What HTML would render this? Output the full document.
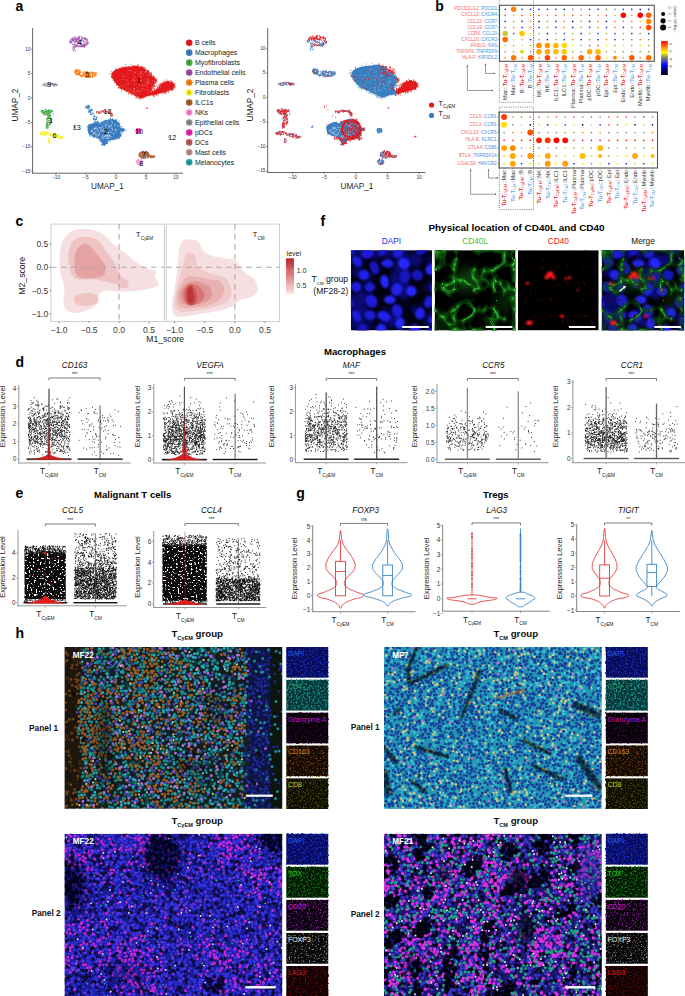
<!DOCTYPE html>
<html><head><meta charset="utf-8"><title>Figure</title>
<style>html,body{margin:0;padding:0;background:#fff;}svg{display:block;}</style></head>
<body><svg width="685" height="996" viewBox="0 0 685 996" font-family='"Liberation Sans", sans-serif'>
<defs><filter id="bl1" x="-50%" y="-50%" width="200%" height="200%"><feGaussianBlur stdDeviation="1.2"/></filter>
<filter id="sf1" x="0" y="0" width="1" height="1" color-interpolation-filters="sRGB"><feTurbulence type="fractalNoise" baseFrequency="0.05" numOctaves="2" seed="13"/><feColorMatrix type="matrix" values="0 0 0 0 0.04 0 0 0 0 0.04 0 0 0 0 0.44 5 0 0 0 -2.19"/></filter>
<filter id="sf2" x="0" y="0" width="1" height="1" color-interpolation-filters="sRGB"><feTurbulence type="turbulence" baseFrequency="0.05" numOctaves="2" seed="23"/><feColorMatrix type="matrix" values="0 0 0 0 0.04 0 0 0 0 0.26 0 0 0 0 0.04 -6 0 0 0 1.74"/></filter>
<filter id="sf3" x="0" y="0" width="1" height="1" color-interpolation-filters="sRGB"><feTurbulence type="turbulence" baseFrequency="0.05" numOctaves="2" seed="23"/><feColorMatrix type="matrix" values="0 0 0 0 0.12 0 0 0 0 0.58 0 0 0 0 0.12 -10 0 0 0 1.3"/></filter>
<filter id="sf4" x="0" y="0" width="1" height="1" color-interpolation-filters="sRGB"><feTurbulence type="turbulence" baseFrequency="0.05" numOctaves="2" seed="23"/><feColorMatrix type="matrix" values="0 0 0 0 0.23 0 0 0 0 0.82 0 0 0 0 0.23 -24 0 0 0 1.2"/></filter>
<filter id="sf5" x="0" y="0" width="1" height="1" color-interpolation-filters="sRGB"><feTurbulence type="turbulence" baseFrequency="0.06" numOctaves="2" seed="33"/><feColorMatrix type="matrix" values="0 0 0 0 0.23 0 0 0 0 0.02 0 0 0 0 0.02 -16 0 0 0 0.96"/></filter>
<filter id="sf6" x="0" y="0" width="1" height="1" color-interpolation-filters="sRGB"><feTurbulence type="fractalNoise" baseFrequency="0.05" numOctaves="2" seed="13"/><feColorMatrix type="matrix" values="0 0 0 0 0.04 0 0 0 0 0.04 0 0 0 0 0.44 5 0 0 0 -2.19"/></filter>
<filter id="sf7" x="0" y="0" width="1" height="1" color-interpolation-filters="sRGB"><feTurbulence type="turbulence" baseFrequency="0.05" numOctaves="2" seed="23"/><feColorMatrix type="matrix" values="0 0 0 0 0.04 0 0 0 0 0.26 0 0 0 0 0.04 -6 0 0 0 1.74"/></filter>
<filter id="sf8" x="0" y="0" width="1" height="1" color-interpolation-filters="sRGB"><feTurbulence type="turbulence" baseFrequency="0.05" numOctaves="2" seed="23"/><feColorMatrix type="matrix" values="0 0 0 0 0.12 0 0 0 0 0.58 0 0 0 0 0.12 -10 0 0 0 1.3"/></filter>
<filter id="sf9" x="0" y="0" width="1" height="1" color-interpolation-filters="sRGB"><feTurbulence type="turbulence" baseFrequency="0.05" numOctaves="2" seed="23"/><feColorMatrix type="matrix" values="0 0 0 0 0.23 0 0 0 0 0.82 0 0 0 0 0.23 -24 0 0 0 1.2"/></filter>
<filter id="sf10" x="0" y="0" width="1" height="1" color-interpolation-filters="sRGB"><feTurbulence type="turbulence" baseFrequency="0.06" numOctaves="2" seed="33"/><feColorMatrix type="matrix" values="0 0 0 0 0.23 0 0 0 0 0.02 0 0 0 0 0.02 -16 0 0 0 0.96"/></filter>
<filter id="sf11" x="0" y="0" width="1" height="1" color-interpolation-filters="sRGB"><feTurbulence type="fractalNoise" baseFrequency="0.55" numOctaves="1" seed="40"/><feColorMatrix type="matrix" values="0 0 0 0 1 0 0 0 0 1 0 0 0 0 1 14 0 0 0 -8.41"/></filter>
<filter id="sf12" x="0" y="0" width="1" height="1" color-interpolation-filters="sRGB"><feTurbulence type="fractalNoise" baseFrequency="0.6" numOctaves="1" seed="50"/><feColorMatrix type="matrix" values="0 0 0 0 0.88 0 0 0 0 0.06 0 0 0 0 0.06 14 0 0 0 -9.76"/></filter>
<filter id="sf13" x="0" y="0" width="1" height="1" color-interpolation-filters="sRGB"><feTurbulence type="fractalNoise" baseFrequency="0.55" numOctaves="1" seed="43"/><feColorMatrix type="matrix" values="0 0 0 0 1 0 0 0 0 1 0 0 0 0 1 14 0 0 0 -8.41"/></filter>
<filter id="sf14" x="0" y="0" width="1" height="1" color-interpolation-filters="sRGB"><feTurbulence type="fractalNoise" baseFrequency="0.6" numOctaves="1" seed="53"/><feColorMatrix type="matrix" values="0 0 0 0 0.88 0 0 0 0 0.06 0 0 0 0 0.06 14 0 0 0 -10.45"/></filter>
<filter id="soft" x="0" y="0" width="1" height="1"><feGaussianBlur stdDeviation="0.45"/></filter>
<filter id="bl3" x="-50%" y="-50%" width="200%" height="200%"><feGaussianBlur stdDeviation="3"/></filter>
<filter id="bl6" x="-50%" y="-50%" width="200%" height="200%"><feGaussianBlur stdDeviation="7"/></filter>
<filter id="bl1h" x="-50%" y="-50%" width="200%" height="200%"><feGaussianBlur stdDeviation="0.9"/></filter>
<filter id="sf15" x="0" y="0" width="1" height="1" color-interpolation-filters="sRGB"><feTurbulence type="fractalNoise" baseFrequency="0.15" numOctaves="2" seed="101"/><feColorMatrix type="matrix" values="0 0 0 0 0.06 0 0 0 0 0.31 0 0 0 0 0.33 6 0 0 0 -3.28"/></filter>
<filter id="sf16" x="0" y="0" width="1" height="1" color-interpolation-filters="sRGB"><feTurbulence type="turbulence" baseFrequency="0.07" numOctaves="3" seed="110"/><feColorMatrix type="matrix" values="0 0 0 0 0.04 0 0 0 0 0.04 0 0 0 0 0.02 10 0 0 0 -6.54"/></filter>
<filter id="sf17" x="0" y="0" width="1" height="1" color-interpolation-filters="sRGB"><feTurbulence type="fractalNoise" baseFrequency="0.3" numOctaves="2" seed="202"/><feColorMatrix type="matrix" values="0 0 0 0 0.2 0 0 0 0 0.71 0 0 0 0 0.78 7 0 0 0 -3.94"/></filter>
<filter id="sf18" x="0" y="0" width="1" height="1" color-interpolation-filters="sRGB"><feTurbulence type="fractalNoise" baseFrequency="0.2" numOctaves="2" seed="302"/><feColorMatrix type="matrix" values="0 0 0 0 0.04 0 0 0 0 0.03 0 0 0 0 0.19 7 0 0 0 -4.07"/></filter>
<filter id="sf19" x="0" y="0" width="1" height="1" color-interpolation-filters="sRGB"><feTurbulence type="fractalNoise" baseFrequency="0.18" numOctaves="2" seed="404"/><feColorMatrix type="matrix" values="0 0 0 0 0.02 0 0 0 0 0.02 0 0 0 0 0.05 8 0 0 0 -4.81"/></filter>
<filter id="sf20" x="0" y="0" width="1" height="1" color-interpolation-filters="sRGB"><feTurbulence type="fractalNoise" baseFrequency="0.55" numOctaves="2" seed="500"/><feColorMatrix type="matrix" values="0 0 0 0 0.09 0 0 0 0 0.16 0 0 0 0 0.69 6 0 0 0 -3.09"/></filter>
<filter id="sf21" x="0" y="0" width="1" height="1" color-interpolation-filters="sRGB"><feTurbulence type="fractalNoise" baseFrequency="0.55" numOctaves="2" seed="501"/><feColorMatrix type="matrix" values="0 0 0 0 0.08 0 0 0 0 0.56 0 0 0 0 0.56 6 0 0 0 -3"/></filter>
<filter id="sf22" x="0" y="0" width="1" height="1" color-interpolation-filters="sRGB"><feTurbulence type="fractalNoise" baseFrequency="0.6" numOctaves="2" seed="502"/><feColorMatrix type="matrix" values="0 0 0 0 0.23 0 0 0 0 0.04 0 0 0 0 0.27 6 0 0 0 -3.38"/></filter>
<filter id="sf23" x="0" y="0" width="1" height="1" color-interpolation-filters="sRGB"><feTurbulence type="fractalNoise" baseFrequency="0.6" numOctaves="2" seed="503"/><feColorMatrix type="matrix" values="0 0 0 0 0.42 0 0 0 0 0.23 0 0 0 0 0.05 6 0 0 0 -3.18"/></filter>
<filter id="sf24" x="0" y="0" width="1" height="1" color-interpolation-filters="sRGB"><feTurbulence type="fractalNoise" baseFrequency="0.6" numOctaves="2" seed="504"/><feColorMatrix type="matrix" values="0 0 0 0 0.29 0 0 0 0 0.29 0 0 0 0 0.05 6 0 0 0 -3.18"/></filter>
<filter id="sf25" x="0" y="0" width="1" height="1" color-interpolation-filters="sRGB"><feTurbulence type="fractalNoise" baseFrequency="0.55" numOctaves="2" seed="520"/><feColorMatrix type="matrix" values="0 0 0 0 0.09 0 0 0 0 0.16 0 0 0 0 0.69 6 0 0 0 -3.09"/></filter>
<filter id="sf26" x="0" y="0" width="1" height="1" color-interpolation-filters="sRGB"><feTurbulence type="fractalNoise" baseFrequency="0.55" numOctaves="2" seed="521"/><feColorMatrix type="matrix" values="0 0 0 0 0.08 0 0 0 0 0.56 0 0 0 0 0.56 6 0 0 0 -3"/></filter>
<filter id="sf27" x="0" y="0" width="1" height="1" color-interpolation-filters="sRGB"><feTurbulence type="fractalNoise" baseFrequency="0.6" numOctaves="2" seed="522"/><feColorMatrix type="matrix" values="0 0 0 0 0.23 0 0 0 0 0.04 0 0 0 0 0.27 6 0 0 0 -3.38"/></filter>
<filter id="sf28" x="0" y="0" width="1" height="1" color-interpolation-filters="sRGB"><feTurbulence type="fractalNoise" baseFrequency="0.6" numOctaves="2" seed="523"/><feColorMatrix type="matrix" values="0 0 0 0 0.42 0 0 0 0 0.23 0 0 0 0 0.05 6 0 0 0 -3.18"/></filter>
<filter id="sf29" x="0" y="0" width="1" height="1" color-interpolation-filters="sRGB"><feTurbulence type="fractalNoise" baseFrequency="0.6" numOctaves="2" seed="524"/><feColorMatrix type="matrix" values="0 0 0 0 0.29 0 0 0 0 0.29 0 0 0 0 0.05 6 0 0 0 -3.18"/></filter>
<filter id="sf30" x="0" y="0" width="1" height="1" color-interpolation-filters="sRGB"><feTurbulence type="fractalNoise" baseFrequency="0.55" numOctaves="2" seed="540"/><feColorMatrix type="matrix" values="0 0 0 0 0.1 0 0 0 0 0.16 0 0 0 0 0.75 6 0 0 0 -3.09"/></filter>
<filter id="sf31" x="0" y="0" width="1" height="1" color-interpolation-filters="sRGB"><feTurbulence type="fractalNoise" baseFrequency="0.55" numOctaves="2" seed="541"/><feColorMatrix type="matrix" values="0 0 0 0 0.07 0 0 0 0 0.44 0 0 0 0 0.07 6 0 0 0 -3.09"/></filter>
<filter id="sf32" x="0" y="0" width="1" height="1" color-interpolation-filters="sRGB"><feTurbulence type="fractalNoise" baseFrequency="0.55" numOctaves="2" seed="542"/><feColorMatrix type="matrix" values="0 0 0 0 0.48 0 0 0 0 0.09 0 0 0 0 0.55 6 0 0 0 -3.28"/></filter>
<filter id="sf33" x="0" y="0" width="1" height="1" color-interpolation-filters="sRGB"><feTurbulence type="fractalNoise" baseFrequency="0.65" numOctaves="2" seed="543"/><feColorMatrix type="matrix" values="0 0 0 0 0.48 0 0 0 0 0.48 0 0 0 0 0.48 6 0 0 0 -3.38"/></filter>
<filter id="sf34" x="0" y="0" width="1" height="1" color-interpolation-filters="sRGB"><feTurbulence type="fractalNoise" baseFrequency="0.6" numOctaves="2" seed="544"/><feColorMatrix type="matrix" values="0 0 0 0 0.35 0 0 0 0 0.04 0 0 0 0 0.04 6 0 0 0 -3.18"/></filter>
<filter id="sf35" x="0" y="0" width="1" height="1" color-interpolation-filters="sRGB"><feTurbulence type="fractalNoise" baseFrequency="0.55" numOctaves="2" seed="560"/><feColorMatrix type="matrix" values="0 0 0 0 0.1 0 0 0 0 0.16 0 0 0 0 0.75 6 0 0 0 -3.09"/></filter>
<filter id="sf36" x="0" y="0" width="1" height="1" color-interpolation-filters="sRGB"><feTurbulence type="fractalNoise" baseFrequency="0.55" numOctaves="2" seed="561"/><feColorMatrix type="matrix" values="0 0 0 0 0.07 0 0 0 0 0.44 0 0 0 0 0.07 6 0 0 0 -3.09"/></filter>
<filter id="sf37" x="0" y="0" width="1" height="1" color-interpolation-filters="sRGB"><feTurbulence type="fractalNoise" baseFrequency="0.55" numOctaves="2" seed="562"/><feColorMatrix type="matrix" values="0 0 0 0 0.48 0 0 0 0 0.09 0 0 0 0 0.55 6 0 0 0 -3.28"/></filter>
<filter id="sf38" x="0" y="0" width="1" height="1" color-interpolation-filters="sRGB"><feTurbulence type="fractalNoise" baseFrequency="0.65" numOctaves="2" seed="563"/><feColorMatrix type="matrix" values="0 0 0 0 0.48 0 0 0 0 0.48 0 0 0 0 0.48 6 0 0 0 -3.38"/></filter>
<filter id="sf39" x="0" y="0" width="1" height="1" color-interpolation-filters="sRGB"><feTurbulence type="fractalNoise" baseFrequency="0.6" numOctaves="2" seed="564"/><feColorMatrix type="matrix" values="0 0 0 0 0.35 0 0 0 0 0.04 0 0 0 0 0.04 6 0 0 0 -3.18"/></filter></defs>
<g id="panelA">
<text x="15.5" y="10.6" font-size="14" font-weight="bold">a</text>
<g stroke="#555" stroke-width="0.9">
<line x1="32.6" y1="28" x2="32.6" y2="173.65" stroke="#555" stroke-width="0.9" />
<line x1="32.15" y1="173.2" x2="182.8" y2="173.2" stroke="#555" stroke-width="0.9" />
<line x1="31" y1="49.3" x2="32.6" y2="49.3" stroke="#555" stroke-width="0.7" />
<line x1="31" y1="73.65" x2="32.6" y2="73.65" stroke="#555" stroke-width="0.7" />
<line x1="31" y1="98" x2="32.6" y2="98" stroke="#555" stroke-width="0.7" />
<line x1="31" y1="122.35" x2="32.6" y2="122.35" stroke="#555" stroke-width="0.7" />
<line x1="31" y1="146.7" x2="32.6" y2="146.7" stroke="#555" stroke-width="0.7" />
<line x1="31" y1="171.05" x2="32.6" y2="171.05" stroke="#555" stroke-width="0.7" />
<line x1="56" y1="173.2" x2="56" y2="174.8" stroke="#555" stroke-width="0.7" />
<line x1="86" y1="173.2" x2="86" y2="174.8" stroke="#555" stroke-width="0.7" />
<line x1="116" y1="173.2" x2="116" y2="174.8" stroke="#555" stroke-width="0.7" />
<line x1="146" y1="173.2" x2="146" y2="174.8" stroke="#555" stroke-width="0.7" />
<line x1="176" y1="173.2" x2="176" y2="174.8" stroke="#555" stroke-width="0.7" />
</g>
<text x="30.4" y="50.8" font-size="4.8" text-anchor="end" fill="#333">10</text>
<text x="30.4" y="75.15" font-size="4.8" text-anchor="end" fill="#333">5</text>
<text x="30.4" y="99.5" font-size="4.8" text-anchor="end" fill="#333">0</text>
<text x="30.4" y="123.85" font-size="4.8" text-anchor="end" fill="#333">−5</text>
<text x="30.4" y="148.2" font-size="4.8" text-anchor="end" fill="#333">−10</text>
<text x="30.4" y="172.55" font-size="4.8" text-anchor="end" fill="#333">−15</text>
<text x="56" y="179.4" font-size="4.8" text-anchor="middle" fill="#333">−10</text>
<text x="86" y="179.4" font-size="4.8" text-anchor="middle" fill="#333">−5</text>
<text x="116" y="179.4" font-size="4.8" text-anchor="middle" fill="#333">0</text>
<text x="146" y="179.4" font-size="4.8" text-anchor="middle" fill="#333">5</text>
<text x="176" y="179.4" font-size="4.8" text-anchor="middle" fill="#333">10</text>
<polygon fill="#e31a1c" points="111.8,73.6 116.1,69.3 124.8,66.8 137.2,65.9 143.4,67.4 149.6,72.4 154.6,78 156.5,81 153.3,84.8 150.9,88.5 149.5,91.5 153,92 158,88.5 160.5,85 163.3,82.9 167.6,81 172.6,82.9 174.4,85.8 172.6,89.1 167,91.6 159.6,93.5 154.6,94.7 147.1,95.9 141,98.4 136,95.9 128.5,92.2 119.9,87.9 114.9,82.3 112.4,77.3"/>
<path fill="none" stroke="#e31a1c" stroke-width="0.9" stroke-linecap="round" d="M113.1 73h0m-1.9-1.7h0m3.3-.2h0m-2 1.6h0m-1 .6h0m2.3-.6h0m.5-1.7h0m1.5-.6h0m-1.7 1.1h0m.4 1h0m-1-1h0m2 .1h0m0-2.4h0m.3-1h0m4.6 .2h0m1.1 1h0m3.9-4.5h0m-6.1 3.5h0m1.5 .4h0m1-2.1h0m-2.4 2.5h0m-.4 .6h0m1.1-1.6h0m2.3-.1h0m8.7-3.9h0m4.7 1.4h0m-2.1 .3h0m-4.8 .8h0m4.4-1h0m-3.5 1.7h0m7.2-1.3h0m-11.1 1.9h0m8.5-1.8h0m-7.5 1.6h0m5.5-1.5h0m.8 0h0m5.6 .4h0m1.7 .6h0m-2.1-2.1h0m5.5 2h0m-3.3 .8h0m1.9-.7h0m-4.6-1.5h0m0-1.1h0m3.8 2.3h0m-.6 0h0m.7-.8h0m-.5 1.2h0m7.4 4.8h0m-1.3-1.5h0m-2.1-1.6h0m2.2 1.9h0m1.2 .3h0m-3.4-3h0m-1.1-.7h0m3.2 3.5h0m.3-.5h0m1.9 2.5h0m-.8-2.8h0m-.5 .9h0m6.3 6.5h0m-4.6-3.2h0m-.2-2.5h0m3.5 3.7h0m-1.6-2.3h0m-.3-.6h0m-.7 .2h0m2.6 3.1h0m.8 1.3h0m-1.6-.7h0m-1.2-2.2h0m2.5 2.5h0m1.6 3.4h0m-.8-2.6h0m1.9 1.9h0m-2-1.8h0m2.6 2.8h0m-1.7-.8h0m1.5-1h0m-2.6-.1h0m2.4 2.4h0m-.2-.4h0m-.8-1.8h0m-.8 .7h0m-.6 2.1h0m-.9 1.3h0m.8 .3h0m1.5-3.7h0m-.2 2.6h0m-3.2 2.7h0m3.2-2.3h0m.7 0h0m-3.9 .5h0m3.1-1.5h0m-1.4 2.8h0m1.8-1.9h0m-4 5.1h0m-.1-1.7h0m-.7 1.7h0m-.1 1.2h0m-.5-3.2h0m1.4-.5h0m1 1.3h0m-2.5-.3h0m2.9-.4h0m-1.5 2.4h0m.4-.8h0m-.3-2.1h0m-1.9 4.8h0m1.8-.6h0m-1.2 1.7h0m-1.5-1.4h0m.8-.1h0m1.1-1h0m-.3 1.2h0m.8-.2h0m-.8-.9h0m-.1 .8h0m-1.8 1.4h0m2.7-2.5h0m2.5 3.7h0m-2.7-1.7h0m.6 1.4h0m-1.2-.6h0m.2-.1h0m-.4 .7h0m1.7 .9h0m-.6-.7h0m-1.7-.9h0m2.2 1.7h0m-1.9-1.9h0m.3 .6h0m4-1.1h0m.6-.4h0m-.9 2h0m.2-2.1h0m4.2-.7h0m-1.3 0h0m-1.3 1.8h0m1-1.4h0m-1.2 1.1h0m-.3-.1h0m-2.4 .4h0m3.3-.8h0m2.1-5h0m2.2-.5h0m-.8 .3h0m-1 2.4h0m-.8 2.5h0m1.1-3.4h0m-.2 .8h0m.5-.9h0m.6-1.4h0m-2.5 2.6h0m-.7 1h0m2.6-1.1h0m2.5-4.2h0m2.1-.5h0m-2.3 1.6h0m-.5 1.2h0m2.3-2.3h0m-3.3 1.7h0m.8-1.6h0m1.1 .2h0m-1 1.1h0m-1.2-.9h0m3.1 0h0m-1.6 .2h0m5.6-2.9h0m.1 .6h0m-2.4 .3h0m1 1.4h0m-2.9-1h0m1.3-.9h0m-.2 1.4h0m3.8-1.6h0m-3.6-.3h0m-.5 2.2h0m1.4-1.3h0m1.3-2.1h0m5.9 4.8h0m-.9-2.4h0m-2.5-1h0m1.8-.1h0m-2.4 .3h0m2.9 .2h0m-2.9 .7h0m2.9-1.9h0m1.4 2.6h0m-.9-.6h0m-.6 .4h0m-2.8-1.4h0m4.5 .5h0m.1 1h0m-1.4 .1h0m2.2 1.5h0m.9 .5h0m-.6-1.1h0m1.1-.3h0m-2.1-.9h0m.9 1.6h0m-.7-.2h0m.1-.6h0m1.1 1h0m-2.3 4h0m.7-.3h0m2-.8h0m-2 .3h0m.9-.5h0m-.9-1.4h0m1.4-.1h0m.3-.1h0m-.8 2.2h0m1.4-1.4h0m-1.9 2h0m1.9-1.6h0m-2.3 2.8h0m-3.9 1.2h0m5.1-2.4h0m-2.6 1.8h0m-1.3 .1h0m1.5-.5h0m1.1 .2h0m-4 2.2h0m-.6-.6h0m4.5-2.6h0m.5 1.1h0m-2.7-.7h0m-9.1 3.3h0m1.9 1.1h0m-1.9-1.3h0m4.6-1.7h0m.5 2h0m-.5-1.5h0m-1.6 1.1h0m-1.3 .7h0m2.2-.1h0m-4.5-1.3h0m4.4 1.3h0m.4-.5h0m-9.1 .7h0m-1.3 .7h0m3-.4h0m-1.2 .8h0m1.3 1.2h0m-3.4-.9h0m3.3-1.1h0m-.4-.6h0m-1.6 1.6h0m1.1-.6h0m-.7 1h0m.5-2.3h0m-6.8 3h0m-2.8-.1h0m3.5-.8h0m5.3-.3h0m-3.6 .6h0m1.1 .5h0m-5.1 .2h0m4.9 .5h0m.5-.2h0m-.1-1h0m-1.9-.5h0m2.1 1.5h0m-9.7 1.2h0m1.7-.9h0m-.6-1.5h0m-5.8 3.6h0m3.6-.2h0m-.5-1h0m3.6-1h0m-4.5 2.1h0m1.3-1.4h0m3.5-1.3h0m-.6-.1h0m-1.3 1.5h0m-8.1-.9h0m-.8-.8h0m-.3 2h0m1.3-.3h0m1.9 1h0m2 1.8h0m-2.9-3.8h0m-.5 2.2h0m1-2h0m-.8-.4h0m-.9 1.9h0m3 .1h0m-10.6-3.8h0m1-1.6h0m-1.1-1.3h0m3.8 2.8h0m-1.5 .1h0m-.7-2.7h0m3.6 4.2h0m1.1 .1h0m-5.1-2.4h0m5.4 1.8h0m-4.1-.1h0m-3-1.6h0m-9.3-4.7h0m2.5 1.9h0m2.8-.2h0m-3.9-1.9h0m5.3 1.1h0m.4 2.3h0m-6.1-4.2h0m1.6 .8h0m2.9 1h0m1.6 2.1h0m-4.8-2.3h0m.9-.8h0m-6-5.6h0m1.2 1.1h0m1.2 3.4h0m-2.1-2.7h0m.6 0h0m-1.1-2.2h0m.5 2.6h0m.6-1.9h0m1.4 2.4h0m-.5 2.1h0m-1.8-5.1h0m-1.5-.1h0m-1.2-4.1h0m-.2 1.5h0m-.4 .2h0m2.4 1.8h0m-2.3-3.8h0m.7 2.9h0m0-2h0m-.6-.9h0m-.2 0h0m0-.1h0m-.8-.3h0m2.9 3.1h0m-3.9-3.7h0m-.1-2.3h0m1.3 2h0m-.7-1.5h0m.7 1.7h0m-.5 .5h0m-.5-.8h0m-1.5-2.8h0m2.6 2.7h0m0 .4h0m.3-2.5h0m-1.3 1.8h0m44 10.2h0m-4.3 4.3h0m3.4-7.7h0m2.2 6.5h0m-4-.9h0m4.6-2.1h0m-3.9-.9h0m.9 3.3h0m1.5 2.5h0m-4.7-5.2h0m5.6 3.8h0m-2.1-1h0m-2 2.4h0m1.7-4.9h0m-2.9-2.6h0m5.7 6.2h0m-7-4.3h0m3.6 1.6h0m-.9 3.6h0m-.1-3.3h0m4.6 1h0m-3.6-2.8h0m-.7 2.5h0m3.2-3.2h0m-3.3 1.2h0m-.1 4.7h0m1.4-5.7h0m-1.6 4.9h0m-1.4-1.2h0m-1.1-4.5h0m.3 5.6h0m.7-5.2h0m-.7 .3h0m5.4 4.1h0m1.4 2h0m-2.9-.2h0m-3.7 0h0m2.8-6.6h0m2.5 6h0m-2.9-6.9h0m-6.3 24.1h0m.5 .4h0m-.8 .3h0" />
<polygon fill="#3b7cbf" points="87.6,128 89.3,125.1 94,122.8 97.5,122.2 99.9,123.9 103.4,121.6 106.9,119.9 112.1,119.3 116.2,120.4 119.1,123.4 120.3,128 123.8,128.6 124.4,130.4 120.3,132.1 120.9,136.2 117.4,138.5 112.7,139.7 108,140.3 106.3,144.4 102.8,145 101.6,141.5 97.5,137.4 92.8,136.2 88.8,133.9"/>
<path fill="none" stroke="#3b7cbf" stroke-width="1" stroke-linecap="round" d="M87.2 105.6h0m1.5-.3h0m-.5 1.2h0m-2.1 .5h0m-.1-.3h0m1.7 1.6h0m-1.4-2.4h0m2.3 2.9h0m-.3-2.2h0m1.3-.4h0m-2.4 2.1h0m-.6-1h0m2-.8h0m-.4-1.2h0m.6 1.4h0m-1.6 .6h0m.6-1.1h0m1.5 1.6h0m-2.4-.5h0m1.2 1.2h0m.9-2.3h0m-1.4 1.8h0m-1.1-1h0m-.5 .7h0m3.2-.4h0m.5-1h0m-.8 1.1h0m-.5-.6h0m-.5 .9h0m-1.8 .1h0m6.5 2.9h0m-2.2 2.3h0m-1.8-1.2h0m.5-1.3h0m1.4 3.7h0m-1.6-2.5h0m2.3 2.6h0m1.4-.1h0m-2.7-2.7h0m.4 2.8h0m-.9-3.9h0m.3 1.5h0m1.7-1.3h0m-1.1 1.8h0m3 .7h0m-2.2-.4h0m.8-3.4h0m1.1 4.4h0m-.1 .1h0m-2.4-2.4h0m-1.5 1.4h0m.5-2.8h0m.7-.7h0m-1.2 1.9h0m2.6-1.3h0m-1.8 1.2h0m.5-1.4h0m.5 2.2h0m-.6-1.3h0m2.4-.6h0m-1.5-.1h0m.1-.7h0m-.1 5.7h0m1.7-1.7h0m-3-2h0m3.9 8.2h0m1.4 0h0m-.8-2.8h0m2.1 2.9h0m-.1-.3h0m-2.4-1.1h0m.5-2.5h0m-.4 3.4h0m2.8-1.3h0m0-.4h0m-2.9-.7h0m-.1-.1h0m1.7 3.5h0m.9-2.1h0m-.8 1.6h0m-2.3-.7h0m3.3 .6h0m-.6-1.5h0m-2.3 1.5h0m.6 .1h0m2.6-2h0m-2.3 2.7h0m1.3-3.8h0m-2.3 3.2h0m.8-1.4h0m12.2 25.3h0m-2 .9h0m-.4-.2h0m1.7-2.1h0m-2.5 .2h0m0 1h0m0-.6h0m.5 .2h0m1 1.4h0m-.7 0h0m.3-1.2h0m.1-1.6h0m-.4 .5h0m-1.1 .9h0m2.4 .3h0m-1.8-.1h0m1 .8h0m-1.9-.7h0m.6-.9h0m2.3 .7h0m-16.6-18.5h0m.4 .7h0m-.6 2.6h0m.1-1.4h0m-1.9 .4h0m.9-.1h0m-.1 .4h0m2.3-.1h0m2.6-3.1h0m-3.5 1.8h0m-.8-.9h0m-.2 .7h0m2.3-1.3h0m1.2 .1h0m2.9-2.6h0m-2.5 2.4h0m3.1-1.6h0m1.7-1h0m-2.8 .6h0m1.1-.2h0m1.8 .2h0m-.3-.3h0m-1.7 2.3h0m2-3h0m2.5 2.2h0m-.4 1.1h0m-.8-2.6h0m0 .7h0m1.3 .9h0m-1.7-.6h0m-.6 1.1h0m.4-1.9h0m4.1 2.2h0m-.5-1.8h0m.9-.4h0m-.8 .3h0m.6 .8h0m3.3-2.2h0m-5.2 1.5h0m1 .1h0m4.4-1.8h0m-1.8 .3h0m3.9 .1h0m-2.4-.8h0m0 .6h0m1.7-.5h0m-2.4-.1h0m-1.8 1.4h0m7.8-2.9h0m1.3 .9h0m-.4 0h0m-2.2 .3h0m1.2-.5h0m-1.9 0h0m1.6-1.4h0m.1 .7h0m5 1.6h0m.9-1.1h0m-1 1.6h0m1.8-1.1h0m-4.6-1.1h0m1.5 1.4h0m-.4-.3h0m-1-.5h0m6.2 4.1h0m.5-2.4h0m-4.2-1.1h0m1.7 1.5h0m-.3-.6h0m0-.2h0m2.3 2h0m-.3 0h0m1.4 4.2h0m-.5 1.1h0m.3-3.4h0m-.9-1.2h0m2 3.3h0m-1.4-1.6h0m.5 2h0m0-3.4h0m3.5 5.8h0m-4.3-.6h0m3.4-.5h0m-.8 1h0m-.4-1.5h0m1.6 .7h0m0 .7h0m-1.3-2.9h0m2.4 1.9h0m-.7 1.4h0m3.4 .6h0m-2.7-.8h0m-.3 .3h0m.7 .9h0m.1-1h0m.3 1.1h0m-3.3 .4h0m1 .2h0m.4 1h0m.8-2h0m-.3 .4h0m-.2-.2h0m-1.1 .4h0m1.2-.1h0m-2.5 2.2h0m.7 1h0m-1.1 .6h0m.6 1.7h0m-1.1-1.6h0m.5 .5h0m1-2h0m-.1 2.4h0m-1.1 .7h0m.4-1h0m-.9 3h0m-.4-1.4h0m-1 1.4h0m1.4-.9h0m-.5 .4h0m.6-1.4h0m-4.5 1.9h0m2.3 .8h0m-4.5 .4h0m1.6-.4h0m-1.6 .2h0m4.2-1h0m-1.5 1.4h0m.7-2h0m-6.2 2.3h0m-.8-.2h0m2.7 .4h0m-3.4 .8h0m2.1-1.6h0m-2.8 .9h0m4.1-1.9h0m-1.6 2.9h0m-3.2 2.4h0m-.2-.6h0m2-3h0m-.6 .8h0m-3.5 2h0m2.8-.3h0m-.9-1.6h0m-.1 1.3h0m-2.5 3h0m-.5-.6h0m.5 .9h0m1.2-2.1h0m-2.5 1.3h0m-.6 .1h0m2 .3h0m-2.1-.2h0m-.4-.5h0m-.2 .3h0m.4-1.9h0m-.8-1.5h0m.5 .9h0m.8 2.6h0m-2-3.4h0m1.2-.4h0m-.6-.2h0m-3.3-2.4h0m1.5 2h0m-.7-3.8h0m.6 3.3h0m-1.5-2.1h0m3.9 1.8h0m-.6-.7h0m-5.2-1h0m.9 0h0m-2.1-.6h0m2.3-.2h0m-.6-.2h0m-3 .4h0m1.2-.6h0m-.7-.6h0m-1-1.7h0m-1.8 .7h0m1 .4h0m-2.5-1.4h0m2.9 2.3h0m-2.4-.1h0m2.8-.5h0m-3.5-.7h0m.2-3.2h0m-1.9-1.7h0m.8 .8h0m0 1.5h0m-.2-4h0m.1 2.7h0m.1 .3h0m-.2-3.1h0" />
<path fill="none" stroke="#d45a5a" stroke-width="1" stroke-linecap="round" d="M99.4 112.9h0m2.1-.7h0m-1.8 .1h0m-.6 .5h0m-.4-.4h0m.2 1h0m1.3-.2h0m-.8 .2h0m1.6-2h0m-4.3 .8h0m-.3-.5h0m0 1h0m4.3 .6h0m-3.8-.5h0m3.1-1.4h0m-1.6 .9h0m-1.4-.2h0m2.1-.2h0m-1.9 0h0m2.1 .3h0m.4 .1h0m-3.1-.6h0m1-.3h0m.9 1.9h0m2.4-1.6h0m3.5 .3h0m.7-.7h0m-.3 .9h0m-1.1-1.1h0m.6 1.4h0m-1.7-1.9h0m1.6 .3h0m-1.3 .1h0m2.7 0h0m-1.6-.3h0m1.4 .9h0m-3.3-.2h0m3.8-.1h0m-1.9 1h0m-.6-.8h0m-.3 .8h0m2.1-.5h0m-1.8-.7h0m-2 1h0m1.1-1.4h0m3.7 1.2h0m-3.5-1h0m.1 .5h0m-.9 0h0m4.9 .2h0m1.2 0h0m.9 .4h0m-1.4 0h0m-.6-.3h0m1.1-.5h0m1.4 .9h0m.9 .4h0m-.2 .6h0m-1.7-1.6h0m1.7 .9h0m.9 0h0m-.8 .5h0m-3-.8h0m1.8 .9h0m1.5 0h0m-1.1 .2h0m.5-.6h0m-2.7-1h0m2.1 .8h0m.3 .1h0m-.7-2h0m1.6 2.2h0m-1.5-.6h0m.8-1.4h0m.4 .6h0m.2 3h0m1.7-.3h0m-.6 .9h0m-.1 1.5h0m.8-.3h0m-.3-2.7h0m-1.3 .9h0m1.5 .2h0m-.4-1.4h0m-1.3 1.2h0m1.5 2.2h0m.1-2h0m-.5 .8h0m-.1-1.7h0m1.1 .4h0m-2.3 1.3h0m1.2-1h0m-.7 1.6h0m-.1-.3h0m1.7-.1h0" />
<path fill="none" stroke="#9b4fa8" stroke-width="1" stroke-linecap="round" d="M86.5 44h0m-12.5 2.2h0m4.8-9.6h0m-9.1 5.1h0m8.5-2.1h0m-5.9 .5h0m3.3 5.4h0m11.6-1.4h0m-.5-4.6h0m-10 1.1h0m-.2 .4h0m-1.5 5.6h0m-.7-7.4h0m5-.8h0m-2.6 8.4h0m9.7-1.6h0m-4.8 1.1h0m5.9-4h0m-4-1h0m.4 2.1h0m-8.9-6.6h0m3.6 3.3h0m-3.3 4.3h0m6.8-4.8h0m-1.9 1h0m-7.4-2.5h0m6.2 .6h0m-.9-.9h0m-2-.5h0m-2 1.8h0m6.3 7h0m3.4-5.3h0m-6.3 1.3h0m-.7-2.1h0m-6-.6h0m8.4 3.8h0m6.8-4.5h0m-11.3 .3h0m2.5 2.2h0m9.4 .3h0m-9.6 5h0m8.3-.8h0m-5.8-1.9h0m8 .4h0m-5.6 .5h0m-3.6-2.3h0m-4.3 4h0m7.9-6.8h0m-9.9-.5h0m9.7 4.9h0m-2.1-1.3h0m-2.6-3.9h0m4-2.4h0m-5.7 5h0m12.5 2h0m-1.4-1.9h0m-12.3-2.5h0m5 4.7h0m-1.5-4.6h0m4.7 7.4h0m-6.3-5.6h0m6.6-2.4h0m2.1 5.9h0m-5.5-5.8h0m6 .2h0m-11.4 5.9h0m1.4 2.1h0m3.8-8.4h0m-5.2 2.5h0m8.4 5.8h0m-9.8-6.1h0m-1.7 0h0m16.6-.7h0m-5.1 .6h0m-5.5-.6h0m-1.8 .3h0m1.5 5.1h0m8.8-4.2h0m-14.7 .4h0m6.2 4.9h0m-3.4-6.1h0m4.1 4.9h0m9.7-6.1h0m-3.3 7.1h0m-7.8-6.9h0m11.8 3.8h0m-13.2 1.1h0m1-4.9h0m11.4 4h0m-13-1.8h0m2.9-2.4h0m.9 2.6h0m7 2.7h0m.4 .4h0m-4.1-4.9h0m-5.4 .4h0m-2.4 4.3h0m-3.1-2.2h0m4.4-5.2h0m-3.2 4.6h0m11.7-.6h0m-9.1-.3h0m7.4 2.8h0m2.4 1.9h0m-1.6-8h0m3.4 1.9h0m-5.2 .9h0m3.2-1.9h0m-9.3 .5h0m6.3 .9h0m-1.4-1.1h0m5.8 4.7h0m-6.4 1.8h0m-6.7-6.9h0m16.2 4.3h0m-.8-2.3h0m-1.2 .8h0m-11.6 3.7h0m6.4-1.8h0m-7.2-2.7h0m-1.4-1.9h0m2.1 4.4h0m7.6-4.4h0m.5-.2h0m-7 .2h0m9.2 3.8h0m-7.6 .1h0m4.6-5.1h0m-9 6.6h0m4.7-4.5h0m-2 7.4h0m.1-4.3h0m.9-1.6h0m.1-2.4h0m6.9 0h0m-5.7 6.8h0m-.4 .7h0m1.1-7.9h0m-8.5 4.3h0m11.9 3.9h0m-10.5-3.2h0m5.3-1.3h0m-4.2-2.4h0m7.1 7.1h0m-7.8-4.8h0m1.6-4h0m5.5-.8h0m8.4 3.7h0m-.4 2.5h0m-1.5-5h0m-.8 .6h0m-7.2 6.9h0m8.1-7.3h0m-11.7 2.4h0m5.7-.2h0m-7.5-1.5h0m11.5 7.2h0m-13-3.7h0m10.6-.1h0m.5-2.7h0m-3.9 3h0m.1 .8h0m.4-2.4h0m-8.1 2h0m8.9-4.2h0m5.2 6h0m-5.8-6.6h0m.3-.8h0m-6.6 3.5h0m-.7 .2h0m8-4.5h0m2.4 .5h0m1.8 7.7h0m-4.2-8h0m-.1 3.6h0m4.3 4.8h0m-4.6 1.5h0m-8.1-6.6h0m13.2-2.2h0m2.6 1.3h0m-1.5-1.4h0m-6 8.5h0m-5.5-7.2h0m5.6 .6h0m3.3 6.3h0m-9.7-1.2h0m-1-2.8h0m9.9-1.8h0m4.5 2.1h0m-5.6 3.6h0m1-5.4h0m3.2-1.4h0m3.6 3.5h0m-12 2h0m1.6-6.5h0m7.2 .9h0m-4.5 4.5h0m.6-2.5h0m-2 5.1h0m-7.2-7.4h0m.7 9.3h0m.4 1.4h0m1.1-2.3h0m.1 1.6h0m-1.2-1.9h0m-.4 2.9h0m2.3 .9h0m-1.4-3.1h0m.5 .5h0m.2 .6h0m.9 1.7h0m-2.1 1h0m7.1-5.3h0m2.1-1.1h0m-2.3 1.2h0m1.1 .2h0m1.8 .2h0m1.9-1.9h0m-3 .5h0m2.8 1.7h0m-.2-1h0m0-.1h0m-3.1-1.4h0m.6 2.6h0m2.2 .4h0m.1-2.3h0m-1 .6h0m1.4 .4h0m-3.1 .5h0m0-1.7h0m2.9 .4h0m.8 0h0" />
<path fill="none" stroke="#ff7f0e" stroke-width="1" stroke-linecap="round" d="M76.1 74.7h0m2.4-1.4h0m-1 1h0m1.4 .1h0m-1.6-.9h0m.8-2.6h0m-2.1 2h0m.8-3.1h0m2.1 3.2h0m0 .6h0m-3.8-.9h0m1.8 1.4h0m-1.6-3.9h0m4.5 3.9h0m-1.3 .1h0m0-3.5h0m.7-.5h0m-2.6 1.4h0m-.2 1.9h0m.5-2.5h0m3.6 1.1h0m-.7 .8h0m-4.9-1.4h0m2.4 2.3h0m-.5-.4h0m1.1-3.1h0m1.7-.3h0m-4.9 2h0m2.9 2h0m-1.8-1.9h0m1 2.1h0m-.4-3.9h0m2.5 1.8h0m-3.5 .9h0m3.5 .9h0m-.4-2.7h0m-1.4 .2h0m-1.2-.8h0m4.2 1.5h0m-3.1 2.5h0m-.9-2.8h0m1.8 1.9h0m1.3-.7h0m-2.4-2h0m-1.2 3.3h0m3.1-.7h0m-3-1.9h0m3.6 .9h0m-3.8-.7h0m4.5-1.5h0m-4.2 .4h0m3.1 3.5h0m-3.3-4.4h0m.6 1.1h0m1.6-1.1h0m-1.1 .2h0m-1.4 1.3h0m3.8 .3h0m-3.2 1.3h0m-.6-2.8h0m1.7-1.1h0m.1 4.9h0m1.8-1.9h0m-.4-.2h0m-2.9 .9h0m1.5 .8h0m3-1.9h0m-2 2h0m-.9-3.3h0m1.8 4.1h0m.3-1.1h0m.5-.2h0m-1.3-1.4h0m-1.9 1.1h0m-1.3-1.3h0m4.1 1.9h0m-.9-3h0m-1.3 1.3h0m1.2-.3h0m.4 3.4h0m3 .6h0m10.1-1.7h0m-4.9 3.7h0m-7.7-2.7h0m2.1 1.5h0m13.3-1.7h0m-14.3 .4h0m7.5 .9h0m-.5-.5h0m5.4-.8h0m-7.1 2.8h0m-3.4-1.7h0m3.1 .5h0m-.7-4.5h0m-1.3 2.2h0m-4.5 .1h0m6.9 1.8h0m-1.1-2.8h0m-2.2 3h0m12.2-1.3h0m-12.3 1.7h0m3-3.7h0m-4.5 3.6h0m11.6-.9h0m-5.8-.5h0m-2 .5h0m7.9 1.1h0m-5.9-3.3h0m1.3-1.1h0m4.9 1.5h0m.3-.6h0m-8.1-.1h0m.8-.4h0m-2.4 .4h0m.3 1.5h0m2.2 1h0m3.9-1.8h0m4.2 2.7h0m-13 .3h0m8.8-3.7h0m-7.2 3.4h0m1.9-4h0m9.5 4.1h0m-5.1-.1h0m1.1 .7h0m2-.3h0m-10-1h0m5.6 .3h0m-1.5 .9h0m1.9-3.9h0m-5.4-.8h0m4.4-.5h0m-.5 .5h0m.5 2.3h0m.8 2.3h0m-1.2-1.9h0m3.3 1.8h0m-4.9-2.7h0m4.4 1.4h0m-10.3-.2h0m11.1 2.1h0m-2.9-2.9h0m3.5 .9h0m-6.4 1.5h0m.4-2.5h0m2.7 1.9h0m-5.3-2.1h0m3.6 .7h0m6.9-1.6h0m0 .7h0m-5.5-.9h0m0 4.5h0m2.5-1.1h0m-5.5-3.1h0m-.5 1.8h0m5.7 1.2h0m4.3-1.5h0m-14.3-1.6h0m14.9 2h0m-4.5 1.1h0m4.3-1.1h0m-5 .1h0m1.3-.2h0m-.2-2.4h0m-.3 1.5h0m1.7-2.3h0m.2 5.3h0m-2.1-3.5h0m2.9 2.6h0m-4.4-3.3h0m-4.5 1h0m.3 .1h0m5.5 3.2h0m-10-2.4h0m12.9 .1h0m1.8-.8h0m-15.4-.4h0m9.9 3.5h0m6.6-3h0m-9.7-2.3h0m4 .7h0m1.2 .2h0m.3-.4h0m-.4 4.3h0m.3-5h0m-1.7 4h0m-2.9 1.5h0m-2.5-1.3h0m-2.5 .8h0m5.5-5.1h0m-2.1 3.3h0m1.3 .6h0m-5 .8h0m3.7-1h0m4.5-1.4h0m-4.1 2.3h0m3-3.1h0m2.4 3.4h0m-6.4-1.4h0m4.6-1.9h0m-2.9 3.7h0m-.9-1.3h0m3.8 1.3h0m3.5-3.9h0m-6.5 2h0m6.7 1.9h0m-.1-.1h0m-4.1-3.8h0m4.8 3.4h0m-2.9 .6h0m-5.7-5.3h0m3.5 4.6h0m-6-.3h0m6.9-.5h0m-2.4-3h0m-3.6 3.5h0m9.2-1.9h0m-.4-1.4h0m-3.2 4.2h0m5.1-2.4h0m-6.9 .5h0m-4.9-2.6h0m-.1 3.3h0m3.1-.9h0m.6-.3h0m-5 .7h0m11.6-3h0m-3.2 1.2h0m-1.4-2.1h0m5.9 3h0m2-1.4h0m1.3 .7h0m-3.5-1h0m2.1 2.8h0m-.6 .3h0m.9-2.2h0m-2.1 .7h0m2.3 1.5h0m.2-2.2h0m-1.3-1h0m-1.2 .8h0m3.2 1.4h0m-.6-1.6h0m-.6 1.8h0m-2.9-1.7h0m.9-.8h0m1.4 .2h0m-1.5-.1h0m2.9 .2h0m-3.5 1h0" />
<path fill="none" stroke="#8f8f8f" stroke-width="1" stroke-linecap="round" d="M53.8 85.2h0m-5.5-1.1h0m5.2 .5h0m-2.7-1.2h0m1.2 1.5h0m-6.3-.5h0m-1.5-.5h0m9.6 .2h0m-9.5 .6h0m2.2 1.5h0m4.9-2.5h0m-2.7 .2h0m-3.1-.3h0m-2.2 .3h0m8.8 .1h0m1.1 .1h0m.4 .7h0m-9.1-.3h0m10.2-.8h0m-4.8-.3h0m-5.5 2.3h0m7.5-2.1h0m-1.5 1.1h0m-4.7-1.1h0m4.8 1.8h0m2.8-.4h0m-1.1-.6h0m-.2-1.3h0m1.2 1h0m.5 1.9h0m-4.9-3h0m5.8 1.6h0m-.5-.7h0m-9.6 2h0m2.5-2.4h0m.1 1.5h0m-5.1-.2h0m6.1 0h0m-4.5 .7h0m9.7 .5h0m-6.9-.5h0m.8 .1h0m8.1-.9h0m-6.2 .1h0m.3-1.8h0m-4 2.8h0m6.3-2.2h0m-9.6 1.5h0m7.9-.3h0m1.7-1.5h0m2.4 2.2h0m-5.3-.8h0m-3-1.4h0m1.8 .1h0m2.6 2.6h0m-6.2-1h0m8.4-1.5h0m-5.1 .9h0m6.4 .4h0m-6.3 1.5h0m8.9-2h0m-2.7 0h0m1 1.6h0m1.9-.4h0m-3.8-.8h0m.9-.2h0m2-.1h0m-.5-.7h0m-.5 1h0m2.5 .3h0m-.7 .6h0m-.8-1.5h0m.2 .1h0m-.7 1.5h0m.4-1.6h0m-.5 .4h0m2.2-.3h0m-3.3 .9h0m-.9-.2h0m4.2-.2h0" />
<path fill="none" stroke="#44a947" stroke-width="1" stroke-linecap="round" d="M42.9 111.8h0m2.4-1.9h0m-2.2 1.5h0m0-.9h0m-1.8 1.8h0m6.8 .4h0m-2.5 .2h0m-3.3 .4h0m2.3-1h0m1.4-.5h0m-2.7-1.3h0m-.8 1.6h0m1.4 .4h0m4.4-2.1h0m-2.8 1.5h0m-2.3 1.7h0m5.1-2h0m-7.2-.3h0m3.4 2.1h0m-3-3h0m.4 .6h0m1.8 2.1h0m2.3 1h0m1.9-2h0m-.8 1.4h0m.2-1.6h0m.3 1.4h0m-.2-.8h0m-2.4 2.3h0m.6-3.3h0m2 2.7h0m-1.6-2.9h0m-1.4 .4h0m2.4-.9h0m-3 1.5h0m0-1.4h0m3.6 3.2h0m-2.6-2.4h0m-2.8-.9h0m-.4 1.7h0m3.9-3h0m3.1 1.4h0m-.7 3.1h0m-3.8 .5h0m1.3-2.5h0m-.3 3h0m-.1-2.9h0m1.5-.8h0m-3 1.3h0m0 2.1h0m2.9-2.5h0m-5.2-1h0m2.7 1.2h0m1.6 1.9h0m3.5-2.4h0m-4.7 .8h0m.8 1.2h0m-3.3-3h0m3.1-1.2h0m3.5 3.4h0m-.1-1.6h0m-6.6-.8h0m3.2 1.3h0m-2.9-1.9h0m4 2.5h0m0-3.3h0m-2 4.4h0m-.9-.6h0m4.8-.6h0m-1.6-2.3h0m3.5 3.2h0m-1.9 .6h0m2.2 2.5h0m.3-4.1h0m1.5-2.2h0m-1.9 5.1h0m.7-.2h0m1.3-3.3h0m-.5 .2h0m-4.3-.6h0m3.3 .5h0m-1.1 .3h0m1.1 4h0m-1.2-2.4h0m-1 2h0m4-4.2h0m-1.7 4.6h0m-.8-.1h0m-2.1-3.9h0m3.8-1.2h0m-3.2 4.6h0m1.4-.6h0m-2-4.3h0m1 .1h0m1.6-.5h0m-.2 1.9h0m-1.1-2.2h0m-2.2 5.3h0m1.8-4.1h0m-1.3 .3h0m3.8 .4h0m-4.1 2.5h0m-.5-3h0m2.8 4h0m2.9-4.8h0m-3.6 4h0m.2 1.6h0m1-5.1h0m-.4-.7h0m2.1 .9h0m1.5 2.3h0m-4.3-2.4h0m2-.2h0m-.8 2.3h0m-1.9 1.6h0m.9-.8h0m1.4-2.4h0m-1.4-1.6h0m-1.7 5.4h0m1.2-1.4h0m-1.7-.7h0m2-.4h0m-.5-3h0m.1 1.1h0m-1.5 3.4h0m1.3-2.2h0m5 2.6h0m-6.2-3.5h0m4.2 .6h0m-2 2.1h0m.7 4.4h0m.7 1h0m-1.1-1.7h0m.6 5.3h0m-2.9-5.1h0m.7 1.8h0m-1.3-.7h0m3-1.3h0m1 3.9h0m-.6-3.2h0m-1.4 4.3h0m2 1h0m.1-1.7h0m-3.7 1.8h0m3.1-7h0m-.2 3h0m.2 4.4h0m-2.3-7.4h0m3.3 3.3h0m0 2.7h0m-1 1.4h0m-.6-3.8h0m-2.8 2.5h0m1.8-1.9h0m1.4 3h0m-2.2-2.6h0m3.5 .9h0m-2.1-3.9h0m-2.4 1.1h0m1.8-1.6h0m-.5-.6h0m1.9 5.3h0m-2.3-4.3h0m1.4 2.1h0m2.1-1h0m-3.2 5.3h0m-.8-3.2h0m1 2.6h0m1-.6h0m-1.9-.9h0m2.2-2.1h0m.8 3.7h0m-3.2-5.4h0m1.2-.8h0m-1.5 .7h0m.7 4.2h0m1.2-5.9h0m-.6 3.6h0m.2-3h0m-1.4 5.5h0m4.5-1.6h0m-4.4-.7h0m1.7-3h0m.5-1.8h0m1.9 6.3h0m-1.5 3h0m.2-6.9h0m-2.1-1.1h0m3 1.6h0m-3.3 3.4h0m-1.4 5.3h0m2-.2h0m-1.5-3.4h0m1.5 .8h0m-1.4 1.4h0m0 1.7h0m.6-1.2h0m.8 .4h0m-1-1.2h0m-1-1.2h0m1.2-1.3h0m.4 .5h0m-.8 4.8h0m0-4.7h0m1.2 4h0m-.1-2.5h0m-1.6 1.4h0m.7-1.5h0m-.5 .1h0m1 2.4h0m-1.1-2.3h0m.8-.6h0m-.7 .7h0m1.9 .9h0m-.9 0h0" />
<path fill="none" stroke="#f7f01c" stroke-width="1" stroke-linecap="round" d="M42.8 133.8h0m7.2-.4h0m-3.4-.7h0m-3.3 2.3h0m3.7-1.7h0m-6.6 .8h0m3.2-.3h0m.5-.2h0m1.6-.5h0m3.6 .6h0m-7-1.8h0m3 .6h0m-.4 1.2h0m-2.9 .1h0m-1.3-.2h0m5.3-1.8h0m-2 0h0m.3 3.2h0m1.3-.6h0m2.2-2.4h0m-4 .2h0m6.3 1.6h0m-2.1-1.8h0m-5.9 1h0m-2.4 .9h0m2.1-1.2h0m5.5 .5h0m2 .8h0m-.2-.2h0m-7.8 .7h0m2 .1h0m3.7 .2h0m-6.2-1.8h0m5.3-1.1h0m-.6 2.8h0m1.4-2.2h0m-5.3 .8h0m7.1 .5h0m-8 .9h0m.8-1h0m1.2 .5h0m1-2.1h0m5.4 1.6h0m-2 1h0m-3.8-2.6h0m1.7 2.9h0m-3.5-.2h0m5.5-1.7h0m-2.3-1h0m4.1 1h0m.3 .8h0m-8.8-1.1h0m1.6 2.3h0m4.1-3.4h0m-4.6 1.2h0m3.2 .9h0m-.8-.9h0m.8 2.5h0m2.3-2.8h0m-4.4 .9h0m10.1 2.2h0m2.7 1.4h0m.3-.6h0m3.1 0h0m-2.4-.5h0m-2.7-1.3h0m4.4 2.1h0m1.4-.6h0m-6.4 .2h0m4.4-.9h0m-1-.5h0m-.9 .2h0m-4.9-.3h0m4.2 .1h0m-2.4-.5h0m1.1-.3h0m1 1.1h0m1.2-.5h0m-2.7 0h0m4.3 .9h0m2.1-.8h0m-.2 .9h0m-3.4 1.5h0m-2.2-.8h0m.7 .3h0m-3.6-1.4h0m8.3-.7h0m-7.4 0h0m5.4-.2h0m-3-.1h0m2 2.4h0m.5-2.4h0m-.5-.4h0m2.1 2.9h0m-4.7-2.7h0m-1.5 1.4h0m6.9 .4h0m-5.5 .4h0m3.2-1.2h0m.3-.3h0m-6.2 .3h0m-.1 .8h0m2.8-.5h0m2.7-.9h0m-1.4-.9h0m4.7 2h0m-3.2 .6h0m-2.8-2.3h0m-1.7 .2h0m6.1-.2h0m4.8 3.3h0m-2.2 .4h0m.1 .2h0m.4-.8h0m1.1-.2h0m-.2 1.3h0m.5-1.2h0m-2.6-.1h0m.6 1.7h0m-.4-.7h0m2.4-.8h0m-.1-.7h0m-5.6 1.1h0m3.9-.8h0m3.1 .5h0m-6.3-.5h0m4.7 1.9h0m.3-1.8h0m1.7 .7h0m-2.8-.4h0m1.3 .3h0m-3.8 1.1h0m-1.7-.4h0m-.4-.2h0m2.7 .5h0m-11.1 2.5h0m.7 2.1h0m1.1-1.7h0m-1.5-2.3h0m.1 1.1h0m0-1.4h0m1 2.7h0m-1.1-.5h0m-.1 1.8h0m1.4-3.6h0m-.2 3.3h0m-.9-2.9h0m.4 3.3h0m-.7-1.2h0m.9-1.4h0" />
<path fill="none" stroke="#1aa3a3" stroke-width="1" stroke-linecap="round" d="M74.7 127.6h0m-.6 0h0m.3-.2h0m.8-.9h0m-1.2 .9h0m.9-1.1h0" />
<path fill="none" stroke="#ee1fae" stroke-width="1" stroke-linecap="round" d="M137.5 133.1h0m2.1-.2h0m-2.7-.4h0m2.6-3.8h0m-1.1 1h0m-.4-.7h0m-.6 3.9h0m-1.1-2h0m.1-.3h0m.2 1.3h0m-.2 .3h0m2-3.1h0m-.8 1.9h0m3.1-.8h0m-.2 2h0m-3.4-2.8h0m0-.6h0m-1.3 2.2h0m2.1 .3h0m1.6 .5h0m-.9-.6h0m1.9 .9h0m-2.7-2h0m.1 3.3h0m-.1-3h0m.1-1.2h0m1.1 3.9h0m-2-1.5h0m.7-1.9h0m-1-.6h0m3.6 3.3h0m-.8-2.3h0m-.3 1.1h0m1.2-.1h0m-3.5 .5h0m2.9-1.2h0m-.2 .1h0m-1.1 1.1h0m.9-1.5h0m-.3 1.1h0m-2.2 .4h0m.2 1.4h0m1.2-.9h0m.2-1.2h0m-1.7-1.7h0m4 1.9h0m-2.3 0h0m1.7-1.4h0m-3.6 2.9h0m1.6-.9h0m-.5 1h0m2.5-3.6h0m-3.7 .7h0m-.3 .5h0m3.9 .8h0m-2-2.2h0m1.4 1.8h0m-1.2 1.8h0m1.5-3.3h0m-.4 1.1h0" />
<path fill="none" stroke="#a5592a" stroke-width="1" stroke-linecap="round" d="M144.4 152.9h0m-1.6 .8h0m.1-2.5h0m-2 4.2h0m5.7-2.2h0m-4.3-.3h0m3.4 4.7h0m-4.8-3.3h0m6.5 1.5h0m-4.6-4.4h0m.8 2.5h0m2.9-.6h0m-3.3 2.7h0m4.4-2.2h0m-4.7 1.7h0m-.1 .7h0m-.5-4.6h0m4.7 2.4h0m-2.5 .9h0m4.1 2h0m-9.6-1.3h0m4.8-1h0m4.1-.3h0m-4 3.6h0m-.4-3.1h0m.8 2.6h0m1.8-.7h0m-3-5.3h0m3.1 3.9h0m1 1.7h0m-7.2-4.2h0m7 2.6h0m-7.7 .9h0m7.2-1.5h0m-7.2 1.6h0m4-.9h0m-.9-.5h0m-.7-1.9h0m.4-.1h0m6 2.3h0m-3.8-1h0m-5-.9h0m8.9 3.8h0m-.1-4.1h0m-3.5 .8h0m-.8 .9h0m1.3-.9h0m2.4-1.3h0m1.3 2.7h0m-9.5-1.8h0m5.3 .7h0m.3-.6h0m-3.2 3.6h0m.2-.7h0m5.6-.9h0m-3.8 2.6h0m-.1-.4h0m-4.3-3.4h0m6.4-2.9h0m-.4 1h0m3.5 2.9h0m-1.3-.5h0m-1.4 1.3h0m-4.2-3.5h0m6-.5h0m-4.6 3.9h0m-1.8 1.9h0m4.7-5.7h0m-6.9 4.1h0m2.6-3.5h0m3.2 .6h0m-.2-1.2h0m3.8 1.3h0m-.7-1.3h0m-5-.9h0m-.1 4.6h0m-1.7-.8h0m-1.5-.6h0m7-.2h0m-.5-2.4h0m2.8 3.1h0m-7.1-1.4h0m5.1 1.2h0m-3 2.8h0m1.3-2.5h0m-3.6 2.7h0m6.3-5.1h0m-2.7 5.7h0m-2.8-.2h0m3.4-6.8h0m-3.5 3h0m-1 2.2h0m-.7 .4h0m1.3-5.5h0m2.9 .2h0m-.1 5.3h0m.5-2.5h0m-6.2 .4h0m.7 1h0m.4-.5h0m2.4-1.6h0m3.4-1.6h0m-3.7 5.2h0m6-2.8h0m-4.1 .5h0m-4.2-.5h0m.5 .5h0m3.8-1.3h0m-3.4 .3h0m0-2.1h0m.4 5.6h0m2.9 .2h0m-.1-.8h0m.9-.8h0m-3.8 .5h0m-.8-3.7h0m-1.4 1h0m5.4-.8h0m.7-.4h0m.1 4.2h0m1.3-5.5h0m-5.1 4.1h0m4.1 .7h0m2.2-2.7h0m-.1 .9h0m1.4-.4h0m-5.8-2.4h0m-1.8 4.9h0m4.8-4.5h0m-3.7 0h0m-1.6 .6h0m3.1 2.1h0m3.3 3.1h0m-.3-2.1h0m-6.1 0h0m7.1 1.2h0m-8.3-.5h0m2.8-4.3h0m6.8 3.9h0m-2.4-4.1h0m1.8 4.7h0m-.8 .4h0m-2.7-2.8h0m2.6 2.7h0m.5-3.7h0m1 1.7h0m-7.8 2.4h0m-.2-4.9h0m2.4 .3h0m.4 5.1h0m9-.9h0m-1.7 .3h0m2.4-.4h0m-2.4-1.7h0m1.5 2.2h0m-1.9-.7h0m3 .6h0m-5-.9h0m4.9-.2h0m-1.3 .1h0m-1.6-.8h0m.1 1.9h0m1.6-1.6h0m-3.2-.1h0m3.7 .5h0m-.2 1.1h0m-3.3-.4h0m.4-1.2h0m4.6 .3h0m-4.4 1.6h0m2.4 0h0m-1.3-1.2h0m3.3 0h0m-.7-1h0m-2.3 1.9h0m-1.2-1.3h0m-.9 .6h0m4.6-.2h0m-2.9 1.3h0m3.1-.8h0" />
<path fill="none" stroke="#f58cc8" stroke-width="1" stroke-linecap="round" d="M136.8 162.6h0m2.6 2h0m-.6-1.7h0m1.9-1.7h0m-.7 1.8h0m2.7-1.1h0m-3.9 2.9h0m2.3-2.6h0m-1.7 1.2h0m3.1-.1h0m-3.9-3.6h0m-1.3 2.7h0m3-3.2h0m-1.3 4.2h0m1.8-2.8h0m.8 0h0m-1.5 .8h0m1.8 1.6h0m-2.9 1.7h0m2.3-1.7h0m-3.1-3.1h0m2.1 4h0m1.6-2.9h0m-4.6 1h0m4.2-2.1h0m-3-.7h0m-.1 2h0m-.8-.4h0m.9 .7h0m-1.4-1h0m2 .7h0m.4 2.7h0m1.3-.3h0m-2.3-3.8h0m3.1 1.9h0m-1.4 1.2h0m1.4-2.3h0m-2.8 3.8h0m1.2-3.8h0m.7-.1h0m1.4 1.8h0m-3.3 2.2h0m-.6-4.1h0m-1.4 1.8h0m4.8 .8h0m-2.4 .7h0m-2.1-3h0m3.7 4h0m-.1-1.6h0m1-1.8h0m-3 0h0m3.2-.3h0m-4.3 3.1h0m2.4-2.1h0m1 2.3h0m-3.8-3.4h0m-.4 .5h0m3 2.6h0m1.2-1.6h0m-1.9-.1h0m-.9 1.7h0m3.6-.1h0m-4.4-1h0m4.2-1h0m-.1 1.9h0m-.7 .4h0m-3.6-1.1h0m4-.5h0m-3-3.3h0m2.3 4.5h0" />
<path fill="none" stroke="#fff" stroke-width="0.7" stroke-linecap="round" d="M134.2 80.1h0m6.1-4h0m8.6 6.4h0m-8.4-.7h0m-6.1 10.3h0m-.7-14.7h0m11.4 6.4h0m-14.6-13.4h0m-7.5 16h0m18.4-9.2h0m-8.9 14.5h0m.4-12h0m2.8-7.2h0m11.4 14.1h0m-9.5-7.2h0m-9.4 10.7h0m9.9 1.2h0m-3.6-2.8h0m25.8-1.4h0m-12.6-5.2h0m-8.9-8.4h0m-13.2 12.6h0m22.9-10.9h0m-2.1-3.4h0m-1.4 1h0m-4.6 4h0m1.8-5h0m-2.9 13.5h0m-15.4-8.7h0m24 6.7h0m-2.8 6.5h0m-2-15.6h0m-5.6 17h0m5.4-2.1h0m-8.9-8.5h0m12.7-9.6h0m-1.8-2.1h0m5.1 6.6h0m4.4 7.1h0m-17 8.6h0m10.9-8.3h0m-2.8-11.5h0m-20.5 4.8h0m25.2-1.8h0m-7.9 10.7h0m6.5-4.1h0m3.8-.2h0m-22.2 8.1h0m18.2-9.8h0m-20.7-5h0m12.5 7.9h0m10.4 10.5h0m-17.1-18.6h0m-.4 14.6h0m13.7-9.1h0m-5.9-7.1h0m-.8 17.7h0m-13.6-1.8h0m6.8 2.5h0m-11.3-15h0m23.8 5.8h0m-11.4 2.7h0m-7-4h0m1.6 11.1h0m13.1-6.5h0m3.2-13.3h0m6.7 4.7h0m3.8 13.8h0m-8.2 .8h0m-10.6-3.9h0m-14.8-7.4h0m18-7.3h0m-5.3 0h0m-9 12h0m.3-2.9h0m15.3-1h0m-1.5 11.1h0m11.6-7.4h0m-10.1-9.9h0m10.7 2.5h0m-2.4-2.2h0m-6.8 11.8h0m-8.8-4.8h0m-13.5 4.6h0m27.5-13.7h0m-6.2 16.2h0m-13.3-18.1h0m.2 0h0m10.4 4.6h0m-8.3 5.9h0m3.1 9.2h0m-1.8-19.1h0m16.2 18.8h0m-12.6 4.3h0m-.8-17.4h0m5.2 3.6h0m-3.3 9.2h0m17.4-8.2h0m-28.8-1.9h0m21.3 4.3h0m-8.8 .4h0m-9.5-.5h0m5.4 9.1h0m11.4-7h0m9.5-4.5h0" opacity="0.55"/>
<path fill="none" stroke="#fff" stroke-width="0.9" stroke-linecap="round" d="M92.6 130h0m7 4.3h0m-6.1-.9h0m5.4 .2h0m-7.6-2.2h0m3.6 1.6h0m.1-4.7h0m4 1.6h0m1.5 .2h0m-2.9 5h0m-5.2-.8h0m3-5.5h0m.3 3.2h0m.3-3.8h0m1.3 1.8h0m5.3 .8h0m-6.4-1.5h0m2.6 6h0m-3.1-.7h0m-1.4-6.5h0m-2.8 3.4h0m10-2.5h0m-5.2 5.6h0m-2-6.1h0m2.9 2.8h0m-3.3 1.3h0m2.1-5.3h0m.3 8.9h0m-1.7-3.3h0m4.9-5.3h0m-4.9 6.6h0m-3.4-3.4h0m1.3 .9h0m4.7-3.3h0m3.7 2.8h0m-6.9-1.8h0m5.9-1.4h0m2.4 3.1h0m-4.1 4.5h0m1.1-2.7h0m8.9 2.8h0m-2.2-.6h0m-.6 .6h0m1.5 .1h0m-3.2 2.1h0m2.3-2.5h0m-3.9 1.7h0m3.9 1.2h0m-1.3-1.8h0m5.2-.9h0m-6.3 3.3h0m3.5-3.7h0m2 2.1h0m-6.3-1.7h0m4.4-.4h0m-1.6 3.1h0m-3.6-.3h0m0-1.1h0m5.5 1.2h0m3.1-1.8h0m-5.4-.1h0m2.8 2.2h0m-.5-2h0m-.8 .7h0m4.2-.3h0m-1.5-1.4h0m-1 2.9h0m1.4-2.7h0m-.9 1.3h0m-4.8-.7h0m11.3-3.4h0m.8-2.4h0m-12.1-7.2h0m7.1 .8h0m-4.1-1.6h0m-3.3 8.6h0m1.2 1.9h0m1.9 0h0m-.5-8.2h0m1.7-3.5h0m.7 5.1h0m-6 4.6h0m8.7-2.8h0m-6.1-3.1h0m13.1 1.2h0m-2.9 4.5h0m-4.7 1.7h0m-7.1-3.8h0m2-2h0m-1.4 4.3h0m6.9 1h0m1-2.5h0m-1.1-3.8h0m6.5 .6h0m-14.9-.5h0m10.9 8.3h0m-1.1-3.7h0m-3.6-2.8h0m5.7-2.1h0m-11.7 4.3h0m12.6-5.2h0m-2.3 9h0m-3.4-7.8h0m-.9 6.4h0m3.4-8.7h0m-10 3.9h0m-1.1 .4h0m7.1 6.7h0m0-1.5h0m6.6-3.7h0m-9.7-3.9h0m4.5 1.2h0m2.8 1.6h0m-5.8 1.4h0m1.8 3.2h0m7.5-3.5h0m-4.7-8h0m-3.5 3.5h0m4.3-2.8h0m-1.4 4.4h0" opacity="0.7"/>
<text x="138.7" y="83.1" font-size="7.2" text-anchor="middle">1</text>
<text x="105.7" y="134.1" font-size="7.2" text-anchor="middle">2</text>
<text x="107.4" y="114.4" font-size="7.2" text-anchor="middle">12</text>
<text x="79.6" y="44.6" font-size="7.2" text-anchor="middle">4</text>
<text x="87.5" y="77.3" font-size="7.2" text-anchor="middle">5</text>
<text x="49.2" y="87.4" font-size="7.2" text-anchor="middle">9</text>
<text x="50.4" y="122.9" font-size="7.2" text-anchor="middle">3</text>
<text x="54.5" y="138.4" font-size="7.2" text-anchor="middle">6</text>
<text x="76.7" y="129.6" font-size="7.2" text-anchor="middle">13</text>
<text x="139" y="134.1" font-size="7.2" text-anchor="middle">10</text>
<text x="172.3" y="139.7" font-size="7.2" text-anchor="middle">12</text>
<text x="144.2" y="157.1" font-size="7.2" text-anchor="middle">7</text>
<text x="141.3" y="166.3" font-size="7.2" text-anchor="middle">8</text>
<path fill="none" stroke="#c08888" stroke-width="1" stroke-linecap="round" d="M168.7 137h0m-.2-.2h0m.7 .6h0" />
<text x="17.7" y="105" font-size="8.2" text-anchor="middle" fill="#222" transform="rotate(-90 17.7 105)">UMAP_2</text>
<text x="107.5" y="189.4" font-size="8.2" text-anchor="middle" fill="#222">UMAP_1</text>
<circle cx="189.2" cy="42.7" r="3.3" fill="#e31a1c" />
<text x="189.2" y="43.9" font-size="3.2" text-anchor="middle" fill="#333">1</text>
<text x="194.9" y="45.2" font-size="7" fill="#222">B cells</text>
<circle cx="189.2" cy="52.67" r="3.3" fill="#3b7cbf" />
<text x="189.2" y="53.87" font-size="3.2" text-anchor="middle" fill="#333">2</text>
<text x="194.9" y="55.17" font-size="7" fill="#222">Macrophages</text>
<circle cx="189.2" cy="62.64" r="3.3" fill="#44a947" />
<text x="189.2" y="63.84" font-size="3.2" text-anchor="middle" fill="#333">3</text>
<text x="194.9" y="65.14" font-size="7" fill="#222">Myofibroblasts</text>
<circle cx="189.2" cy="72.61" r="3.3" fill="#9b4fa8" />
<text x="189.2" y="73.81" font-size="3.2" text-anchor="middle" fill="#333">4</text>
<text x="194.9" y="75.11" font-size="7" fill="#222">Endothelial cells</text>
<circle cx="189.2" cy="82.58" r="3.3" fill="#ff7f0e" />
<text x="189.2" y="83.78" font-size="3.2" text-anchor="middle" fill="#333">5</text>
<text x="194.9" y="85.08" font-size="7" fill="#222">Plasma cells</text>
<circle cx="189.2" cy="92.55" r="3.3" fill="#f7f01c" />
<text x="189.2" y="93.75" font-size="3.2" text-anchor="middle" fill="#333">6</text>
<text x="194.9" y="95.05" font-size="7" fill="#222">Fibroblasts</text>
<circle cx="189.2" cy="102.52" r="3.3" fill="#a5592a" />
<text x="189.2" y="103.72" font-size="3.2" text-anchor="middle" fill="#333">7</text>
<text x="194.9" y="105.02" font-size="7" fill="#222">ILC1s</text>
<circle cx="189.2" cy="112.49" r="3.3" fill="#f58cc8" />
<text x="189.2" y="113.69" font-size="3.2" text-anchor="middle" fill="#333">8</text>
<text x="194.9" y="114.99" font-size="7" fill="#222">NKs</text>
<circle cx="189.2" cy="122.46" r="3.3" fill="#8f8f8f" />
<text x="189.2" y="123.66" font-size="3.2" text-anchor="middle" fill="#333">9</text>
<text x="194.9" y="124.96" font-size="7" fill="#222">Epithelial cells</text>
<circle cx="189.2" cy="132.43" r="3.3" fill="#ee1fae" />
<text x="189.2" y="133.63" font-size="2.6" text-anchor="middle" fill="#333">10</text>
<text x="194.9" y="134.93" font-size="7" fill="#222">pDCs</text>
<circle cx="189.2" cy="142.4" r="3.3" fill="#c45a55" />
<text x="189.2" y="143.6" font-size="2.6" text-anchor="middle" fill="#333">11</text>
<text x="194.9" y="144.9" font-size="7" fill="#222">DCs</text>
<circle cx="189.2" cy="152.37" r="3.3" fill="#c39090" />
<text x="189.2" y="153.57" font-size="2.6" text-anchor="middle" fill="#333">12</text>
<text x="194.9" y="154.87" font-size="7" fill="#222">Mast cells</text>
<circle cx="189.2" cy="162.34" r="3.3" fill="#1aa3a3" />
<text x="189.2" y="163.54" font-size="2.6" text-anchor="middle" fill="#333">13</text>
<text x="194.9" y="164.84" font-size="7" fill="#222">Melanocytes</text>
<g stroke="#555" stroke-width="0.9">
<line x1="267.7" y1="28" x2="267.7" y2="172.95" stroke="#555" stroke-width="0.9" />
<line x1="267.25" y1="172.5" x2="425.5" y2="172.5" stroke="#555" stroke-width="0.9" />
<line x1="266.1" y1="48.4" x2="267.7" y2="48.4" stroke="#555" stroke-width="0.7" />
<line x1="266.1" y1="72.9" x2="267.7" y2="72.9" stroke="#555" stroke-width="0.7" />
<line x1="266.1" y1="97.4" x2="267.7" y2="97.4" stroke="#555" stroke-width="0.7" />
<line x1="266.1" y1="121.9" x2="267.7" y2="121.9" stroke="#555" stroke-width="0.7" />
<line x1="266.1" y1="146.4" x2="267.7" y2="146.4" stroke="#555" stroke-width="0.7" />
<line x1="266.1" y1="170.9" x2="267.7" y2="170.9" stroke="#555" stroke-width="0.7" />
<line x1="292.7" y1="172.5" x2="292.7" y2="174.1" stroke="#555" stroke-width="0.7" />
<line x1="324.3" y1="172.5" x2="324.3" y2="174.1" stroke="#555" stroke-width="0.7" />
<line x1="355.9" y1="172.5" x2="355.9" y2="174.1" stroke="#555" stroke-width="0.7" />
<line x1="387.5" y1="172.5" x2="387.5" y2="174.1" stroke="#555" stroke-width="0.7" />
<line x1="419.1" y1="172.5" x2="419.1" y2="174.1" stroke="#555" stroke-width="0.7" />
</g>
<text x="265.5" y="49.9" font-size="4.8" text-anchor="end" fill="#333">10</text>
<text x="265.5" y="74.4" font-size="4.8" text-anchor="end" fill="#333">5</text>
<text x="265.5" y="98.9" font-size="4.8" text-anchor="end" fill="#333">0</text>
<text x="265.5" y="123.4" font-size="4.8" text-anchor="end" fill="#333">−5</text>
<text x="265.5" y="147.9" font-size="4.8" text-anchor="end" fill="#333">−10</text>
<text x="265.5" y="172.4" font-size="4.8" text-anchor="end" fill="#333">−15</text>
<text x="292.7" y="178.7" font-size="4.8" text-anchor="middle" fill="#333">−10</text>
<text x="324.3" y="178.7" font-size="4.8" text-anchor="middle" fill="#333">−5</text>
<text x="355.9" y="178.7" font-size="4.8" text-anchor="middle" fill="#333">0</text>
<text x="387.5" y="178.7" font-size="4.8" text-anchor="middle" fill="#333">5</text>
<text x="419.1" y="178.7" font-size="4.8" text-anchor="middle" fill="#333">10</text>
<polygon fill="#3a7fc0" points="351.48,72.85 356.01,68.52 365.17,66.01 378.23,65.1 384.76,66.61 391.29,71.64 396.56,77.28 398.56,80.3 395.19,84.12 392.66,87.84 396.56,94.08 388.66,95.29 382.23,97.8 376.97,95.29 369.07,91.56 360.01,87.24 354.74,81.6 352.11,76.57"/>
<polygon fill="#e41a1c" points="392.66,87.84 391.19,90.86 394.87,91.36 400.14,87.84 402.77,84.32 405.72,82.21 410.25,80.3 415.52,82.21 417.41,85.12 415.52,88.45 409.62,90.96 401.83,92.87 396.56,94.08"/>
<defs><clipPath id="c2l"><rect x="317.98" y="100" width="22.12" height="60"/></clipPath></defs>
<polygon fill="#3a7fc0" points="325.99,127.58 327.78,124.67 332.73,122.35 336.41,121.75 338.94,123.46 342.63,121.15 346.31,119.43 351.79,118.83 356.11,119.94 359.17,122.96 360.43,127.58 364.12,128.19 364.75,130 360.43,131.71 361.06,135.84 357.37,138.15 352.42,139.36 347.47,139.96 345.68,144.09 342,144.69 340.73,141.17 336.41,137.04 331.46,135.84 327.25,133.52"/>
<path fill="none" stroke="#3a7fc0" stroke-width="0.9" stroke-linecap="round" d="M352.9 72.2h0m1.4-1.9h0m-2.1 1.6h0m-1 .6h0m2.4-.5h0m.5-1.8h0m1.6-.6h0m-1.8 1.1h0m.5 1.1h0m-1.2-1.1h0m2.1 .1h0m.1-2.4h0m5.1-.8h0m-1.2 .1h0m1.7 .3h0m1-2.1h0m-2.5 2.5h0m-.4 .6h0m1.1-1.6h0m2.5 0h0m9.1-4h0m4.9 1.4h0m-2.2 .3h0m-5 .9h0m4.6-1.1h0m-3.7 1.8h0m-4.1 .5h0m1.1-.1h0m5.8-1.6h0m.8 0h0m22.5 11.4h0m-1.3-1.5h0m.8 1.2h0m-1.7-.7h0m2.3 1.2h0m-.1 .1h0m-.2 .9h0m0 3h0m-1 1.3h0m.9 .3h0m-2 1.7h0m-.1-1.9h0m1.8 1.3h0m-2.3 3.3h0m-.1-1.8h0m-.7 1.7h0m-.2 1.2h0m-.5-3.2h0m1.5-.5h0m1 1.3h0m.5-.7h0m-1.6 2.4h0m.4-.7h0m-.3 2h0m-1.4 1.7h0m-1.5-1.4h0m.8-.1h0m1.7 .1h0m-.9-.9h0m-.1 .7h0m-1.8 1.5h0m5.4 1.2h0m-2.8-1.8h0m.6 1.5h0m-1.3-.6h0m.3-.1h0m-.5 .6h0m1.8 .9h0m-2.4-1.6h0m2.4 1.8h0m-2.1-2h0m.3 .7h0m4 .5h0m.1-2.1h0m-1.4 1.1h0m2.2 2.9h0m-5.2 1.7h0m-2.9-.2h0m3.6-.8h0m1.9 .4h0m1.1 .5h0m-5.4 .1h0m5.1 .6h0m.6-.2h0m-.1-1.1h0m-2-.4h0m2.2 1.5h0m-10.2 1.2h0m1.2-2.5h0m-6.1 3.7h0m3.8-.2h0m-.6-1h0m-.9 1.1h0m1.4-1.4h0m3.7-1.3h0m-.7-.1h0m-1.4 1.5h0m-8.5-.9h0m-.8-.8h0m-.3 2h0m1.3-.3h0m2 1h0m2.1 1.8h0m-3-3.8h0m-.6 2.2h0m1.1-2h0m-.9-.4h0m-.9 1.9h0m3.2 .1h0m-11.2-3.8h0m1-1.7h0m-1.1-1.2h0m3.9 2.7h0m-1.5 .1h0m-.8-2.6h0m3.8 4.2h0m1.2 .1h0m-5.4-2.5h0m5.7 1.9h0m-4.3-.1h0m-3.1-1.6h0m-9.8-4.8h0m2.6 1.9h0m3-.2h0m-4.2-1.8h0m6.1 3.3h0m-6.5-4.2h0m1.7 .8h0m3.1 1.1h0m1.7 2h0m-5.2-2.3h0m-5.2-6.4h0m2.4 4.6h0m-2.1-2.8h0m.5 0h0m-1-2.2h0m.5 2.6h0m.6-1.9h0m1.4 2.4h0m-.5 2.2h0m-1.9-5.2h0m-1.5-.1h0m-1.3-4.2h0m-.3 1.6h0m-.4 .2h0m2.6 1.8h0m-2.5-3.8h0m.7 2.9h0m.1-2h0m-.9-.9h0m.1-.1h0m-.9-.3h0m3 3.1h0m-4-3.8h0m-.2-2.3h0m1.4 2.1h0m-.8-1.5h0m.8 1.7h0m-.5 .4h0m.6-.9h0m0 .5h0m.3-2.5h0m-1.3 1.8h0m41.8 14.5h0m1.7-2.1h0m.7-3h0m1.3 3.4h0m-2.1 2.5h0m1.7-4.9h0m-3-2.6h0m-1.4 1.8h0m3.9 1.6h0m-1 3.6h0m-.1-3.3h0m1-1.8h0m-.7 2.5h0m-.2-2h0m0 4.8h0m1.5-5.8h0m-1.8 4.9h0m-2.6-5.6h0m.3 5.5h0m.8-5.2h0m-.8 .3h0m4.2 6h0m-3.9 0h0m2.9-6.6h0m-.4-.9h0m-6.1 24.6h0" />
<path fill="none" stroke="#fff" stroke-width="0.7" stroke-linecap="round" d="M375.1 79.4h0m6.4-4h0m9 6.4h0m-8.8-.7h0m-6.5 10.4h0m-.6-14.8h0m11.9 6.4h0m-15.3-13.5h0m-7.9 16.1h0m19.4-9.3h0m-9.5 14.6h0m.5-12h0m2.9-7.2h0m12.1 14.1h0m-10-7.2h0m-9.9 10.8h0m10.4 1.2h0m-3.8-2.8h0m27.1-1.5h0m-13.2-5.2h0m-9.4-8.4h0m-13.9 12.6h0m24.2-10.9h0m-2.3-3.4h0m-1.5 1h0m-4.8 4h0m1.9-5.1h0m-3.1 13.6h0m-16.1-8.7h0m25.2 6.7h0m-2.9 6.6h0m-2.1-15.7h0m-6 17.1h0m5.8-2.2h0m-9.4-8.6h0m13.4-9.6h0m-1.9-2h0m5.4 6.6h0m4.6 7.1h0m-18 8.7h0m11.5-8.4h0m-3-11.6h0m-21.5 4.9h0m26.5-1.9h0m-8.3 10.9h0m6.8-4.2h0m4-.2h0m-23.4 8.1h0m19.2-9.8h0m-21.8-5.1h0m13.2 8h0m10.9 10.6h0m-18-18.8h0m-.4 14.7h0m14.4-9.1h0m-6.2-7.1h0m-.8 17.8h0m-14.3-1.8h0m7.2 2.5h0m-12-15.1h0m25.1 5.8h0m-12 2.7h0m-7.4-4h0m1.7 11.1h0m13.8-6.4h0m3.4-13.5h0m7 4.7h0m4 14h0m-8.6 .8h0m-11.2-4h0m-15.5-7.4h0m18.9-7.4h0m-5.6 0h0m-9.5 12.1h0m.3-2.9h0m16.1-1h0m-1.5 11.2h0m12.2-7.5h0m-10.7-10h0m11.3 2.5h0m-2.5-2.2h0m-7.1 11.9h0m-9.4-4.8h0m-14.2 4.6h0m29-13.8h0m-6.5 16.4h0m-14-18.3h0m.2 0h0m11 4.7h0m-8.8 5.9h0m3.3 9.2h0m-1.9-19.1h0m17 18.9h0m-13.2 4.2h0m-.9-17.4h0m5.5 3.6h0m-3.4 9.3h0m18.2-8.3h0m-30.2-1.9h0m22.3 4.3h0m-9.2 .4h0m-10-.5h0m5.7 9.1h0m12-7h0m10-4.5h0" opacity="0.5"/>
<path fill="none" stroke="#fff" stroke-width="0.9" stroke-linecap="round" d="M331.2 129.6h0m7.4 4.3h0m-6.4-.9h0m5.7 .2h0m-8.1-2.2h0m3.9 1.6h0m.1-4.7h0m4.2 1.6h0m1.6 .2h0m-3.1 5h0m-5.5-.8h0m3.2-5.5h0m.4 3.2h0m.2-3.8h0m1.4 1.8h0m5.6 .8h0m-6.7-1.5h0m2.6 6.1h0m-3.2-.8h0m-1.4-6.5h0m-3 3.4h0m10.5-2.5h0m-5.5 5.7h0m-2-6.2h0m3 2.8h0m-3.5 1.3h0m2.2-5.3h0m.4 8.9h0m-1.8-3.3h0m5.1-5.3h0m-5.1 6.6h0m-3.6-3.4h0m1.4 .9h0m4.9-3.3h0m3.8 2.8h0m-7.1-1.8h0m6.1-1.4h0m2.6 3.1h0m-4.4 4.6h0m1.2-2.8h0m9.4 2.8h0m-2.4-.6h0m-.6 .6h0m1.6 .1h0m-3.3 2.1h0m2.3-2.5h0m-4 1.7h0m4.1 1.3h0m-1.4-1.9h0m5.5-.8h0m-6.7 3.2h0m3.7-3.6h0m2.1 2.1h0m-6.7-1.8h0m4.7-.4h0m-1.6 3.1h0m-3.9-.3h0m.1-1.1h0m5.7 1.3h0m3.3-1.8h0m-5.6-.1h0m2.8 2.2h0m-.5-2h0m-.8 .6h0m4.5-.3h0m-1.7-1.3h0m-1 2.8h0m1.5-2.7h0m-1 1.3h0m-5-.7h0m11.8-3.4h0m.9-2.4h0m-12.8-7.3h0m7.6 .8h0m-4.4-1.5h0m-3.5 8.6h0m1.3 1.9h0m2 0h0m-.5-8.2h0m1.8-3.6h0m.8 5.2h0m-6.4 4.6h0m9.1-2.9h0m-6.3-3h0m13.7 1.2h0m-3.1 4.5h0m-4.9 1.7h0m-7.5-3.9h0m2.1-1.9h0m-1.4 4.3h0m7.3 1h0m1-2.5h0m-1.2-3.9h0m6.9 .7h0m-15.7-.6h0m11.5 8.5h0m-1.2-3.8h0m-3.8-2.9h0m6-2h0m-12.3 4.3h0m13.2-5.3h0m-2.3 9.1h0m-3.7-7.8h0m-.9 6.4h0m3.6-8.7h0m-10.6 3.9h0m-1.1 .4h0m7.5 6.7h0m0-1.5h0m7-3.7h0m-10.3-4h0m4.8 1.3h0m2.9 1.6h0m-6.1 1.4h0m1.9 3.2h0m7.9-3.5h0m-4.9-8.1h0m-3.7 3.5h0m4.5-2.7h0m-1.5 4.3h0" opacity="0.7"/>
<path fill="none" stroke="#3a7fc0" stroke-width="1" stroke-linecap="round" d="M338.4 112.9h0m-3.1-.7h0m4.5 .5h0m-4-.4h0m3-.5h0m-2.3-.9h0m7.2 .6h0m-.1 .5h0m-1.8-1.9h0m-.5 .8h0m1.3 .1h0m-.3 .8h0m-.6-1.6h0m.2 .2h0m-.8 .5h0m6.4 .2h0m.9 .4h0m-1.4 0h0m-.6-.3h0m2.6 .4h0m.8 .4h0m-1.9-1h0m1.8 .9h0m-3.1-.3h0m3.5 .9h0m-.9-.5h0m.9 .2h0m-1.6-.6h0m2.6 2.8h0m0 1.5h0m.8-.3h0m-1.7-1.8h0m-.2 0h0m1.6 2.2h0m0-2h0m-26.8-70.9h0m-13.1 2.2h0m13.9-2.1h0m-11.4-3.1h0m.3 5.8h0m10.2-1.6h0m-5 1.1h0m2-5.1h0m.4 2.2h0m-9.1 1h0m5.2-3.8h0m.2 5.4h0m3.6-5.2h0m-6.7 1.2h0m1.8 1.2h0m-2.1-2h0m8.5 4.5h0m-6-1.9h0m8.4 .4h0m-5.9 .5h0m-8.3 1.7h0m8.1-2.4h0m-6.7-2.7h0m13.1 2.1h0m-1.5-1.9h0m-7.7 2.2h0m3.4 2.8h0m-6.6-5.6h0m9.2 3.5h0m-11.5 .2h0m1.4 2.2h0m-1.4-6h0m8.8 5.9h0m-10.3-6.1h0m-1.8 0h0m6 4.7h0m9.3-4.3h0m-15.5 .5h0m14 4.7h0m-9.7-2h0m13.1-1h0m-13.7-1.7h0m3.9 .2h0m7.5 2.7h0m.4 .4h0m-12.5-.2h0m-3.3-2.3h0m1.3-.6h0m12.2-.5h0m-9.5-.4h0m7.7 2.9h0m2.6 1.9h0m2.4-4.4h0m-5.4 1.9h0m-6.9-.2h0m2.8-.6h0m-4.6 1.6h0m2.9 2.9h0m.1-4.3h0m.9-1.7h0m1.3 4.5h0m-8.2-3h0m12.5 4h0m-11-3.2h0m5.6-1.3h0m11.2-1.3h0m-10.5 5.1h0m-3.7-5h0m10.1 5.6h0m-13.7-3.8h0m11.2-.1h0m-3.6 .4h0m.1 .8h0m.5-2.4h0m-7.1 0h0m12.8 3.7h0m0 .4h0m-4.6 1.2h0m3.5-.3h0m-10.2-1.2h0m-1.1-2.8h0m17.5 .5h0m-8 1h0m.6-2.6h0m-9 7.1h0m.4 1.4h0m1.1-2.3h0m.2 1.6h0m-1.3-1.9h0m-.4 2.9h0m2.4 .9h0m-1.4-3.1h0m.5 .5h0m.2 .6h0m.9 1.7h0m-2.1 1h0m7.4-5.3h0m2.2-1.2h0m-2.4 1.3h0m1.1 .2h0m2 .1h0m1.9-1.8h0m-3.2 .5h0m3 1.6h0m-.2-1h0m0 0h0m-3.3-1.4h0m.7 2.6h0m2.4-2h0m-1 .7h0m1.5 .4h0m-3.3 .5h0m-.1-1.7h0m3.1 .4h0m-8.8 29.6h0m2.5-1.4h0m-1 .9h0m1.4 .1h0m-.8-3.5h0m-2.3 2h0m.9-3.1h0m2.2 3.2h0m0 .7h0m-3.7-3.5h0m4.7 3.9h0m-1.4 .1h0m0-3.4h0m.8-.6h0m-2.8 1.4h0m-.2 1.9h0m.5-2.5h0m3.8 1.2h0m-5.9-.6h0m2.6 2.3h0m-.6-.4h0m1.2-3.2h0m1.8-.3h0m-5.2 2.1h0m1.2 0h0m1 2.2h0m-.4-4h0m-1.1 2.7h0m3.7 1h0m-.4-2.8h0m-2.7-.6h0m4.4 1.5h0m-3.3 2.5h0m1-.8h0m1.4-.7h0m-2.6-2.1h0m-1.2 3.3h0m3.2-.6h0m-3.1-2h0m-.3 .2h0m4.8-1.4h0m-4.4 .4h0m3.2 3.5h0m-2.8-3.4h0m1.7-1h0m-1.2 .1h0m-1.5 1.3h0m4 .3h0m-3.4 1.3h0m-.5-2.7h0m1.8-1.2h0m0 4.9h0m1.9-1.9h0m-.4-.2h0m-3.1 .9h0m1.7 .9h0m3.1-2h0m-2.1 2h0m-.9-3.3h0m1.9 4.2h0m.3-1.2h0m.5-.1h0m-1.3-1.5h0m-2.1 1.2h0m-1.4-1.4h0m4.3 1.9h0m-.9-3h0m-1.3 1.4h0m1.2-.3h0m.4 3.3h0m3.2 .7h0m10.6-1.8h0m-5.1 3.8h0m-8.1-2.8h0m2.2 1.6h0m14-1.7h0m-15.1 .3h0m7.9 1h0m-.5-.5h0m5.7-.8h0m-7.5 2.7h0m-3.6-1.7h0m3.2 .5h0m-.6-4.5h0m-1.5 2.2h0m-4.7 .1h0m7.3 1.8h0m-1.2-2.8h0m-2.3 3.1h0m12.8-1.4h0m-12.9 1.8h0m3.1-3.8h0m-4.7 3.6h0m12.2-.9h0m-6.1-.4h0m-2.1 .4h0m8.4 1.2h0m-6.3-3.4h0m1.4-1.1h0m5.1 1.5h0m.3-.5h0m-7.6-.6h0m-2.6 .4h0m.4 1.5h0m2.3 1h0m4.1-1.7h0m4.4 2.7h0m-13.7 .3h0m1.7-.4h0m2-4h0m10 4.1h0m-5.3 0h0m1.1 .7h0m2.1-.4h0m-10.6-.9h0m6 .3h0m.5-3.1h0m-5.8-.8h0m4.6-.5h0m-.4 .6h0m1.3 4.6h0m2.2-.2h0m-5.2-2.7h0m4.7 1.4h0m-10.9-.1h0m11.7 2h0m-3-2.8h0m3.7 .9h0m-6.8 1.5h0m.5-2.5h0m2.8 1.9h0m-5.6-2.2h0m3.8 .8h0m7.2-1.7h0m0 .7h0m-5.8-.8h0m.1 4.5h0m2.6-1.2h0m-5.8-3h0m-.5 1.7h0m6 1.3h0m4.5-1.6h0m-15-1.5h0m15.6 2h0m-4.7 1.1h0m4.5-1.1h0m-5.2 .1h0m1.4-.2h0m-.3-2.5h0m-.2 1.6h0m1.7-2.3h0m.2 5.2h0m-2.1-3.5h0m-1.7-.7h0m-4.7 1.1h0m.3 0h0m-4.7 .9h0m13.5 0h0m2-.8h0m-16.2-.4h0m10.3 3.6h0m7-3h0m-10.2-2.4h0m4.2 .7h0m1.3 .2h0m.2-.4h0m-.3 4.3h0m.3-4.9h0m-1.8 4h0m-3 1.4h0m-2.7-1.3h0m-2.6 .9h0m5.7-5.2h0m-2.1 3.3h0m1.3 .7h0m-5.3 .8h0m3.9-1h0m4.8-1.5h0m-4.4 2.4h0m3.3-3.2h0m2.4 3.5h0m-6.6-1.5h0m4.8-1.9h0m-3.1 3.8h0m-.9-1.4h0m4 1.4h0m3.7-3.9h0m-6.9 1.9h0m7 2h0m-.1-.2h0m-4.2-3.8h0m5 3.4h0m-3 .7h0m-6.1-5.3h0m3.7 4.6h0m-6.3-.3h0m7.3-.5h0m-2.6-3h0m-3.7 3.5h0m9.6-1.9h0m-.4-1.5h0m-3.4 4.3h0m5.5-2.4h0m-7.4 .4h0m-5.1-2.5h0m-.2 3.2h0m3.3-.8h0m.7-.3h0m-5.3 .7h0m12.2-3.1h0m-3.4 1.3h0m-1.4-2.1h0m8.3 1.6h0m1.3 .7h0m-3.6-1h0m2.2 2.7h0m-.6 .4h0m.9-2.3h0m-2.2 .7h0m2.5 1.6h0m.2-2.3h0m-1.4-.9h0m-1.3 .8h0m3.4 1.4h0m-.7-1.7h0m-.5 1.9h0m-3.1-1.8h0m.9-.8h0m1.5 .2h0m-1.6-.1h0m3.1 .2h0m-3.7 1h0m-41.1 11.5h0m-5.8-1.1h0m5.5 .5h0m-2.9-1.2h0m1.3 1.5h0m-6.6-.5h0m-1.5 .3h0m2.2 1.5h0m5.2-2.5h0m-2.8 .2h0m3.7 .1h0m1.2 .1h0m-9.2 .4h0m10.7-.8h0m-10.8 2h0m7.8-2.1h0m-1.5 1.1h0m-4.9-1h0m5 1.8h0m1.6-2.4h0m1.8 2.9h0m1-1.4h0m-8-1.1h0m0 1.6h0m-5.4-.3h0m6.5 0h0m-4.8 .7h0m3 0h0m.9 .1h0m8.4-.9h0m-5.5 .1h0m1.8-1.5h0m2.5 2.2h0m-5.6-.8h0m-3.1-1.4h0m4.6 2.7h0m-6.6-1h0m8.9-1.5h0m1.3 1.3h0m-6.5 1.5h0m6.5-2h0m1 1.6h0m2-.3h0m-4-.8h0m1-.3h0m2-.1h0m-.5-.7h0m2.1 1.3h0m-1.5-.8h0m-.5 1.5h0m.4-1.6h0m1.7 .1h0m-3.4 .9h0m-11.7 26.9h0m-1.7 .5h0m3.5 0h0m1.5-.5h0m-1.7 1.6h0m2.7-2.7h0m-1.3-1.2h0m3.2 1.4h0m-.7 3.1h0m-4.6-1.4h0m3-.5h0m2.7-.2h0m-.7-.4h0m-2.4-2.3h0m-3.1 3.9h0m7.7-.7h0m1.6-2.2h0m-2 5.1h0m-.6-3.1h0m1.2 4h0m-3-4h0m2 2.9h0m-3 .2h0m4.6-3.4h0m-4.3 2.5h0m5.4-3.8h0m-3.6 5.6h0m.7-5.8h0m3.7 3.2h0m-4.4-2.4h0m-.9 3.7h0m1-.8h0m.1-4h0m-.7 1h0m-1.6 3.4h0m4 5.1h0m-2.9 .2h0m-1.4-.7h0m.4 4.9h0m3.3-7.1h0m0 7.4h0m1-1.3h0m-1.6-2.4h0m-1.1 .6h0m-1.9-1.6h0m1.3-2.2h0m-.4 1h0m3.7 1.1h0m-4.2 2.2h0m.2 1h0m-.3-3.8h0m1.8-1.8h0m-1.8 3.8h0m1.7-3h0m.6-1.8h0m-1.6 1.3h0m-1.2 10.7h0m.5-2.5h0m-4 9.6h0m.3-1.3h0m-1.3-1.9h0m-.4 1.9h0m6.2-1.8h0m-6 1h0m5.4 .2h0m1.9 .6h0m-8.1 .7h0m2 .1h0m3.9 .2h0m-1.5-.1h0m-4.1-1.4h0m7.4 .5h0m.1-.7h0m.3 .9h0m-9.2-1.2h0m1.1 .2h0m3.4 .8h0m-2.2-.3h0m10.6 2.3h0m3.9 .2h0m-2.8-1.3h0m4 .9h0m-2-.4h0m-1 .1h0m1.3 2h0m-2.4-.8h0m-3-1h0m8.8-.8h0m-7.8 0h0m5.7-.2h0m-.6-.1h0m1.7 2.5h0m-6.5-1.2h0m7.2 .3h0m-2.4-.8h0m-3.3 .3h0m1.4-1.7h0m1.5 2.5h0m1.7-2.3h0m5.1 3.3h0m-2.2 .7h0m-.9-1h0m.6 1.7h0m-3.9-1.2h0m7.4-.3h0m-1.3-.3h0m-3.9 1.7h0m-11 2.3h0m.4-.7h0m1.1 1.2h0m-1.2-.4h0m1.4-1.8h0m-.8 3.7h0m27.1-15.3h0m-.6 0h0m.3-.2h0m.8-.9h0m-1.2 .9h0m.9-1.1h0m65.9 6.8h0m2.3-.2h0m-2.9-.4h0m2.7-3.8h0m-1.1 1h0m-.4-.7h0m-.7 3.9h0m-1.1-2h0m0-.3h0m.3 1.3h0m-.2 .3h0m2.1-3.1h0m-.9 1.9h0m3.4-.8h0m-.2 2h0m-3.6-2.8h0m-.1-.6h0m-1.3 2.2h0m2.2 .3h0m1.6 .5h0m-.8-.6h0m1.9 .9h0m-2.8-2h0m.1 3.3h0m-.2-3h0m.2-1.2h0m1.1 3.9h0m-2.1-1.5h0m.8-1.9h0m-1.1-.6h0m3.8 3.3h0m-.9-2.3h0m-.2 1.1h0m1.2-.1h0m-3.7 .6h0m3-1.3h0m-.2 .1h0m-1.1 1.1h0m.9-1.5h0m-.2 1.1h0m-2.4 .4h0m.2 1.5h0m1.2-1h0m.3-1.2h0m-1.7-1.7h0m4.1 1.9h0m-2.4 0h0m1.7-1.4h0m-3.7 2.9h0m1.7-.9h0m-.5 1h0m2.6-3.6h0m-3.9 .7h0m-.3 .5h0m4.1 .8h0m-2.1-2.2h0m1.4 1.8h0m-1.2 1.8h0m1.6-3.3h0m-.4 1.1h0m3.5 23.5h0m.1-2.4h0m-2.1 4.2h0m1.5-2.5h0m3.6 4.7h0m-5.1-3.3h0m6.9 1.5h0m-4.9-4.4h0m.8 2.4h0m3.2-.5h0m-3.6 2.7h0m4.7-2.3h0m-4.9 1.8h0m-.2 .6h0m-.5-4.5h0m1.3 3.2h0m.8 2.5h0m2-2h0m1 1.6h0m-7.5-4.2h0m-.8 3.5h0m0 .1h0m2.6-3.3h0m.4 0h0m2.3 1.2h0m-5.3-.8h0m6.2 .4h0m3.9 1.5h0m-10.1-1.9h0m2.6 3.7h0m.2-.6h0m5.9-.9h0m-4.1 2.1h0m-4.5-3.4h0m6.7-2.9h0m1.9 3.4h0m-1.5 1.4h0m-4.4-3.6h0m-.4 5.4h0m5-5.8h0m-7.3 4.1h0m9.1-4.1h0m-5.4 3.7h0m-1.8-.7h0m-1.5-.6h0m7.3-.3h0m2.5 .8h0m-7.5-1.4h0m3.5 1.5h0m-3.7 2.7h0m6.6-5.1h0m-2.9 5.6h0m-2.9-.2h0m3.6-6.8h0m-3.7 3.1h0m-1 2.2h0m-.8 .4h0m1.4-5.5h0m-3.1 3.4h0m.7 1h0m3-2.1h0m-.2 3.6h0m-2.5-2.9h0m.5 .5h0m.4-1h0m.1-2.1h0m3.3 5.1h0m-3-.3h0m-.9-3.8h0m-1.4 1h0m7.8-2.5h0m-5.4 5.1h0m1.2-4.5h0m5 5.9h0m-6.7-2.2h0m7.5 1.2h0m-8.7-.5h0m9.4 .2h0m-.8 .5h0m.4-3.9h0m-7.2 4.1h0m-.2-4.9h0m12.5 4.6h0m.7-.1h0m.2 .3h0m-1.4-1h0m-1.7-.7h0m.1 1.9h0m2.2-1.2h0m-.6 1.3h0m2.2-1.1h0m-4.5-.5h0m-.9 .6h0m4.8-.1h0m-3.1 1.3h0m-15.2 4.8h0m2.8 2.1h0m-.6-1.8h0m1.9-1.8h0m-.8 1.9h0m2.9-1.1h0m-1.7 .3h0m-1.7 1.2h0m3.3-.1h0m-4.2-3.6h0m-1.4 2.7h0m3.2-3.2h0m-1.3 4.2h0m1.8-2.8h0m.9 0h0m-1.6 .8h0m-1.2 3.3h0m2.4-1.7h0m-1 .9h0m1.6-2.9h0m-4.8 1h0m4.4-2.1h0m-3.1-.7h0m-.1 2h0m-.8-.5h0m.9 .8h0m-1.5-1.1h0m2.1 .8h0m.4 2.7h0m1.4-.3h0m-2.4-3.8h0m3.3 1.9h0m-1.5 1.2h0m1.4-2.4h0m-2.8 3.9h0m1.2-3.8h0m.7-.2h0m1.5 1.9h0m-3.5 2.2h0m-.7-4.2h0m3.6 2.7h0m-2.5 .8h0m-2.2-3.1h0m4.9 .6h0m-3.2-.1h0m3.4-.2h0m-4.5 3.1h0m2.5-2.1h0m1 2.3h0m-3.9-3.4h0m3.9 1.5h0m-1.9-.1h0m-1 1.7h0m3.8-.1h0m-4.7-1h0m4.4-1h0m0 1.9h0m-.7 .4h0m.4-1.6h0m-3.2-3.3h0" />
<path fill="none" stroke="#e41a1c" stroke-width="1" stroke-linecap="round" d="M359.9 128.3h0m-3.8-9.5h0m31.7-23.1h0m-33.3 36.2h0m-11.7-3.6h0m24.6-43.7h0m-18.9 51.5h0m-59.6-1.9h0m23.1-95.9h0m34.9 92.9h0m-34.5-93.1h0m33.3 83.6h0m-3.4 8.5h0m14.4-7.9h0m-19.9 15.8h0m14.3-62.1h0m-2.9 56.9h0m40.8-62.5h0m-35 59.3h0m62-40.1h0m-126.2 46.4h0m30.1-97.3h0m39.2 88.9h0m57.7-43.9h0m-68 37.4h0m2 11.1h0m-7 8h0m-59.4-28.2h0m59.8 10.4h0m14.5 4.2h0m-13.9 16.3h0m-33.1-104.8h0m39.8 82.9h0m-1.5-7.2h0m-6.7 13.1h0m16 1.3h0m-71.8-6.2h0m9.9 14.3h0m91.8 17.1h0m-10.9 9.5h0m-36.3-52h0m4.6 28.4h0m6.2-1.3h0m-6.7-8.4h0m-61.9-5.1h0m59.1 14h0m-64.2-28.6h0m70.3 11.7h0m9.9 11.3h0m-1.2 4.2h0m30.5-61.7h0m-46.6 67.5h0m15.5-11.9h0m25.4-57.3h0m-42.3 55.8h0m50.6-58.4h0m-39.3 57.9h0m3.6 7.2h0m.6-14.4h0m-73.5 3.4h0m56.4-14.3h0m18.3 23.7h0m-72.8-10.9h0m81.2-44.5h0m-20.5 56.5h0m6.2-7.1h0m60.1-38.4h0m-97.3-46.4h0m76.5 112.4h0m-39.9-15.3h0m-66.5-13.9h0m107.8-41.4h0m-45.8 55.1h0m55.8-57.5h0m-47.7 45.9h0m2.7 8.1h0m45.8-53.1h0m-124.2 49.8h0m71.1-19.1h0m-32-42.7h0m42.3 56.1h0m32.6-40.1h0m-49.4 36.2h0m-65.1-14.7h0m71.3 2.5h0m19.1-33.5h0m16.7 79h0m-35.7-31h0m-2.8-5.9h0m57.7-37.7h0m-119 1.1h0m0 55.8h0m129.9-57.5h0m-47-3.1h0m-55.6-43.4h0m-26.2 86.8h0m73.5 9.9h0m21.9 31.9h0m-104.6-30.1h0m72 2.7h0m-65.3-16.1h0m104.5 32.7h0m-14.4-75.9h0m-89.7 32.1h0m64.6 11h0m36.3 36.5h0m21.8-76h0m-121.3 .9h0m.5 30.6h0m74.1 13.3h0m-8.2 10.5h0m-9.7 3.7h0m45.4 14.1h0m-38.3-13.7h0m64.4-51.1h0m-87.9-47.6h0m36.8 86.7h0m-38.5-87.3h0m25.8 90.4h0m5.2-9.1h0m-69.9-4.8h0m107.9 39.2h0m-49.6-27.6h0m4.5-7.8h0m44.7-49.8h0m-39.8 65.6h0m-4.1-16.5h0m-14.1 17.4h0m6.1-8h0m18.9-4h0m-.1 4.5h0m32.2-60h0m4.5 23.1h0m-56.4 46.5h0m-56.6-25.6h0m33.6-77.6h0m-33.9 75.6h0m103.3 41.4h0m-41.4-19.6h0m7.4 4.2h0m13-57.6h0m-17.4 56.4h0m-65.1-5.1h0m80.6-61.4h0m27.5 1.1h0m-36.2 63.8h0m56.4-55.6h0m-128.3 45h0m110.3-52.9h0m-33.9 67.2h0m32.3-68.4h0m-78-.4h0m82.5 17.2h0m-112.3 36.8h0m56.2-3h0m20.8 9h0m-22.6 7h0m60.5-59.9h0m-.6 14.5h0m-7.9 62.4h0m3.2-85.2h0m-40.9 58.2h0m10.7 1.1h0m53.6-44.1h0m-67.4 51.6h0m34.8-63.5h0m-93.6 63.3h0m124.2-52.5h0m-73.4 47.7h0m41 23.7h0m9.1 .2h0m-.3-84.4h0m-107.9 39.6h0m124.6-28h0m-67.6 46.3h0m9-4.8h0m43.5-50.6h0m-41.3 47.4h0m-9.9 18.1h0m6.8-9.1h0m69.4-44.2h0m-71.7 34.7h0m7.7 11.1h0m3.4-48.4h0m2.1 42.9h0m-14.6 3.9h0m-62.3-6.4h0m123.9-43.3h0m-54.7 42.4h0m-6.2 16.6h0m10.9-4.5h0m-1-12.8h0m-8.2-.8h0m-1.2-10.2h0m-33.6-71.9h0m40.1 95.9h0m32.5-64h0m-30.8 67.7h0m-26.5-4h0m59.6-39h0m9.9-14.8h0m-53.9 44.2h0m6.3-14.5h0m-39.9-72.2h0m43.5 98.6h0m-36.6-65.8h0m23.7 50.6h0m16.1 6.7h0m-14.4 15.9h0m-63-31.4h0m6.8 11.8h0m-3.3-15.2h0m58.3 27.7h0m2-6.3h0m-57-13.8h0m76.5-29.5h0m53.7-4.9h0m-54.6 47.8h0m2-57.2h0m-9.4 59.1h0m-.6-11.2h0m-70-9.4h0m66.8 26.6h0m55.5-55.9h0m-52 54.8h0m62-55.4h0m-29.9 71.6h0m-71.1-83h0m-30.6 53.7h0m75.2 3.2h0m-70.5-16.5h0m-8.3-25.9h0m102.1-16.2h0m-31.9 1.5h0m-64 39.3h0m66.7 25.9h0m-.2-6.1h0m4.7-6.8h0m27.1 31.6h0m-71.8-116h0m42.9 93.2h0m-31.3-93.2h0m28.6 84.7h0m-76.6-12.3h0m141-24.6h0m-60.1 51.9h0m-4-13h0m-71.8 6.3h0m98 24h0m9.1-1h0m-102.8-32.1h0m93.4-49.6h0m-96.1 49.2h0m60.6 20.7h0m-59.2 .1h0m-1.3-30h0m-2.6-1.2h0m72.6 8.3h0m38.9-51h0m-51.3 57.8h0m-56.5-14h0m102-42.7h0m-41.8 64h0m-34.2-94.5h0m-21.1 94.3h0m-7.7-2.4h0m73.9-10.1h0m-8.4 5.9h0m40.8 24.8h0m-109.1-42h0m64 .3h0m54.1-30.5h0m-41.4 43.6h0m-68.7-12.8h0m69.6 26.7h0m-3-5.1h0m7.7-.9h0m1.4-3.1h0m-1.7-.7h0m-77-15.2h0m56.7 29.7h0m34.6-59.8h0m-39.5 29.2h0m11.7 9.1h0m12.3 13.7h0m-4.2 1.4h0m-3.2-13.2h0m-37.2-49h0m-30.3 39.2h0m112.2-33.3h0m-55.5 54.3h0m-42.7 3.3h0m-6.5-.4h0m106.6-47.8h0m-53.9 47.5h0m11.8-.2h0m2.8-11.1h0m-77-6.5h0m117.3-23.3h0m-112.5 16.4h0m49.9 27.8h0m40.1 22h0m-52.4-87.5h0m-43.5 59h0m72.2-6.6h0m-39.2-80.5h0m5.4-6.1h0m-33.9 84.1h0m60.8 12.2h0m-49.1 .9h0m105.6-53.3h0m-44 49.2h0m-14.3-10.4h0m1.5 13.5h0m-20.2-10.6h0m22-3.8h0m7.8 14.1h0m-73.4-12.7h0m108.3 34.1h0m-35.7-30.6h0m-73.5 1.1h0m114.6-48.3h0m-46.3 50.7h0m-51.6 6.8h0m43.8-8.9h0m65.7-36.9h0m-62.3 30.8h0m8 1.5h0m-67.8-7.3h0m68.7 20.1h0m25.2-66h0m-91.4 13.9h0m69.7 38.7h0m-62.2 13.4h0m-16.2-24h0m4.6 26.9h0m73.8-3.5h0m-2.7-13.6h0m47.6-37.5h0m-60.2 50.8h0m55.6-41.2h0m-111.7 29.6h0m57.1 .6h0m-60.6-12.6h0m3.4 23.2h0m109.4-44.6h0m-83.6-18h0m75.2 36.2h0m-71-70.3h0m33.5 102h0m54.8-47.2h0m-88.8-48.2h0m26.2 89.5h0m10.6 3.3h0m48.3-51.4h0m-48.5 35.5h0m-66-.1h0m62.7-3.5h0m56.9-25.8h0m-116.9 22.5h0m67.2 8.6h0m33.4-53.4h0m-32.2 60.3h0m-14.9-6.2h0m14.9-.1h0m-8.7 15.4h0m-32.2-67.1h0m-34.2 41h0m62.1 26h0m10.5-10h0m-14.9 10.5h0m13.6-17.7h0m-66.4 12.1h0m71.2-8.8h0m27.6-57.5h0m16.7 24.6h0m-125.7 18.4h0m77.6 15.2h0m-5.7 11.5h0m66.8-53.3h0m-76.4 54.7h0m3.1-12.6h0m13.9-3.1h0m-13.9 9.3h0m-26.4-94.3h0m25.4 93.4h0m17.7 3h0m-17.8-23.8h0m10.1 3h0m-9.2 29.2h0m55.3-53h0m-8.9 67.1h0m-27.6-19.1h0m-1.5-10.8h0m-7.7 2.4h0m-64.5-18.5h0m62.4 28.2h0m17.1-50.7h0m-15.8 25.2h0m41-42.9h0m-49.8 40h0m-17.6-72.4h0m34.6 87.2h0m56.6-38.2h0m-56.7 38.6h0m-4.5-4.1h0m4.6 5.8h0m31 28.5h0m-45.6-23h0m-46 4h0m80.5-71h0m-45.2 73.2h0m-14.9-99.9h0m37 83.2h0m-5.9 13.7h0m-10.1 8.3h0m9.3-3.6h0m-2.9-3.1h0m-.3-16.4h0m-1.1 14.6h0m-67.5-23.2h0m70.5 14.9h0m-5.1 1.6h0m8.9 7.3h0m-38.1-96.9h0m29.2 84.1h0m71.7-35.3h0m-16.6-.5h0m-50.9 50.2h0m40.3-69.3h0m-104.8 57.4h0m64.4 10.1h0m66.1-54.2h0m-14.8 11.2h0m-76.7-46.9h0m38.6 84.1h0m-11.7 .9h0m41.6 23.4h0m-1.1 .2h0m-38.3-30.1h0m11.6-40.8h0m-10.7 51.6h0m34.3 16.4h0m-1.3 2.4h0m-28.2-22.1h0m-74.9-1h0m34.2-95h0m71.2 115.5h0m2.3-82.7h0m-35.7 70.1h0m-38.1-102.1h0m-30.8 82.7h0m105-48.6h0m-32.5 62.4h0m-12.6-5.9h0m13.2 4.7h0m55.4-52.8h0m-53.3 47.5h0m23.1 27.5h0m-27.6-34.1h0m36.3-31.5h0m-111.3 25.1h0m72.9 24.5h0m42.5-56.4h0m-97.8 55.4h0m76.6-72.4h0m-88.3 69.4h0m107-65.4h0m-36.3 54.5h0m-46.3-84.5h0m48.3 98.5h0m-4.6-17.5h0m37.8-34.8h0m-106.5 32.4h0m-5.8 17.1h0m74.3-15.6h0m-11.9 6.2h0m63.4-43.3h0m-55.4 31.4h0m.2 1h0m59.7-33.1h0m-60.6 39.1h0m61-29.2h0m5.6-3.7h0m-17.6 1.7h0m-86.6-43.9h0m32.9 87.4h0m-65.6-1.7h0m64.6 4.9h0m-54.3-52.9h0m68.4 38.8h0m39-32h0m-31.5-1.3h0m-88.3 21.3h0m76.8 15.9h0m-.1-3.2h0m-10.4 21.1h0m-45.1-7.9h0m25.3-28.8h0m70.4 49.9h0m-43-19.2h0m-8.2 7.3h0m26.1-72.3h0m-15.2 47.8h0m-34.9-81.1h0m42.7 90.8h0m24.2 22.1h0m10.4-63.1h0m-49.6 39.5h0m-8.6-17.2h0m14.3 9.7h0m-7.4-10.1h0m40.8 41.9h0m-28.3-19.2h0m-11 4.8h0m52.4-50.8h0m-51 24.4h0m48.9-22.5h0m-55.4 42.3h0m-64.7-21.6h0m108.5 41.9h0m-42.3-8.7h0m1.7-7.3h0m48.4-52h0m-49.2 51.2h0m-62.1-23.7h0m-5.7 21.1h0m69.5 4h0m47-64.5h0m-70.1-34.4h0m22.3 103.4h0m-65.6-29.2h0m72.3 25.6h0m-.9-25h0m-35.2-75.8h0m41.7 84.8h0m36.9-52.2h0m-35.8 53.1h0m39.2-34.2h0m-113.7 22.8h0m67.8 3.5h0m-36.6-76.9h0m69.7 114.4h0m-104.8-39.4h0m44.7-72.6h0m84.7 40.5h0m-28.4 74.1h0m-38.6-44.6h0m-54.5-.1h0m-1.6 13.4h0m22.6-83.2h0m33 89.7h0m2.2 5h0m-60-21.9h0m54.6 23.9h0m-29.4-97.3h0m31.5 104h0m-53.2-22.9h0m96.2-53.1h0m-36.1 55h0m-67.6-9.1h0m120.7-27.3h0m-65.4 51.5h0m-50.1-28.8h0m73.6 24.4h0m-76.7-7.3h0m10.8 11h0m79.8-63.8h0m13.6 80.5h0m-2.9-87.7h0m-34.4 68.8h0m-56.7-1h0m-6.9-14.1h0m70.2 1.8h0m25.5-42h0m-34.9 41.2h0m2.2 .4h0m48.9-43.3h0m-114.6 53.8h0m32.1-93.6h0m79.4 117.1h0m-46.3-34.8h0m4 12.6h0m4.8 0h0m22.4-69h0m-94.9 76.9h0m31.4-102.6h0m.2 2.7h0m31.1 91.2h0m5-13h0m-8.2 5.5h0m15.4 5.2h0m-3.1 2.5h0m-5.4-3.9h0m38.2-59h0m-105.4 43.8h0m77.7 19.1h0m16-60.2h0m-92.7 65.8h0m72.6-17h0m33.7-46h0m-36.3 62.7h0m49.3-54.3h0m13.3 1.2h0m-29.3 67.9h0m-93.3-16.4h0m110.7-43.2h0m-15.1-22.7h0m-48.5 50.7h0m1.9 21.5h0m60.5-60.1h0m-4.2 10.3h0m-82.7-53.4h0m40.9 99.7h0m40.6-49.8h0m-9.4-21.9h0m-42.3 53.6h0m10.3 14.5h0m-5.2 1.4h0m47.3-50.1h0m-43.2 34.6h0m51.2-29.1h0m-91.6-55.6h0m42.2 42.5h0m28.2 76.7h0m-39.9-13.4h0m1.3-4.3h0m38 14.7h0m-102.6-20.2h0m68.2 .9h0m-2-23.6h0m-6.3 23h0m5.5-8h0m-68.8 7.3h0m115-59.3h0m-72.5-29.2h0m-43 87.7h0m3.7-8h0m69.5 12.5h0m46.7-56.2h0m-54.6 44h0m-37.1-81.8h0m35.2 88.1h0m11.8-53h0m27.3 3.9h0m20.2 3.2h0m-51.8 30.7h0m41.9 42.3h0m-109.2-46.5h0m6.7 23.5h0m33.9-97.3h0m23.1 91.3h0m-31.8-90.3h0m27 92.4h0m-56.2-16.9h0m127.8-33.1h0m-64 39.7h0m43.8-32.4h0m-50.7 44.8h0m4.8-4h0m-61.2-10.6h0m74.2 11.1h0m-6.2 7.5h0m-6.9-14.3h0m-19.1-45.8h0m57.4 81.3h0m-42.9-14.8h0m.2-16.4h0m6.2 10h0m34.6-66.5h0m-66.4-34.3h0m69.7 33.3h0m-2.2 86.2h0m-105-23.6h0m131.2-50.9h0m-66.1 39.7h0m-63.6-11.4h0m10.6-25.2h0m.1 52.9h0m30.3-99.7h0m-40.5 74.4h0m80 26.2h0m-65.6-2.3h0m-2.8-50.5h0m119.8 3.9h0m-135.1 21.6h0m31.8-71.3h0m53.8 91.2h0m-84.8 3.1h0m61.2-22.2h0m-24.8-38.4h0m63-1.3h0m-38.6 68.6h0m-57.5-29.3h0m73.7 28.2h0m-7-27.1h0m66.8-24.7h0m-56.2 47.2h0m-12.5-1h0m-20.4-91.6h0m33.8 89.9h0m56.6-48.4h0m-135.4 48.8h0m56.2-20.2h0m22.3 14.2h0m-1.3 12.4h0m.8-11.9h0m-11.4-2.2h0m41.6 28.4h0m-105.9-26.6h0m73.1 2.3h0m.7 6.9h0m-77.2-.8h0m63.4-10.5h0m-7.6 13.6h0m14.6-10.9h0m-7.2 5.8h0m10.9-7h0m-68.1-6.1h0m-.3-2.2h0m-8.3 15h0m106.8-59.1h0m-25.5 50.7h0m34.2-32.5h0m-13.3 73.2h0m4.3-81.9h0m-22.8 44.8h0m-2 1h0m-77.7-17.5h0m17.1 27.2h0m84.5-68.4h0m-38.7 41.3h0m-21.9-73.3h0m35 90.4h0m-2.4 8h0m-75.2-24.3h0m4.7 5.6h0m-7.1 17.2h0m6.4-7.9h0m26.8-90.1h0m75.6 38.4h0m-40 36h0m8.3 9.8h0m4.4 6.6h0m-16.8 11.9h0m-25.7-103.8h0m-.1 .3h0m38.3 100.5h0m30.1 21.6h0m12.8-67.6h0m-117.2 20.8h0m75 24.6h0m-.1 1h0m-32.3-64.6h0m37.7 63.8h0m-79.3-24.6h0m35.8-69.6h0m68.6 33h0m-49.6 63.2h0m74.4-57.2h0m-66.2 54.7h0m-60-26.1h0m72.1 25.7h0m-3.7-8.5h0m10.2 3.5h0m-5.3 4.4h0m-7.1-4.5h0m42.2-41.4h0m-33 39.3h0m-35-85.7h0m34.3 98h0m-7.3-22h0m63.9-30.4h0m-59.1 45.6h0m-8.3 3.3h0m67-55.4h0m-73.8 63.3h0m37.1-79.6h0m19 25.9h0m-107.7-6.8h0m54.6 59.1h0m-60.2-26h0m58.1 15h0m8.5-12h0m8.9 8.5h0m48.2-38.4h0m-9.3 1.8h0m-39.5 34.9h0m-5.8 5.4h0m-41.5-88.5h0m47 88.7h0m-41.9-87.4h0m-40.7 89.1h0m78.7-1.9h0m52.6-40.5h0m-43.3-13.1h0m-15.6 49.3h0m49.4-33.7h0m-52.3 27.4h0m31.9-56.5h0m24.2 19.1h0m-81.6-47h0m41.6 44.1h0m36.8 7.6h0m-43.9 46.7h0m-4.7-10.8h0m2.8 12.8h0m-70.4-11.9h0m78.4 13.1h0m-14.4-17.7h0m-35.6-83.1h0m47.2 83.9h0m-20 16.1h0m11.6-14.2h0m31 39.8h0m18.5-77.9h0m-51.6 51.2h0m40.9-64.6h0m-52.9 39.1h0m23.2 27h0m-76.1-16.1h0m-6.3 10.1h0m37.9-93.5h0m-29.1 94.2h0m-5.3-50.1h0m103.4-9.7h0m-95.3 9.4h0m22.1-45.8h0m-24.5 105h0m4.1-8.3h0m65.8-8.5h0m-80.3 8.2h0m65.6-4.3h0m18.3-.5h0m39.2-49.7h0m-54.7 46.9h0m37-53.3h0m-31.4 64.5h0m4.9-6.3h0m-68.5-17.5h0m78.4 15.7h0m30.4-55.8h0m-9.5 81.4h0m-33.9-32.3h0m9 7h0m-18.8 15.4h0m47.6 7.7h0m-35.1-29h0m5 1.3h0m-13.7 7.4h0m11.1 4.3h0m35.7-63.4h0m-47.5 47.4h0m2.2 1h0m-60.3-8.6h0m-1.7 2.3h0m32.7-69.5h0m69.4 28.5h0m-33.5 64.4h0m59.4-48.8h0m-59.7 38h0m-66.7 5.3h0m52-20.6h0m6.1 10.6h0m7.3 8.1h0m-9.7-1.6h0m14 3.2h0m49.3-49.5h0m-12.9-11h0m-33.4 61.7h0m.2 5.4h0m-4-17.7h0m53.6-29.4h0m-66.3 36.4h0m18.2 10.7h0m.9-70.7h0m25 88.2h0m-33.2-35.8h0m42.3 35h0m-26.3-70.6h0m-88.5 47.9h0m107.5 21.8h0m-47.5-16.4h0m76.3-54.8h0m-133.5 29.7h0m66-1.2h0m-7.3 12h0m2.4-.6h0m44.2-53.5h0m25.2 12.1h0m-55.1 55h0m-39-98.8h0m36.1 98.7h0m26.3-70.7h0m-98.9 56h0m-2.3-9.2h0m2.4 10.1h0m109.2-51.6h0m22.7 10.4h0m-131.8 .4h0m41.7-43.3h0m14.6 99.2h0m-52-27.1h0m55.3 21.9h0m12.3-3.6h0m-2.4-10h0m1.4 12h0m-71.5 2.6h0m67.3-1.2h0m-35.4-88.9h0m37.5 94.5h0m7.7-4.6h0m-1.2-8.5h0m-15.9 5.5h0m46.6 23.3h0m-34.8-31.7h0m-6.3-3.3h0m29 42.5h0m-32.4-39.3h0m5.9 16.1h0m-71.9-55.5h0m80.7 50h0m.2-2.8h0m-78.5-16.7h0m113.3-41.9h0m-81.7-2.8h0m-21.1 67h0m33.6-94.7h0m33.2 90.8h0m-5.9-12.8h0m43.5 36.4h0m-112.1-13.4h0m113.2-63.4h0m-55.1 46h0m-55.6-9.3h0m105.6-44.1h0m7.5 21.4h0m-120.2 19h0m109-42h0m-104.7 57.7h0m35.5-91.4h0m24.5 97.1h0m6.2-11.2h0m-64.1-39.5h0m71.3 52.2h0m-33.2-58.7h0m27.5 45.3h0m-64.8 .1h0m.5-1.8h0m71.3 5.2h0m-62.9 13.1h0m88.7-66.3h0m31.3 11.7h0m-102.2-47.2h0m45.3 102h0m-7.7-8h0m0 8.6h0m-4.4-16.5h0m-69.6 10.9h0m31.9-95.9h0m76.9 114.2h0m9.6 3.6h0m-53.1-29h0m75.3-43.2h0m-126.8 1h0m57.7 28.7h0m9.3 11.1h0m27.5-52.2h0m-26.1 54.6h0m50-45.7h0m-13.9-4.2h0m-115.8 34.1h0m102.4-44.2h0m-22.1 65.9h0m-46.9-92.8h0m45.7 100.3h0m-11.4-3.4h0m-3.6-3.7h0m-61-.3h0m106.8 24.8h0m-72.8-117.5h0m-30.4 72.2h0m60.5 19.3h0m38.8-64.1h0m-39.3 72.9h0m4.2-.9h0m46.6-56.9h0m-47.9 55.1h0m41.6 18.5h0m-94.9-21h0m18.2-89.1h0m78.7 27.7h0m-109.8 51.5h0m24.9-86.3h0m-12.2 97h0m-18.7-25.6h0m112.2-42.8h0m-46.2 58.3h0m13.9-3.6h0m28.4-52h0m-39.6 68.7h0m-52.6-3.9h0m-8.6-20.9h0m53.2-2.2h0m47.6 42.2h0m1.8-1.5h0m-109.4-41.8h0m68.6 33.1h0m-26.4-106.7h0m-27.6 96.9h0m90.3-67.3h0m18.7 20.6h0m-49.9 39.1h0m2.8-45h0m-45.1-42.9h0m89.9 52.8h0m-17.8-18.9h0m34 15.7h0m-122.5-4.1h0m124.7 3.3h0m-3.6-5.3h0m-29.6 74.3h0m-23.8-23.3h0m-17.6 2.1h0m-62.7-22.5h0m62.5 14.2h0m63.4-44.2h0m-127.2 28.7h0m68.3 26.4h0m1.8-3.4h0m4.4-14.3h0m-11.4 23h0m5.2-31.9h0m2.7 26.4h0m43 17.9h0m-.4 1.5h0m-7.2-89.7h0m-27.7 71.7h0m-4.5-17.1h0m27.8-36.1h0m-23.5 36.9h0m-74.2 .8h0m100.4 29.1h0m-52.6-76.5h0m-38.9 58.8h0m54 .7h0m57.1-50.1h0m-53 52.6h0m-60.6-54.2h0m.7 50.6h0m66.2-8.4h0m-11.2 9.5h0m8.5-4.2h0m-64 2.9h0m60.2-13.6h0m4.8 .3h0m-11.7 2.2h0m22.4-58.6h0m-18.8 75.8h0m5.7-2.7h0m-20.6-63.5h0m-22.2-36.1h0m-30 94.2h0m102-64.6h0m-62.7-28.3h0m4.4-1.6h0m28 101.6h0m-64.7-3.3h0m36.3-93h0m21.3 95.2h0m45 16.2h0m-29.3-22.8h0m-12.7 1h0m-48.3 4.4h0m55.5-10h0m5.6 3.4h0m-43.4-92.6h0m73.6 30.6h0m-8.5 4.9h0m0 5.8h0m1.5-7.2h0m8.3-1.4h0m-47.6 56h0m-16.3-16.2h0m25 12.1h0m-2.2 17.5h0m-9.7 1.3h0m-53.9-29.4h0m60 17.2h0m-63.3-17.6h0m98.2 51.9h0m11.9-90.7h0m-38 63.2h0m-73.7-21.8h0m53.3-2.4h0m19.6 27.2h0m35.2 18.2h0m7.5-74.7h0m-7.8-11.5h0m-32 64.5h0m-80.3-23h0m64.7 13.4h0m2.6-3h0m41.6-55.8h0m-47.3 46.2h0m13 14.6h0m7.6-4.1h0m-76.4-5.7h0m60 5.8h0m14.5 8.1h0m-1.7-10.4h0m41.7-30.9h0m-47.8 47.4h0m-5.5-1.8h0m13.2-7.2h0m27.7 29.1h0m-98.3-42.9h0m72.4 9.3h0m9-54.2h0m-9.9 64.1h0m56.8-44.4h0m-131.4 26.9h0m-6-32h0m103.5-17.9h0m-38.9 65.8h0m11.4 4h0m-12.9-8.2h0m8.7 .4h0m9.9-2h0m-2.4-3h0m-73.3-13.3h0m58.5 32.2h0m6-17.7h0m37.3 29.3h0m-21.2-24.8h0m-17.3 1.6h0m-4.4 13.6h0m17.6-6.2h0m54.9-49.1h0m-57.9 34.8h0m-22-6.6h0m71.9-24.8h0m-67.5 18.4h0m19.2 25.7h0m-21-25h0m-45.7-28.1h0m114.9-2.2h0m-50.9 42.4h0m-10.9-1.5h0m-3.5 4.8h0m55.8-33h0m-53.1 16.5h0m71.7-23.8h0m-63.3 34.2h0m4.9 1.9h0m-30.1 8.8h0m59.6 20.1h0m.6-44.3h0m-40.2 30.6h0m52.5-49.3h0m-12.1 67h0m-39-82.6h0m55.7 8.7h0m-76.8-9.7h0m-43.3 38.6h0m69.3 25.7h0m-72.3-12h0m72.4 12.8h0m31.1 17.7h0m-59.9-115.9h0m-40.5 71.3h0m74.5 22.5h0m55.2-44.9h0m-133.1 24.5h0m104.9-44.1h0m-29.5 62.2h0m58.4-45.3h0m-80 26.4h0m-50.6 10.8h0m103.4-50.7h0m-35.2 65.1h0m-10.9-7.2h0m55.2-48h0m-106.7 1.6h0m55.3 38.5h0m2.4-11.7h0m-63.4 4.1h0m71.9 21.5h0m-14.3-9h0m-2.2-15h0m50.1-44.3h0m-76.1-28.3h0m7.3-1.5h0m39.7 96.1h0m-6.2-7.4h0m-1.6 3.7h0m-19.5 9.2h0m-53.4-7.4h0m98.5 28h0m-89.7-23.6h0m35.4-61.9h0m-1.6-36.1h0m-37.1 102.8h0m62.3-1.2h0m49.6-57.7h0m-49.3 55.3h0m-6-5.1h0m7.5-16.8h0m-65.2-33.1h0m28.1-44.7h0m28.8 90.8h0m-57.3-13.1h0m97-45.6h0m-98.1 14h0m59.5 40.8h0m-58.5 1.8h0m33.9-81.2h0m29.5 94.3h0m1.2-1.8h0m-3.1-1h0m55.1-50.7h0m-51 50.9h0m27.1-53.5h0m-94.7 41.9h0m41.7-18.7h0m31.2 22.5h0m-6.1 8.1h0m5.2-4.4h0m-9.4-8.5h0m46.4-50.4h0m-50.1 70.8h0m-15-38.7h0m59.4-33.4h0m-96.1 11.8h0m24.4-46.8h0m26.8 86.3h0m.3 4.4h0m43.1 23.3h0m-1.5-86.1h0m-73.3-27.6h0m-19.7 47.5h0m26.5-46.2h0m35.9 99h0m4.3-9h0m-61.1 7h0m-19.3-2.3h0m82.4-.2h0m-77.3-24.2h0m74.8 27.3h0m-38.9-100.8h0m68.9 121h0m1.4-.4h0m23.1-65.4h0m-119.2 43.6h0m50.7-7.3h0m3.8-5.4h0m56.9-30.9h0m-51.6 21.5h0m-14.9 26.6h0m-14.8-101.6h0m39.4 91.4h0m13.1-49.2h0m12.7-4.7h0m-70.6-38h0m62.8 26.8h0m-25.7 75.1h0m-36.1-100.1h0m26.2 71.5h0m4.2 27.9h0m-63.9-10.8h0m112.6 29.3h0m-112-25.1h0m39.1-93.8h0m29.3 98.1h0m-8.3-13.5h0m-25.8-83.6h0m-35.9 86.4h0m72.6 11.3h0m-6.1-14.1h0m2.2 6.8h0m31.8 23.3h0m-28.5-13.8h0m-74.6-5.6h0m108.4 21.4h0m-98.9-70.4h0m-6.6 44.2h0m4.8-6.5h0m60.4-.9h0m-6.2 12.9h0m9.6-21h0m-6.5 8.7h0m-7-9.3h0m55 44.8h0m-32.9-25.9h0m1.2 4h0m-17.1-10.6h0m2.8 6.8h0m-35.3-93.2h0m-27.2 79.4h0m74 20.5h0m-2.4-.9h0m-8.2 3.4h0m38.6 12.7h0m-32-17.1h0m-68.1-18.1h0m27.3-79.8h0m43.7 85.4h0m-14.9 6.9h0m15.7 7.3h0m-35-101h0m-29.3 98.4h0m57.9-13.5h0m24.6-35.8h0m-32.2 49.3h0m7.5-15.4h0m-9 13.9h0m2.5-23h0m53.2-30.7h0m-116.8 53.9h0m124.8-53.1h0m-99.4-40.1h0m16.4 3.6h0m-29.9 93.4h0m59.3-60.5h0m-68 61.8h0m58.1-4.8h0m50.2 22h0m-38.4-35.2h0m45.7-36.5h0m-90.9-46.5h0m55.1 92.1h0m-39.6-91.7h0m35.5 96.5h0m.6-5.4h0m25.1 22.4h0m16.1-67.6h0m-78.1-46.7h0m57.4 126h0m-69.7-125.7h0m30.4 90.2h0m10.4 11h0m-17.5-28h0m64.4-18.9h0m-84.5-47.2h0m-33.4 37.8h0m5.3 35.6h0m-.4 5.4h0m70.3-4.5h0m46.3-36.5h0m-83.5-46.7h0m22.4 94.6h0m17.7-.3h0m22.7 27h0m-74.3-118.3h0m45.6 82h0m-4.3 17.1h0m8.2-15.7h0m-12.3 12.2h0m53.4-45.9h0m-38.7 40.8h0m.6-3.5h0m-19 0h0m48.9-50.9h0m-105.1 58.3h0m1-17.6h0m65.4 23h0m-8.8-27.2h0m13.5 18h0m21.4-53h0m-20.9 61.2h0m-14.1-17.5h0m-58.6-8.7h0m61.5 26.8h0m9.2-11.3h0m-73.9-15.7h0m65.5 23.8h0m39.1 19.2h0m-28.6-32.8h0m-64.2 12.8h0m-14.6-23h0m65.2 21.4h0m-6.3-21.2h0m-3 25.4h0m-49.8-26.1h0m125.7-30.4h0m-87.4-39.3h0m20 86.4h0m7.7-15.9h0m34.7-45.5h0m-39.7 60.4h0m51.9-40.9h0m-117.8 28.3h0m58.6 23.4h0m-55-26.7h0m80.9 16.9h0m-12.4-13.8h0m-50.8 23.1h0m83.5 14h0m-64.9-112.4h0m37.2 95.6h0m-39.7-96.7h0m24.3 83.9h0m18.5 10.4h0m-14.3 8.4h0m-30.8-102.5h0m85.4 51.6h0m-47.5 49.8h0m-39.3-94.6h0m7.3-7.1h0m24.1 85h0m8-1.9h0m6.1 17h0m-10-12.9h0m-29.8-89.3h0m25.3 75.4h0m-2.4 19.1h0m1.9 4.8h0m4.3 6h0m-3.6-29.4h0m5.1 1.3h0m6 9.5h0m-31.8-83.5h0m-11.6-2.3h0m-26.7 86.9h0m71.2-.7h0m-75.7 12.1h0m75.2-14.5h0m-12.2-8.4h0m-62.5-26.5h0m60.7 43.9h0m8.6-6.2h0m-18.3-6.8h0m53.1-43.5h0m20.3 10h0m-119.6 50.8h0m60.9-11.5h0m-5.4 10.1h0m-56-17.1h0m105.7-25.4h0m-35.5 43.4h0m-2.8 5.8h0m-71.8-24.2h0m65.7 7.4h0m35.3-39.9h0m-26.8-14.6h0m31.3 88.7h0m11.3-71.4h0m-115.5 47.6h0m72.9-8.4h0m53.2-44.7h0m-53.2 49.3h0m39.5-53.6h0m-18.4 5.1h0m-30.8 63.2h0m52.1-49.3h0m-38.2 36.5h0m54.4-41.2h0m-32.2 63.3h0m8.3 .8h0m-73.5-107.4h0m-29.9 65.3h0m9.7 26.3h0m-13.8-26.7h0m76.5 13.3h0m44.1-32.2h0m-46.9 35.4h0m57.9-45.5h0m-79.9 56.3h0m9.3-11.4h0m12.1-4.3h0m.3-2h0m-2.8 1h0m-10.8 10.9h0m42.9-56.5h0m-2.4 87h0m-66-124.9h0m28.6 94.8h0m-1.3-9.7h0m46.2 31h0m-6.7-76.5h0m-69.3-4.1h0m-26 37.8h0m-4.3 9h0m61.4 2.2h0m2.1-1.8h0m69.6-36.2h0m-18.7-3.9h0m-49.2 56.8h0m-2.2-14h0m5.2 1.5h0m-9.9 5.5h0m46.8 21.6h0m-45.7-18h0m-.9-7.7h0m41.4 24.9h0m29.6-70.1h0m-29-9.2h0m-24.9 60.1h0m-78.9-20.8h0m5.3-.5h0m114.6-23.8h0m-6.2 70.5h0m-109.2-24h0m67.9 2.7h0m-59.5 .3h0m3.2 1.1h0m-3.2-53.3h0m26.1-46.5h0m43.8 92.3h0m-45.5-90.5h0m40.9 85.2h0m23.9-51.7h0m-45.7 39.9h0m-39.7 23.9h0" />
<path fill="none" stroke="#e41a1c" stroke-width="1.2" stroke-linecap="round" d="M415.2 136.5h0m.7-.3h0m-1.4 .7h0" />
<text x="253.2" y="105" font-size="8.2" text-anchor="middle" fill="#222" transform="rotate(-90 253.2 105)">UMAP_2</text>
<text x="357" y="189" font-size="8.2" text-anchor="middle" fill="#222">UMAP_1</text>
<circle cx="431.5" cy="105" r="2.6" fill="#e41a1c" />
<circle cx="431.5" cy="115.4" r="2.6" fill="#3a7fc0" />
<text x="438.2" y="106" font-size="7.8" fill="#222">T<tspan font-size="4.5" dy="2.1">CyEM</tspan></text>
<text x="438.2" y="116.4" font-size="7.8" fill="#222">T<tspan font-size="4.5" dy="2.1">CM</tspan></text>
</g>
<g id="panelB">
<text x="435.3" y="10.6" font-size="14" font-weight="bold">b</text>
<rect x="499.5" y="5.3" width="154.8" height="56" fill="#fff" stroke="#555" stroke-width="1.1" />
<circle cx="505.2" cy="9.3" r="0.85" fill="#3030e0" />
<circle cx="513.64" cy="9.3" r="2.75" fill="#ff7f0e" />
<circle cx="522.08" cy="9.3" r="0.85" fill="#3030e0" />
<circle cx="530.52" cy="9.3" r="0.85" fill="#3030e0" />
<circle cx="538.96" cy="9.3" r="0.85" fill="#3030e0" />
<circle cx="547.4" cy="9.3" r="0.85" fill="#3030e0" />
<circle cx="555.84" cy="9.3" r="0.85" fill="#3030e0" />
<circle cx="564.28" cy="9.3" r="0.85" fill="#1c1c7a" />
<circle cx="572.72" cy="9.3" r="0.85" fill="#8a8a98" />
<circle cx="581.16" cy="9.3" r="0.85" fill="#8a8a98" />
<circle cx="589.6" cy="9.3" r="0.85" fill="#3030e0" />
<circle cx="598.04" cy="9.3" r="0.85" fill="#3030e0" />
<circle cx="606.48" cy="9.3" r="0.85" fill="#8a8a98" />
<circle cx="614.92" cy="9.3" r="0.85" fill="#8a8a98" />
<circle cx="623.36" cy="9.3" r="0.85" fill="#3030e0" />
<circle cx="631.8" cy="9.3" r="0.85" fill="#3030e0" />
<circle cx="640.24" cy="9.3" r="0.85" fill="#1c1c7a" />
<circle cx="648.68" cy="9.3" r="0.85" fill="#1c1c7a" />
<circle cx="505.2" cy="15.35" r="0.85" fill="#ff4a22" />
<circle cx="513.64" cy="15.35" r="0.85" fill="#ffb414" />
<circle cx="522.08" cy="15.35" r="0.85" fill="#ff4a22" />
<circle cx="530.52" cy="15.35" r="0.85" fill="#ffb414" />
<circle cx="538.96" cy="15.35" r="0.85" fill="#ff4a22" />
<circle cx="547.4" cy="15.35" r="0.85" fill="#ff8c1a" />
<circle cx="555.84" cy="15.35" r="0.85" fill="#ff4a22" />
<circle cx="564.28" cy="15.35" r="0.85" fill="#ff8c1a" />
<circle cx="572.72" cy="15.35" r="0.85" fill="#ff4a22" />
<circle cx="581.16" cy="15.35" r="0.85" fill="#ff8c1a" />
<circle cx="589.6" cy="15.35" r="0.85" fill="#ff4a22" />
<circle cx="598.04" cy="15.35" r="0.85" fill="#ff8c1a" />
<circle cx="606.48" cy="15.35" r="0.85" fill="#ff4a22" />
<circle cx="614.92" cy="15.35" r="0.85" fill="#ffb414" />
<circle cx="623.36" cy="15.35" r="2.75" fill="#ff0a00" />
<circle cx="631.8" cy="15.35" r="0.85" fill="#ff8c1a" />
<circle cx="640.24" cy="15.35" r="2.75" fill="#ff0000" />
<circle cx="648.68" cy="15.35" r="2.75" fill="#ff5a10" />
<circle cx="505.2" cy="21.4" r="0.85" fill="#3030e0" />
<circle cx="513.64" cy="21.4" r="0.85" fill="#ff8c1a" />
<circle cx="522.08" cy="21.4" r="0.85" fill="#3030e0" />
<circle cx="530.52" cy="21.4" r="0.85" fill="#ff8c1a" />
<circle cx="538.96" cy="21.4" r="0.85" fill="#1c1c7a" />
<circle cx="547.4" cy="21.4" r="0.85" fill="#ff8c1a" />
<circle cx="555.84" cy="21.4" r="0.85" fill="#3030e0" />
<circle cx="564.28" cy="21.4" r="0.85" fill="#ff8c1a" />
<circle cx="572.72" cy="21.4" r="0.85" fill="#1c1c7a" />
<circle cx="581.16" cy="21.4" r="0.85" fill="#ff8c1a" />
<circle cx="589.6" cy="21.4" r="0.85" fill="#1c1c7a" />
<circle cx="598.04" cy="21.4" r="0.85" fill="#ff8c1a" />
<circle cx="606.48" cy="21.4" r="0.85" fill="#1c1c7a" />
<circle cx="614.92" cy="21.4" r="0.85" fill="#ff8c1a" />
<circle cx="623.36" cy="21.4" r="0.85" fill="#a8a848" />
<circle cx="631.8" cy="21.4" r="0.85" fill="#ff8c1a" />
<circle cx="640.24" cy="21.4" r="0.85" fill="#e8e010" />
<circle cx="648.68" cy="21.4" r="2.75" fill="#ff8c00" />
<circle cx="505.2" cy="27.45" r="0.85" fill="#8a8a98" />
<circle cx="513.64" cy="27.45" r="0.85" fill="#ff8c1a" />
<circle cx="522.08" cy="27.45" r="0.85" fill="#3030e0" />
<circle cx="530.52" cy="27.45" r="0.85" fill="#ff8c1a" />
<circle cx="538.96" cy="27.45" r="0.85" fill="#3030e0" />
<circle cx="547.4" cy="27.45" r="0.85" fill="#ff8c1a" />
<circle cx="555.84" cy="27.45" r="0.85" fill="#3030e0" />
<circle cx="564.28" cy="27.45" r="0.85" fill="#ff8c1a" />
<circle cx="572.72" cy="27.45" r="0.85" fill="#3030e0" />
<circle cx="581.16" cy="27.45" r="0.85" fill="#ff8c1a" />
<circle cx="589.6" cy="27.45" r="0.85" fill="#3030e0" />
<circle cx="598.04" cy="27.45" r="0.85" fill="#ff8c1a" />
<circle cx="606.48" cy="27.45" r="0.85" fill="#3030e0" />
<circle cx="614.92" cy="27.45" r="0.85" fill="#ff8c1a" />
<circle cx="623.36" cy="27.45" r="0.85" fill="#3030e0" />
<circle cx="631.8" cy="27.45" r="0.85" fill="#ff8c1a" />
<circle cx="640.24" cy="27.45" r="0.85" fill="#ff4a22" />
<circle cx="648.68" cy="27.45" r="2.75" fill="#ff4a00" />
<circle cx="505.2" cy="33.5" r="2.75" fill="#cccc30" />
<circle cx="513.64" cy="33.5" r="0.85" fill="#3030e0" />
<circle cx="522.08" cy="33.5" r="2.75" fill="#ffc800" />
<circle cx="530.52" cy="33.5" r="0.85" fill="#e8e010" />
<circle cx="538.96" cy="33.5" r="0.85" fill="#a8a848" />
<circle cx="547.4" cy="33.5" r="0.85" fill="#151515" />
<circle cx="555.84" cy="33.5" r="0.85" fill="#a8a848" />
<circle cx="564.28" cy="33.5" r="0.85" fill="#3030e0" />
<circle cx="572.72" cy="33.5" r="0.85" fill="#a8a848" />
<circle cx="581.16" cy="33.5" r="0.85" fill="#1c1c7a" />
<circle cx="589.6" cy="33.5" r="0.85" fill="#a8a848" />
<circle cx="598.04" cy="33.5" r="0.85" fill="#3030e0" />
<circle cx="606.48" cy="33.5" r="0.85" fill="#a8a848" />
<circle cx="614.92" cy="33.5" r="0.85" fill="#3030e0" />
<circle cx="623.36" cy="33.5" r="0.85" fill="#a8a848" />
<circle cx="631.8" cy="33.5" r="0.85" fill="#1c1c7a" />
<circle cx="640.24" cy="33.5" r="0.85" fill="#a8a848" />
<circle cx="648.68" cy="33.5" r="0.85" fill="#1c1c7a" />
<circle cx="505.2" cy="39.55" r="2.75" fill="#ff6a00" />
<circle cx="513.64" cy="39.55" r="0.85" fill="#e8e010" />
<circle cx="522.08" cy="39.55" r="0.85" fill="#ff8c1a" />
<circle cx="530.52" cy="39.55" r="0.85" fill="#3030e0" />
<circle cx="538.96" cy="39.55" r="0.85" fill="#ff8c1a" />
<circle cx="547.4" cy="39.55" r="0.85" fill="#3030e0" />
<circle cx="555.84" cy="39.55" r="0.85" fill="#ff8c1a" />
<circle cx="564.28" cy="39.55" r="0.85" fill="#3030e0" />
<circle cx="572.72" cy="39.55" r="0.85" fill="#ff8c1a" />
<circle cx="581.16" cy="39.55" r="0.85" fill="#3030e0" />
<circle cx="589.6" cy="39.55" r="0.85" fill="#ff8c1a" />
<circle cx="598.04" cy="39.55" r="0.85" fill="#3030e0" />
<circle cx="606.48" cy="39.55" r="0.85" fill="#ff8c1a" />
<circle cx="614.92" cy="39.55" r="0.85" fill="#3030e0" />
<circle cx="623.36" cy="39.55" r="0.85" fill="#ff8c1a" />
<circle cx="631.8" cy="39.55" r="0.85" fill="#8a8a98" />
<circle cx="640.24" cy="39.55" r="0.85" fill="#ff8c1a" />
<circle cx="648.68" cy="39.55" r="0.85" fill="#8a8a98" />
<circle cx="505.2" cy="45.6" r="0.85" fill="#e8e010" />
<circle cx="513.64" cy="45.6" r="0.85" fill="#a8a848" />
<circle cx="522.08" cy="45.6" r="0.85" fill="#e8e010" />
<circle cx="530.52" cy="45.6" r="0.85" fill="#a8a848" />
<circle cx="538.96" cy="45.6" r="2.75" fill="#ff8c00" />
<circle cx="547.4" cy="45.6" r="2.75" fill="#ff9a00" />
<circle cx="555.84" cy="45.6" r="2.75" fill="#ffbb00" />
<circle cx="564.28" cy="45.6" r="2.75" fill="#ffdc00" />
<circle cx="572.72" cy="45.6" r="0.85" fill="#e8e010" />
<circle cx="581.16" cy="45.6" r="0.85" fill="#a8a848" />
<circle cx="589.6" cy="45.6" r="0.85" fill="#ff4a22" />
<circle cx="598.04" cy="45.6" r="0.85" fill="#ff4a22" />
<circle cx="606.48" cy="45.6" r="0.85" fill="#e8e010" />
<circle cx="614.92" cy="45.6" r="0.85" fill="#a8a848" />
<circle cx="623.36" cy="45.6" r="0.85" fill="#e8e010" />
<circle cx="631.8" cy="45.6" r="0.85" fill="#a8a848" />
<circle cx="640.24" cy="45.6" r="0.85" fill="#e8e010" />
<circle cx="648.68" cy="45.6" r="0.85" fill="#a8a848" />
<circle cx="505.2" cy="51.65" r="0.85" fill="#a8a848" />
<circle cx="513.64" cy="51.65" r="0.85" fill="#a8a848" />
<circle cx="522.08" cy="51.65" r="2" fill="#dede20" />
<circle cx="530.52" cy="51.65" r="0.85" fill="#a8a848" />
<circle cx="538.96" cy="51.65" r="2.75" fill="#ffa800" />
<circle cx="547.4" cy="51.65" r="2.75" fill="#ffa800" />
<circle cx="555.84" cy="51.65" r="2.75" fill="#ffbb00" />
<circle cx="564.28" cy="51.65" r="2.75" fill="#ffc800" />
<circle cx="572.72" cy="51.65" r="0.85" fill="#a8a848" />
<circle cx="581.16" cy="51.65" r="0.85" fill="#a8a848" />
<circle cx="589.6" cy="51.65" r="2.75" fill="#ffaa00" />
<circle cx="598.04" cy="51.65" r="2.75" fill="#ffbb00" />
<circle cx="606.48" cy="51.65" r="0.85" fill="#a8a848" />
<circle cx="614.92" cy="51.65" r="0.85" fill="#a8a848" />
<circle cx="623.36" cy="51.65" r="0.85" fill="#a8a848" />
<circle cx="631.8" cy="51.65" r="0.85" fill="#a8a848" />
<circle cx="640.24" cy="51.65" r="0.85" fill="#a8a848" />
<circle cx="648.68" cy="51.65" r="0.85" fill="#a8a848" />
<circle cx="505.2" cy="57.7" r="0.85" fill="#ff8c1a" />
<circle cx="513.64" cy="57.7" r="2.75" fill="#ff7700" />
<circle cx="522.08" cy="57.7" r="0.85" fill="#ff8c1a" />
<circle cx="530.52" cy="57.7" r="2.75" fill="#ff5500" />
<circle cx="538.96" cy="57.7" r="0.85" fill="#ff8c1a" />
<circle cx="547.4" cy="57.7" r="2.75" fill="#ff4400" />
<circle cx="555.84" cy="57.7" r="0.85" fill="#ff8c1a" />
<circle cx="564.28" cy="57.7" r="2.75" fill="#ff6600" />
<circle cx="572.72" cy="57.7" r="0.85" fill="#ff8c1a" />
<circle cx="581.16" cy="57.7" r="2.75" fill="#ff6600" />
<circle cx="589.6" cy="57.7" r="0.85" fill="#ff8c1a" />
<circle cx="598.04" cy="57.7" r="2.75" fill="#ff6600" />
<circle cx="606.48" cy="57.7" r="0.85" fill="#e8e010" />
<circle cx="614.92" cy="57.7" r="2" fill="#ff8c00" />
<circle cx="623.36" cy="57.7" r="0.85" fill="#ff8c1a" />
<circle cx="631.8" cy="57.7" r="2.75" fill="#ff5a00" />
<circle cx="640.24" cy="57.7" r="0.85" fill="#ff8c1a" />
<circle cx="648.68" cy="57.7" r="2.75" fill="#ff6a00" />
<text x="454.2" y="10.4" font-size="5" fill="#f26b6b" textLength="27.13" lengthAdjust="spacingAndGlyphs">PDCD1LG2::</text>
<text x="481.34" y="10.4" font-size="5" fill="#3f8fe6" textLength="15.76" lengthAdjust="spacingAndGlyphs">PDCD1</text>
<line x1="498.1" y1="9.3" x2="499.5" y2="9.3" stroke="#555" stroke-width="0.5" />
<text x="461.18" y="16.45" font-size="5" fill="#f26b6b" textLength="20.16" lengthAdjust="spacingAndGlyphs">CXCL12::</text>
<text x="481.34" y="16.45" font-size="5" fill="#3f8fe6" textLength="15.76" lengthAdjust="spacingAndGlyphs">CXCR4</text>
<line x1="498.1" y1="15.35" x2="499.5" y2="15.35" stroke="#555" stroke-width="0.5" />
<text x="467.38" y="22.5" font-size="5" fill="#f26b6b" textLength="17.06" lengthAdjust="spacingAndGlyphs">CCL21::</text>
<text x="484.44" y="22.5" font-size="5" fill="#3f8fe6" textLength="12.66" lengthAdjust="spacingAndGlyphs">CCR7</text>
<line x1="498.1" y1="21.4" x2="499.5" y2="21.4" stroke="#555" stroke-width="0.5" />
<text x="467.38" y="28.55" font-size="5" fill="#f26b6b" textLength="17.06" lengthAdjust="spacingAndGlyphs">CCL19::</text>
<text x="484.44" y="28.55" font-size="5" fill="#3f8fe6" textLength="12.66" lengthAdjust="spacingAndGlyphs">CCR7</text>
<line x1="498.1" y1="27.45" x2="499.5" y2="27.45" stroke="#555" stroke-width="0.5" />
<text x="467.38" y="34.6" font-size="5" fill="#f26b6b" textLength="15.24" lengthAdjust="spacingAndGlyphs">CCR6::</text>
<text x="482.63" y="34.6" font-size="5" fill="#3f8fe6" textLength="14.47" lengthAdjust="spacingAndGlyphs">CCL20</text>
<line x1="498.1" y1="33.5" x2="499.5" y2="33.5" stroke="#555" stroke-width="0.5" />
<text x="461.18" y="40.65" font-size="5" fill="#f26b6b" textLength="20.16" lengthAdjust="spacingAndGlyphs">CXCL10::</text>
<text x="481.34" y="40.65" font-size="5" fill="#3f8fe6" textLength="15.76" lengthAdjust="spacingAndGlyphs">CXCR3</text>
<line x1="498.1" y1="39.55" x2="499.5" y2="39.55" stroke="#555" stroke-width="0.5" />
<text x="470.74" y="46.7" font-size="5" fill="#f26b6b" textLength="17.57" lengthAdjust="spacingAndGlyphs">FASLG::</text>
<text x="488.31" y="46.7" font-size="5" fill="#3f8fe6" textLength="8.79" lengthAdjust="spacingAndGlyphs">FAS</text>
<line x1="498.1" y1="45.6" x2="499.5" y2="45.6" stroke="#555" stroke-width="0.5" />
<text x="456.03" y="52.75" font-size="5" fill="#f26b6b" textLength="20.15" lengthAdjust="spacingAndGlyphs">TNFSF9::</text>
<text x="476.18" y="52.75" font-size="5" fill="#3f8fe6" textLength="20.92" lengthAdjust="spacingAndGlyphs">TNFRSF9</text>
<line x1="498.1" y1="51.65" x2="499.5" y2="51.65" stroke="#555" stroke-width="0.5" />
<text x="462.21" y="58.8" font-size="5" fill="#f26b6b" textLength="16.02" lengthAdjust="spacingAndGlyphs">HLA-F::</text>
<text x="478.23" y="58.8" font-size="5" fill="#3f8fe6" textLength="18.87" lengthAdjust="spacingAndGlyphs">KIR3DL2</text>
<line x1="498.1" y1="57.7" x2="499.5" y2="57.7" stroke="#555" stroke-width="0.5" />
<line x1="505.2" y1="61.3" x2="505.2" y2="62.5" stroke="#555" stroke-width="0.5" />
<line x1="513.64" y1="61.3" x2="513.64" y2="62.5" stroke="#555" stroke-width="0.5" />
<line x1="522.08" y1="61.3" x2="522.08" y2="62.5" stroke="#555" stroke-width="0.5" />
<line x1="530.52" y1="61.3" x2="530.52" y2="62.5" stroke="#555" stroke-width="0.5" />
<line x1="538.96" y1="61.3" x2="538.96" y2="62.5" stroke="#555" stroke-width="0.5" />
<line x1="547.4" y1="61.3" x2="547.4" y2="62.5" stroke="#555" stroke-width="0.5" />
<line x1="555.84" y1="61.3" x2="555.84" y2="62.5" stroke="#555" stroke-width="0.5" />
<line x1="564.28" y1="61.3" x2="564.28" y2="62.5" stroke="#555" stroke-width="0.5" />
<line x1="572.72" y1="61.3" x2="572.72" y2="62.5" stroke="#555" stroke-width="0.5" />
<line x1="581.16" y1="61.3" x2="581.16" y2="62.5" stroke="#555" stroke-width="0.5" />
<line x1="589.6" y1="61.3" x2="589.6" y2="62.5" stroke="#555" stroke-width="0.5" />
<line x1="598.04" y1="61.3" x2="598.04" y2="62.5" stroke="#555" stroke-width="0.5" />
<line x1="606.48" y1="61.3" x2="606.48" y2="62.5" stroke="#555" stroke-width="0.5" />
<line x1="614.92" y1="61.3" x2="614.92" y2="62.5" stroke="#555" stroke-width="0.5" />
<line x1="623.36" y1="61.3" x2="623.36" y2="62.5" stroke="#555" stroke-width="0.5" />
<line x1="631.8" y1="61.3" x2="631.8" y2="62.5" stroke="#555" stroke-width="0.5" />
<line x1="640.24" y1="61.3" x2="640.24" y2="62.5" stroke="#555" stroke-width="0.5" />
<line x1="648.68" y1="61.3" x2="648.68" y2="62.5" stroke="#555" stroke-width="0.5" />
<rect x="499.1" y="112.1" width="158.4" height="55.9" fill="#fff" stroke="#555" stroke-width="1.1" />
<circle cx="504.1" cy="117" r="2.95" fill="#ff3a00" />
<circle cx="512.83" cy="117" r="0.85" fill="#a8a848" />
<circle cx="521.56" cy="117" r="0.85" fill="#ff4a22" />
<circle cx="530.29" cy="117" r="0.85" fill="#8a8a98" />
<circle cx="539.02" cy="117" r="0.85" fill="#ff4a22" />
<circle cx="547.75" cy="117" r="0.85" fill="#a8a848" />
<circle cx="556.48" cy="117" r="0.85" fill="#ff4a22" />
<circle cx="565.21" cy="117" r="0.85" fill="#a8a848" />
<circle cx="573.94" cy="117" r="0.85" fill="#ff4a22" />
<circle cx="582.67" cy="117" r="0.85" fill="#8a8a98" />
<circle cx="591.4" cy="117" r="0.85" fill="#ff4a22" />
<circle cx="600.13" cy="117" r="0.85" fill="#a8a848" />
<circle cx="608.86" cy="117" r="0.85" fill="#ff4a22" />
<circle cx="617.59" cy="117" r="0.85" fill="#ff4a22" />
<circle cx="626.32" cy="117" r="0.85" fill="#ff4a22" />
<circle cx="635.05" cy="117" r="0.85" fill="#8a8a98" />
<circle cx="643.78" cy="117" r="0.85" fill="#ff1010" />
<circle cx="652.51" cy="117" r="0.85" fill="#8a8a98" />
<circle cx="504.1" cy="124.78" r="2.95" fill="#ffdc00" />
<circle cx="512.83" cy="124.78" r="0.85" fill="#8a8a98" />
<circle cx="521.56" cy="124.78" r="0.85" fill="#e8e010" />
<circle cx="530.29" cy="124.78" r="0.85" fill="#151515" />
<circle cx="539.02" cy="124.78" r="0.85" fill="#e8e010" />
<circle cx="547.75" cy="124.78" r="0.85" fill="#1c1c7a" />
<circle cx="556.48" cy="124.78" r="0.85" fill="#e8e010" />
<circle cx="565.21" cy="124.78" r="0.85" fill="#3030e0" />
<circle cx="573.94" cy="124.78" r="0.85" fill="#e8e010" />
<circle cx="582.67" cy="124.78" r="0.85" fill="#151515" />
<circle cx="591.4" cy="124.78" r="0.85" fill="#e8e010" />
<circle cx="600.13" cy="124.78" r="0.85" fill="#3030e0" />
<circle cx="608.86" cy="124.78" r="0.85" fill="#ff4a22" />
<circle cx="617.59" cy="124.78" r="0.85" fill="#ff4a22" />
<circle cx="626.32" cy="124.78" r="0.85" fill="#e8e010" />
<circle cx="635.05" cy="124.78" r="0.85" fill="#151515" />
<circle cx="643.78" cy="124.78" r="0.85" fill="#e8e010" />
<circle cx="652.51" cy="124.78" r="0.85" fill="#1c1c7a" />
<circle cx="504.1" cy="132.56" r="0.85" fill="#8a8a98" />
<circle cx="512.83" cy="132.56" r="0.85" fill="#ff8c1a" />
<circle cx="521.56" cy="132.56" r="0.85" fill="#ffb414" />
<circle cx="530.29" cy="132.56" r="2.95" fill="#ff5500" />
<circle cx="539.02" cy="132.56" r="0.85" fill="#8a8a98" />
<circle cx="547.75" cy="132.56" r="0.85" fill="#ff8c1a" />
<circle cx="556.48" cy="132.56" r="0.85" fill="#8a8a98" />
<circle cx="565.21" cy="132.56" r="0.85" fill="#ff8c1a" />
<circle cx="573.94" cy="132.56" r="0.85" fill="#a8a848" />
<circle cx="582.67" cy="132.56" r="0.85" fill="#ff8c1a" />
<circle cx="591.4" cy="132.56" r="0.85" fill="#8a8a98" />
<circle cx="600.13" cy="132.56" r="0.85" fill="#ff8c1a" />
<circle cx="608.86" cy="132.56" r="0.85" fill="#8a8a98" />
<circle cx="617.59" cy="132.56" r="0.85" fill="#ff8c1a" />
<circle cx="626.32" cy="132.56" r="0.85" fill="#8a8a98" />
<circle cx="635.05" cy="132.56" r="0.85" fill="#ff8c1a" />
<circle cx="643.78" cy="132.56" r="0.85" fill="#8a8a98" />
<circle cx="652.51" cy="132.56" r="0.85" fill="#ff8c1a" />
<circle cx="504.1" cy="140.34" r="0.85" fill="#ff1010" />
<circle cx="512.83" cy="140.34" r="0.85" fill="#ff4a22" />
<circle cx="521.56" cy="140.34" r="0.85" fill="#ff1010" />
<circle cx="530.29" cy="140.34" r="0.85" fill="#ff1010" />
<circle cx="539.02" cy="140.34" r="2.95" fill="#ff2200" />
<circle cx="547.75" cy="140.34" r="2.95" fill="#ff3300" />
<circle cx="556.48" cy="140.34" r="2.95" fill="#ff0000" />
<circle cx="565.21" cy="140.34" r="2.95" fill="#ff0a00" />
<circle cx="573.94" cy="140.34" r="0.85" fill="#ff4a22" />
<circle cx="582.67" cy="140.34" r="0.85" fill="#ff1010" />
<circle cx="591.4" cy="140.34" r="0.85" fill="#ff1010" />
<circle cx="600.13" cy="140.34" r="0.85" fill="#ff1010" />
<circle cx="608.86" cy="140.34" r="0.85" fill="#ff4a22" />
<circle cx="617.59" cy="140.34" r="0.85" fill="#ff1010" />
<circle cx="626.32" cy="140.34" r="0.85" fill="#ff1010" />
<circle cx="635.05" cy="140.34" r="0.85" fill="#ff1010" />
<circle cx="643.78" cy="140.34" r="0.85" fill="#ff1010" />
<circle cx="652.51" cy="140.34" r="0.85" fill="#ff1010" />
<circle cx="504.1" cy="148.12" r="2.95" fill="#ffaa00" />
<circle cx="512.83" cy="148.12" r="2.95" fill="#ff8800" />
<circle cx="521.56" cy="148.12" r="0.85" fill="#a8a848" />
<circle cx="530.29" cy="148.12" r="0.85" fill="#ffb414" />
<circle cx="539.02" cy="148.12" r="0.85" fill="#8a8a98" />
<circle cx="547.75" cy="148.12" r="0.85" fill="#ffb414" />
<circle cx="556.48" cy="148.12" r="0.85" fill="#8a8a98" />
<circle cx="565.21" cy="148.12" r="0.85" fill="#ffb414" />
<circle cx="573.94" cy="148.12" r="0.85" fill="#a8a848" />
<circle cx="582.67" cy="148.12" r="0.85" fill="#ffb414" />
<circle cx="591.4" cy="148.12" r="0.85" fill="#a8a848" />
<circle cx="600.13" cy="148.12" r="2.95" fill="#ffbb00" />
<circle cx="608.86" cy="148.12" r="0.85" fill="#8a8a98" />
<circle cx="617.59" cy="148.12" r="0.85" fill="#ffb414" />
<circle cx="626.32" cy="148.12" r="0.85" fill="#8a8a98" />
<circle cx="635.05" cy="148.12" r="0.85" fill="#ffb414" />
<circle cx="643.78" cy="148.12" r="0.85" fill="#8a8a98" />
<circle cx="652.51" cy="148.12" r="0.85" fill="#ffb414" />
<circle cx="504.1" cy="155.9" r="0.85" fill="#ffb414" />
<circle cx="512.83" cy="155.9" r="2.95" fill="#ffaa00" />
<circle cx="521.56" cy="155.9" r="0.85" fill="#ff8c1a" />
<circle cx="530.29" cy="155.9" r="2.95" fill="#ff9900" />
<circle cx="539.02" cy="155.9" r="0.85" fill="#e8e010" />
<circle cx="547.75" cy="155.9" r="2.95" fill="#ffaa00" />
<circle cx="556.48" cy="155.9" r="0.85" fill="#a8a848" />
<circle cx="565.21" cy="155.9" r="0.85" fill="#e8e010" />
<circle cx="573.94" cy="155.9" r="0.85" fill="#e8e010" />
<circle cx="582.67" cy="155.9" r="2.95" fill="#ffbb00" />
<circle cx="591.4" cy="155.9" r="0.85" fill="#e8e010" />
<circle cx="600.13" cy="155.9" r="2" fill="#ffbb00" />
<circle cx="608.86" cy="155.9" r="0.85" fill="#a8a848" />
<circle cx="617.59" cy="155.9" r="0.85" fill="#e8e010" />
<circle cx="626.32" cy="155.9" r="0.85" fill="#e8e010" />
<circle cx="635.05" cy="155.9" r="2.95" fill="#ffaa00" />
<circle cx="643.78" cy="155.9" r="0.85" fill="#e8e010" />
<circle cx="652.51" cy="155.9" r="2" fill="#ffbb00" />
<circle cx="504.1" cy="163.68" r="0.85" fill="#e8e010" />
<circle cx="512.83" cy="163.68" r="2.95" fill="#ffaa00" />
<circle cx="521.56" cy="163.68" r="0.85" fill="#3030e0" />
<circle cx="530.29" cy="163.68" r="0.85" fill="#e8e010" />
<circle cx="539.02" cy="163.68" r="0.85" fill="#e8e010" />
<circle cx="547.75" cy="163.68" r="2.95" fill="#ff9900" />
<circle cx="556.48" cy="163.68" r="0.85" fill="#e8e010" />
<circle cx="565.21" cy="163.68" r="2.95" fill="#ffa000" />
<circle cx="573.94" cy="163.68" r="0.85" fill="#3030e0" />
<circle cx="582.67" cy="163.68" r="0.85" fill="#e8e010" />
<circle cx="591.4" cy="163.68" r="0.85" fill="#8a8a98" />
<circle cx="600.13" cy="163.68" r="0.85" fill="#e8e010" />
<circle cx="608.86" cy="163.68" r="0.85" fill="#3030e0" />
<circle cx="617.59" cy="163.68" r="0.85" fill="#e8e010" />
<circle cx="626.32" cy="163.68" r="0.85" fill="#3030e0" />
<circle cx="635.05" cy="163.68" r="0.85" fill="#e8e010" />
<circle cx="643.78" cy="163.68" r="0.85" fill="#3030e0" />
<circle cx="652.51" cy="163.68" r="0.85" fill="#e8e010" />
<text x="469.57" y="118.1" font-size="5" fill="#f26b6b" textLength="14.47" lengthAdjust="spacingAndGlyphs">CCL5::</text>
<text x="484.04" y="118.1" font-size="5" fill="#3f8fe6" textLength="12.66" lengthAdjust="spacingAndGlyphs">CCR1</text>
<line x1="497.7" y1="117" x2="499.1" y2="117" stroke="#555" stroke-width="0.5" />
<text x="469.57" y="125.88" font-size="5" fill="#f26b6b" textLength="14.47" lengthAdjust="spacingAndGlyphs">CCL3::</text>
<text x="484.04" y="125.88" font-size="5" fill="#3f8fe6" textLength="12.66" lengthAdjust="spacingAndGlyphs">CCR1</text>
<line x1="497.7" y1="124.78" x2="499.1" y2="124.78" stroke="#555" stroke-width="0.5" />
<text x="460.78" y="133.66" font-size="5" fill="#f26b6b" textLength="20.16" lengthAdjust="spacingAndGlyphs">CXCL13::</text>
<text x="480.94" y="133.66" font-size="5" fill="#3f8fe6" textLength="15.76" lengthAdjust="spacingAndGlyphs">CXCR5</text>
<line x1="497.7" y1="132.56" x2="499.1" y2="132.56" stroke="#555" stroke-width="0.5" />
<text x="465.43" y="141.44" font-size="5" fill="#f26b6b" textLength="16.28" lengthAdjust="spacingAndGlyphs">HLA-E::</text>
<text x="481.71" y="141.44" font-size="5" fill="#3f8fe6" textLength="14.99" lengthAdjust="spacingAndGlyphs">KLRC1</text>
<line x1="497.7" y1="140.34" x2="499.1" y2="140.34" stroke="#555" stroke-width="0.5" />
<text x="467.76" y="149.22" font-size="5" fill="#f26b6b" textLength="17.06" lengthAdjust="spacingAndGlyphs">CTLA4::</text>
<text x="484.81" y="149.22" font-size="5" fill="#3f8fe6" textLength="11.89" lengthAdjust="spacingAndGlyphs">CD86</text>
<line x1="497.7" y1="148.12" x2="499.1" y2="148.12" stroke="#555" stroke-width="0.5" />
<text x="458.98" y="157" font-size="5" fill="#f26b6b" textLength="14.21" lengthAdjust="spacingAndGlyphs">BTLA::</text>
<text x="473.19" y="157" font-size="5" fill="#3f8fe6" textLength="23.51" lengthAdjust="spacingAndGlyphs">TNFRSF14</text>
<line x1="497.7" y1="155.9" x2="499.1" y2="155.9" stroke="#555" stroke-width="0.5" />
<text x="458.02" y="164.78" font-size="5" fill="#f26b6b" textLength="20.16" lengthAdjust="spacingAndGlyphs">LGALS9::</text>
<text x="478.18" y="164.78" font-size="5" fill="#3f8fe6" textLength="18.52" lengthAdjust="spacingAndGlyphs">HAVCR2</text>
<line x1="497.7" y1="163.68" x2="499.1" y2="163.68" stroke="#555" stroke-width="0.5" />
<line x1="504.1" y1="168" x2="504.1" y2="169.2" stroke="#555" stroke-width="0.5" />
<line x1="512.83" y1="168" x2="512.83" y2="169.2" stroke="#555" stroke-width="0.5" />
<line x1="521.56" y1="168" x2="521.56" y2="169.2" stroke="#555" stroke-width="0.5" />
<line x1="530.29" y1="168" x2="530.29" y2="169.2" stroke="#555" stroke-width="0.5" />
<line x1="539.02" y1="168" x2="539.02" y2="169.2" stroke="#555" stroke-width="0.5" />
<line x1="547.75" y1="168" x2="547.75" y2="169.2" stroke="#555" stroke-width="0.5" />
<line x1="556.48" y1="168" x2="556.48" y2="169.2" stroke="#555" stroke-width="0.5" />
<line x1="565.21" y1="168" x2="565.21" y2="169.2" stroke="#555" stroke-width="0.5" />
<line x1="573.94" y1="168" x2="573.94" y2="169.2" stroke="#555" stroke-width="0.5" />
<line x1="582.67" y1="168" x2="582.67" y2="169.2" stroke="#555" stroke-width="0.5" />
<line x1="591.4" y1="168" x2="591.4" y2="169.2" stroke="#555" stroke-width="0.5" />
<line x1="600.13" y1="168" x2="600.13" y2="169.2" stroke="#555" stroke-width="0.5" />
<line x1="608.86" y1="168" x2="608.86" y2="169.2" stroke="#555" stroke-width="0.5" />
<line x1="617.59" y1="168" x2="617.59" y2="169.2" stroke="#555" stroke-width="0.5" />
<line x1="626.32" y1="168" x2="626.32" y2="169.2" stroke="#555" stroke-width="0.5" />
<line x1="635.05" y1="168" x2="635.05" y2="169.2" stroke="#555" stroke-width="0.5" />
<line x1="643.78" y1="168" x2="643.78" y2="169.2" stroke="#555" stroke-width="0.5" />
<line x1="652.51" y1="168" x2="652.51" y2="169.2" stroke="#555" stroke-width="0.5" />
<g fill="none" stroke="#444" stroke-width="0.7" stroke-dasharray="1 1.3">
<path d="M499.3 -2 V102.3 H533.5 V-2"/>
<path d="M533.5 5.3 V61.3"/>
<path d="M499.3 107.1 H533.5 V209.6 H499.3 Z"/>
<path d="M533.5 112.1 V168"/>
</g>
<text x="507" y="63.7" font-size="5.6" text-anchor="end" transform="rotate(-90 507 63.7)"><tspan fill="#333">Mac::</tspan><tspan fill="#f0262a" font-weight="bold">Tu-T</tspan><tspan fill="#f0262a" font-size="4" dy="1.1">CyEM</tspan></text>
<text x="505.9" y="170" font-size="5.6" text-anchor="end" transform="rotate(-90 505.9 170)"><tspan fill="#f0262a" font-weight="bold">Tu-T</tspan><tspan fill="#f0262a" font-size="4" dy="1.1">CyEM</tspan><tspan fill="#333" dy="-1.1">::Mac</tspan></text>
<text x="515.44" y="63.7" font-size="5.6" text-anchor="end" transform="rotate(-90 515.44 63.7)"><tspan fill="#333">Mac::</tspan><tspan fill="#62a4e6" font-weight="bold">Tu-T</tspan><tspan fill="#62a4e6" font-size="4" dy="1.1">CM</tspan></text>
<text x="514.63" y="170" font-size="5.6" text-anchor="end" transform="rotate(-90 514.63 170)"><tspan fill="#62a4e6" font-weight="bold">Tu-T</tspan><tspan fill="#62a4e6" font-size="4" dy="1.1">CM</tspan><tspan fill="#333" dy="-1.1">::Mac</tspan></text>
<text x="523.88" y="63.7" font-size="5.6" text-anchor="end" transform="rotate(-90 523.88 63.7)"><tspan fill="#333">B::</tspan><tspan fill="#f0262a" font-weight="bold">Tu-T</tspan><tspan fill="#f0262a" font-size="4" dy="1.1">CyEM</tspan></text>
<text x="523.36" y="170" font-size="5.6" text-anchor="end" transform="rotate(-90 523.36 170)"><tspan fill="#f0262a" font-weight="bold">Tu-T</tspan><tspan fill="#f0262a" font-size="4" dy="1.1">CyEM</tspan><tspan fill="#333" dy="-1.1">::B</tspan></text>
<text x="532.32" y="63.7" font-size="5.6" text-anchor="end" transform="rotate(-90 532.32 63.7)"><tspan fill="#333">B::</tspan><tspan fill="#62a4e6" font-weight="bold">Tu-T</tspan><tspan fill="#62a4e6" font-size="4" dy="1.1">CM</tspan></text>
<text x="532.09" y="170" font-size="5.6" text-anchor="end" transform="rotate(-90 532.09 170)"><tspan fill="#62a4e6" font-weight="bold">Tu-T</tspan><tspan fill="#62a4e6" font-size="4" dy="1.1">CM</tspan><tspan fill="#333" dy="-1.1">::B</tspan></text>
<text x="540.76" y="63.7" font-size="5.6" text-anchor="end" transform="rotate(-90 540.76 63.7)"><tspan fill="#333">NK::</tspan><tspan fill="#f0262a" font-weight="bold">Tu-T</tspan><tspan fill="#f0262a" font-size="4" dy="1.1">CyEM</tspan></text>
<text x="540.82" y="170" font-size="5.6" text-anchor="end" transform="rotate(-90 540.82 170)"><tspan fill="#f0262a" font-weight="bold">Tu-T</tspan><tspan fill="#f0262a" font-size="4" dy="1.1">CyEM</tspan><tspan fill="#333" dy="-1.1">::NK</tspan></text>
<text x="549.2" y="63.7" font-size="5.6" text-anchor="end" transform="rotate(-90 549.2 63.7)"><tspan fill="#333">NK::</tspan><tspan fill="#62a4e6" font-weight="bold">Tu-T</tspan><tspan fill="#62a4e6" font-size="4" dy="1.1">CM</tspan></text>
<text x="549.55" y="170" font-size="5.6" text-anchor="end" transform="rotate(-90 549.55 170)"><tspan fill="#62a4e6" font-weight="bold">Tu-T</tspan><tspan fill="#62a4e6" font-size="4" dy="1.1">CM</tspan><tspan fill="#333" dy="-1.1">::NK</tspan></text>
<text x="557.64" y="63.7" font-size="5.6" text-anchor="end" transform="rotate(-90 557.64 63.7)"><tspan fill="#333">ILC1::</tspan><tspan fill="#f0262a" font-weight="bold">Tu-T</tspan><tspan fill="#f0262a" font-size="4" dy="1.1">CyEM</tspan></text>
<text x="558.28" y="170" font-size="5.6" text-anchor="end" transform="rotate(-90 558.28 170)"><tspan fill="#f0262a" font-weight="bold">Tu-T</tspan><tspan fill="#f0262a" font-size="4" dy="1.1">CyEM</tspan><tspan fill="#333" dy="-1.1">::ILC1</tspan></text>
<text x="566.08" y="63.7" font-size="5.6" text-anchor="end" transform="rotate(-90 566.08 63.7)"><tspan fill="#333">ILC1::</tspan><tspan fill="#62a4e6" font-weight="bold">Tu-T</tspan><tspan fill="#62a4e6" font-size="4" dy="1.1">CM</tspan></text>
<text x="567.01" y="170" font-size="5.6" text-anchor="end" transform="rotate(-90 567.01 170)"><tspan fill="#62a4e6" font-weight="bold">Tu-T</tspan><tspan fill="#62a4e6" font-size="4" dy="1.1">CM</tspan><tspan fill="#333" dy="-1.1">::ILC1</tspan></text>
<text x="574.52" y="63.7" font-size="5.6" text-anchor="end" transform="rotate(-90 574.52 63.7)"><tspan fill="#333">Plasma::</tspan><tspan fill="#f0262a" font-weight="bold">Tu-T</tspan><tspan fill="#f0262a" font-size="4" dy="1.1">CyEM</tspan></text>
<text x="575.74" y="170" font-size="5.6" text-anchor="end" transform="rotate(-90 575.74 170)"><tspan fill="#f0262a" font-weight="bold">Tu-T</tspan><tspan fill="#f0262a" font-size="4" dy="1.1">CyEM</tspan><tspan fill="#333" dy="-1.1">::Plasma</tspan></text>
<text x="582.96" y="63.7" font-size="5.6" text-anchor="end" transform="rotate(-90 582.96 63.7)"><tspan fill="#333">Plasma::</tspan><tspan fill="#62a4e6" font-weight="bold">Tu-T</tspan><tspan fill="#62a4e6" font-size="4" dy="1.1">CM</tspan></text>
<text x="584.47" y="170" font-size="5.6" text-anchor="end" transform="rotate(-90 584.47 170)"><tspan fill="#62a4e6" font-weight="bold">Tu-T</tspan><tspan fill="#62a4e6" font-size="4" dy="1.1">CM</tspan><tspan fill="#333" dy="-1.1">::Plasma</tspan></text>
<text x="591.4" y="63.7" font-size="5.6" text-anchor="end" transform="rotate(-90 591.4 63.7)"><tspan fill="#333">pDC::</tspan><tspan fill="#f0262a" font-weight="bold">Tu-T</tspan><tspan fill="#f0262a" font-size="4" dy="1.1">CyEM</tspan></text>
<text x="593.2" y="170" font-size="5.6" text-anchor="end" transform="rotate(-90 593.2 170)"><tspan fill="#f0262a" font-weight="bold">Tu-T</tspan><tspan fill="#f0262a" font-size="4" dy="1.1">CyEM</tspan><tspan fill="#333" dy="-1.1">::pDC</tspan></text>
<text x="599.84" y="63.7" font-size="5.6" text-anchor="end" transform="rotate(-90 599.84 63.7)"><tspan fill="#333">pDC::</tspan><tspan fill="#62a4e6" font-weight="bold">Tu-T</tspan><tspan fill="#62a4e6" font-size="4" dy="1.1">CM</tspan></text>
<text x="601.93" y="170" font-size="5.6" text-anchor="end" transform="rotate(-90 601.93 170)"><tspan fill="#62a4e6" font-weight="bold">Tu-T</tspan><tspan fill="#62a4e6" font-size="4" dy="1.1">CM</tspan><tspan fill="#333" dy="-1.1">::pDC</tspan></text>
<text x="608.28" y="63.7" font-size="5.6" text-anchor="end" transform="rotate(-90 608.28 63.7)"><tspan fill="#333">Epi::</tspan><tspan fill="#f0262a" font-weight="bold">Tu-T</tspan><tspan fill="#f0262a" font-size="4" dy="1.1">CyEM</tspan></text>
<text x="610.66" y="170" font-size="5.6" text-anchor="end" transform="rotate(-90 610.66 170)"><tspan fill="#f0262a" font-weight="bold">Tu-T</tspan><tspan fill="#f0262a" font-size="4" dy="1.1">CyEM</tspan><tspan fill="#333" dy="-1.1">::Epi</tspan></text>
<text x="616.72" y="63.7" font-size="5.6" text-anchor="end" transform="rotate(-90 616.72 63.7)"><tspan fill="#333">Epi::</tspan><tspan fill="#62a4e6" font-weight="bold">Tu-T</tspan><tspan fill="#62a4e6" font-size="4" dy="1.1">CM</tspan></text>
<text x="619.39" y="170" font-size="5.6" text-anchor="end" transform="rotate(-90 619.39 170)"><tspan fill="#62a4e6" font-weight="bold">Tu-T</tspan><tspan fill="#62a4e6" font-size="4" dy="1.1">CM</tspan><tspan fill="#333" dy="-1.1">::Epi</tspan></text>
<text x="625.16" y="63.7" font-size="5.6" text-anchor="end" transform="rotate(-90 625.16 63.7)"><tspan fill="#333">Endo::</tspan><tspan fill="#f0262a" font-weight="bold">Tu-T</tspan><tspan fill="#f0262a" font-size="4" dy="1.1">CyEM</tspan></text>
<text x="628.12" y="170" font-size="5.6" text-anchor="end" transform="rotate(-90 628.12 170)"><tspan fill="#f0262a" font-weight="bold">Tu-T</tspan><tspan fill="#f0262a" font-size="4" dy="1.1">CyEM</tspan><tspan fill="#333" dy="-1.1">::Endo</tspan></text>
<text x="633.6" y="63.7" font-size="5.6" text-anchor="end" transform="rotate(-90 633.6 63.7)"><tspan fill="#333">Endo::</tspan><tspan fill="#62a4e6" font-weight="bold">Tu-T</tspan><tspan fill="#62a4e6" font-size="4" dy="1.1">CM</tspan></text>
<text x="636.85" y="170" font-size="5.6" text-anchor="end" transform="rotate(-90 636.85 170)"><tspan fill="#62a4e6" font-weight="bold">Tu-T</tspan><tspan fill="#62a4e6" font-size="4" dy="1.1">CM</tspan><tspan fill="#333" dy="-1.1">::Endo</tspan></text>
<text x="642.04" y="63.7" font-size="5.6" text-anchor="end" transform="rotate(-90 642.04 63.7)"><tspan fill="#333">Myofib::</tspan><tspan fill="#f0262a" font-weight="bold">Tu-T</tspan><tspan fill="#f0262a" font-size="4" dy="1.1">CyEM</tspan></text>
<text x="645.58" y="170" font-size="5.6" text-anchor="end" transform="rotate(-90 645.58 170)"><tspan fill="#f0262a" font-weight="bold">Tu-T</tspan><tspan fill="#f0262a" font-size="4" dy="1.1">CyEM</tspan><tspan fill="#333" dy="-1.1">::Myofib</tspan></text>
<text x="650.48" y="63.7" font-size="5.6" text-anchor="end" transform="rotate(-90 650.48 63.7)"><tspan fill="#333">Myofib::</tspan><tspan fill="#62a4e6" font-weight="bold">Tu-T</tspan><tspan fill="#62a4e6" font-size="4" dy="1.1">CM</tspan></text>
<text x="654.31" y="170" font-size="5.6" text-anchor="end" transform="rotate(-90 654.31 170)"><tspan fill="#62a4e6" font-weight="bold">Tu-T</tspan><tspan fill="#62a4e6" font-size="4" dy="1.1">CM</tspan><tspan fill="#333" dy="-1.1">::Myofib</tspan></text>
<g fill="none" stroke="#555" stroke-width="0.6">
<path d="M467.4 65.7 V90.5 H492.6"/><path d="M485.5 64.2 V73.4 H494.6"/>
<path d="M470.6 169.6 V194.2 H496"/><path d="M488.5 169.6 V178 H497.8"/>
</g>
<g fill="#555">
<path d="M467.4 65.1l-0.9 1.6h1.8z"/>
<path d="M493.2 90.5l-1.6 -0.9v1.8z"/>
<path d="M485.5 63.6l-0.9 1.6h1.8z"/>
<path d="M495.2 73.4l-1.6 -0.9v1.8z"/>
<path d="M470.6 169l-0.9 1.6h1.8z"/>
<path d="M496.6 194.2l-1.6 -0.9v1.8z"/>
<path d="M488.5 169l-0.9 1.6h1.8z"/>
<path d="M498.4 178l-1.6 -0.9v1.8z"/>
</g>
<text x="670.8" y="7.6" font-size="3.6" text-anchor="middle" fill="#333" transform="rotate(-90 670.8 7.6)">0</text>
<circle cx="663.1" cy="14" r="2" fill="#000" />
<text x="670.8" y="14" font-size="3.6" text-anchor="middle" fill="#333" transform="rotate(-90 670.8 14)">1</text>
<circle cx="663.1" cy="20.8" r="2.6" fill="#000" />
<text x="670.8" y="20.8" font-size="3.6" text-anchor="middle" fill="#333" transform="rotate(-90 670.8 20.8)">2</text>
<circle cx="663.1" cy="27.6" r="3" fill="#000" />
<text x="670.8" y="27.6" font-size="3.6" text-anchor="middle" fill="#333" transform="rotate(-90 670.8 27.6)">3</text>
<text x="676.4" y="19.5" font-size="4" text-anchor="middle" fill="#333" transform="rotate(-90 676.4 19.5)">−log<tspan font-size="2.6" dy="0.8">10</tspan><tspan dy="-0.8">(</tspan><tspan font-style="italic">p</tspan> value)</text>
<defs><linearGradient id="cb" x1="0" y1="0" x2="0" y2="1"><stop offset="0" stop-color="#ff0000"/><stop offset="0.17" stop-color="#ff7a00"/><stop offset="0.34" stop-color="#ffff00"/><stop offset="0.47" stop-color="#8f8f52"/><stop offset="0.6" stop-color="#3f3fd8"/><stop offset="0.72" stop-color="#0000ff"/><stop offset="0.82" stop-color="#00007a"/><stop offset="1" stop-color="#000020"/></linearGradient></defs>
<rect x="661.1" y="41.1" width="6.7" height="33.9" fill="url(#cb)" />
<text x="672.4" y="44.3" font-size="3.6" text-anchor="middle" fill="#333" transform="rotate(-90 672.4 44.3)">0</text>
<text x="672.4" y="52" font-size="3.6" text-anchor="middle" fill="#333" transform="rotate(-90 672.4 52)">−2</text>
<text x="672.4" y="60" font-size="3.6" text-anchor="middle" fill="#333" transform="rotate(-90 672.4 60)">−4</text>
<text x="672.4" y="67.3" font-size="3.6" text-anchor="middle" fill="#333" transform="rotate(-90 672.4 67.3)">−6</text>
</g>
<g id="panelC">
<text x="15.6" y="226.2" font-size="14" font-weight="bold">c</text>
<rect x="50.9" y="224.1" width="113.4" height="97.5" fill="#fff" stroke="#c8c8c8" stroke-width="0.9" />
<rect x="166.1" y="224.1" width="113.4" height="97.5" fill="#fff" stroke="#c8c8c8" stroke-width="0.9" />
<g clip-path="url(#clipc1)">
<defs><clipPath id="clipc1"><rect x="51" y="224.5" width="113" height="97"/></clipPath><clipPath id="clipc2"><rect x="166.5" y="224.5" width="113" height="97"/></clipPath></defs>
<path fill="#f6dfe1" d="M63.3 239.7C65.17 237 68.08 232.77 72 231C75.92 229.23 81.85 228.68 86.8 229.1C91.75 229.52 97.15 230.9 101.7 233.5C106.25 236.1 109.95 241.18 114.1 244.7C118.25 248.22 122.67 251.5 126.6 254.6C130.53 257.7 133.98 260.9 137.7 263.3C141.42 265.7 145.8 267.63 148.9 269C152 270.37 155.27 270.17 156.3 271.5C157.33 272.83 154.68 274.85 155.1 277C155.52 279.15 159.42 282.55 158.8 284.4C158.18 286.25 154.7 287.07 151.4 288.1C148.1 289.13 143.97 289.98 139 290.6C134.03 291.22 126.98 291.8 121.6 291.8C116.22 291.8 110.42 290.18 106.7 290.6C102.98 291.02 100.95 292.02 99.3 294.3C97.65 296.58 98.88 301.6 96.8 304.3C94.72 307 90.53 309.07 86.8 310.5C83.07 311.93 77.9 313.12 74.4 312.9C70.9 312.68 67.65 311.47 65.8 309.2C63.95 306.93 63.52 303.02 63.3 299.3C63.08 295.58 64.92 291.03 64.5 286.9C64.08 282.77 61.62 279.05 60.8 274.5C59.98 269.95 59.6 264.15 59.6 259.6C59.6 255.05 60.18 250.52 60.8 247.2C61.42 243.88 61.43 242.4 63.3 239.7Z"/>
<path fill="#efc3c4" d="M69.5 248.4C70.53 245.5 71.72 241.63 74.4 239.7C77.08 237.77 81.87 236.8 85.6 236.8C89.33 236.8 93.7 237.77 96.8 239.7C99.9 241.63 101.72 245.3 104.2 248.4C106.68 251.5 109.63 255.2 111.7 258.3C113.77 261.4 114.95 263.88 116.6 267C118.25 270.12 119.73 274.72 121.6 277C123.47 279.28 126.77 279.05 127.8 280.7C128.83 282.35 128.83 285.67 127.8 286.9C126.77 288.13 123.47 288.52 121.6 288.1C119.73 287.68 119.08 285.43 116.6 284.4C114.12 283.37 110.42 282.73 106.7 281.9C102.98 281.07 98.43 279.82 94.3 279.4C90.17 278.98 85.42 279.8 81.9 279.4C78.38 279 75.27 279.07 73.2 277C71.13 274.93 70.33 270.32 69.5 267C68.67 263.68 68.2 260.2 68.2 257.1C68.2 254 68.47 251.3 69.5 248.4Z"/>
<path fill="#efc3c4" d="M74.4 296.8C76.05 294.93 83.07 293.3 86.8 293.1C90.53 292.9 94.93 294.15 96.8 295.6C98.67 297.05 99.25 300.15 98 301.8C96.75 303.45 92.82 305.08 89.3 305.5C85.78 305.92 79.38 305.75 76.9 304.3C74.42 302.85 72.75 298.67 74.4 296.8Z"/>
<path fill="#e4a3a2" d="M75.7 252.1C76.95 249 79.63 245.73 81.9 244.7C84.17 243.67 86.4 243.83 89.3 245.9C92.2 247.97 96.6 253.58 99.3 257.1C102 260.62 104.88 263.9 105.5 267C106.12 270.1 105.28 273.83 103 275.7C100.72 277.57 95.32 277.78 91.8 278.2C88.28 278.62 84.58 279.03 81.9 278.2C79.22 277.37 76.95 275.68 75.7 273.2C74.45 270.72 74.4 266.82 74.4 263.3C74.4 259.78 74.45 255.2 75.7 252.1Z"/>
</g><g clip-path="url(#clipc2)">
<path fill="#f6dfe1" d="M179.8 246C180.83 243.52 181.82 240.53 184.7 239.7C187.58 238.87 194 239.13 197.1 241C200.2 242.87 200.82 248.42 203.3 250.9C205.78 253.38 208.48 254.67 212 255.9C215.52 257.13 220.47 257.48 224.4 258.3C228.33 259.12 232.28 258.52 235.6 260.8C238.92 263.08 241.2 268.9 244.3 272C247.4 275.1 251.93 276.5 254.2 279.4C256.47 282.3 258.32 286.5 257.9 289.4C257.48 292.3 254.8 294.95 251.7 296.8C248.6 298.65 242.6 298.85 239.3 300.5C236 302.15 235.2 305.03 231.9 306.7C228.6 308.37 224.88 309.25 219.5 310.5C214.12 311.75 205.8 313.17 199.6 314.2C193.4 315.23 186.63 316.7 182.3 316.7C177.97 316.7 175.27 316.68 173.6 314.2C171.93 311.72 172.1 306.35 172.3 301.8C172.5 297.25 173.97 292.28 174.8 286.9C175.63 281.52 176.68 274.88 177.3 269.5C177.92 264.12 178.08 258.52 178.5 254.6C178.92 250.68 178.77 248.48 179.8 246Z"/>
<path fill="#f0cacb" d="M183.5 262.1C184.73 258.17 185.33 254.65 187.2 253.4C189.07 252.15 192.83 252.33 194.7 254.6C196.57 256.87 195.92 263.9 198.4 267C200.88 270.1 206.08 271.75 209.6 273.2C213.12 274.65 216.62 274.67 219.5 275.7C222.38 276.73 224.83 276.72 226.9 279.4C228.97 282.08 231.9 288.07 231.9 291.8C231.9 295.53 229.8 299.32 226.9 301.8C224 304.28 219.47 305.25 214.5 306.7C209.53 308.15 202.47 309.67 197.1 310.5C191.73 311.33 186.02 312.33 182.3 311.7C178.58 311.07 175.85 310.02 174.8 306.7C173.75 303.38 175.17 296.75 176 291.8C176.83 286.85 178.55 281.95 179.8 277C181.05 272.05 182.27 266.03 183.5 262.1Z"/>
<path fill="#e9b2b2" d="M181 284.4C182.65 281.52 184.52 278.23 187.2 277C189.88 275.77 193.37 276.6 197.1 277C200.83 277.4 205.87 278.78 209.6 279.4C213.33 280.02 217.03 279.03 219.5 280.7C221.97 282.37 224.4 286.3 224.4 289.4C224.4 292.5 222.38 296.62 219.5 299.3C216.62 301.98 212.07 304.05 207.1 305.5C202.13 306.95 194.47 308 189.7 308C184.93 308 180.57 307.78 178.5 305.5C176.43 303.22 176.88 297.82 177.3 294.3C177.72 290.78 179.35 287.28 181 284.4Z"/>
<path fill="#e19696" d="M182.3 288.1C183.95 285.82 186.82 282.93 189.7 281.9C192.58 280.87 196.28 281.07 199.6 281.9C202.92 282.73 207.53 284.62 209.6 286.9C211.67 289.18 212.63 293.12 212 295.6C211.37 298.08 209.1 300.15 205.8 301.8C202.5 303.45 196.12 305.3 192.2 305.5C188.28 305.7 184.37 304.65 182.3 303C180.23 301.35 179.8 298.08 179.8 295.6C179.8 293.12 180.65 290.38 182.3 288.1Z"/>
<path fill="#d77474" d="M184 289.5C184.98 286.92 187.2 284.3 189.7 283.8C192.2 283.3 196.53 284.63 199 286.5C201.47 288.37 204.42 292.33 204.5 295C204.58 297.67 201.97 300.87 199.5 302.5C197.03 304.13 192.32 305.33 189.7 304.8C187.08 304.27 184.75 301.85 183.8 299.3C182.85 296.75 183.02 292.08 184 289.5Z"/>
<path fill="#cb5252" d="M186 290C186.92 287.67 189.5 285 191 285C192.5 285 194 288 195 290C196 292 197.08 294.67 197 297C196.92 299.33 195.83 302.67 194.5 304C193.17 305.33 190.5 305.83 189 305C187.5 304.17 186 301.5 185.5 299C185 296.5 185.08 292.33 186 290Z"/>
<path fill="#bf3434" d="M188.5 287.5C189.17 286.25 190.75 285.75 191.5 286.5C192.25 287.25 192.58 289.75 193 292C193.42 294.25 194.33 298.08 194 300C193.67 301.92 192 303.33 191 303.5C190 303.67 188.58 302.58 188 301C187.42 299.42 187.42 296.25 187.5 294C187.58 291.75 187.83 288.75 188.5 287.5Z"/>
</g>
<g stroke="#a9a9a9" stroke-width="1.1" stroke-dasharray="5.5 4.5" fill="none">
<path d="M51 267.3 H164.3"/><path d="M166.1 267.3 H279.5"/>
<path d="M119.1 224.1 V321.6"/><path d="M234.9 224.1 V321.6"/>
</g>
<line x1="49.3" y1="244" x2="50.9" y2="244" stroke="#444" stroke-width="0.6" />
<text x="48.4" y="247" font-size="8.6" text-anchor="end" fill="#3a3a3a">0.5</text>
<line x1="49.3" y1="267.3" x2="50.9" y2="267.3" stroke="#444" stroke-width="0.6" />
<text x="48.4" y="270.3" font-size="8.6" text-anchor="end" fill="#3a3a3a">0.0</text>
<line x1="49.3" y1="290.6" x2="50.9" y2="290.6" stroke="#444" stroke-width="0.6" />
<text x="48.4" y="293.6" font-size="8.6" text-anchor="end" fill="#3a3a3a">−0.5</text>
<line x1="49.3" y1="313.9" x2="50.9" y2="313.9" stroke="#444" stroke-width="0.6" />
<text x="48.4" y="316.9" font-size="8.6" text-anchor="end" fill="#3a3a3a">−1.0</text>
<line x1="59.1" y1="321.6" x2="59.1" y2="323.2" stroke="#444" stroke-width="0.6" />
<text x="59.1" y="333.3" font-size="8.6" text-anchor="middle" fill="#3a3a3a">−1.0</text>
<line x1="89.1" y1="321.6" x2="89.1" y2="323.2" stroke="#444" stroke-width="0.6" />
<text x="89.1" y="333.3" font-size="8.6" text-anchor="middle" fill="#3a3a3a">−0.5</text>
<line x1="119.1" y1="321.6" x2="119.1" y2="323.2" stroke="#444" stroke-width="0.6" />
<text x="119.1" y="333.3" font-size="8.6" text-anchor="middle" fill="#3a3a3a">0.0</text>
<line x1="149.1" y1="321.6" x2="149.1" y2="323.2" stroke="#444" stroke-width="0.6" />
<text x="149.1" y="333.3" font-size="8.6" text-anchor="middle" fill="#3a3a3a">0.5</text>
<line x1="174.5" y1="321.6" x2="174.5" y2="323.2" stroke="#444" stroke-width="0.6" />
<text x="174.5" y="333.3" font-size="8.6" text-anchor="middle" fill="#3a3a3a">−1.0</text>
<line x1="204.7" y1="321.6" x2="204.7" y2="323.2" stroke="#444" stroke-width="0.6" />
<text x="204.7" y="333.3" font-size="8.6" text-anchor="middle" fill="#3a3a3a">−0.5</text>
<line x1="234.9" y1="321.6" x2="234.9" y2="323.2" stroke="#444" stroke-width="0.6" />
<text x="234.9" y="333.3" font-size="8.6" text-anchor="middle" fill="#3a3a3a">0.0</text>
<line x1="265.1" y1="321.6" x2="265.1" y2="323.2" stroke="#444" stroke-width="0.6" />
<text x="265.1" y="333.3" font-size="8.6" text-anchor="middle" fill="#3a3a3a">0.5</text>
<text x="24.6" y="275.7" font-size="8.6" text-anchor="middle" fill="#222" transform="rotate(-90 24.6 275.7)">M2_score</text>
<text x="165.2" y="342.2" font-size="8.6" text-anchor="middle" fill="#222">M1_score</text>
<text x="135.8" y="237.3" font-size="8" fill="#222">T<tspan font-size="4.6" dy="2.3">CyEM</tspan></text>
<text x="252.5" y="237.3" font-size="8" fill="#222">T<tspan font-size="4.6" dy="2.3">CM</tspan></text>
<text x="286.6" y="256.2" font-size="7" fill="#222">level</text>
<defs><linearGradient id="lvg" x1="0" y1="0" x2="0" y2="1"><stop offset="0" stop-color="#bd2327"/><stop offset="0.5" stop-color="#e28384"/><stop offset="1" stop-color="#fbe4e6"/></linearGradient></defs>
<rect x="286" y="258.3" width="8" height="35.5" fill="url(#lvg)" />
<line x1="286" y1="270" x2="287.4" y2="270" stroke="#fff" stroke-width="0.5" />
<line x1="292.6" y1="270" x2="294" y2="270" stroke="#fff" stroke-width="0.5" />
<text x="296.6" y="272.6" font-size="7.2" fill="#333">1.0</text>
<line x1="286" y1="284.9" x2="287.4" y2="284.9" stroke="#fff" stroke-width="0.5" />
<line x1="292.6" y1="284.9" x2="294" y2="284.9" stroke="#fff" stroke-width="0.5" />
<text x="296.6" y="287.5" font-size="7.2" fill="#333">0.5</text>
<text x="311.6" y="282.3" font-size="8.6" fill="#111">T<tspan font-size="4.4" dy="2.3">CM</tspan><tspan dy="-2.3"> group</tspan></text>
<text x="313.3" y="293.6" font-size="8.5" fill="#111">(MF28-2)</text>
</g>
<g id="panelF">
<text x="320.6" y="226.4" font-size="14" font-weight="bold">f</text>
<text x="516.5" y="230.7" font-size="8.6" text-anchor="middle" font-weight="bold" textLength="176.2" lengthAdjust="spacingAndGlyphs">Physical location of CD40L and CD40</text>
<text x="391.45" y="244.2" font-size="8.3" text-anchor="middle" fill="#2a2af0">DAPI</text>
<text x="475.1" y="244.2" font-size="8.3" text-anchor="middle" fill="#3cc23c">CD40L</text>
<text x="558.3" y="244.2" font-size="8.3" text-anchor="middle" fill="#f01818">CD40</text>
<text x="643" y="244.2" font-size="8.3" text-anchor="middle" fill="#111">Merge</text>
<g transform="translate(350.9 250.2)">
<svg width="81.1" height="80.2" overflow="hidden">
<rect x="0" y="0" width="81.1" height="80.2" fill="#010112" />
<rect x="0" y="0" width="81.1" height="80.2" filter="url(#sf1)"/>
<g filter="url(#bl1)"><ellipse cx="66.52" cy="25.03" rx="5.48" ry="5.32" fill="#1616c0" transform="rotate(20.71 66.52 25.03)"/><ellipse cx="79.91" cy="82.97" rx="5.48" ry="4.89" fill="#1a1ad8" transform="rotate(119 79.91 82.97)"/><ellipse cx="71.05" cy="-0.56" rx="6.91" ry="4.28" fill="#1616c0" transform="rotate(146.4 71.05 -0.56)"/><ellipse cx="12.91" cy="24.65" rx="5.17" ry="5.25" fill="#2020ee" transform="rotate(96.11 12.91 24.65)"/><ellipse cx="16.63" cy="3.18" rx="6.69" ry="5.12" fill="#1a1ad8" transform="rotate(162.21 16.63 3.18)"/><ellipse cx="5.69" cy="65.92" rx="6.41" ry="4.34" fill="#1a1ad8" transform="rotate(59.2 5.69 65.92)"/><ellipse cx="5.26" cy="36.67" rx="5.16" ry="5.25" fill="#1a1ad8" transform="rotate(96.84 5.26 36.67)"/><ellipse cx="20.66" cy="50.93" rx="6.84" ry="5.56" fill="#1a1ad8" transform="rotate(63.25 20.66 50.93)"/><ellipse cx="69.05" cy="63.37" rx="5.81" ry="4.93" fill="#2020ee" transform="rotate(109.01 69.05 63.37)"/><ellipse cx="30.44" cy="78.46" rx="5.07" ry="4.79" fill="#2626ff" transform="rotate(7.1 30.44 78.46)"/><ellipse cx="45.97" cy="39.04" rx="6.3" ry="5.32" fill="#2020ee" transform="rotate(117.81 45.97 39.04)"/><ellipse cx="47.08" cy="2.35" rx="5.96" ry="5.22" fill="#1a1ad8" transform="rotate(136.08 47.08 2.35)"/><ellipse cx="63.96" cy="80.16" rx="6.15" ry="5.17" fill="#2626ff" transform="rotate(75.12 63.96 80.16)"/><ellipse cx="49.05" cy="73.14" rx="5.94" ry="4.66" fill="#2626ff" transform="rotate(97.37 49.05 73.14)"/><ellipse cx="36.48" cy="13.26" rx="6.18" ry="4.11" fill="#2020ee" transform="rotate(3.39 36.48 13.26)"/><ellipse cx="-2.23" cy="53.64" rx="5.22" ry="4.33" fill="#1616c0" transform="rotate(14.96 -2.23 53.64)"/><ellipse cx="11.39" cy="78.82" rx="5.77" ry="4.74" fill="#1616c0" transform="rotate(87.9 11.39 78.82)"/><ellipse cx="83.98" cy="38.11" rx="6.5" ry="5.25" fill="#1616c0" transform="rotate(94.4 83.98 38.11)"/><ellipse cx="81.32" cy="18.92" rx="6.94" ry="5.4" fill="#2626ff" transform="rotate(151.82 81.32 18.92)"/><ellipse cx="53.78" cy="26.5" rx="6.36" ry="5.17" fill="#1616c0" transform="rotate(104.92 53.78 26.5)"/><ellipse cx="82.37" cy="70.14" rx="5.15" ry="4.01" fill="#2020ee" transform="rotate(5.66 82.37 70.14)"/><ellipse cx="78.49" cy="51.45" rx="6.65" ry="4.87" fill="#1a1ad8" transform="rotate(120.32 78.49 51.45)"/><ellipse cx="60.48" cy="41" rx="5.14" ry="5.18" fill="#2626ff" transform="rotate(36.72 60.48 41)"/><ellipse cx="46.21" cy="60.43" rx="6.74" ry="5.25" fill="#1a1ad8" transform="rotate(72.34 46.21 60.43)"/><ellipse cx="53.05" cy="13.45" rx="6" ry="5.26" fill="#2626ff" transform="rotate(38.37 53.05 13.45)"/><ellipse cx="33.75" cy="31.41" rx="6.64" ry="4.16" fill="#2626ff" transform="rotate(79.26 33.75 31.41)"/><ellipse cx="19.27" cy="64.86" rx="5.35" ry="4.68" fill="#1a1ad8" transform="rotate(4.39 19.27 64.86)"/><ellipse cx="39.01" cy="49.54" rx="5.85" ry="4.03" fill="#2626ff" transform="rotate(5.4 39.01 49.54)"/><ellipse cx="23.52" cy="17.26" rx="6.53" ry="4.19" fill="#1616c0" transform="rotate(60.03 23.52 17.26)"/><ellipse cx="-0.4" cy="0.08" rx="5.34" ry="5.56" fill="#1616c0" transform="rotate(173.28 -0.4 0.08)"/><ellipse cx="19.16" cy="37.25" rx="5.18" ry="4.45" fill="#1a1ad8" transform="rotate(169.12 19.16 37.25)"/><ellipse cx="6.13" cy="11.02" rx="6.12" ry="4.43" fill="#1a1ad8" transform="rotate(53.36 6.13 11.02)"/><ellipse cx="33.15" cy="66.01" rx="6.84" ry="4.63" fill="#2020ee" transform="rotate(26.23 33.15 66.01)"/><ellipse cx="32.07" cy="0.47" rx="6.17" ry="4.16" fill="#1616c0" transform="rotate(137.58 32.07 0.47)"/></g>
</svg>
<rect x="51.3" y="75.8" width="26.6" height="2" fill="#fff" />
</g>
<g transform="translate(434.7 250.2)">
<svg width="80.8" height="80.2" overflow="hidden">
<rect x="0" y="0" width="80.8" height="80.2" fill="#000" />
<g filter="url(#bl6)" opacity="0.6"><ellipse cx="32" cy="30" rx="14" ry="10" fill="#1a7a1a"/><ellipse cx="70" cy="52" rx="8" ry="8" fill="#156a15"/><ellipse cx="8" cy="74" rx="9" ry="7" fill="#156a15"/></g>
<rect x="0" y="0" width="80.8" height="80.2" filter="url(#sf2)"/>
<rect x="0" y="0" width="80.8" height="80.2" filter="url(#sf3)"/>
<rect x="0" y="0" width="80.8" height="80.2" filter="url(#sf4)"/>
</svg>
<rect x="51" y="75.8" width="26.6" height="2" fill="#fff" />
</g>
<g transform="translate(517.9 250.2)">
<svg width="80.8" height="80.2" overflow="hidden">
<rect x="0" y="0" width="80.8" height="80.2" fill="#000" />
<rect x="0" y="0" width="80.8" height="80.2" filter="url(#sf5)"/>
<g filter="url(#bl1)" fill="#ff1a1a" opacity="1"><ellipse cx="32.3" cy="24.4" rx="3.6" ry="3"/><ellipse cx="29" cy="27" rx="2.5" ry="2"/><ellipse cx="36" cy="27.5" rx="2" ry="1.6"/><ellipse cx="51.5" cy="27.6" rx="1.8" ry="1.5"/><ellipse cx="47.5" cy="28.5" rx="1.3" ry="1.2"/><ellipse cx="9.5" cy="33" rx="2" ry="1.2"/><ellipse cx="11.5" cy="72.5" rx="3.4" ry="2.3"/><ellipse cx="44" cy="66" rx="2.2" ry="1.4"/><ellipse cx="60" cy="40" rx="1.2" ry="1"/></g>
</svg>
<rect x="51" y="75.8" width="26.6" height="2" fill="#fff" />
</g>
<g transform="translate(601.8 250.2)">
<svg width="82.4" height="80.2" overflow="hidden">
<rect x="0" y="0" width="82.4" height="80.2" fill="#000" />
<rect x="0" y="0" width="82.4" height="80.2" filter="url(#sf6)"/>
<g filter="url(#bl1)"><ellipse cx="66.52" cy="25.03" rx="5.48" ry="5.32" fill="#1616c0" transform="rotate(20.71 66.52 25.03)"/><ellipse cx="79.91" cy="82.97" rx="5.48" ry="4.89" fill="#1a1ad8" transform="rotate(119 79.91 82.97)"/><ellipse cx="71.05" cy="-0.56" rx="6.91" ry="4.28" fill="#1616c0" transform="rotate(146.4 71.05 -0.56)"/><ellipse cx="12.91" cy="24.65" rx="5.17" ry="5.25" fill="#2020ee" transform="rotate(96.11 12.91 24.65)"/><ellipse cx="16.63" cy="3.18" rx="6.69" ry="5.12" fill="#1a1ad8" transform="rotate(162.21 16.63 3.18)"/><ellipse cx="5.69" cy="65.92" rx="6.41" ry="4.34" fill="#1a1ad8" transform="rotate(59.2 5.69 65.92)"/><ellipse cx="5.26" cy="36.67" rx="5.16" ry="5.25" fill="#1a1ad8" transform="rotate(96.84 5.26 36.67)"/><ellipse cx="20.66" cy="50.93" rx="6.84" ry="5.56" fill="#1a1ad8" transform="rotate(63.25 20.66 50.93)"/><ellipse cx="69.05" cy="63.37" rx="5.81" ry="4.93" fill="#2020ee" transform="rotate(109.01 69.05 63.37)"/><ellipse cx="30.44" cy="78.46" rx="5.07" ry="4.79" fill="#2626ff" transform="rotate(7.1 30.44 78.46)"/><ellipse cx="45.97" cy="39.04" rx="6.3" ry="5.32" fill="#2020ee" transform="rotate(117.81 45.97 39.04)"/><ellipse cx="47.08" cy="2.35" rx="5.96" ry="5.22" fill="#1a1ad8" transform="rotate(136.08 47.08 2.35)"/><ellipse cx="63.96" cy="80.16" rx="6.15" ry="5.17" fill="#2626ff" transform="rotate(75.12 63.96 80.16)"/><ellipse cx="49.05" cy="73.14" rx="5.94" ry="4.66" fill="#2626ff" transform="rotate(97.37 49.05 73.14)"/><ellipse cx="36.48" cy="13.26" rx="6.18" ry="4.11" fill="#2020ee" transform="rotate(3.39 36.48 13.26)"/><ellipse cx="-2.23" cy="53.64" rx="5.22" ry="4.33" fill="#1616c0" transform="rotate(14.96 -2.23 53.64)"/><ellipse cx="11.39" cy="78.82" rx="5.77" ry="4.74" fill="#1616c0" transform="rotate(87.9 11.39 78.82)"/><ellipse cx="83.98" cy="38.11" rx="6.5" ry="5.25" fill="#1616c0" transform="rotate(94.4 83.98 38.11)"/><ellipse cx="81.32" cy="18.92" rx="6.94" ry="5.4" fill="#2626ff" transform="rotate(151.82 81.32 18.92)"/><ellipse cx="53.78" cy="26.5" rx="6.36" ry="5.17" fill="#1616c0" transform="rotate(104.92 53.78 26.5)"/><ellipse cx="82.37" cy="70.14" rx="5.15" ry="4.01" fill="#2020ee" transform="rotate(5.66 82.37 70.14)"/><ellipse cx="78.49" cy="51.45" rx="6.65" ry="4.87" fill="#1a1ad8" transform="rotate(120.32 78.49 51.45)"/><ellipse cx="60.48" cy="41" rx="5.14" ry="5.18" fill="#2626ff" transform="rotate(36.72 60.48 41)"/><ellipse cx="46.21" cy="60.43" rx="6.74" ry="5.25" fill="#1a1ad8" transform="rotate(72.34 46.21 60.43)"/><ellipse cx="53.05" cy="13.45" rx="6" ry="5.26" fill="#2626ff" transform="rotate(38.37 53.05 13.45)"/><ellipse cx="33.75" cy="31.41" rx="6.64" ry="4.16" fill="#2626ff" transform="rotate(79.26 33.75 31.41)"/><ellipse cx="19.27" cy="64.86" rx="5.35" ry="4.68" fill="#1a1ad8" transform="rotate(4.39 19.27 64.86)"/><ellipse cx="39.01" cy="49.54" rx="5.85" ry="4.03" fill="#2626ff" transform="rotate(5.4 39.01 49.54)"/><ellipse cx="23.52" cy="17.26" rx="6.53" ry="4.19" fill="#1616c0" transform="rotate(60.03 23.52 17.26)"/><ellipse cx="-0.4" cy="0.08" rx="5.34" ry="5.56" fill="#1616c0" transform="rotate(173.28 -0.4 0.08)"/><ellipse cx="19.16" cy="37.25" rx="5.18" ry="4.45" fill="#1a1ad8" transform="rotate(169.12 19.16 37.25)"/><ellipse cx="6.13" cy="11.02" rx="6.12" ry="4.43" fill="#1a1ad8" transform="rotate(53.36 6.13 11.02)"/><ellipse cx="33.15" cy="66.01" rx="6.84" ry="4.63" fill="#2020ee" transform="rotate(26.23 33.15 66.01)"/><ellipse cx="32.07" cy="0.47" rx="6.17" ry="4.16" fill="#1616c0" transform="rotate(137.58 32.07 0.47)"/></g>
<g filter="url(#bl6)" opacity="0.42"><ellipse cx="32" cy="30" rx="14" ry="10" fill="#1a7a1a"/><ellipse cx="70" cy="52" rx="8" ry="8" fill="#156a15"/><ellipse cx="8" cy="74" rx="9" ry="7" fill="#156a15"/></g>
<rect x="0" y="0" width="82.4" height="80.2" filter="url(#sf7)" opacity="0.7"/>
<rect x="0" y="0" width="82.4" height="80.2" filter="url(#sf8)" opacity="0.7"/>
<rect x="0" y="0" width="82.4" height="80.2" filter="url(#sf9)" opacity="0.7"/>
<rect x="0" y="0" width="82.4" height="80.2" filter="url(#sf10)" opacity="0.95"/>
<g filter="url(#bl1)" fill="#ff1a1a" opacity="0.95"><ellipse cx="32.3" cy="24.4" rx="3.6" ry="3"/><ellipse cx="29" cy="27" rx="2.5" ry="2"/><ellipse cx="36" cy="27.5" rx="2" ry="1.6"/><ellipse cx="51.5" cy="27.6" rx="1.8" ry="1.5"/><ellipse cx="47.5" cy="28.5" rx="1.3" ry="1.2"/><ellipse cx="9.5" cy="33" rx="2" ry="1.2"/><ellipse cx="11.5" cy="72.5" rx="3.4" ry="2.3"/><ellipse cx="44" cy="66" rx="2.2" ry="1.4"/><ellipse cx="60" cy="40" rx="1.2" ry="1"/></g>
</svg>
<rect x="52.6" y="75.8" width="26.6" height="2" fill="#fff" />
</g>
<path d="M619.5 291.5 L624.6 287.2" stroke="#fff" stroke-width="1.1"/><path d="M626.2 285.8 l-3.6 0.6 l2.1 2.4z" fill="#fff"/>
</g>
<g id="panelD">
<text x="15.6" y="367" font-size="14" font-weight="bold">d</text>
<text x="355" y="355.2" font-size="9.65" text-anchor="middle" font-weight="bold">Macrophages</text>
<line x1="18.8" y1="385" x2="18.8" y2="463.4" stroke="#8a8a8a" stroke-width="0.9" />
<line x1="18.4" y1="463" x2="130.8" y2="463" stroke="#8a8a8a" stroke-width="0.9" />
<line x1="17" y1="459.1" x2="18.8" y2="459.1" stroke="#8a8a8a" stroke-width="0.7" />
<text x="16.4" y="461.4" font-size="6.4" text-anchor="end" fill="#333">0</text>
<line x1="17" y1="441.5" x2="18.8" y2="441.5" stroke="#8a8a8a" stroke-width="0.7" />
<text x="16.4" y="443.8" font-size="6.4" text-anchor="end" fill="#333">1</text>
<line x1="17" y1="423.9" x2="18.8" y2="423.9" stroke="#8a8a8a" stroke-width="0.7" />
<text x="16.4" y="426.2" font-size="6.4" text-anchor="end" fill="#333">2</text>
<line x1="17" y1="406.3" x2="18.8" y2="406.3" stroke="#8a8a8a" stroke-width="0.7" />
<text x="16.4" y="408.6" font-size="6.4" text-anchor="end" fill="#333">3</text>
<line x1="17" y1="388.7" x2="18.8" y2="388.7" stroke="#8a8a8a" stroke-width="0.7" />
<text x="16.4" y="391" font-size="6.4" text-anchor="end" fill="#333">4</text>
<line x1="49" y1="463" x2="49" y2="464.8" stroke="#8a8a8a" stroke-width="0.7" />
<line x1="100.1" y1="463" x2="100.1" y2="464.8" stroke="#8a8a8a" stroke-width="0.7" />
<text x="49" y="474.3" font-size="8.2" text-anchor="middle" fill="#222">T<tspan font-size="4.8" dy="2.9">CyEM</tspan></text>
<text x="100.1" y="474.3" font-size="8.2" text-anchor="middle" fill="#222">T<tspan font-size="4.8" dy="2.9">CM</tspan></text>
<text x="74.6" y="368" font-size="8.2" text-anchor="middle" font-style="italic" fill="#111">CD163</text>
<text x="74.55" y="375.8" font-size="5" text-anchor="middle" fill="#222">***</text>
<path d="M49 380.4 V378 H100.1 V380.4" fill="none" stroke="#444" stroke-width="0.7"/>
<text x="4.6" y="416.5" font-size="7.6" text-anchor="middle" fill="#222" transform="rotate(-90 4.6 416.5)">Expresssion Level</text>
<path fill="none" stroke="#111" stroke-width="1" stroke-linecap="round" d="M68.6 438.3h0m-18 1.3h0m-4.8-12.4h0m8.2-7.8h0m-20.6-3.6h0m17.1 6.6h0m-2.9-.3h0m-13 28h0m13.9-45.1h0m-18.3 37.9h0m14.5-5.6h0m-.8 6.4h0m11.4-11.5h0m-5.5-8.9h0m-.7 28.9h0m-14.3-31.1h0m21.2 11.9h0m-1.4-20h0m5.6 18.3h0m-7.7 12.9h0m1.8-13.1h0m9.3-7.4h0m-1-17.5h0m-9.8 32.6h0m11.4-8.2h0m-24.7-11.5h0m-10.8 29.5h0m4-19.4h0m28.3-6h0m-29.3-16.1h0m3.3 2.2h0m29.6 15.9h0m-5.7 23.5h0m-.9-37.5h0m-28.2 5.9h0m17.7 2.9h0m2.5 15.1h0m-19.2 13h0m33-10.9h0m-14.7 .1h0m-13.1-5.4h0m23.7 19.4h0m-24.9-29.7h0m19.6 18h0m-16-16.3h0m-7.3-10.1h0m2.8 21.5h0m22.6 2h0m3-11h0m-25.5 6.3h0m-5.2-3.5h0m29.9 1.5h0m-24.4-1h0m-4.3 3.2h0m6.1 9.1h0m26.1-17.2h0m-28.2-8.9h0m21.5 3.6h0m14 5.7h0m-30.3-.3h0m30.8 26.5h0m-18.9-26h0m5.6-9.3h0m-4.2 1.6h0m-21.8 33.5h0m20.2-36.8h0m9.8 25.8h0m-7.7-9.5h0m-9-12.9h0m3.1-3.1h0m-18.5 11.8h0m37.7-1.1h0m1.4-5.3h0m-7.4-2.4h0m-4 23.6h0m5.6-3.4h0m-16.6-9h0m7.8-7h0m-13.9-4.7h0m19.3 26.5h0m-30.1-16h0m23.8-1.5h0m-.9 19.3h0m-15.4-6.4h0m9-12.1h0m4.1-13.5h0m10.2 4.6h0m-28.7 21.6h0m5.8-3.4h0m-.4-4.9h0m31.3 6.4h0m-26.6-11.7h0m2.9 7.3h0m17.4-6.9h0m-7 13.7h0m9.2 .6h0m-16.2 2.5h0m14.6-18.1h0m-31.1-1.3h0m26.3-.6h0m-9.1-9.6h0m5.2 26.4h0m-23.2 3.6h0m22.6-32h0m16.8 30.6h0m-21.4-27.2h0m16.1 39.1h0m-26.2-35.7h0m5.3 19h0m18.9 4.5h0m-13.3 9.9h0m16-44h0m-35 13.9h0m34.6-.6h0m-16.5-2.1h0m21.3 22.9h0m-35-1.3h0m32.8-16.9h0m-8 2.3h0m4.5 21.8h0m-7.9-13h0m9.4 2.6h0m-9.5 8.8h0m-19.1-16.9h0m33.7-1.1h0m-36.9-17.7h0m-3.2 29.5h0m5.2 5.9h0m-1.2-7h0m10.1-27.7h0m26.1 37.5h0m-6.6-1h0m-9.7-22.7h0m-2.3-10.3h0m-13.2 28.2h0m18-3.4h0m-.4-22.9h0m12.6 30.2h0m-5.5-14.8h0m-7.3-18.9h0m6.9 1.6h0m-25.8 16.7h0m10.6-24.6h0m16.6 43h0m-16.6-13.1h0m-2.2-22.8h0m8.9 30.7h0m-5.4-11.6h0m-18.5-5.8h0m38.9 12.6h0m-32.5-34.1h0m10.6 19.2h0m-12.9-4.7h0m16.7 8.5h0m-11.3 10.6h0m9.3-3.5h0m14.9 1.3h0m-32.6-14.7h0m32.1 8.2h0m2.7 6h0m-30.5 4.2h0m17.9 13.5h0m-22.4-24.4h0m36.9-7h0m-1.9 6h0m-11.1 4h0m-18.4-5.6h0m24.5-20.3h0m-.2 44.3h0m-16.7-24.5h0m13.3 5.1h0m-10.5 1.9h0m.3-26.8h0m10.7 27h0m-29.4 14.3h0m9.1-6.8h0m29.1-8.9h0m-12.1-23h0m-20.3 20.9h0m4.6 21h0m6.9 .6h0m11.6-9h0m-22.1-5.4h0m10.3-16.7h0m21.7 16.5h0m-38.7-2.7h0m39-1.7h0m-27.4 11.3h0m3.9-34.1h0m18.5 17.8h0m-6.6 11h0m.8 5.6h0m-1.2-8.8h0m-3.5-12.5h0m-5.8 .1h0m-14.3 5.6h0m8.6 16.4h0m19.1-11.8h0m-6.4-1.8h0m16.6 4.9h0m-28-6.3h0m-3.9-8.8h0m11.2 4h0m13.1-3.3h0m-1.9 8.6h0m-5.4 4.5h0m9.3-3.8h0m-30.4-1.8h0m27.8 1.9h0m6.2-12.2h0m-4.2-11.7h0m-15.7 37.5h0m-13.9-23.5h0m-1 6.1h0m-2.8-4.6h0m10.3-1.1h0m9 2.8h0m14.3 14.7h0m-12.9-30.8h0m-21.5 20.3h0m3-17.1h0m36.1 35.2h0m-31.5 1.8h0m-7.6-8.4h0m6.3-3.1h0m-6.2 15.2h0m13.1-10.6h0m22-5.3h0m-7.1 1h0m.9-3.6h0m-10.3 11.6h0m-7.4-11.7h0m0 1.1h0m-7.8 11.4h0m24.2-22.5h0m-4.4-2.9h0m-23.6 6.5h0m29.7 15.8h0m-14.9-34.7h0m20.7 10.9h0m-33.1-8.7h0m25.7 35.8h0m-20.6-24.2h0m25 .3h0m6.3 25.8h0m-27.3-8.8h0m-1 10.6h0m13.5-1.1h0m-13.3-36.4h0m29.4 4.4h0m-13.7 23.7h0m14.3-8.5h0m-21.6 11.6h0m1.9-6.3h0m-14.6 6.1h0m23.8-2.8h0m-24.5-20.6h0m13.2 4.2h0m17.1-12.6h0m-2.1 4h0m-3.2 13.3h0m-15 12.1h0m-16.5-23.8h0m36.4 4.7h0m-28.5 3.9h0m21.2 8.9h0m-2.1-21.5h0m-26.7 22.2h0m32.9-16.6h0m-24.7 20.3h0m12-16.5h0m-16.3 .8h0m3.6-2.8h0m-3.5 22.5h0m32.1-10.2h0m-24.3-15.7h0m-9.9 8.2h0m26.5 9.7h0m-18-18.9h0m15.8 36.5h0m-8-42.8h0m20.4 15h0m-29-18.2h0m10 16h0m-19 19h0m7.4-11.4h0m26.2-10h0m-1-1.3h0m-21 15.5h0m25.5 4.3h0m-16.6-3.5h0m.4 16.5h0m-1.4-7.6h0m3.6-9.7h0m-11.6 11.7h0m28.2-21.2h0m-16-2.5h0m-.3-.8h0m-3 8h0m-18.5-29.3h0m30.9 32.4h0m6.1-25.2h0m-24 25.6h0m17.5 12.3h0m-3.4 .8h0m3.3-21h0m-8.3 17h0m.9-23.7h0m10.2 15.1h0m-30.1-4.3h0m.4 23.1h0m-5.1-13.3h0m26.3-27.1h0m-16 11.9h0m11.3 .4h0m-13.4 13.1h0m15.2-30.6h0m13.8 9.6h0m-23.4 15.8h0m-6 5.7h0m27 3.7h0m1.4-14.5h0m2.8-18h0m-.7 43.1h0m-8.8-40.5h0m1.3 31.9h0m-17.9-28h0m-7.7 21h0m26.8-6.9h0m-15.4 8.8h0m11.9-28.3h0m-1.9 21.8h0m-17.2-7.2h0m10 1.4h0m16.6-10.6h0m-18.9 20h0m6.7 9.3h0m.2-22.4h0m14.1-.5h0m1.1 16.4h0m-7.2-2h0m-32-8.1h0m30.6-11h0m-1.9 8.1h0m2.5-20.6h0m-31.1 35.5h0m23.5-5.5h0m7.5-21.1h0m-26.6 15.5h0m.4 17.6h0m2.2-22.9h0m-2.1 13.4h0m2.9-1.1h0m-4.6-33.3h0m19.4 39.3h0m-13.5-8.6h0m16.7-4.8h0m-15.3-2.5h0m-6.1 24.1h0m-.4-47.8h0m7.9 40.1h0m11.1-14.2h0m-22.7-11.7h0m13.9 18.3h0m-13.1-13.5h0m7.9 21h0m2.9-13.9h0m14.8-11h0m-22.1 13.8h0m28.4 3.3h0m-27.1-21.8h0m21.7 35.1h0m-19.8-36.3h0m26 9.2h0m-4.8 .9h0m9.2 21.9h0m-13.8-29.1h0m-10.9 28.6h0m4.2-9.5h0m-15.6 3.9h0m14.3-24.6h0m-9.2 6.1h0m14 .4h0m-2.1 14.7h0m11.3-21.5h0m6.4 8.6h0m-.1 16.7h0m-31.7-15.7h0m-3 11.4h0m-1.4-21.6h0m17.4 6.7h0m-17.5 25.7h0m28.3-31.9h0m-13.4 6.5h0m14.2 14.5h0m10.7 6.2h0m-32.5-34.9h0m14.1 33.4h0m-6.9-9.2h0m25.2-20.9h0m-7.7 26.3h0m-6.1-10.2h0m-23.1 18.6h0m36.4 6h0m-33.9-44.3h0m18.7 40.3h0m-1.1-14.8h0m-6 2.4h0m13.7-30.9h0m-11 35.8h0m-12 13.7h0m-7.7-7.7h0m29.6-21.2h0m2.1 28.3h0m-6.7-28.8h0m12.8-18.7h0m-37.3 37.3h0m25.6-18.8h0m-11.8-6.4h0m-13.2-10.9h0m34.3 13.5h0m-12.4 10.5h0m-15-19.6h0m12.5 26.9h0m-10.7-14.2h0m-6.6 20.3h0m24.2-7.9h0m-12.3-.7h0m20.9-.7h0m-22.3-24.1h0m26.2 23.7h0m-29.2 11.2h0m10.2-13.8h0m3.4 1h0m-9 3.5h0m-1.9-17.4h0m12.7 7.6h0m-26.9-9.9h0m18.9 8.4h0m-10.9 15.5h0m15.3-.8h0m-7.3 6.1h0m24.1-6.8h0m-23.3-5.7h0m-5.5 13h0m20.8-37.1h0m-9.1 30.1h0m-12.3-9.5h0m27.6-9.6h0m-11.3 8.3h0m-3.7 7h0m-16.4-9.5h0m1.2 6.5h0m23.4 19.5h0m8.1-34.7h0m-21.8 19h0m-4.1-18.8h0m23.7 13.8h0m-31.7 6.8h0m-4.6-3.3h0m27.7-3.4h0m-11.7-8.1h0m20.5 7.7h0m-9.2 1.9h0m-.2-1.2h0m7-19.5h0m3-3.9h0m-9.8 16.8h0m-24.3 23.8h0m8.9-7.7h0m-1 2.2h0m19-32.8h0m-31.7 9.9h0m22.5 15.6h0m-15.9-2.8h0m15-12.2h0m-11 14.9h0m1.7-4.5h0m-3.2 2.6h0m26.7-.7h0m-22.4 13.2h0m-10.2-24.5h0m2.8-.1h0m2.6 29.3h0m-1.5-15.6h0m12.7 12.5h0m8-13.1h0m-25.5-3.4h0m30.7-.3h0m-19.5 4h0m-1 5.4h0m17.1-20.6h0m-26.4 19.6h0m23.3-16.5h0m-8.1 7.2h0m9.1-15.6h0m14 37h0m-38.1-47.1h0m13 35.5h0m4.4-19.1h0m-17.3-3.5h0m22.3 1.5h0m-9.1 6.3h0m12.2 27.2h0m.4-23.2h0m6.8 11h0m-34.8-11.9h0m23.3 1.9h0m1.1-6.3h0m-2-4.9h0m4.7 3.8h0m-17.5-10.3h0m4.9 10.1h0m9.8-9.1h0m8.1 .2h0m-17.2 25.8h0m-13.6-6.1h0m-3.3-21.4h0m16.3 5.9h0m25.3-8.3h0m-40.2 16.9h0m9.1-22.8h0m28.2 44.4h0m-5.3 .5h0m-18.5-29.6h0m14.2 .1h0m11.4 13.4h0m-24.5 13.8h0m9.5-18.8h0m14.6-25.6h0m-38.8 26.5h0m4.8-7.9h0m26.2 11.8h0m7.3-11.7h0m-30 25h0m9.4-17.5h0m-10.7-8.4h0m3.8-7.6h0m-2.6 31.8h0m18-8.2h0m5.1-16.8h0m-24.4 8.3h0m7.8 7.3h0m14.2-16.6h0m4.6 19.5h0m-2.2 8.6h0m-5.7-16.6h0m13.1-7.8h0m-19.6 11.6h0m3.3-14.2h0m12.2 28.5h0m-15.4-24.8h0m13.9 4.5h0m-30.7-4h0m11-13h0m7.3 44.3h0m13.7-26.8h0m-13.8 9.9h0m-5.6 8.1h0m-8.7-21.3h0m2.7 16.9h0m18.5-8.5h0m-18.5-25.7h0m30.1 11.2h0m-38 8.7h0m39.5-27.6h0m-40.6 48.4h0m27.6-46.6h0m-4.9 8.3h0m-17.5 35.2h0m29.9-14.7h0m-10.6 .4h0m-13.1-10.4h0m-8 6.3h0m21.9-21.2h0m10 40.8h0m-5.3-22h0m2.7 8.4h0m-.7 3h0m-2.6-12.6h0m5.8 10h0m-32.8 7.2h0m29.6-5.5h0m-23.9-27.7h0m21.6 39.8h0m-14.3-7.4h0m12.5 3.7h0m-14-31.7h0m5.8 24.1h0m-13.1 8.2h0m-4.2-2.5h0m9.4-20.3h0m8.2 19.6h0m16.5-17.5h0m-32.1 3.1h0m-2 16.5h0m27.3-27.4h0m7.1 33.5h0m-34.3-8.6h0m13-12.1h0m1.6 4.4h0m-15 6.5h0m23.9-9.8h0m12.3-13.5h0m-37 21.8h0m5.3-13.6h0m-3.1 8.5h0m17.7 .6h0m-2.1-8.1h0m9 1.5h0m11.8 2.6h0m-26.7 4.2h0m3.9 10.2h0m-11.9 .2h0m-5.4-15.1h0m40-23.3h0m-32.4 43.6h0m-4-30.4h0m28.8 2.1h0m-11.3 12.4h0m.5-1.4h0m-14.5-14.4h0m10.6 5.6h0m-13.4-12.1h0m33.2 23.9h0m-30.7 4h0m19.8 8.9h0m-21.3-20h0m11-8.8h0m4.1-4.1h0m4.5 22.5h0m-14 6.9h0m-3.1 5h0m27.7 4.3h0m-11.9-8.3h0m-22.7-12.6h0m38.6 25.5h0m-36.8-25.2h0m21.8-4.4h0m14.9-10.4h0m-20.1 9.6h0m12.9 1.1h0m-3.4-8.9h0m-12.2 11.1h0m14.3 .1h0m-10.6-2.5h0m10.6 25.6h0m-15.1-15.7h0m-13.7 15.9h0m29.4-44.6h0m-22.1 40.5h0m29.1-21.1h0m-37.1 8.4h0m34.9-15.8h0m-31.2 9.5h0m5.9 6.1h0m23.5-20.2h0m-5.4 13.3h0m-17.4 3.7h0m12.5 3.8h0m-5.7-14.6h0m21-1.6h0m-3.8 .1h0m-16.4 31.5h0m.5-.3h0m4-16.5h0m-3.8 5.8h0m-13.6-4.1h0m19.5-20.6h0m-24.7 4.2h0m20.4 1.4h0m-21.9-11.4h0m33.1 6.5h0m-20.1 25.6h0m-7.7-43.9h0m28 38.4h0m-14 4.1h0m-10.7-7.1h0m1.7-20.8h0m-1.9 9.7h0m-2.5 3.9h0m18.3 18.4h0m-1.9-21h0m-3.3 15.8h0m16.1 9.6h0m-35.4-24.8h0m37.7-1.6h0m-2.8-1.8h0m-11.8 20.4h0m-9.7-37.4h0m-2.2 40.3h0m8-30.5h0m-3.5 19.7h0m22.7-4.3h0m-1.2 24.2h0m1.7-34.1h0m-26.8 14h0m26.9 14.6h0m-37.2-24.2h0m24.9 29.7h0m-13.5-19.1h0m5.4 4.3h0m-12.7-6.9h0m12.8-6.9h0m-1.7-18.2h0m-5.8 22.9h0m13.4 2.1h0m4.9-12.3h0m-5.9 32.4h0m10-29.6h0m-33.1 12.6h0m13.8 20.6h0m-7.9-43.6h0m31.9 2.2h0m-9.5 22.1h0m-21.5-11.2h0m18.8 16.6h0m-4.9-21.3h0m18.9 24.3h0m-14.5 8.5h0m-11.5-6.6h0m20.4-22.1h0m-.6 28.2h0m-5.2-14.6h0m.1-18h0m7.9 21.8h0m-25.5-12.1h0m11.5-12.8h0m17.2-8.3h0m-35.3 32h0m32.6-2.6h0m-15.5-6.1h0m7.9-8.6h0m2.7 12.4h0m-4.4-2h0m-7.6 12.5h0m11.4-42.8h0m-.4 18.2h0m-3.1 3.6h0m-27.5 13h0m34.7 14.2h0m-23.2-30.8h0m8.3 7.4h0m-15.1-9.5h0m8.2 3.8h0m19.6 12.3h0m-32.4-9.6h0m15.7-3.3h0m22.7-19.3h0m-17.6 34.4h0m-5.1-22h0m16.5 1.7h0m-12.2 15.2h0m17.5 14.9h0m-38.2-38h0m20.7 41.3h0m-4.3-5.4h0m2.9-12.2h0m-11.5 6.5h0m8.3-24.3h0m16.3 34.8h0m-23 1.2h0m22.4-14.3h0m.3-4.4h0m-21.8-15.3h0m-3.9 11.6h0m4.5 4.2h0m3.3 10h0m1.3-15.2h0m12.6 23.4h0m7.6-23.3h0m-14.4 12.2h0m-12.9 9.7h0m10.7 2.7h0m-3.3-20.4h0m6.4 1.8h0m12.4 13.4h0m-30.4-21.1h0m-1.3 7.4h0m15.9 9.1h0m-12.3-22h0m11.6-.6h0m-9.9-19.3h0m19.5 48.6h0m-22.9-24.6h0m-1.9-1.2h0m14.6 18.9h0m12.5-1.5h0m-17.5-.3h0m21.2-22.4h0m-11.9-.4h0m-6.3 7.9h0m-11.1-1.7h0m2-9.9h0m9.1-6.3h0m11.1 3h0m11.2 25h0m-18.6 15.6h0m13.6-8.6h0m5.8-11.9h0m-37.8 .9h0m30.4 3h0m-13.6 .8h0m-7.8-22h0m27.4-2.8h0m-19.1 34h0m13.3-25.5h0m-22.3 22.4h0m4.5-23.7h0m-2.5 4.9h0m17.3 1.4h0m11.9 2.1h0m-13.9-1.5h0m4.9-17.7h0m-6.3 9.7h0m-19.8-2.5h0m-5.3 21.1h0m22.7-17.4h0m11.8 4.8h0m-31 3.6h0m11.3 2.5h0m-13.5-20.2h0m23 32.1h0m-11.3-13.8h0m-3.1-4.9h0m4 12h0m10.4-12.5h0m-13.1 30.7h0m-10.6-12.4h0m7.7 2.3h0m8.4-5.6h0m12.9-23.3h0m-28.3 24.2h0m34.5 14.8h0m-4.4-15.1h0m-31.2-19h0m38.3 11h0m.8 17.8h0m-12.6-15.7h0m-22.2 5.8h0m7.7 .7h0m-10.5-9.9h0m8 9.3h0m22.5-4.4h0m3.6 3.4h0m-9.6-22.8h0m-16.4 4.1h0m28.2-3.9h0m-34.9 31.7h0m5.9-43h0m26.7 24.6h0m-26.8 9.3h0m11.6-5.9h0m3.1 8.2h0m-22.6 2.8h0m20.4-3h0m-3.8-9.3h0m-7.1-22.8h0m23.6 21.6h0m-13.9 27.1h0m2.5-26.7h0m-21.7 2.7h0m31.1 5.8h0m-31.8-.3h0m41.2-1.5h0m-22.1 5.6h0m-8-6.4h0m-10.3-14.4h0m10.1 13.6h0m-8.9 10.7h0m35.2-26.8h0m3.5 10h0m-39.3 27h0m5.3-12.2h0m31.4-2.8h0m-19.1-12.9h0m5.5-.2h0m6 14.5h0m-27.7-3.3h0m22.8-15.4h0m-12.9 17.3h0m-.1-13h0m-6.9-8.3h0m2.6 0h0m20.7-18.9h0m9.6 25.9h0m-25.5-20.1h0m9.4 20.6h0m14.7 24.8h0m1.4-9.2h0m-20.3 8.1h0m11.3-19.2h0m-10.7 .3h0m-9-25.8h0m-9.8 21.1h0m3.3-11.7h0m14.3 6.9h0m-10.3 5.2h0m26.8 14.4h0m-12.1 12.9h0m7.7-22.6h0m4 8.2h0m-24.2-24.4h0m14.9 18.2h0m-20.5-3h0m.1 10.2h0m32.4-11.6h0m-6.3 20h0m-6.3-48.1h0m9.4 51.4h0m-26.1-22.3h0m-.1 12.8h0m1.3-7.9h0m9-10.7h0m-5.3 3.8h0m2.7-3.8h0m5-5h0m5.7 24.3h0m-7.8-17.5h0m-15.8-6.1h0m22.6 18.5h0m-14.1-23.6h0m-4.7 .8h0m-6.3 8.4h0m39.1-14.2h0m-25.9 27.4h0m13-8.7h0m-10.7-7.5h0m2.7 8.7h0m-9.1 10.4h0m-8.4-4.1h0m8.9 1.8h0m-9-9.8h0m20.5-1.5h0m3 14h0m9.4-25.6h0m-23.7 12.6h0m13.5 19.9h0m-8.5 1.2h0m3.4 4.3h0m12.5-19.3h0m-12.7-1.5h0m-12.1 23.4h0m17.5-28.9h0m-21.1-5h0m20 13.4h0m-14.1-10.3h0m6.6 5.1h0m16.4 6.8h0m8.2-11.6h0m-2.7 19.2h0m-28.8-.5h0m20.8-6.8h0m-19.3-23.8h0m-1.7 11.4h0m-5.5 18h0m3.8-1.1h0m26.5-12.8h0m-6.7 17h0m-.8-26.4h0m-14.9 12.6h0m8.2 9.5h0m23-27.7h0m-14.2 17.9h0m1.8-3h0m-21.7 .1h0m12.5 9.3h0m-14-4.5h0m-4.1-8.7h0m-.6 14.1h0m2.8-10.1h0m10.5 9.2h0m19.3 13.6h0m5.4-33.5h0m-37 10h0m12.5-5.5h0m-11.8-3.4h0m21.7-.3h0m-7.1 34.3h0m6.4-5.5h0m-10.4-9.8h0m-3.6-12.5h0m14.7 22.4h0m-11-18.5h0m9.2 19.1h0m14.4-13h0m-20 5.1h0m14.7 6.5h0m-24.7-23.2h0m-6.5 1.7h0m17.6-8.3h0m-3 8.4h0m22.3-.2h0m-10.8 15.5h0m-5.4-1.4h0m8.1-22.5h0m4.4 15h0m-12.3-2.4h0m-5.6 3.1h0m2.4 24h0m55.5-31.6h0m1.7 7.2h0m-8.7 8h0m-7.8-5.3h0m-2.3-4.1h0m18.6 23.8h0m-8.5-40h0m-.4 38.6h0m25.5-5h0m-5.1-11.6h0m-20.6-23.8h0m1.5 22.4h0m-7.9-20.4h0m-5.3 10.2h0m13 10.2h0m2.6-12.9h0m-2.1 34.2h0m14.8-38.8h0m-22.7-3.2h0m6 33.8h0m11.1-17.2h0m-9.6-20.4h0m13 10.7h0m-21.7 12.1h0m6.7-2.5h0m14.2-12.1h0m-3.2-.1h0m-4.2 3.7h0m-2.4 18.8h0m-8.9-15.3h0m5.4 17.7h0m-7.6-20.3h0m26.4 31.1h0m-1.1-33.4h0m-4.1 13.7h0m-29.1 6.6h0m36.5-.8h0m-.6 6.1h0m.1-35.7h0m-1.6 25.2h0m5.2 20.1h0m-26.1-47.9h0m25.2 39.4h0m-2.3-21.5h0m-13.4 2.6h0m-20.2-7.2h0m3.5 15.7h0m11.7-22.6h0m9.5 36.1h0m-15.6-24.6h0m8.2 2.4h0m.4-10.3h0m12.9 17.2h0m-19.7 7h0m17.3-26.6h0m-13.2 21.2h0m17.8 6.4h0m-28.3-23.9h0m32.4 18.9h0m-9.9 10.4h0m-10.4-28h0m-8.9 19.6h0m-1.5-10h0m17.3-8.6h0m5.2 32.7h0m9.2-11.3h0m-18.5 9.6h0m-2.1-15.8h0m-6.1 3.1h0m7.4-16.7h0m6.7 26.9h0m13.4-22.8h0m-28.2 27.7h0m5.6-7.2h0m.4-2.7h0m-16.2-15.1h0m11.4-2.2h0m-1.6 20.7h0m11.4-27.1h0m-6.8 16.2h0m4.8 5.3h0m-17.9 5.8h0m-4.3-35.4h0m21.7 16.7h0m-8.2 7.6h0m-11.6-27h0m25.1 16h0m2.5-3.8h0m-6.2-6.7h0m-8.5-2.7h0m10.6 14h0m-15.3-.4h0m18.3-6.2h0m-7.3-.1h0m5.5 17.1h0m-15.4-5.6h0m16.2 14.4h0m-1.1-7.1h0m-3.1-21.4h0m-14.3 2.4h0m8.1 15.1h0m-14.6-24.4h0m4.8 38.8h0m21.8-18.8h0m-22.1-22.2h0m27.2 17.4h0m-23.3 22.1h0m28.2-36.3h0m-26.3 12.3h0m21.7-2h0" />
<rect x="26.5" y="458.4" width="45" height="1.4" fill="#151515" />
<rect x="77.6" y="458.4" width="45" height="1.4" fill="#151515" />
<line x1="49" y1="459.1" x2="49" y2="388.7" stroke="#333" stroke-width="0.8" />
<line x1="100.1" y1="459.1" x2="100.1" y2="405.42" stroke="#333" stroke-width="0.8" />
<path d="M27 459.8 Q44 458.5 49 453.82 Q54 458.5 71 459.8 Z" fill="#e11d1d" stroke="#333" stroke-width="0.3"/>
<path d="M47.4 454.32 Q48.7 447.82 49 413.34 Q49.3 447.82 50.6 454.32 Z" fill="#e11d1d"/>
<line x1="49" y1="459.1" x2="49" y2="388.7" stroke="#333" stroke-width="0.5" />
<line x1="153.8" y1="384" x2="153.8" y2="463.4" stroke="#8a8a8a" stroke-width="0.9" />
<line x1="153.4" y1="463" x2="266" y2="463" stroke="#8a8a8a" stroke-width="0.9" />
<line x1="152" y1="459.5" x2="153.8" y2="459.5" stroke="#8a8a8a" stroke-width="0.7" />
<text x="151.4" y="461.8" font-size="6.4" text-anchor="end" fill="#333">0</text>
<line x1="152" y1="435.6" x2="153.8" y2="435.6" stroke="#8a8a8a" stroke-width="0.7" />
<text x="151.4" y="437.9" font-size="6.4" text-anchor="end" fill="#333">1</text>
<line x1="152" y1="411.7" x2="153.8" y2="411.7" stroke="#8a8a8a" stroke-width="0.7" />
<text x="151.4" y="414" font-size="6.4" text-anchor="end" fill="#333">2</text>
<line x1="152" y1="387.8" x2="153.8" y2="387.8" stroke="#8a8a8a" stroke-width="0.7" />
<text x="151.4" y="390.1" font-size="6.4" text-anchor="end" fill="#333">3</text>
<line x1="184.4" y1="463" x2="184.4" y2="464.8" stroke="#8a8a8a" stroke-width="0.7" />
<line x1="235.1" y1="463" x2="235.1" y2="464.8" stroke="#8a8a8a" stroke-width="0.7" />
<text x="184.4" y="474.3" font-size="8.2" text-anchor="middle" fill="#222">T<tspan font-size="4.8" dy="2.9">CyEM</tspan></text>
<text x="235.1" y="474.3" font-size="8.2" text-anchor="middle" fill="#222">T<tspan font-size="4.8" dy="2.9">CM</tspan></text>
<text x="210.1" y="368" font-size="8.2" text-anchor="middle" font-style="italic" fill="#111">VEGFA</text>
<text x="209.75" y="376.2" font-size="5" text-anchor="middle" fill="#222">***</text>
<path d="M184.4 380.8 V378.4 H235.1 V380.8" fill="none" stroke="#444" stroke-width="0.7"/>
<text x="139.6" y="416.5" font-size="7.6" text-anchor="middle" fill="#222" transform="rotate(-90 139.6 416.5)">Expresssion Level</text>
<path fill="none" stroke="#111" stroke-width="1" stroke-linecap="round" d="M186 434.2h0m-10.3 17.5h0m18-12.6h0m9.8-1.4h0m-15.5 12h0m-8.7-18h0m4.6-4.3h0m8.5 12.2h0m-23.9-3.7h0m23.9 11h0m-28.2-28.6h0m36.2-.1h0m.4 11.2h0m-4.7 20.5h0m-28.9-9.5h0m1.1 4.2h0m24.6-25.2h0m10.2 5h0m-3.5 20.5h0m-3-17.7h0m6.9 6.6h0m-22.7 2h0m5.3-2.9h0m8.9 11.3h0m-27.9-4.8h0m30.7-7.6h0m-10.7 6h0m9.4 4.5h0m-1.2-.2h0m-14.4-6.7h0m18.6-30.1h0m-27.2 28.9h0m-7.5-11.2h0m20.3 7.9h0m-1.4-1.2h0m6.4-17.2h0m-4.9 5h0m16.4 20.1h0m-20.4-15.5h0m-1 14h0m13-3.5h0m-24.7 6.9h0m31.9-3.1h0m.5-6.3h0m-32.8 1.3h0m17.1 19.1h0m-21.7-31.8h0m41.4 29.4h0m-40.6-29.1h0m29.1 22.2h0m-11.4-4.8h0m-17.9 0h0m31.4-19.1h0m-18.4 10.8h0m-4.1 1.7h0m13.8-3h0m-22.7 13h0m9-32.9h0m-6.2 38.9h0m12.8-.1h0m-6.2-5.6h0m16.8-27.6h0m-25 29.3h0m20.6 6h0m16.3-19.8h0m-31.4 1.5h0m-6.1-1.4h0m0 9.5h0m10.1-16.9h0m15.2 21.7h0m-13.8-16.7h0m-1.2 28.6h0m-6-22.5h0m-5.4 14.7h0m18 4.8h0m10.2-25.7h0m12.6 24.5h0m-34.8-18.3h0m31.5-8.8h0m-10.1 26.4h0m-16.2-2.7h0m9.8-28.6h0m-10.9 33.4h0m21.4 .4h0m-27.7 1.5h0m18.1-12.8h0m11.2-20.5h0m-17.2 5.3h0m7.4 27h0m17.6-24.3h0m-26.4-3.5h0m-12.4 27.7h0m27.3-12.6h0m-2.2 4.3h0m-7.2-11.3h0m-5.9 6.4h0m20.7 2h0m-15.9-14h0m4.3 14.8h0m3.2-4.3h0m-15.4-10.5h0m12 .1h0m-6.9-24.5h0m22.6 14.9h0m-1.1-3.4h0m-19.3 16.7h0m-5.7 17.6h0m-2.5-25.9h0m10.6-3.2h0m-1.6 25.9h0m-7.5-15.8h0m-9.5 11.3h0m15.3-17.7h0m-3.6-2.1h0m-.3 1.7h0m-4.1 10.9h0m27.6-7.8h0m-23.8 25.7h0m26.6-20.5h0m-11.4 11.1h0m-28.6-1.8h0m9-26.3h0m9 22.3h0m15-19.8h0m-8.6 31.3h0m-.1-18.4h0m-18-11.8h0m32.2 3h0m-24.7 9.4h0m23.1 9.6h0m.4 .7h0m-6.2 1.9h0m-13-26.5h0m-6 16.9h0m-7.2 5.8h0m4.7-12.8h0m18.1 29.1h0m-10.2-2.1h0m6.3-15.8h0m-8.4 9.5h0m-8.5-6.5h0m2.7 12.4h0m15.1 1.3h0m-22.1-11.5h0m-1-11.7h0m10.2 5.6h0m9.6 6.7h0m-1.5-12.6h0m-10.5-10.8h0m30.5 24.6h0m-25.8 8.7h0m9.9-19.9h0m-22.5 21.1h0m.4-13.2h0m2.3-17.9h0m19.3 10.1h0m-13.5 8.6h0m1.2 7.2h0m8-10.7h0m.1 3.3h0m-14-36.6h0m26 31.5h0m1.3 7.5h0m-1.2-22h0m1.8 21.5h0m4.4-14.5h0m-6.3 23.6h0m4-7.2h0m3.6-17.8h0m-5.6-12.2h0m-21.7 24.7h0m.6 7.3h0m-2.8-5.6h0m-3.3 7.8h0m1.1-16.6h0m15.1 11.1h0m-13.8-20.6h0m27.6 8.1h0m-16.4 19h0m-18.9-9.4h0m-.5-22.7h0m35.3 26.8h0m1.6-36.7h0m-31 35h0m20.9-45.5h0m9.8 39.3h0m-32.3-.3h0m15.2-15h0m-.5-6.5h0m-6.1 21.7h0m-1.1-4.5h0m8.4-10.2h0m4.4 25.6h0m-7.5-6.3h0m18 9.4h0m2.2-15.4h0m-24.9 19.3h0m-5.9-7.8h0m25.4-8.5h0m6.3-9.4h0m-33 12.4h0m26.9 1.4h0m9.3-.6h0m-10.1-3.3h0m1.3-39.9h0m6.1 45.3h0m-24.4-16h0m8 10h0m-11.2 2.2h0m21 .8h0m6.8-20.3h0m-2.4 17.7h0m-20.7-10h0m11.8 11.9h0m-22.9-14.5h0m8.1 10.8h0m-10.9 1.4h0m25.5 4.1h0m-10.6-6.3h0m24.5-4.8h0m-36.6 15.1h0m16.1-24.3h0m14.4 5.9h0m-25.2-.6h0m7.9 6.8h0m-8.2-7h0m6.3 25.9h0m-11.8-19.3h0m10.6 18.5h0m-5.4-31h0m3 12.1h0m-9.2 16.2h0m.3-36.3h0m14.5 12.9h0m20.8-.8h0m-33.6 11.7h0m17.5 8.8h0m9.1-14.9h0m-16.8 12.7h0m-8-39.7h0m26.5 40.3h0m-12 2.3h0m16.2-4h0m-17.2 9.8h0m-19.8-18.8h0m36.8 1.7h0m-37.5 6.5h0m28.5 3h0m-2.5-5h0m15.2-3.7h0m-21.1-7.6h0m18.6 .8h0m-17 13.4h0m-8.7-12.5h0m5.8-15.6h0m16.3 9.7h0m-30.5 1.8h0m30.6 2.2h0m-33.4 24.2h0m16.4-22.8h0m-8.6 21.6h0m31.4-29h0m-21.5 20.8h0m-5.4-21.4h0m24 10.4h0m2.7 2.2h0m-33 6.6h0m5.3-.7h0m-1.5-16.4h0m1.8 9.2h0m28.3-6.2h0m-29.1 23.1h0m17.7-34.5h0m3.7 10.7h0m-30.1 26.2h0m26.1-34.1h0m-4.5 23.4h0m-6.3 9.9h0m6-2.4h0m10.1-19.9h0m-19.2 15h0m-9.2-23h0m29.7 14.8h0m-34.8 1h0m16.1-12h0m-5.6-8.4h0m14.5 16.8h0m-16.8-22.3h0m23.4 6.8h0m-.3 5.7h0m-24.6 27.9h0m2.4-27.9h0m28.5-12h0m-16.5 33.1h0m-6.5-6h0m22.2 9h0m-32.5-11.2h0m32.5-16.2h0m-27.8 3.8h0m8.1 12.9h0m-18.7 4.6h0m16.7 1.9h0m11-11.4h0m11 15.7h0m-21.6-8.1h0m-6.9-15.2h0m17.2-1.8h0m-16.2 19.4h0m20.2 2.3h0m-25.8-42.8h0m2.6 11.7h0m-2.1 20.4h0m-1.4-12.7h0m17.7 20.4h0m3.5-8h0m8.7-16.7h0m-6.8-4.1h0m2.3 35.6h0m-9.8-29.6h0m18.7 35.4h0m-30.6-26.9h0m16.9 10.6h0m-4.9 11.1h0m-12.2-9.3h0m22.9 11.4h0m-1.9-24h0m-9.4 1.5h0m12.1 1.8h0m-22.8 8.9h0m3.1-24.7h0m22.6 16.1h0m-12.2 12.1h0m-.4-21.6h0m-17.5 12.2h0m14.7 13h0m18.8-21.5h0m-26.4-7.4h0m12.2 18.5h0m6.9 7.4h0m-.1-9.6h0m-24.8 5.8h0m29.4-14.8h0m-29 13.4h0m2.4-18.7h0m29.1 17.7h0m-20.4-6.7h0m17.6 3.1h0m-4.6-16.4h0m-11.6 19.7h0m-7.2 3.5h0m13 14.5h0m-25.1-15h0m17.6-.3h0m-5.7-13.9h0m8.6 6.8h0m16.5-5.4h0m-9.2 1.7h0m9.7-25.8h0m.8 16.3h0m-30.3 31h0m-1.1-6.1h0m4.5 .7h0m-7.1-4.8h0m31.1 1.3h0m-27.1-6.9h0m-8.3 4.3h0m6.3 4.7h0m24.2 4.8h0m-5.8-5.9h0m16.3-5.9h0m-8.1 5.5h0m1.1-7.7h0m-1.5 .3h0m-6-19.4h0m-6.2 24.4h0m-4.5-3.5h0m19.8 10.8h0m-20.2-15.8h0m19.6-3.5h0m-13.4 2.5h0m19.6 21.6h0m-23.8-37.6h0m-12.8 14.3h0m32-1.5h0m-9.4 11.7h0m8.3 8.4h0m-16.3-19.3h0m7.9 8.4h0m-8 14.8h0m-2-20.8h0m-4.8 17.5h0m5.1-5.9h0m2.4-7.4h0m-10.1 9h0m4.8-9h0m25.9 2.2h0m-9.6 1.6h0m-9.8 7.1h0m-19.2-14.5h0m10.1 1.7h0m25.4-15.4h0m-11.3 37.3h0m8-12.4h0m-25 7h0m.4-26.9h0m3 15.2h0m12.6-14.7h0m.3 2.2h0m8 8.2h0m-7.2-.4h0m-25.1 16.9h0m32.2-30.9h0m-28.8 26.2h0m30.9 .6h0m-3.5-15.2h0m-23.3-13.2h0m-3-10.2h0m34.5 42.2h0m-38.2-7.8h0m11.4-22.7h0m-6.9 28.8h0m5.9-10.5h0m-8.8 2.3h0m32-37h0m-9 51.8h0m6.5-12.1h0m6.7-22.3h0m-29.2 34.1h0m-5.7-44.5h0m32 29.2h0m4.3 .9h0m-18.9-6.6h0m-19.9 12.9h0m5.9-17.7h0m6.6 1.4h0m-.8-3.6h0m13 12.6h0m-6.4-6.8h0m17.3 13.4h0m-5.4-1.4h0m3.3 4.7h0m-17.5-7.8h0m-15.9 10.4h0m18.4-23.3h0m12.4-17h0m-28.1 10.8h0m17.7 10h0m-5.8-14.2h0m.2 26.8h0m-15.1-13.1h0m-1-3.6h0m8.9 4.9h0m14.9 0h0m16.7-7.8h0m-18.1 18.6h0m-23.1-8.2h0m15 19.8h0m-.1-32.1h0m2.9-1h0m-6.5-4.9h0m-5.8-9.2h0m2 36.7h0m21.3-16.3h0m10.6 10.1h0m-34.7-2.6h0m17.9-25.3h0m-14.6 26h0m24.9 1.5h0m-22.1 .9h0m-8 3.9h0m11.5-11.1h0m9.1 23.1h0m-1.3-8h0m-22.2-10.2h0m6.6 6.5h0m21.8 9.7h0m3.8-23.1h0m-17.4 17.4h0m17.6-29.8h0m4.8 36.4h0m-30.1-16.3h0m-4.8 11.3h0m30.1-12.2h0m-27-2.5h0m27-4.9h0m-12.2 10.8h0m-5.5 8h0m-2.9-7.6h0m28.1-3.9h0m-14.2 8.9h0m-6.5-27.2h0m4.7 33.2h0m8.8-.7h0m-13.7-11h0m13.8-12h0m-13.6 10.4h0m18.1-1.4h0m-25.6-8.5h0m10.8-6.4h0m-15.6 13.9h0m11.6 12.7h0m-6-14.7h0m-3.6 3.3h0m14.4-4.2h0m-1.2 11.9h0m9.1-3.1h0m9.2-3.6h0m-19.5-3.6h0m-6.9-15.3h0m-6.8 21.5h0m16.7-24.3h0m-23.4 29.5h0m3.1-4.7h0m15.9-17.5h0m2.3 21.8h0m17.9-10.4h0m-27.2-15.4h0m-3 34.5h0m-.9-21.6h0m-8.4-18.7h0m21 11.3h0m-21.1-5.5h0m12.3 18.9h0m-9.1-1.8h0m3.3 14.6h0m-1.4-18.2h0m34.5 8.6h0m-26.3-17.3h0m5.9 10.2h0m-13.3 3.8h0m22.9-11.8h0m-3.7 6.1h0m4.1 9h0m6.7-25.6h0m-3.4 22.7h0m7.2 3.2h0m-34.8-19.1h0m31.1 27.2h0m2.5-14.3h0m.4 .2h0m-1.9-2.1h0m-1.4-9.7h0m-10.2 5h0m-24.6 13.6h0m39.2-.8h0m-15.9-10.8h0m13.9 7.5h0m-18.2-28.4h0m8.8 17.7h0m12.7 11.5h0m-6.9-5.3h0m1.5-17.8h0m-31.5 21.7h0m16.5-14.3h0m15.7 5.8h0m-25.9 15.5h0m23 10.6h0m5.5-22.7h0m-7.7 11.8h0m1.5-18.4h0m2.9 7.7h0m-4.2 12.7h0m-1.7-.2h0m-27.5-3.4h0m29.1-5.6h0m-7.3 12.8h0m-3.6-6.5h0m-15.4-16.1h0m2.5 10h0m30.4-19.8h0m-31.2 30.1h0m4.2-9.4h0m1.4 3.7h0m27.5-10h0m-.7-22.5h0m-10.3 38h0m-12.3-29.6h0m-10.1 22.4h0m11.5-36.8h0m10.1 46.2h0m7.2-34.4h0m.6 21h0m-21.7 9.2h0m-5.8-15.6h0m25.7 18.9h0m-14.9-17.5h0m-8.8 23h0m17.1-28.7h0m6.4 27h0m1.4-39.4h0m-30 19.2h0m5.1-21.3h0m11.4 17.5h0m-1.6-.1h0m-18.3 11.5h0m15.8-21.9h0m15 36.9h0m.7-32.6h0m-3.4-5.5h0m-2.8 8.6h0m7.2 8.5h0m-15.9 1.3h0m-10.7 10.3h0m28.2-4h0m-24.2 5.6h0m1.8-7.1h0m4.7 3.8h0m-4.2-6.7h0m-12.8 8.6h0m35.3-17.7h0m2.5 15.3h0m-23.7-27.7h0m23.6 32.1h0m-17.2-27.6h0m-9.3 19.9h0m6 1.2h0m11.9 2.4h0m4.2 3.2h0m-31-10.8h0m9.3-15.9h0m-5.4 27.7h0m26.5-17.6h0m-31.8 24.4h0m29.7-11.1h0m-4-6.5h0m9.1-5.7h0m-21.2-34.6h0m-2.2 34.8h0m22-17.5h0m-21.4 26.7h0m9.9-29.9h0m-22.2 32.7h0m12.7-24.1h0m18.5 27.4h0m-13-24.6h0m10.1 6.7h0m-14.1 9.6h0m-1-5.1h0m4.8-8.7h0m12.8 10h0m-8.2 19.7h0m-23.7-31.4h0m25.5 .4h0m14.3 14h0m-19.5 2.6h0m-13.2-1.6h0m.8 15.3h0m-6.6-21.2h0m19.3 3h0m18.9-18.3h0m-16.6 26.4h0m-15.1-19.7h0m31.3-8.6h0m-24.3 29.2h0m-11.9 7.6h0m6.5-15.7h0m-8.2 16.4h0m14.6-8.6h0m-6.1-21.5h0m-8.7 8.1h0m9.4-4.6h0m15.3-14.9h0m-6.3 14.4h0m-6.4 19.2h0m20.8-26.5h0m-13.5 12.4h0m-6.4 13.3h0m-13.7-17.5h0m7.8 10.6h0m21.4-18.1h0m-10.2 23.6h0m1.5-2.6h0m5.2 9.5h0m-.5-22h0m-18.2 5h0m29.7 10.5h0m-28.1-20.3h0m12.7 7.6h0m-18.6 15.1h0m30.4-36.3h0m-.9 14.1h0m-7.9 16.6h0m-20.6-6.1h0m7.7-13.3h0m24.2 8.3h0m-15.8 3.7h0m-8.5-6h0m7.6 20.6h0m-19-38.2h0m19.8 24.3h0m-5-5.8h0m20.8-4.3h0m-14.2 .7h0m-12.6 20.5h0m-8.5-21.2h0m30.8 17.4h0m-15.4-16.5h0m-4 7.6h0m-5.8 9.3h0m16.2-6.6h0m-2.4 9.6h0m-9.1-6.1h0m27.7 14.4h0m-16.9-8.2h0m-1.3-8.6h0m-.7-2.3h0m9.2 1h0m-19.2 14.1h0m19.6-26.5h0m8.1 10h0m-21.4 20.1h0m-1.4-14.3h0m16.3-2.6h0m-13.4-.6h0m6.8 15.7h0m10.1-28.8h0m-30.3 9.6h0m20.3-8.2h0m-9.7 6.4h0m25.8-8.2h0m-28.3 7.4h0m-2.3 9h0m12.3-16.2h0m-19.7 25.2h0m5.9-20.2h0m25.8 10.7h0m-25.5-2.4h0m18.4-11h0m-9.7-10.4h0m-4.2 21.7h0m16.6-31.2h0m9.9 41.1h0m-23.4 1.7h0m-16-9.5h0m17.4-9.9h0m-4.3-9.9h0m-1.9 28.3h0m.4-17.1h0m21 8.1h0m-14-10.3h0m13.5 19.3h0m-10.9 8.6h0m-12.6-36.7h0m25.8 16.1h0m-7.1 20.3h0m7-7.2h0m-1.1-22.1h0m-19.9 12.5h0m16.8-22.2h0m-27.7 37.8h0m3.8-10.1h0m28.7-10.1h0m1.8-.2h0m-14.1 12.8h0m5.1-20.2h0m-27.9-18.6h0m3.5 12.3h0m22 20h0m-3.3 9.6h0m10.7 4.2h0m-17.2-17.7h0m20.2 .2h0m-32.8 19.1h0m-3.2-16.6h0m21.6-3.6h0m-16.3 10.8h0m1.9-10.3h0m9.1-10.8h0m6.4 23.8h0m-20.8 3.3h0m38.2-20.2h0m-3.5 24.4h0m-33.6-7.5h0m3-19.4h0m1 5.2h0m16.7-11.9h0m14 18.2h0m-2 12.4h0m3.1-28.7h0m-5.6-.8h0m-30.6 26.8h0m7.6-8.3h0m21.3-8.4h0m-11.5 1.5h0m-7.8 16.6h0m25-29.3h0m-29.1 14.4h0m30.8-7.7h0m-1.1 2.1h0m-37.6 12.5h0m8.1-1.2h0m15.5 9.1h0m6.3-16.4h0m-13.6-13.3h0m-10-6.8h0m1.1 38.8h0m-5.7-28.3h0m9.6 11.4h0m-1.9-10.1h0m28.1 .5h0m-16.4 6.8h0m-18.9 15.4h0m.1-34.3h0m11.8 13.4h0m-6.4 8.4h0m.2-8.3h0m18 .1h0m-17.2 12.9h0m11.3-29.3h0m18.3 37h0m-17.7-7.4h0m13.3-8.9h0m5 2.1h0m-2.2-11h0m-5.4 22.3h0m-4.6-29.2h0m-14.1 19.9h0m-2.7-3.8h0m5.5 16.5h0m-3.6-10.5h0m14.8-8.6h0m-16.2-1.2h0m7.5-12.8h0m-6.9 37.4h0m21.9-.8h0m-32.3-17.9h0m37.6-6.6h0m-7.4 11.2h0m-20-15.3h0m4.9 13.3h0m-16 2h0m33.1-7h0m-2.5 14.4h0m1.6-18.3h0m-4.6 1.4h0m-21.6 13.2h0m7.5-9.5h0m21.9 22.5h0m-7.5-20.1h0m-3.3 16.1h0m-23.5-9.6h0m15.9-21.4h0m18.3 11.4h0m-25.8 3.2h0m16.9-10.8h0m-11.3 10.1h0m12.4 7.7h0m-21.7-4.1h0m30.3 1h0m-29 11.5h0m17.3-29.6h0m-10 9.6h0m21.5-4.7h0m-21.5 4.2h0m6.8-5.6h0m-12.5 12.4h0m-6.4 2.8h0m29.6 15.8h0m-2.5-19.9h0m-29.8-20.6h0m7.5-13.5h0m8.2 47.9h0m12.2 .9h0m-15.4-2.9h0m4.8-14.3h0m-10.9-12.8h0m17.2 3.1h0m10-8.5h0m-26.5 32.2h0m1.7-11.3h0m2.1 2.7h0m-2.7 14.3h0m21.5-5.5h0m-30-10.9h0m7.1-9.1h0m27.2 15.4h0m2.2-3.1h0m-3.6 10.3h0m-12.5-17.4h0m-2.4 3.3h0m13.6-17.4h0m-29.1 2h0m20.3 32.9h0m-11.1-13h0m-11.8-5.1h0m7.2 3.8h0m28.9 6.3h0m-8.5-6.5h0m-1.3-22.2h0m8 11.8h0m-18.2 3.8h0m-14.9 9.2h0m28.4-19.5h0m-16.6 9.7h0m22.8 16.3h0m-13.3-19.2h0m-15 23.6h0m8.6-9h0m7.2-6.3h0m-20.3-29.3h0m37.8 23.4h0m-21.5-5.5h0m-9.9-3.4h0m15.2 12.7h0m14.6 6.6h0m-30.6 2.8h0m24.9-1.8h0m-15.8-3h0m-13.8-33.2h0m24 33h0m-7.6-15.4h0m17.8 11.8h0m-23.7-10.8h0m11.6 3.8h0m-6 18.8h0m2.5-14.4h0m-12.2-7.8h0m1 8.3h0m3.8 9.5h0m13.3-14.9h0m-25.4 5h0m9.1-29h0m.4 35.2h0m-.9 16h0m21.9-16.1h0m4.3 9.7h0m-28.3-23.9h0m14-4.6h0m13 1.2h0m-22.5 26.2h0m.8-7.9h0m6.9-19.5h0m3.6 16.2h0m-20.9-9.2h0m24.3 8.3h0m-22.4-5h0m15.3 9.6h0m-2.3-29.5h0m13 33.1h0m-17.5-21.5h0m14.3 8.6h0m-9.3-1h0m9.9-2h0m-13.6 12.3h0m-3 .3h0m-4.1-24.7h0m-5.8 33.6h0m37.9-17.5h0m-36.1 14.4h0m.9-17.4h0m16.8 5.4h0m4.1-2.6h0m6.7-1.4h0m-2.4 14.3h0m-22.9-16.4h0m28.1 5h0m-26.4 3.2h0m-3.4 4.6h0m32.8 5h0m-4.4 .3h0m-14.1-7.7h0m-4.1-12.5h0m19.4 7.8h0m-11.7 10.7h0m-10.1-29.6h0m22.9 16.8h0m-5-9.6h0m2.5 15.6h0m3.7 2.8h0m-5.9-18.1h0m-27.9 21.5h0m11.6-29h0m-16.1 31.4h0m23.7-5.1h0m-17.1 9.6h0m-4-1.9h0m-1.4-28.5h0m7 11.2h0m20.2 17.4h0m-23.2-12.9h0m2.6 13.8h0m30-12.3h0m-27.7-32.3h0m-9.5 44.9h0m13.6-4.8h0m8.6-2.3h0m1.7-29.7h0m9.5 26.7h0m-11 11.6h0m-3.2-15.4h0m17.8 1.8h0m-15.7-3.5h0m-10.4-3.2h0m-4.9 7h0m1-26.7h0m17.4 26.7h0m4.4-11.8h0m-10.8 10.5h0m1.9-25.5h0m-19.5 34.2h0m.3-20.5h0m13 .3h0m26.4 12.8h0m-4.6-.1h0m-19.7-7.5h0m-11.5 12h0m3.9 2.3h0m18.7-10.6h0m2.8 18h0m-22.6 1.5h0m-.4-9.1h0m1.7-18.4h0m21.5 5.3h0m3.1-1h0m-24.8 1.1h0m20.1-12.9h0m5.3 14.7h0m-19.5 6.4h0m23.8 13.4h0m-34.2-15.7h0m19.5-15.9h0m-8.5 20.4h0m-13.8 8.5h0m30-12h0m-6 .3h0m6.1-15.4h0m-20.2 27.2h0m11.2-31h0m-6.9 22.7h0m7.2-16.7h0m2.4 25.8h0m-17.4-24.3h0m10-1.6h0m12.5 13h0m-17.9-7.2h0m9.4 15.7h0m-9.7 2.1h0m-12.1-14.9h0m37.9-9.4h0m-12.1 16.1h0m-10.6-11.4h0m-7.4 1.2h0m12.4-12.5h0m-14.3 4h0m28.7 15.7h0m-33.5 6.3h0m23.2-11.9h0m-14.4 10.9h0m18.8-22.5h0m-19.3 9.9h0m25.6 6.7h0m-11.4-9.8h0m-13.4 10.3h0m-9.7-14.2h0m12.2 1.3h0m-2.1 27.9h0m18.4-42.1h0m3.4 15.5h0m-19.6 15.3h0m-6-12.9h0m21.9 8.3h0m6.8 7.2h0m-29.3-20.2h0m3.2 9.2h0m9.1-15.2h0m8.5 14.3h0m-25.5-14.6h0m10.6 11h0m25.2 4.7h0m2.3 13.6h0m-25.6-7.3h0m-6.7 9.3h0m21.9-35.5h0m-26.2 12.2h0m16.6 16.2h0m15.1-23.6h0m-7.9 17.8h0m-17.2 12.8h0m6.3-20.9h0m9.3-20.7h0m4 36.1h0m8.2 1.1h0m-34.7-25.4h0m-1.3 8.9h0m-.9 9.2h0m9.1 16.6h0m29.5-29.9h0m-6.8 11.4h0m-23.9 7.9h0m24.7-6.2h0m-18.9 3.1h0m6.3-2.2h0m-4.8 2.7h0m24.6-13h0m-39.3-2.6h0m32.3-.7h0m.4 14.6h0m6.5 12.9h0m-22-6.8h0m-5.1-14.4h0m28.2 19.5h0m-10.6-34.7h0m-23.8-4.4h0m22.8 22.1h0m10.2 5.3h0m-11.1-4.8h0m9.7 6.1h0m-23.1 1.8h0m-11.5-11.5h0m36.6-5.5h0m-36.4 19.4h0m10.9 9.3h0m14.3-22h0m7.5 5.1h0m-14.7-3.5h0m-18.3 13.8h0m8.4-31.1h0m11.9 19.4h0m14.5 19h0m-23.4-22.4h0m-10-1.8h0m4.6-8.8h0m-2.8 22.9h0m-7.4 4.3h0m26.6-37h0m-3.2 29.3h0m18.1-9.1h0m-14-13.3h0m11.3 24.2h0m-15-8h0m-10.3-13.4h0m25.2 29.9h0m-19.4-5.4h0m-19.3 4.6h0m1.1-23h0m35.2-17.5h0m-4.6 21.8h0m-25.5 5.9h0m16.3-19.2h0m-17.5 21.3h0m36.8-18.9h0m-38 23.5h0m37.8-4.2h0m-4.2-4.6h0m-8.1-10.6h0m-16.9-2.1h0m21.1 2.1h0m-16.8-5h0m-10.1 3.7h0m33.1 13.4h0m.8-24.1h0m-14.3-2.8h0m-9.9 19.7h0m6.1-13.6h0m-13.4 15.3h0m30.5 10.2h0m-4-4h0m-28.1 3.1h0m30.4-7.5h0m-17.1 7.2h0m2.4 .9h0m-13.9 5.6h0m3.4-8h0m-5.6-3.2h0m1.6-33h0m-7.3 26.8h0m15.1 7.7h0m20 17.2h0m2-11.3h0m-29.3-30.2h0m16.4 21.4h0m-2.8-.9h0m16.3 9h0m-6.9 9.8h0m-16.9-26h0m-14.4-5.5h0m38.1 3h0m-33 29.3h0m16.5-18.5h0m-18.6 19.7h0m8.2-24.8h0m15.7 12.8h0m-11.2-36.6h0m10.1 25.6h0m-11.6-19.7h0m-4.4 27.3h0m-5.1 13.1h0m20-14.7h0m.3-5.3h0m-3.3 11.4h0m-16.8-13h0m27-19.1h0m-21.4 .5h0m17.9 12.4h0m3.1 22.4h0m-21 6.8h0m18.5-.5h0m-12.7-22.8h0m-13.3 17.6h0m18.8-25.8h0m-8.9 30.8h0m-11.4-27.9h0m.6 15.5h0m-1.2 7.1h0m4.1-25.7h0m-3.2 19.6h0m-.8 8.3h0m20.9-8.1h0m-18.2 12.3h0m-4.3-16.4h0m21.1-.3h0m-5 0h0m-10.2-11.3h0m-.1 22.7h0m18.9-16.1h0m-10.3 12.7h0m11.3-4.3h0m-10.9-16.1h0m20.6 18.1h0m5.3-17h0m-25 9.1h0m25.5 4.2h0m-20-2.6h0m8.2-.8h0m-21.4 15.3h0m18.7-46.6h0m-10.8 9.3h0m4.8 23.7h0m-15.3 6.3h0m-3.3-9.9h0m38.5 18.7h0m-2.4-17.1h0m-10 13.1h0m-7.6-4.6h0m11.2-7.7h0m6.4-.3h0m-3.3 4.2h0m-21.3 12.2h0m23.2-11.4h0m-13.6-27h0m-7.2 40.5h0m1.6-14.7h0m15.9-19.1h0m-19 8.5h0m14.1 13.7h0m-3.6-12.9h0m11.8-6.1h0m-29 6.6h0m25.2 5.3h0m-20.6-8.2h0m16.4-4.6h0m-6.8 23h0m15.2-14.1h0m-7.4-5.9h0m8.7 22.9h0m-6.5-7.7h0m-27.5 13h0m16.2-8.4h0m-17.4-4.8h0m30.6-.8h0m6.9-19.1h0m-7.1-2.6h0m-17.6 21h0m12-11.1h0m-4.8 .4h0m5.2 .8h0m10.7 1h0m-1.9 20.9h0m-6.5-20.3h0m3.2 13h0m-20.6 7h0m14.8-37.2h0m-24.3 14.7h0m15-5.7h0m-15.9 19h0m26.4-19.6h0m-5.8-4.9h0m9.2 31.2h0m8-9.8h0m-8.7-11.1h0m-3.4 3.4h0m-11.8 4h0m2.6 8.4h0m-12.9-23.8h0m14.1 14.4h0m18.4 1.8h0m-8 6.3h0m-2.5-1.9h0m-10.8-8.2h0m7.7-10.4h0m-11.6 15.2h0m-5-8.5h0m12-2.7h0m14.8 10.7h0m-7.5-21h0m3 22h0m-14.7-5.2h0m9-2.3h0m10.2 7.6h0m-25.1 3.8h0m40.5-18.1h0m34-.8h0m-34.5 17.5h0m34.7-16.9h0m-22.1 23.2h0m4.5-11.4h0m-3.4-14.2h0m-13.1 14.4h0m5.3-1.6h0m21.8-4.5h0m-4.3-18.5h0m16.3 14.9h0m-2.3 5.7h0m-10.3-5.4h0m-16.8 19h0m14.2 3h0m-22.5 2.7h0m19.6-15.1h0m-8.7-10.3h0m10.6 23.5h0m-8.7-23.8h0m11.3 22.5h0m4.8-26h0m-16.2 20.4h0m11.9 .3h0m3.9 2h0m-19.4 8.7h0m12.8-4.6h0m-14.8-2.8h0m30.9-18.3h0m-18.6-2.3h0m-18.7 14.5h0m32.9-7.9h0m-26 15.4h0m15.2-8.2h0m-4.9-21.2h0m-3.7 32.3h0m18.3-.3h0m-33.5-22.2h0m3.4 17h0m29-28.4h0m-23.6 38.9h0m22.4-41.7h0m-8.7 15.8h0m8.9 17.9h0m4.9-27.4h0m-.1 24.1h0m-18.2-16.2h0m6.6 11.4h0m-1.7 3.3h0m14.5-.8h0m-25.7 4.5h0m25.3-6.5h0m-26.2 2.9h0m12-8.1h0m-3.7-5.6h0m7.6-5.8h0m-8.4 15.9h0m-11.9-10.7h0m28.1 22.4h0m-27.9-8h0m-2 6.1h0m-.1-9.3h0m20.3 14.1h0m2.6-9.9h0m10.8-40.1h0m-28.5 16.4h0m-7.4 5h0m23.4-9.9h0m-21.3 35.8h0m15-48.1h0m9.5 29.3h0m3-.1h0m-26.8-20h0m6.1-12.1h0m12.7 37.4h0m-24.6-10.9h0m39.7 1.9h0m-28.1 13.7h0m-6.6 1.5h0m24.5-23.9h0m2.2 25.8h0m-24.5-8.1h0m18 10.9h0m-4.7-22.9h0m7.3 12.1h0m-25.1-12.5h0m14.6 9.6h0m18.9 8.3h0m-27.9-12.3h0m-4.1-9h0m8.9-1.1h0m-6.1 29.5h0m9.1-11.1h0m-10.6 10.2h0m10.8-21.1h0m18.7 16.6h0m-10.8 8.6h0m8.4-26h0m-23.5 .9h0m24.6 7.2h0m-12.4 2.3h0m-18-6.1h0m28.6 11.9h0m3.1 4h0m-10.3-15.9h0m0 1.2h0m-23.2-13.4h0m5.9 21h0m15.6-13.9h0m-10.2 19.4h0m2.7-24.8h0m1.1 27.3h0m-5.1-13.1h0m-5.9-30.3h0m26.3 40.7h0m7.1-24.9h0m-28.1 30h0m17.2-34.6h0m-9.2 34.3h0m-11.9-7.3h0m-4.8-25.7h0m35 16.6h0m-32.1-25.3h0m23.9 33.5h0m-24.7-6.9h0m2-5.3h0m29.8 1.3h0m-7.2-13.3h0m-11.2 30.2h0" />
<rect x="161.9" y="458.8" width="45" height="1.4" fill="#151515" />
<rect x="212.6" y="458.8" width="45" height="1.4" fill="#151515" />
<line x1="184.4" y1="459.5" x2="184.4" y2="386.61" stroke="#333" stroke-width="0.8" />
<line x1="235.1" y1="459.5" x2="235.1" y2="393.77" stroke="#333" stroke-width="0.8" />
<path d="M162.4 460.2 Q179.4 458.9 184.4 452.33 Q189.4 458.9 206.4 460.2 Z" fill="#e11d1d" stroke="#333" stroke-width="0.3"/>
<path d="M181.4 452.83 Q184.1 446.33 184.4 404.53 Q184.7 446.33 187.4 452.83 Z" fill="#e11d1d"/>
<line x1="184.4" y1="459.5" x2="184.4" y2="386.61" stroke="#333" stroke-width="0.5" />
<line x1="295.4" y1="384" x2="295.4" y2="463.1" stroke="#8a8a8a" stroke-width="0.9" />
<line x1="295" y1="462.7" x2="407.5" y2="462.7" stroke="#8a8a8a" stroke-width="0.9" />
<line x1="293.6" y1="459.2" x2="295.4" y2="459.2" stroke="#8a8a8a" stroke-width="0.7" />
<text x="293" y="461.5" font-size="6.4" text-anchor="end" fill="#333">0</text>
<line x1="293.6" y1="435.4" x2="295.4" y2="435.4" stroke="#8a8a8a" stroke-width="0.7" />
<text x="293" y="437.7" font-size="6.4" text-anchor="end" fill="#333">1</text>
<line x1="293.6" y1="411.6" x2="295.4" y2="411.6" stroke="#8a8a8a" stroke-width="0.7" />
<text x="293" y="413.9" font-size="6.4" text-anchor="end" fill="#333">2</text>
<line x1="293.6" y1="387.8" x2="295.4" y2="387.8" stroke="#8a8a8a" stroke-width="0.7" />
<text x="293" y="390.1" font-size="6.4" text-anchor="end" fill="#333">3</text>
<line x1="326.2" y1="462.7" x2="326.2" y2="464.5" stroke="#8a8a8a" stroke-width="0.7" />
<line x1="376.7" y1="462.7" x2="376.7" y2="464.5" stroke="#8a8a8a" stroke-width="0.7" />
<text x="326.2" y="474" font-size="8.2" text-anchor="middle" fill="#222">T<tspan font-size="4.8" dy="2.9">CyEM</tspan></text>
<text x="376.7" y="474" font-size="8.2" text-anchor="middle" fill="#222">T<tspan font-size="4.8" dy="2.9">CM</tspan></text>
<text x="351.4" y="368" font-size="8.2" text-anchor="middle" font-style="italic" fill="#111">MAF</text>
<text x="351.45" y="376.3" font-size="5" text-anchor="middle" fill="#222">***</text>
<path d="M326.2 380.9 V378.5 H376.7 V380.9" fill="none" stroke="#444" stroke-width="0.7"/>
<text x="274.2" y="416.5" font-size="7.6" text-anchor="middle" fill="#222" transform="rotate(-90 274.2 416.5)">Expresssion Level</text>
<path fill="none" stroke="#111" stroke-width="1" stroke-linecap="round" d="M308.6 430.5h0m.4-5.7h0m-.8 11.6h0m20.6-19.6h0m-20.3 27.4h0m13.6-11.3h0m12.9-12.6h0m-17.1 30h0m-9.1-28h0m15.8-9h0m-17.3 25.1h0m10.6-12h0m21.5 20.5h0m-7.4-7.1h0m-14-15.9h0m2 11.3h0m6.2-8.8h0m-4.7-1.7h0m14.3 14.2h0m8.1-27.8h0m-13.6 38.6h0m13.7-12h0m-17.5 7.5h0m11-34.7h0m-7.4 20.2h0m-5.9 12.9h0m21.1-17.2h0m-25.9-4.4h0m5.7-2.6h0m5.7-1h0m-6.8 3.5h0m5.2-.3h0m17.5 27.8h0m-36.7-19h0m.2-8.9h0m-3.6 7.5h0m-1.2 4.2h0m15.8-3.7h0m25.6-4.8h0m-19.4-3.1h0m-13.7 5.3h0m20.1 16.8h0m4.8-28.1h0m-27.7 21.2h0m-5 7.4h0m28.8 .6h0m-27.5-1.1h0m16.8-2.6h0m13.3-16.4h0m-7.5 1.3h0m5.7-13.3h0m9 36.5h0m-12.7-28.5h0m-3.5-5.3h0m14.9 6.5h0m-8 .5h0m-27.2-10h0m14 30.3h0m3.8-21.5h0m-1.5 29.1h0m-4.2-7.5h0m4.9-17.6h0m-12.7 14.2h0m19.4-2.3h0m-4.6 9.5h0m-7-6.8h0m7.4-17.8h0m-9.7 11.2h0m5.2 8.8h0m-15.8-2.3h0m23.9 1h0m6.5-19.8h0m-22.2 1.2h0m9.2 7.3h0m11-21.6h0m8.9 41.9h0m-33.6 1.5h0m24.7-18.1h0m-20.7 1.5h0m11.8-18.1h0m.5 .1h0m-.8 15.4h0m1 11.1h0m-21.3-5h0m5.4-17.6h0m18.1 22.2h0m5.5-26.9h0m9.1 9.5h0m-33.3 2.8h0m13.7-2.8h0m17.3-7.1h0m-17.8 4.1h0m-.3 24.3h0m1.7-19.9h0m11.8 6.8h0m2 2.3h0m4.9 2.4h0m-1.3-5h0m-31.7 7.9h0m23-28.3h0m3.8 18.2h0m-31.2 6.9h0m25.5-4h0m5-1.7h0m-16.2 12.9h0m13-17.4h0m.1 9.6h0m3.8 1.4h0m-7.9-5.9h0m-14.7 18.7h0m.7-53.5h0m16.7 36h0m-15.4-1.2h0m2.6 15h0m7-27.9h0m20.2-6.5h0m-14.7 11h0m-4.2-27.5h0m-2.2 32.3h0m-15.8 .8h0m33.6 9.4h0m-11.5 .7h0m1.4-31.8h0m-19.5 16.8h0m28.4 21.7h0m-20.7-27.7h0m23.2 2.7h0m-36.9 29h0m26.8-1.3h0m5.8-23.7h0m-21 16.9h0m8.6-15.6h0m2.8 16h0m-11.4-14.1h0m3.4 .3h0m11.7-2.6h0m-24.9 8.8h0m32.7-8h0m-7.8 3.1h0m-3.5 19.5h0m-21.9-15h0m-3-6.3h0m21 5.5h0m-15 3.7h0m10.5-9.2h0m23 2.1h0m-28-6.5h0m2.4-2.6h0m25.9 8.7h0m-35.3-10.4h0m13.4 1.6h0m22.3 17.3h0m-39.4 9.5h0m25.3-16.7h0m-1.8-3.1h0m5.6 5.1h0m3-15.3h0m-6.1 7.4h0m10.2 24.8h0m-28.8-34.1h0m22.1 16.4h0m-13.7-24.3h0m7-11.5h0m-9 37.8h0m.5-3.8h0m1.7 .7h0m18.1-6.9h0m-5 3.3h0m7.8 8.6h0m-1.1-8.7h0m-9.3 3.1h0m-28.6 3.9h0m13.4-18.8h0m16.9 14.1h0m-11.8-3.3h0m8.3 15.2h0m1.4-30.2h0m-9.4 13.9h0m-15.9 11.7h0m-1.7-2.7h0m33 .7h0m-8.9-7h0m13.8 3.8h0m-2.4-19.9h0m-21.3 22.5h0m-4.4-4h0m24.5 5h0m-23.9 8.1h0m11.1-34.9h0m-21.3 42.3h0m4.1-24.9h0m7.8 7h0m-1.3 4.9h0m29.3-16.1h0m-20.3-5.2h0m-15.7 6h0m6.4 13.2h0m2.8-8.4h0m22 15.4h0m0-.4h0m-30.6-1.9h0m14.7-13.8h0m8-11.8h0m-21.3 9.6h0m23 26h0m-17.9-18.8h0m3.6-5.3h0m10.5 12.4h0m-10.6-6.4h0m18.9-15.1h0m-1 15.9h0m-30.3 14.3h0m34.6-3.4h0m-34.8-40.7h0m5.6 34.8h0m1.7-2.7h0m-6.6-10.7h0m10 21.1h0m10-27.1h0m1.6 6.9h0m1.4 14.1h0m-16.2-46.1h0m10.8 37.6h0m-16.4-2.8h0m36.3 18.2h0m-28-24.9h0m-13.4 21.6h0m31.6 2.9h0m-25.6-47.8h0m14.5 37h0m19.3 1.2h0m.6-19.7h0m-36.5 12.6h0m31.3-4.7h0m-12.7 24.1h0m5.6-13h0m-18.9-22.8h0m.4 21.6h0m23.6-3.7h0m-29.6 2.3h0m28.1-9.6h0m-13.4 6.5h0m15.4 1.6h0m-19.2-9.9h0m-10.1 11.4h0m28.7-7h0m-3.5-.6h0m-21.3 13.5h0m2.6-22.9h0m22.7 19h0m-1.9-3.2h0m-26.5-2.4h0m8.7-22.6h0m26.5 26.4h0m-28.7 12.4h0m25.9-4.9h0m-24.7-.7h0m-.5-1.1h0m11.7 7.5h0m2-41.7h0m-.9 27.3h0m7.5 4.5h0m-12.3-31.1h0m-19.9 11.6h0m34 1.6h0m6.4 15.4h0m-20.5-12.4h0m-8.1 8h0m7.6 5.2h0m-2.8 9.1h0m-1.1-14.9h0m20.4 18.9h0m-31.1-31.2h0m31.8-1.7h0m-35.2 5.6h0m28.2 22.8h0m-7-29.3h0m1 28h0m-10.3-3.8h0m20.3-12.6h0m-24.4-1.7h0m31.2 17.5h0m-24-21.9h0m12.2 7.9h0m-27.7-14.8h0m7.1 14.2h0m-.6-3h0m-1.5 9.6h0m6.3 .7h0m11.3-23.4h0m10.6 10h0m-33.6 27.4h0m38-19.8h0m-3.5 10.8h0m-18.6-24.6h0m16.7 29.7h0m4.4-30.9h0m-17 28.2h0m3.8-16.5h0m1.4 18.2h0m6.2-11.2h0m2.5-22.9h0m.7 11.9h0m-19.4 3h0m13.2 5.8h0m-28.3-1.1h0m5.8 11.2h0m12.1-20.2h0m-5.6 12.5h0m14.4 4.6h0m-16.1 7.2h0m3-.8h0m-2.8-25.2h0m7.7 19.8h0m19.7-18.8h0m-12.2 1.4h0m-19-13.9h0m-6.8 24.6h0m-1.4 3.5h0m41.5-18.8h0m-12.9 17.4h0m12.4-2.5h0m-36.2-6.6h0m10.4 6.5h0m25.1 3.5h0m-8.2-4.6h0m-12.1 6.1h0m13.5-21.9h0m-2.9 16h0m-4.4-30.6h0m-25.3 50h0m36.4-9.7h0m-22.3 1h0m15.2-9.4h0m-14.1-1.3h0m25.3 10.9h0m-1.4-20.9h0m-9.8 6.9h0m-27.4 19.3h0m28.7-12.4h0m9.1 1h0m-37-7.1h0m19.1 .4h0m-12.5 20.8h0m19.2-30.1h0m6.3-3.2h0m-17.1 11.7h0m-4.4-22.5h0m-12.8 22.4h0m7.8-1.7h0m28.7 21.6h0m-9-28h0m7.5-17.8h0m-24.4 38h0m3.3-24.1h0m25.8 12.1h0m-29.3-26.5h0m16.6 26.3h0m4 7h0m2.8 12.7h0m6.1-32h0m-6.8 .3h0m-30.5 31.7h0m19.4-5.1h0m15.6-6.9h0m-28.3-11.9h0m11.7 .8h0m14.3-16.2h0m-19.2 11.5h0m19.6-12h0m-22.3 34.2h0m-10.3-1.5h0m33.4-2.9h0m-27.2-3.1h0m9.3 3.8h0m18.8-17.2h0m-16.2 .9h0m-1 5.1h0m6.3-5.8h0m.1 23.1h0m-19.3-1.7h0m-4-20h0m.1-8.9h0m30.5 23.9h0m-2.2 6.5h0m-20.7-18.6h0m15.6 16.6h0m3.5-12.7h0m-6-2.4h0m-2.4-17.6h0m11.6 15h0m6.5 8.9h0m-21.4-4.8h0m-6.5-3.5h0m-11.9 13h0m2.5-2h0m29.1-12.5h0m-8.6 1.6h0m16.8-1.5h0m-.9-6h0m-36.8 1.9h0m32.7-2.1h0m2.1 23.7h0m-19.5-24.9h0m9.2 18.4h0m.1-5.9h0m-14 6.3h0m-2.7 2.7h0m-1.9-8.5h0m26.5-1.8h0m-22.6-6.7h0m.3 25.3h0m-9-19.1h0m34.9 9.9h0m-27.3 .6h0m-8.2-36.9h0m31.8 43.4h0m-10.4-34.6h0m-11.1 37.3h0m24.9-11.3h0m-14.8 2.3h0m-8.8-8.8h0m12.2 16.7h0m-8.5-41.6h0m-12 21.4h0m33.4 11.3h0m-28.9-20.3h0m-7.6 2.5h0m9.1-5.8h0m-4.7 26.6h0m3.6-2.3h0m10.5-16.4h0m-10.1 8.9h0m-3.7 1.2h0m13.7 16.4h0m18.2-28h0m-31.3-2.3h0m.5 7.9h0m-5.5-7.7h0m23.9 23.8h0m-7.4-8.2h0m1.7-5.1h0m10.3-23.2h0m-23.9 25.8h0m2.9 12.1h0m-7.1-8.2h0m28.5-1.4h0m5.4-2.5h0m-20.9 16.9h0m-4.4-5.1h0m-3.9-9.1h0m10.3-.7h0m-13.7 9.9h0m9.8-25h0m25.3 7.1h0m-41.4 12.3h0m38.3-37.9h0m3.4 40.6h0m-7.6-22h0m-26.6 17.6h0m28.5-5.6h0m-3.8 10.6h0m-18.6 1.8h0m13.1-19.8h0m-9.9 14.6h0m13 4.9h0m-24.2 5.3h0m-5.1-5.4h0m41.1-11.6h0m-29.9-20.1h0m29.2-5.4h0m-17 16.4h0m-18.4 15h0m32.4 .8h0m1.9-20.7h0m-13.1 10.6h0m6.3 24.6h0m-20.9-8.9h0m14.2-17.8h0m-17.3 1h0m5.3 16.2h0m12.8-20.5h0m6.4-3.3h0m-23.8 21.1h0m-5.1-26.3h0m-4 36.4h0m-.4-7.6h0m6.6-13.4h0m19.9-1.8h0m-5.9 20.3h0m18.5-43.1h0m-20.6 5.9h0m-1.2 4.4h0m-12.7 23.3h0m12.7-7.8h0m-4 3.9h0m-11.3 1.3h0m14.1 11.2h0m22.8-29.9h0m-11.3 14.1h0m-4.6-13.3h0m.7 20.6h0m-4.4-15.5h0m3.1 9.6h0m-8.5-15h0m27.2 28.7h0m-19.5-8.1h0m-9.5-.8h0m22.9 11.4h0m-4.9-25.2h0m-25.7-5.5h0m19.9 21.6h0m16.3-13.8h0m-37.9 16.6h0m21.7-1.1h0m-14.7-1.1h0m28.8 2.2h0m-.1-6.7h0m-15.6 6.4h0m-14.6-7.3h0m-3.4-23.1h0m1 33.9h0m-1-5.1h0m2.2 1.4h0m-1.5-33.2h0m-2.8 19.1h0m29.9 6.9h0m-.8-3.6h0m6.7 10.8h0m-7.3-1.1h0m-31.2-3h0m28-25.8h0m-23.1 28.5h0m34.4-14.3h0m-2.8 19.4h0m-19-16.8h0m-9.1 15.6h0m32.5-.8h0m-21.9-9.5h0m-12.3-11.9h0m24.1-7.3h0m-13.6 19h0m-12.4-8.5h0m21.1-1.4h0m-23.9 .5h0m18.8 5.4h0m-16-13.1h0m.7 26.9h0m19.1-6.8h0m-23.3 2.1h0m15.2-26.8h0m-3.3 5.9h0m9.8-4.1h0m6.7 13.5h0m-16.6-3.9h0m-13 3.2h0m20.6 22h0m9.3-21.2h0m-22.8 20.6h0m9.5-18.7h0m10.5 3h0m-7.3-12.2h0m-14.5 10.7h0m29.3-18.5h0m-27.5 15.1h0m16 12.4h0m-2.9-21.1h0m12.5 11.6h0m-29.8-4.6h0m18.5-12h0m-1.5 31.3h0m-6.2-17.1h0m-14 11.4h0m17.7 13.3h0m17.1-12.8h0m-2.1-24.1h0m-9.8-5.9h0m-22.2 41.6h0m37.5-10.7h0m-17.5-.7h0m-14.3-8.9h0m28.9 5.2h0m5.2-10.3h0m-3.6-.1h0m1.4 23.5h0m-25.9-4.2h0m-4.4-17.2h0m9 1.3h0m19 15.2h0m-10.1-7.5h0m-21.9-1h0m28.6 7.7h0m-8.9-9.8h0m14.2-6.5h0m-31.6 24.1h0m33.5-27.7h0m-23.6-6.6h0m-12.1 7.7h0m2.1-.1h0m15.7-.4h0m14.9-12.6h0m-17.8 23h0m4.7-2.4h0m-6.6-1.9h0m-5.3 8.3h0m14.8 5.3h0m5.6-22.2h0m-31.2 19.8h0m0-6.2h0m2.5-3.9h0m23.2 16.1h0m-21.3-26.3h0m16.7 14.3h0m4.3-34.8h0m-6.5 19.9h0m-20 1.8h0m5.7 5.6h0m14.3 16.7h0m8.6-12.1h0m-2.3-28.8h0m-3.2 21.3h0m-7.2-23.1h0m-5.7 24.1h0m-1.6 12.2h0m-4.3 9.7h0m36.4-31.3h0m-12.1 33.8h0m-25.6-28.8h0m19.6 4.6h0m-10.3 .8h0m19.8 3.4h0m-31.6 4.1h0m7.4-3.6h0m15.7 .3h0m14.3 17.1h0m-23.9-23.2h0m27.2-17.3h0m-.6 14.6h0m-36.3-2.5h0m34.6 22.7h0m-31.4-20.8h0m-5.3 15.3h0m12.3 4.3h0m0-13.2h0m-7.5 1.2h0m18 17h0m-5.3-7.6h0m-7.4-5.7h0m29.7 1.4h0m-21.4-28.8h0m15.7 17.2h0m-14.9 19.3h0m16.4-4.7h0m-1.4-14.6h0m-26.1-16.2h0m-9.1 39.6h0m12.9-5.7h0m-3.8 9h0m-4.1-12.8h0m5.6 2.2h0m20.2-15.6h0m1.3-1.5h0m-30.4 10.4h0m38.1-13.2h0m-14.9 21.1h0m-5.7-3.8h0m-20.2-4.5h0m37.5-11.5h0m-21 4.7h0m9.1 15.4h0m12.4-6.4h0m-28.2-4.8h0m9.6 4.8h0m10.7-5.1h0m-2 11.4h0m-7.3-2.3h0m-4.9-4.4h0m-2.4 .2h0m19.4 12.7h0m-11-21.6h0m1.9 4.5h0m-22-10.4h0m25 29.1h0m1.3-6.2h0m-15-8.7h0m-1.9 5.9h0m3.9 12.9h0m-4.7-19h0m12.1 2.8h0m14.8-19.2h0m3 29.8h0m-33.8-9.3h0m17.5-34.2h0m-10.7 28.8h0m16-4.2h0m-14.8 8.8h0m25.9 4.4h0m1.4 6.3h0m-7.4-16.6h0m-.4 .3h0m-5.1 12.2h0m-15-31.3h0m7.3 30.4h0m-18.3 0h0m-.4-6.4h0m31.3-13h0m-29.5 1.2h0m33.9 20.7h0m-8.1 5.8h0m-20.6-12.2h0m15.9-20h0m-11.1 22.1h0m-7.4 7h0m22.7-17.8h0m-9.1-15.8h0m-12.1 19.5h0m4.3 16.5h0m-6.5-11.2h0m31.6-16.4h0m-33 16.2h0m15-11.9h0m-14.1-5.6h0m14.1 6.8h0m20.2-.6h0m-38.2-.6h0m30 8.4h0m-8.3-8.2h0m7-1.7h0m-24.9-5.5h0m-4.3 22.2h0m9.2 3.6h0m-10.6-4.1h0m9.4-12.8h0m-5.1-8.9h0m21.5 18.5h0m15.9 1.8h0m-37.6-15.7h0m15.8 7.6h0m-6.8-2.5h0m9.5 11.9h0m-19.5-22h0m27.8-5.4h0m-27.4 32.5h0m35.4-5.7h0m-31.4-4.4h0m13.1-15.1h0m-2.1 3.4h0m-.9 11.6h0m19.1 14.3h0m-33.9-20.6h0m30.3-11.4h0m-3.7 10.4h0m-26.1-11.1h0m22.1 3h0m-17.3 5h0m19 24.8h0m-19.9-43.2h0m-5.9 34.3h0m-1-1h0m9.5-17.4h0m-3.2 13.2h0m-4.7-29.2h0m8.1 33.3h0m-4.6-4.9h0m-4.2 11.1h0m17.5-37.1h0m22.9 25.3h0m-16.2 3.2h0m13.9-18.6h0m-17.1-5.5h0m-8.1 31.2h0m26.3-32.7h0m-28.6 24h0m5.8 11.4h0m19.4-17.2h0m-15.7 1.6h0m-8.7-18.9h0m29.2 34.3h0m-13.2-28.4h0m-10.3 32.8h0m-3.4-22.1h0m11.4-.8h0m3.1-4.3h0m-4.5 18h0m-24.6-32.9h0m30.6 40.9h0m-28.2-9.3h0m12.9-38h0m-13.7 12.6h0m1.5 13.5h0m-3.1 10.7h0m36.5-2.9h0m-1.2-11.7h0m-11 21.1h0m-23.1-17.4h0m27 8.7h0m2.6 .7h0m-9.7-21.4h0m-5.4 25.2h0m2.7-39.5h0m54.5 35.1h0m3-4h0m-6.9-13.1h0m20.8-10h0m-1 27.7h0m-26.9-9.9h0m2.8-18.9h0m6.5 30.1h0m-15.4-16.9h0m15.9 12.5h0m-10-9.1h0m29.2 11.7h0m-32.2-28.5h0m15.3 41.3h0m-10.1-14.6h0m24.7-8.5h0m-17.7-6.9h0m-12.8 9.6h0m30.7 4h0m-31.3-17.9h0m-1.8 2.8h0m18 9.1h0m18.1-6.5h0m-8.7 10.5h0m-19.7 15.6h0m-11.8-12.6h0m13.8-6h0m20.5-28h0m-23.6 7.8h0m6.2 30.9h0m-3.7-15.5h0m-13.1 .5h0m13.3-3.6h0m11.4 27.5h0m-10.2-1.6h0m2.5-18.2h0m1 9.7h0m16.5-20.5h0m-16.4 3.3h0m15.8 6.2h0m-7.3 7.2h0m-14.4-33.4h0m11.7 26.4h0m2.2-17.3h0m-12.9 14.4h0m23.6 23.1h0m-38.3-40.5h0m13.2 31.7h0m.5-25.5h0m20 32.2h0m7.3-34.8h0m-.2 15.6h0m-36.8-2h0m30.2 10.2h0m7.5-7.2h0m-31.2-10.7h0m7.2 14.1h0m21.6 14.6h0m1-3.1h0m-2.7 5.3h0m-32.5-34h0m8.1 26.1h0m-6.9-12.6h0m21.8-6.6h0m6 11.7h0m-.4 4h0m-29.6-1.1h0m1.9-10.4h0m26.1 6.2h0m2.5 7.8h0m-4.7 .3h0m-13.8 5.6h0m24.9-5.8h0m-22.9-1.5h0m5.5-1h0m-14.7 4.1h0m19.5 11.6h0m12.9-18.6h0m-9.4-12.8h0m-23.2 20.3h0m24.3-4.8h0m-23.8-8h0m25.2-6.2h0m-5.4 30.7h0m5-31h0m-15.8-13.5h0m-14.3 21.5h0m17.3 17.5h0m17.6-28.6h0m-2.9 7.4h0m-29.8 7h0m15.6 16.7h0m11.9-41.2h0m-30 9.7h0m12.5 23.2h0m13-27.1h0m-1.3-8.6h0m-18.4 20.8h0m-3-1.4h0m13 3.6h0m-3.8 2.8h0m-13.9-.7h0m23.3-28.1h0m-14.1 25.3h0m6.8 8.9h0m8.1-20.7h0m.8 6h0m9.4-9.3h0m-11.5 9h0m2.7-22.6h0m-2 22.3h0m-20.6 15.9h0m33.4-10h0m-.4 21.7h0m-17.3-20.1h0m.4 11.7h0m5-22.8h0m5.8 16.1h0m-1.7 3.5h0m-24.7-18.4h0m35.8 21.1h0m-2.4 .3h0m-8-38.9h0m-6.7 35.5h0m-12.4-23.7h0m7.3 38.9h0m-8.1-8h0m9.2-15.7h0m6 10.2h0m14-16.2h0" />
<rect x="303.7" y="458.5" width="45" height="1.4" fill="#151515" />
<rect x="354.2" y="458.5" width="45" height="1.4" fill="#151515" />
<line x1="326.2" y1="459.2" x2="326.2" y2="392.56" stroke="#555" stroke-width="1.3" />
<line x1="376.7" y1="459.2" x2="376.7" y2="386.61" stroke="#555" stroke-width="1.3" />
<line x1="437" y1="384" x2="437" y2="463.1" stroke="#8a8a8a" stroke-width="0.9" />
<line x1="436.6" y1="462.7" x2="548.7" y2="462.7" stroke="#8a8a8a" stroke-width="0.9" />
<line x1="435.2" y1="459.2" x2="437" y2="459.2" stroke="#8a8a8a" stroke-width="0.7" />
<text x="434.6" y="461.5" font-size="6.4" text-anchor="end" fill="#333">0.0</text>
<line x1="435.2" y1="442.2" x2="437" y2="442.2" stroke="#8a8a8a" stroke-width="0.7" />
<text x="434.6" y="444.5" font-size="6.4" text-anchor="end" fill="#333">0.5</text>
<line x1="435.2" y1="425.2" x2="437" y2="425.2" stroke="#8a8a8a" stroke-width="0.7" />
<text x="434.6" y="427.5" font-size="6.4" text-anchor="end" fill="#333">1.0</text>
<line x1="435.2" y1="408.2" x2="437" y2="408.2" stroke="#8a8a8a" stroke-width="0.7" />
<text x="434.6" y="410.5" font-size="6.4" text-anchor="end" fill="#333">1.5</text>
<line x1="435.2" y1="391.2" x2="437" y2="391.2" stroke="#8a8a8a" stroke-width="0.7" />
<text x="434.6" y="393.5" font-size="6.4" text-anchor="end" fill="#333">2.0</text>
<line x1="467.4" y1="462.7" x2="467.4" y2="464.5" stroke="#8a8a8a" stroke-width="0.7" />
<line x1="518.3" y1="462.7" x2="518.3" y2="464.5" stroke="#8a8a8a" stroke-width="0.7" />
<text x="467.4" y="474" font-size="8.2" text-anchor="middle" fill="#222">T<tspan font-size="4.8" dy="2.9">CyEM</tspan></text>
<text x="518.3" y="474" font-size="8.2" text-anchor="middle" fill="#222">T<tspan font-size="4.8" dy="2.9">CM</tspan></text>
<text x="493.3" y="368" font-size="8.2" text-anchor="middle" font-style="italic" fill="#111">CCR5</text>
<text x="492.85" y="376.3" font-size="5" text-anchor="middle" fill="#222">***</text>
<path d="M467.4 380.9 V378.5 H518.3 V380.9" fill="none" stroke="#444" stroke-width="0.7"/>
<text x="416.5" y="416.5" font-size="7.6" text-anchor="middle" fill="#222" transform="rotate(-90 416.5 416.5)">Expresssion Level</text>
<path fill="none" stroke="#111" stroke-width="1" stroke-linecap="round" d="M473.5 437.6h0m-21.3-9.1h0m31.1 5.9h0m-35 14.5h0m4-19.5h0m30.5 15.3h0m-27.2-19.5h0m14.7 11.4h0m3.2-2.4h0m-7.6-2.3h0m6.9 3.8h0m-3.2-18.8h0m2.8 14.1h0m-1 12.4h0m-8.6 1.4h0m-14.2-6.8h0m13.6 11.3h0m-12.6-32h0m15.4 11.5h0m-17.6 9.4h0m7.5 9.4h0m26.3-3.9h0m-25.7-10.7h0m.6-10.6h0m8 19.4h0m20.3 .6h0m-32.1-2.3h0m29.4 2.1h0m-31.6 5.9h0m7-19.4h0m-.3-1.7h0m12 17.2h0m-16.3-23h0m-6 19.6h0m11.2 1.1h0m-1.3 4.2h0m-3.7-16.7h0m15.7 5.5h0m11.9 6.6h0m-22.4 4.6h0m15.8-21h0m12.3-11.3h0m.7 11.7h0m-14.3 16.6h0m7.8 5.1h0m-19.8-19.2h0m-5.9 16.8h0m-4.5-3.6h0m22.2-19.5h0m-16.5-1.5h0m9.5 11.5h0m-13.9-5.2h0m23.2 23.7h0m-18.4-33.3h0m11.4 28.8h0m5.6-.9h0m-.5-16.4h0m1.1 8.9h0m-4.2-7.2h0m15.6 1.3h0m-21.2-3.5h0m-15.1 13.2h0m12.5-17.6h0m-9.2 11.2h0m9 3.8h0m6.8-1.9h0m4.1-2.4h0m-2.6-13.2h0m3.5 13.7h0m15.5 1.4h0m-4.4-13.4h0m-22.4 15.9h0m16.7-3h0m-3.3 13.5h0m-10.4-19.4h0m1.5 4h0m2.2-13.2h0m3.7 23.5h0m9.2-17.7h0m.8 14.6h0m-3.4 8.6h0m6.8-13.1h0m-20.1 5.3h0m-11.6-2.7h0m18.7-18.7h0m6.8 2.4h0m-2.3 9.2h0m-21.7 8.9h0m2.9 9.2h0m27.2-15h0m-38.1-9.8h0m12.6 17.4h0m16.8-3.9h0m-6.7 10.7h0m16.4-17.8h0m-5.1 5.1h0m-30.5 .8h0m14.7-24.9h0m12.1 5.8h0m-28.9 8.9h0m7 17.9h0m-1.4-21.8h0m13.3 17.6h0m-10.9-13.3h0m-8.2 15h0m6.4-27.5h0m18.6 18.8h0m-6.6-8.4h0m-15.9 .5h0m.5 15h0m27-.3h0m-2.3-1.1h0m11-2.1h0m-25.7-26.6h0m-2.8 19.1h0m22-2h0m-17.1 .9h0m17.3-.5h0m-33.7 12.8h0m17.3-7.2h0m12.7 10.5h0m-16.1-14.7h0m-14.2 12h0m17.1-3.9h0m22.2 2.6h0m-36.6 4.8h0m5.7-14.1h0m-3.9 .9h0m8.5-8.5h0m23.7-11.5h0m-4.5 16h0m-1.2 15.4h0m-6 2.3h0m-22.2 1.4h0m33.9-.9h0m-4.8 1h0m-20.6-11h0m13.3 .2h0m-12.5-5.5h0m25.1 3.2h0m-32.3-13.4h0m12.7 6.7h0m10.5 10.5h0m6.9-17.6h0m-9.7 27.3h0m-3.2-9.9h0m-20 .1h0m24.4-7.8h0m-24.4 11.6h0m.1-7.5h0m10 8.9h0m-.4-.1h0m5.2 6.3h0m-13.1-18.8h0m35.9 6.1h0m-13.1-4.9h0m-23.8-8.6h0m28.7 11.6h0m-4.5-.7h0m12.8 .8h0m-12.3 2.5h0m-23.6 1.6h0m24.8-5h0m-14.7-6.8h0m0 11h0m1.2-17.9h0m16 9.8h0m-31.1 2.7h0m26.8 12.7h0m-17.2-7.3h0m29-3h0m-13.3-5.9h0m-25-1.4h0m16.4 4.5h0m-17.2-.7h0m33.3 2.9h0m7.1-8.3h0m-36.6 7.1h0m19.9 6.5h0m-2.5 2.4h0m17.8-4.6h0m-25.1 10.4h0m12.2-12.4h0m-11.7-11.8h0m14.6 16.5h0m-12.2 10.3h0m-12.9-10.4h0m-1.2-3.8h0m12.6 9.4h0m-14.5-12.2h0m34.1-12.3h0m-4.2 19.7h0m-13.8-1.5h0m-10.7 4.5h0m7.7-2.2h0m17.4 1.4h0m.3 4.2h0m5-8.1h0m-30.6-4.4h0m23.2-2.2h0m-11.5-3.3h0m14.9 12.7h0m-1.7-8.2h0m1.6-15.2h0m-12.6 14h0m13.2-15.8h0m-2 17.4h0m-19.7 3.6h0m25.9-19.3h0m-4.4 14.3h0m-29.1 16.9h0m24-9.3h0m-24.5 .5h0m4.8-22.5h0m4.9 19.7h0m2.8-13.7h0m6.6 18.3h0m-21.7-6.1h0m21.2 12.9h0m-21.2-18.2h0m14.9 8.7h0m19.6-.8h0m-1.6-21.3h0m-28.8 26h0m21.6-8.5h0m-20.7-7.2h0m12.9-3.5h0m-5.6 21h0m11.6 3h0m-5.8-25.6h0m-17.2 24.3h0m-.5-16.4h0m27.2 2.5h0m12.2 5.5h0m-21.3 .2h0m8.8-7.7h0m11.3 9.3h0m-.1-1h0m-25.8 4.8h0m-1.6 1.7h0m25.1-16.7h0m-23.3 11.8h0m17.9-5.4h0m-.4-2.1h0m5 5.1h0m1.8-14.9h0m-11.7 12.6h0m-15.9-14.5h0m25.4 21h0m-19.3-1.3h0m-15.7-5.3h0m36.2-1.3h0m-30.1 3h0m16.9-14.9h0m-1.5 6.7h0m-4.7 10h0m20.7-12.7h0m-14.9 15.5h0m-1.9-3.1h0m6.6-7.6h0m.1-4.9h0m-16.5 8.2h0m20-11.5h0m-23.7 15.3h0m-2.4-7.2h0m13.1 12.9h0m19.5-12.2h0m-21.7-6.3h0m-1.8 5.8h0m10-11.2h0m-15.3 13.2h0m-4.7 10.1h0m34.1-5.3h0m-36.1 1h0m29-13.7h0m-2.2 .7h0m-5 11h0m3.5-14h0m-15.1 12.8h0m-11.6 .9h0m5.9-5.4h0m5.7 2.3h0m8.5 1.4h0m17.4 2.2h0m-3.3 4.1h0m-11.9-.9h0m-22.9-5.9h0m14-8.5h0m23.9-.2h0m-3 21.9h0m-14.7-1.9h0m-16.6 2.2h0m3.3-20.5h0m18.5-6h0m-18.4 4h0m.8 6.1h0m5.4 8.2h0m27.9-6.7h0m-11.5 4h0m9.9-.9h0m-9.2 12.1h0m-10.5-11.4h0m14.4 7.5h0m-7.4-21h0m-10 2.9h0m23.9 6.1h0m-38.6 5.9h0m-1.5-10.5h0m22.1 14.4h0m-21.7-14.9h0m5.6-10h0m11.6 24.6h0m-9.2-5.3h0m0 3.9h0m23.9-.2h0m-29.4-3.1h0m11.1-3.2h0m18-5.3h0m-13.1 2.5h0m15.1 7.8h0m57.2-20h0m-7.2 17.3h0m2.5 4h0m-8.4 2.4h0m5.7-11.5h0m-24.4-25.4h0m-2.8 31.8h0m21.5-32.4h0m-26 39.1h0m37.8-24.6h0m-9.5 .5h0m-11 23h0m17.5-18.7h0m-18.8 23.9h0m9.3-22.4h0m-10.1 10.2h0m-8.2-2.8h0m7.7 4.6h0m-1.5-6.4h0m15.4-2.5h0m-6.4 17.5h0m12.3 3.7h0m-35.4-24.4h0m22.9-1.2h0m13.5-2.6h0m-21.2 7.8h0m16.3 14.2h0m-11.6-17h0m-14.7 4h0m26.3-29.3h0m-2 28.3h0m-27.2-2.2h0m1.9-2.2h0m19.4-14.2h0m7 2.9h0m-9.3 24.5h0m3.8-11h0m-20.6-10.9h0m7.5 13.3h0m-9.3 4.5h0m35.2 9.9h0m-2-25.6h0m-5.8 12.5h0m-3.3 11.1h0m-7-23.9h0" />
<rect x="444.9" y="458.5" width="45" height="1.4" fill="#555" />
<rect x="495.8" y="458.5" width="45" height="1.4" fill="#555" />
<line x1="467.4" y1="459.2" x2="467.4" y2="387.8" stroke="#8a8a8a" stroke-width="1.3" />
<line x1="518.3" y1="459.2" x2="518.3" y2="391.2" stroke="#8a8a8a" stroke-width="1.3" />
<line x1="572.9" y1="380" x2="572.9" y2="463.1" stroke="#8a8a8a" stroke-width="0.9" />
<line x1="572.5" y1="462.7" x2="690" y2="462.7" stroke="#8a8a8a" stroke-width="0.9" />
<line x1="571.1" y1="458.5" x2="572.9" y2="458.5" stroke="#8a8a8a" stroke-width="0.7" />
<text x="570.5" y="460.8" font-size="6.4" text-anchor="end" fill="#333">0</text>
<line x1="571.1" y1="433" x2="572.9" y2="433" stroke="#8a8a8a" stroke-width="0.7" />
<text x="570.5" y="435.3" font-size="6.4" text-anchor="end" fill="#333">1</text>
<line x1="571.1" y1="407.5" x2="572.9" y2="407.5" stroke="#8a8a8a" stroke-width="0.7" />
<text x="570.5" y="409.8" font-size="6.4" text-anchor="end" fill="#333">2</text>
<line x1="571.1" y1="382" x2="572.9" y2="382" stroke="#8a8a8a" stroke-width="0.7" />
<text x="570.5" y="384.3" font-size="6.4" text-anchor="end" fill="#333">3</text>
<line x1="606.1" y1="462.7" x2="606.1" y2="464.5" stroke="#8a8a8a" stroke-width="0.7" />
<line x1="656.5" y1="462.7" x2="656.5" y2="464.5" stroke="#8a8a8a" stroke-width="0.7" />
<text x="606.1" y="474" font-size="8.2" text-anchor="middle" fill="#222">T<tspan font-size="4.8" dy="2.9">CyEM</tspan></text>
<text x="656.5" y="474" font-size="8.2" text-anchor="middle" fill="#222">T<tspan font-size="4.8" dy="2.9">CM</tspan></text>
<text x="632" y="368" font-size="8.2" text-anchor="middle" font-style="italic" fill="#111">CCR1</text>
<text x="631.3" y="376.3" font-size="5" text-anchor="middle" fill="#222">***</text>
<path d="M606.1 380.9 V378.5 H656.5 V380.9" fill="none" stroke="#444" stroke-width="0.7"/>
<text x="558" y="416.5" font-size="7.6" text-anchor="middle" fill="#222" transform="rotate(-90 558 416.5)">Expresssion Level</text>
<path fill="none" stroke="#111" stroke-width="1" stroke-linecap="round" d="M593 433.9h0m-7.7-3.5h0m13.9-3.4h0m7.8 18.9h0m15.6-8.2h0m-8.9 10.2h0m8.6-13.4h0m.9-13.3h0m.3 .8h0m-24.4 5.7h0m.7-13.5h0m11.9 27.2h0m-20.4-24.3h0m28.7 24.7h0m-9.3-19.3h0m10.2 19.3h0m-9.9 3.5h0m-1.9-1h0m-10.6-1.9h0m5.2-21.9h0m-9 12h0m20.2-6.7h0m-10.3 6.8h0m-2.1-13.3h0m-3.9 24.1h0m-7.5-2.2h0m-1.2-12.8h0m17.4 5h0m12.6 0h0m-18 9.1h0m22.6 9.5h0m.1-11.6h0m.7-18.6h0m-7.2 16.9h0m-20 11.8h0m-6.4-6.6h0m-6.5 1.4h0m39.1-10.8h0m-18.1-5h0m-10.2-21.6h0m12.3 33h0m-10.1-7.1h0m4.5-5.1h0m20.9 8h0m-20.1-3.9h0m-3.8-17.1h0m-1.1 31.8h0m12.1-19.4h0m-8 7.8h0m4.2 6.6h0m15.2-2.5h0m-36.7-4.9h0m10.3-2.5h0m5.8 14.5h0m25-20.4h0m-31.6 19.5h0m-9.6-9.7h0m29.5-14h0m-8.1 21.9h0m13.7-24.1h0m5.9 8.6h0m-24-18.1h0m6.3 27.1h0m-5.8-.5h0m11.9-3.9h0m-15.3 1h0m11.4 2.5h0m7-8.7h0m1.5 13.9h0m-2.8-6.6h0m-29 12.5h0m22.4-13.1h0m-9.7 5.1h0m-3.1 .3h0m10.5-3.2h0m18.5 14.4h0m-37.6-9.3h0m-1.8-14.1h0m5.9 6.8h0m24.5 12.4h0m-.6-3.3h0m4.3-6.9h0m-8.5-4.8h0m-13.2 2.5h0m-3.8 14.6h0m7.2-34.6h0m7.8 5.1h0m-16.8 20.1h0m31.8-7.2h0m-24.7 15h0m22.8-1.9h0m-7.1-16.9h0m-24.6 10.2h0m7.4-.5h0m.8-.2h0m3 8.6h0m-5-31.3h0m27.7 19h0m-15.5-11h0m5 21.2h0m-4.7-42.1h0m-1.8 20h0m11.2 18.5h0m-12.9 9.8h0m-9.4-11.4h0m3.7-9.4h0m9.6 12.7h0m-11.4-19.3h0m27.7 9.4h0m-12.9 2.1h0m3.7-2.5h0m-29.7 4.3h0m12.2 10.1h0m12.6-14.2h0m-13.2 10.8h0m10.6-8.7h0m-13.2 2.7h0m5.5 1h0m23.8 12h0m-14.7-18.4h0m13 10.4h0m1.7-20.1h0m-12.9 28.5h0m-24-21.3h0m32.2 8.9h0m-18.6-16.9h0m16.8 9.3h0m4 19.4h0m-37-8.5h0m31.3-15.4h0m-29.2 12.4h0m4.5-8.9h0m24.2 12.1h0m-17-8.9h0m2.6-8.6h0m5-10.1h0m13 10.4h0m-21.3 13.7h0m-8.5 1.6h0m26.1 2.2h0m-31.8-24.6h0m-.1 18.6h0m37.4 3.1h0m-4.1-16.2h0m-31.9 4.6h0m33.3 3.9h0m-2.4 14.2h0m-15.2-11.8h0m8-10.6h0m-22.9 4.6h0m13.6 16.9h0m9.2-9.7h0m-24.5 2.6h0m28.9-12h0m-10.7 .6h0m6.6 18.4h0m-1.7-15.3h0m14.5-4.2h0m-25.6 5h0m.8-14.8h0m7.5 2h0m-2.7 22.2h0m8.7-12.2h0m2.9 13.4h0m-11.2-2.5h0m20-11.8h0m-9.4 4.3h0m-24.7-2.9h0m-2.8 13.2h0m-.6-11.3h0m27.1-16.9h0m11.4 22.4h0m-8.3 .7h0m-26.1-6.3h0m28.5 12.8h0m-4.8-7h0m-3.4 9.6h0m-19.3-38.4h0m19.9 21.1h0m6.7 13.2h0m-28-17.1h0m8.2 14.4h0m14-14h0m-1-.9h0m-14.6 16.6h0m27-1.7h0m-6.8 4.8h0m-7.1-6.1h0m-6 12.1h0m2.2-10.4h0m-4.1 1.5h0m19.1-7.5h0m3.5 6.8h0m-27.2-12.2h0m-6.1 11.4h0m3-7.4h0m23.4 7.5h0m-30.3 5.7h0m34.7-17.1h0m-15.6 16.9h0m8.5-22.2h0m-29.1 .4h0m16 9.9h0m6-1.1h0m-3.1 18.4h0m20.2-8.9h0m-24.1-17h0m-11.6 19.2h0m15-10.7h0m5.8-2.6h0m11.5-4.6h0m.3 2.7h0m-17.2-5.5h0m20.8 18.4h0m-22.9-4.5h0m13.4-22.9h0m-3.4 20.9h0m-3.3 1.2h0m-15.7-3.4h0m6.6 8.6h0m25.9-14.9h0m-10-2.3h0m-16.9 9.9h0m6.5 3.7h0m21 5.4h0m-18.7-2.6h0m-16-6.6h0m33.4 5.1h0m-22.9 3.4h0m-.7 2.9h0m-2.9 3.1h0m16.8-9.8h0m-5.3-2h0m5.4 10.3h0m-11-25.6h0m-18.2 20.6h0m32.6-3.5h0m-17.5 2.1h0m15.4-21.8h0m-26 15.3h0m12.5 6h0m-1.4-4.3h0m-13.7 .4h0m-2.6-18.5h0m24.8 29h0m-24.8-8.9h0m8 4h0m-2.8-5.2h0m23.8 6.2h0m-25.6 8h0m.6-17.1h0m12.3 13.8h0m17.4-19.5h0m-7.1 11.6h0m-18.3 5.4h0m28.7-21.1h0m-7.3 25h0m-.5-22.2h0m-18.3 8h0m10.2-.2h0m9.3 6.1h0m-26-11.9h0m-.9 3.8h0m30.1-7.5h0m-22.7 27.2h0m23.2-2h0m-18.1-11.8h0m12.5 3h0m-18.4-6h0m-7.6-3.6h0m35.4 8.9h0m-17.4 1.7h0m-10.5-12.9h0m21.5 14.6h0m5.1-2.9h0m-27.4-17.8h0m-7.3 20.4h0m18.7-16.8h0m-14.9-2.9h0m3.1-5.7h0m11.6 12.8h0m-8.6-11.5h0m24.2 31h0m-32-7.5h0m2 2.2h0m32.4-5.8h0m-5.6-4.3h0m-26.2 9.9h0m31.9-12.3h0m-2.3-3.9h0m0 9.2h0m-10.1 8.1h0m-10.1-24.5h0m19.4-5.5h0m-25.9-6h0m26.1 25.3h0m-20 3.6h0m2.6-1.3h0m-15.6-16.4h0m13.1 24.1h0m2-27h0m-7.9 19.3h0m5.9-6.5h0m2.8 8.4h0m11.5 10.1h0m.5-2.4h0m6.9-8.6h0m-8-7h0m-12.6 1.5h0m-4.6-10.3h0m-2.3 .5h0m-8 .4h0m33.5 20.9h0m-28-14.4h0m12-21.4h0m-8.9 20.2h0m4.6 1.7h0m4.5 17.6h0m19.9-11.1h0m-21.5-.1h0m8.2 12h0m-12.8-29.7h0m7.3 15.1h0m-16 1.3h0m3.2 5.9h0m14.5-20h0m8.5 16h0m-22-32h0m31.9 43h0m-41.8-24.2h0m29.4 12.6h0m-8.3-1.4h0m16.8-2.5h0m-2.6-8.6h0m-12.6 4.7h0m-18.7-15.6h0m5.9 33.6h0m11-9.5h0m5.3 5.8h0m10.4-16.3h0m5 3.7h0m-35.6 10.4h0m-3.7-4.9h0m14.9 9h0m5.7-6.3h0m-13.3-16.4h0m11.6 6.5h0m18-11.3h0m-9.2 24.2h0m3-15.1h0m-18.6 14.2h0m25.3 7.4h0m-39.7-8.6h0m36.5 9.8h0m-26-10.4h0m21.9 10.9h0m-3.3-3.4h0m-20.2-2.6h0m15.7-7.9h0m9.6-16h0m-25.3 15.9h0m31.5 4.8h0m-11.9 1.7h0m-27-14.6h0m27.1 12h0m10.6-20h0m-32.5 31.6h0m18.1-38.3h0m-17.8 12.2h0m22 13.7h0m3.4-2.5h0m-3.2-27h0m-15.4 28.4h0m3.4 3h0m-2.3-5.2h0m-12 13.1h0m14.4-29.4h0m11.4 23.1h0m-4.4-14.5h0m7.9-6.4h0m5.4 27.7h0m-27.5-27.3h0m-.6 20.1h0m-1.2 5.4h0m33.5 .6h0m-30.5-10.4h0m15.4-.7h0m-3.3 2h0m16.8-18.2h0m-28.5 13h0m22.7 2.2h0m1.1 8.5h0m5.3-16.7h0m-18.1-1.1h0m-18.9 20.1h0m13.9-15.1h0m-.7-8.4h0m-16.5 11.9h0m24.5 11.3h0m11.8-6.1h0m-12.8-13.3h0m16.4 15.4h0m-29-15.4h0m-4.7 9.9h0m2.9-14.3h0m26.8 17h0m-12.2-10.5h0m-8.7 13.3h0m22.5-19.8h0m-29.5 13.7h0m14.4-3.7h0m13.7 3h0m-21.5 14.3h0m19.7-.8h0m-10.8-11.8h0m16.2 9.5h0m-21.5-13.3h0m22.6-21.5h0m-10.6 19.5h0m-25.8 15h0m1.5-23.5h0m14.7 17.6h0m8.6-11.7h0m5.7 17.6h0m-20.7-4.1h0m6-17.8h0m-17.4-7.9h0m30.6 21.2h0m-16.1 2h0m9.3 4.8h0m-18.4-18.8h0m23.3 13.2h0m-25.8-18.3h0m17.1 20.1h0m14.3-6.6h0m-27.6-10.7h0m15.3-3.9h0m-18.2 19.2h0m20.3-15h0m10.9-4.6h0m-25.4 27.2h0m-7.8-9.4h0m24.3-7h0m-17.1 11.9h0m-1.5-10.6h0m29.8 15.4h0m-18.6-20.7h0m1.5-9.4h0m-1.5 22.5h0m-9.1-11.7h0m-12.9-2.8h0m20.4 14.5h0m-.5-5.9h0m-1-14.3h0m-5.2-1.7h0m4.6 22.6h0m4.8 .1h0m-16.8-7.5h0m29.7-1.2h0m-17.3 16.9h0m-5.1-3.2h0m26.2-1.9h0m-20.4-6.8h0m18.7-3.6h0m-30.4-18.9h0m14.8 4.2h0m5 19.1h0m-4.9-2.7h0m14.1-11.8h0m-7.8 23.5h0m-12.2-.8h0m-6.2-24.4h0m24.5 15.9h0m-15-1.3h0m-13 9.3h0m21.9-10.4h0m-6.1 1.5h0m-4-5.9h0m7.9 6.4h0m-9.3-25.6h0m14.7 27.5h0m-26.8 5.2h0m10.8 7.1h0m24.3-6.4h0m-32.1-24.2h0m1.4 17.5h0m6.2-5.2h0m5.7 14.1h0m-8.3-7.3h0m2.5-7.9h0m17.5 6.6h0m4.1-4.5h0m-7.9-7.9h0m2.6-4.6h0m-17.9 10.7h0m20.4 14.8h0m-15.6-8.9h0m6.4 11.2h0m-.9-16.5h0m.4-.6h0m7.9 4.8h0m-30.4 4.4h0m4.9-4h0m20.1-2.7h0m9.1 2.6h0m-14.2-6.7h0m-14.9 11.2h0m31-.6h0m-4.9 3.1h0m-21.8-12.7h0m23.6-7.5h0m-5.8 20.9h0m8.3-5h0m-11.2-2h0m-10.4-5.1h0m23.4-9h0m2.1 13.9h0m-5.7-3.5h0m-31.5-6h0m31.1-6.1h0m-10 21.6h0m9.5-11.4h0m-7.9 7.9h0m-11.8 .1h0m18.7-23.4h0m-8.3 35h0m.9-18.9h0m14 13.5h0m-16-23.5h0m-22.6-.6h0m6.9 10.3h0m23.6-14h0m-11.7 19h0m12.5-6.2h0m3.6-2.5h0m-31.8 16.1h0m8.4-28.2h0m-6.6 16.6h0m26.8-13.4h0m7.4 19.9h0m-28.1-11.4h0m3.1 21.3h0m24.2-33.7h0m-19.9 27.8h0m9.5-.4h0m-28-15.4h0m11.3-5.2h0m22 17.1h0m-15.2 4.3h0m-9.1-6.1h0m7.3-3.4h0m-6.9 1.9h0m7.6 14.7h0m-18.6-10.2h0m17.9-14.3h0m.6 11.9h0m-14-.6h0m33.8-10.6h0m-1.5 9.3h0m-35.4 11.3h0m35.3-2.9h0m-8.9-6.6h0m-10 3.5h0m9.8-15.5h0m9.5 17.2h0m-15.6-8.8h0m5.9 4h0m-16.1-14.5h0m15.5 7.1h0m-13.3 7.9h0m21-36.7h0m-6.2 40.3h0m-17.2-16.5h0m27.4 5.9h0m-13.4 15.1h0m16.4 1.8h0m-.8-4.6h0m-30-7.4h0m28.9 8.2h0m-7.9 2.4h0m-5.8-31.6h0m-20.6 21.4h0m9-7h0m-7.2-3.5h0m15.4 24.2h0m-7-15.7h0m10.9 11.8h0m2.2-21.5h0m-14.7-4.5h0m15.7-4.1h0m-10.9 27.7h0m22.6 6.1h0m-14.8-8.2h0m-1.9-5.2h0m-6.2-23.6h0m-2.5 32.3h0m6-1.8h0m16.9-23.1h0m-3.6 15.7h0m-34.8 .7h0m18.8-10h0m-3.8 16.5h0m22.8-10.6h0m-22.9 14.5h0m7.2-51.1h0m-.4 44.9h0m-10.2-2.3h0m12.7-4.4h0m-22.3-1.9h0m27.6 6.5h0m7.1 6h0m-9.1-29.5h0m-7.4 20.3h0m-8.6-24.5h0m7.4 28.2h0m15.7-14h0m-30.6 7.7h0m1.5-11.1h0m5.9 24.3h0m22.9-14.3h0m-32.2-.5h0m-2.4 3.3h0m30.8 5h0m-17.2-12.1h0m25.5-2.7h0m-17.9 1.5h0m-18.1-2.1h0m7.2-6.9h0m10.5 18.2h0m-.2 3.3h0m-2.9-6.2h0m-8.1-7.9h0m.6-5h0m11.1 21.3h0m9.4-19.3h0m-13.8 23.5h0m-17.2-16.7h0m31.8-1.4h0m-.1 13.5h0m4.7-15.3h0m-24.8 24.8h0m30.1-12.4h0m-2.1 3.6h0m-29.6 7.2h0m15.5-20.7h0m-22.8 9.9h0m34.7 .5h0m-7.6-15.3h0m-19.8 9.8h0m6.5 8h0m-12.1-24.7h0m6.4 28.4h0m25.6-6.8h0m-25.5-10h0m28.7-11.7h0m-2.7 23.8h0m-27.4 .7h0m29.8-9.6h0m-37.7-18h0m20.1 10.8h0m-21.6 17.8h0m32.9-10.9h0m-16 7.6h0m18-4.5h0m-2.4-25.3h0m-27 17.4h0m17-1.8h0m12.8-1.8h0m-22 20.9h0m12.9 3.3h0m1.7-9.8h0m3.6 3.1h0m-20.8-16.9h0m26.8 17.1h0m-30-22.1h0m-7.3 21h0m2.9 3.3h0m37-27.6h0m-33.4-10.8h0m26.3 24h0m-17.6 2.7h0m10.1 8.2h0m-9.9 4h0m-1.1-12.6h0m.1-10.3h0m7.8 24.9h0m11.5 .7h0m-18.6-22.8h0m-14.2 18.9h0m11.9-22.1h0m3.7 13.1h0m-7.7-10.4h0m14.2 7.7h0m-20.6-10.5h0m10 12.7h0m-5.1 5.3h0m-4.3 3.3h0m-1.5-2.7h0m22.5 1.4h0m1.3-3.6h0m-19.5 7.5h0m34.3 4.2h0m-11.7-9.6h0m-26.6-2h0m31.8 5.7h0m-8.6-17.3h0m10.7 8.5h0m-20.5 11.7h0m-2.6-12.8h0m-9.2 11.7h0m23.5-16.1h0m4.6 16.5h0m-5.1-18.3h0m9.3 .4h0m-7 6.1h0m-24.7-7.7h0m17 12.7h0m17.4 11h0m-7-18.1h0m-3.6 14h0m-14.9-22h0m-6.6 16.3h0m20.2 2.7h0m-8.3-15h0m22.1 .6h0m-16.2 8.5h0m-22.4 3.8h0m-1.4-8.8h0m23.8 16.1h0m-11-3.4h0m-8.4-22.1h0m3 24.8h0m-1.3-22.2h0m10.8 5.7h0m17.4 1.6h0m-17.7 3.6h0m9-15.3h0m-9.2 24.4h0m-5.6-9.1h0m13 5.9h0m3-6.4h0m-6.3-2.7h0m2.8 4.7h0m-23.1 0h0m20 .9h0m6.9 11.8h0m-25-7.9h0m10.3-7.9h0m27.8-7.7h0m-14.4-.9h0m-14.7 2.4h0m29.8 22.8h0m-12.5-28.1h0m-1.3-3.4h0m-24.7 22.2h0m14-18.4h0m-7.2 17.5h0m19.3 0h0m-.5-6.3h0m6.4-12.9h0m-.3 15.9h0m-6.3 1.6h0m-18.8 2.8h0m13.7-.9h0m9-13.6h0m5.9 .2h0m-24.4-5.1h0m-7.1 8.4h0m-.1-8.6h0m27.6 3.7h0m-12.4 11.5h0m-9.1-14.7h0m-6.5 14.4h0m4.5-10.6h0m-3.2-1.2h0m1 11.8h0m-5.6 10.8h0m11.3-7.4h0m17.5-16.3h0m-31.9 13.8h0m13-1.1h0m.9-7.3h0m12.8-6.2h0m2.8 16.9h0m-23.1-15.5h0m.1 25.9h0m35-7.1h0m-24-15.2h0m-7.5 8.7h0m15-7.9h0m10-.9h0m-31.1 7.6h0m27.3-6.5h0m-8.4 16h0m-13.2-35.7h0m-5 23.8h0m13.8-13.4h0m-5.5 14.7h0m-10.3 12.2h0m15.3-15.1h0m18.1-22.8h0m-12.6 12.9h0m-14.4 7.5h0m6.6 3h0m1.7 19.1h0m18.9-12.5h0m-9-15.1h0m-25.1 18.5h0m6.7-4h0m24.9 9.2h0m-24.7-6.3h0m19.1-8.1h0m-8.1 4.8h0m13-3.8h0m-2 6.6h0m-3.2 .6h0m7.5 4.6h0m-24.8-4.3h0m-2.9-4h0m1.2-.5h0m24.4-5.7h0m-25.3 8.7h0m23.5 10.7h0m5.4-7.2h0m-12-15.7h0m10 4.7h0m-15.5 14.5h0m22.1-13.6h0m-35.8 13.8h0m18.3-16.3h0m13.8 10.3h0m-4.4-4h0m-3.1 3.6h0m8.9-4.7h0m-.5 3.3h0m-19.5 1.5h0m-4.7-6.7h0m11.3-2.3h0m-.2-12.2h0m11.8 9.5h0m-10.2 9.1h0m-2.3 .7h0m-24.4-34.5h0m40.7 18.2h0m-39.1 8.7h0m24.1-11.7h0m8.3 10.8h0m-17-7.2h0m-7.8 9h0m17.8-16.3h0m7.1 32.9h0m5.7-16.7h0m-37.8 18.4h0m9.6-22.9h0m9.5 16.7h0m9.2-20.7h0m-2.3 23.2h0m-3.6 1.1h0m-19.1-28h0m12.4 14.2h0m-11.6-2.2h0m25.5 9.9h0m4.2-2.7h0m-7.2-5.7h0m-14.1 11.9h0m18.3-3.8h0m-14.9-9.1h0m-9.6 1.4h0m12.5-5.9h0m.4-15.7h0m12.2 12.6h0m-29.7-5.1h0m19.5 23.5h0m-19.2 7.8h0m17.1-25.6h0m-12.4 19.4h0m1.2-5.6h0m17.5-17.6h0m2.6 14h0m-15.1 .3h0m-3.8-9.9h0m26.6 14h0m-24.9 .4h0m-.8 1.8h0m26.3-8.5h0m-13.6 2.6h0m10.1-8.3h0m-28.2-1.2h0m10.4 11.5h0m24.2-14.9h0m-37.1 24.2h0m4.8-22.2h0m-9.1 5h0m31.3 12h0m-19.3-15.5h0m8.7 12.2h0m7.4 8.9h0m6.1-10.9h0m-13.3-12.1h0m13.5 11.4h0m-20.8-27.3h0m-10 14.9h0m10.1 15.8h0m-12.8-5.9h0m26.3 8.1h0m10.3-15.6h0m-28.7 18.4h0m24.4-18.5h0m-15.1-8.3h0m17.2 18.2h0m-24.3 4.3h0m24.9 .9h0m-.5-6.3h0m-26.4-12.6h0m9.7 7.5h0m.2 16.6h0m4.5-19.2h0m-23.4 1.2h0m24.3-9.5h0m-12.9 26.5h0m27.5-.2h0m-30.3-15.5h0m1.3-.8h0m17.2-14.6h0m10.4 28.8h0m-22.1-.5h0m-.9-7.1h0m12.9-12.6h0m-22.8 18.6h0m-1.6-20.8h0m8.9 6.2h0m9.9 5.1h0m7.1-14.1h0m-9 25.5h0m15.3 6.9h0m-2-16.1h0m-19.3 4.8h0m4.5-6.6h0m-16.6-3.2h0m21.5 7.8h0m-12.1-13.7h0m19 5.7h0m-1.3 15.2h0m-15.4-12.5h0m-9.2 19.6h0m29.5-29h0m-25 6.1h0m.4 5.9h0m-1.7-4.7h0m-1.7 13.2h0m67.1-8.9h0m-22.6-12.5h0m12.8 26.6h0m22.3-17.5h0m-11.8 15.9h0m-18.2-16.4h0m13.7 5.7h0m-18.6-3.1h0m34.1 17.8h0m-7.2-36.9h0m-10.5 23.3h0m-.4 6.5h0m5.1-13h0m13.2-1h0m2.5 9.3h0m-6.2-9.6h0m7.9 .9h0m-18.8 3.4h0m-8.9-10.8h0m-7.4 29.1h0m25.7-13.7h0m-19.6 7.9h0m31.8-22.1h0m-17.2 11.8h0m-23.1 .1h0m3.5-14.7h0m33.9 11h0m-14.2 1.6h0m-21.2 9.4h0m23.5 5.2h0m-24.2-7h0m35-10.3h0m-28.7 7.7h0m32.1 10.3h0m-24-25h0m17.5 17.3h0m6.2 6.2h0m-2.1-5h0m-3-2h0m5.8-34.1h0m-7.9 22.1h0m-25.7 12.2h0m4.8-6.5h0m1.1-4.1h0m-13.1-1.1h0m33.8 22.5h0m-24-23.9h0m29.7-6.8h0m-28.6 27.3h0m24.2 2.2h0m-12.3-31.3h0m-6.3 9h0m3.5 12.1h0m-.7-3.5h0m4.5 6.7h0m-5.5-10.8h0m-11.7 3.7h0m-6.3-6.3h0m27.6 9.6h0m-12.8 5.6h0m14.6-13.5h0m-16.8 1.6h0m26.3 9.3h0m-20.7-2.7h0m20.3-4.4h0m-29.7 10.3h0m16.7 2h0m6.4-27.6h0m-4.3 3.2h0m-16 17.5h0m1.4-.2h0m-8.6-4.8h0m5.6-18.4h0m25.7 17.4h0m-35.1-3.1h0m11-12.6h0m-.3 13.3h0m-7.6-2.4h0m13.3-5.4h0m.5 13.7h0m-12.9 .1h0m-4.6-20.2h0m6.8 15h0m10.6 1.4h0m11.2 4.4h0m-11.6 11.5h0m-1.7-19.1h0m25.5 12.5h0m-6.2 8h0m1.2-21h0m-21.5 4.9h0m24.1 3.4h0m-29 4.3h0m25-11.7h0m-27.4 16.5h0m3.3-5.8h0m-9-4.6h0m20.2-13.3h0m.4 24.4h0m12-11.5h0m-26 7.5h0m-4.5 1.8h0m29.9-21.7h0m-20.4 6h0m-4.4 3.9h0m17-3.8h0m5.8 5.6h0m4.8-13.6h0m-6.6 15h0m9.4 10h0m-17.5-7.5h0m-2.5 1.2h0m16-13.4h0m-16.1 8.6h0m.1-18.9h0m2.6 30.4h0m-16.4-17.5h0m16.4-8.3h0m7.2 12.9h0m5.6-19.2h0m-29.1 32.8h0m11.4-17.4h0m-13.1-9.2h0m-3.5 15.2h0m8.3-3.9h0m7.7-3.3h0m-.2 7.6h0m-2.3 8.9h0m22.7-18h0m-13.9-2.7h0m9.5 5.7h0m-20.8 3.1h0m-.1 6.4h0m27.3 3.7h0m-26.6-1.7h0m-3.4 2.9h0m17.8-4.3h0m.8-6.2h0m-12.8-.2h0m21.9 10.9h0m-9.4-22.4h0m-4.6-.1h0m16.2 0h0m-35.6 5.3h0m9.2 1.8h0m1.9 18.7h0m16.5-15.1h0m-11.8-10.7h0m14.3 20h0m-23 5.6h0m12.8-1.5h0m1.3-8.3h0m.6 3.5h0m13.7 2h0m-4.1-33h0m-28.2 34.2h0m15.4-5.2h0m-6.3 7.1h0m1.2-14.1h0m7.5-2.8h0" />
<rect x="583.6" y="457.8" width="45" height="1.4" fill="#555" />
<rect x="634" y="457.8" width="45" height="1.4" fill="#555" />
<line x1="606.1" y1="458.5" x2="606.1" y2="387.1" stroke="#666" stroke-width="1.3" />
<line x1="656.5" y1="458.5" x2="656.5" y2="403.68" stroke="#666" stroke-width="1.3" />
</g>
<g id="panelE">
<text x="15.6" y="497.8" font-size="14" font-weight="bold">e</text>
<text x="132.6" y="498.2" font-size="9.6" text-anchor="middle" font-weight="bold">Malignant T cells</text>
<line x1="18" y1="530.2" x2="18" y2="606.2" stroke="#8a8a8a" stroke-width="0.9" />
<line x1="17.6" y1="605.8" x2="126.7" y2="605.8" stroke="#8a8a8a" stroke-width="0.9" />
<line x1="16.2" y1="602.7" x2="18" y2="602.7" stroke="#8a8a8a" stroke-width="0.7" />
<text x="15.6" y="605" font-size="6.4" text-anchor="end" fill="#333">0</text>
<line x1="16.2" y1="577.9" x2="18" y2="577.9" stroke="#8a8a8a" stroke-width="0.7" />
<text x="15.6" y="580.2" font-size="6.4" text-anchor="end" fill="#333">2</text>
<line x1="16.2" y1="553.1" x2="18" y2="553.1" stroke="#8a8a8a" stroke-width="0.7" />
<text x="15.6" y="555.4" font-size="6.4" text-anchor="end" fill="#333">4</text>
<line x1="45.4" y1="605.8" x2="45.4" y2="607.6" stroke="#8a8a8a" stroke-width="0.7" />
<line x1="95.4" y1="605.8" x2="95.4" y2="607.6" stroke="#8a8a8a" stroke-width="0.7" />
<text x="45.4" y="617.1" font-size="8.2" text-anchor="middle" fill="#222">T<tspan font-size="4.8" dy="2.9">CyEM</tspan></text>
<text x="95.4" y="617.1" font-size="8.2" text-anchor="middle" fill="#222">T<tspan font-size="4.8" dy="2.9">CM</tspan></text>
<text x="72.5" y="513" font-size="8.2" text-anchor="middle" font-style="italic" fill="#111">CCL5</text>
<text x="70.4" y="521.8" font-size="5" text-anchor="middle" fill="#222">***</text>
<path d="M45.4 526.4 V524 H95.4 V526.4" fill="none" stroke="#444" stroke-width="0.7"/>
<text x="4.6" y="567" font-size="7.6" text-anchor="middle" fill="#222" transform="rotate(-90 4.6 567)">Expresssion Level</text>
<rect x="24.5" y="553.1" width="41.3" height="45.88" fill="#0a0a0a" />
<rect x="24.5" y="553.1" width="41.3" height="45.88" filter="url(#sf11)"/>
<rect x="32.5" y="553.1" width="25.3" height="45.88" filter="url(#sf12)"/>
<path fill="none" stroke="#111" stroke-width="1.1" stroke-linecap="round" d="M45.7 546h0m18.2 .1h0m-17.5 6.9h0m15.8-3.3h0m-6.2 1.7h0m-16.8 1h0m10-.9h0m-18 .8h0m.2 .8h0m28.3-5.9h0m-16.5 4.9h0m4.5-.6h0m-21.5 .9h0m38.1-2h0m-14.4-2.7h0m-8.2 5.2h0m23.6-2h0m-11.3-1.1h0m1.3 1.2h0m9.7 1.7h0m-12.7-6.4h0m7.5 5.2h0m-25.3 1.6h0m24-3.3h0m-5.3 2.5h0m4.2-5.5h0m.1 3.9h0m-14.1-3.5h0m-4.8 5.3h0m25.4-.8h0m-13.8 1.4h0m-18.6-.4h0m10.5-1h0m-6.8-3.3h0m-8.8 .8h0m11.1 2.7h0m8.6 .9h0m-9.8-.9h0m20.1 .4h0m-3.8-.6h0m5.5-2.7h0m-5.5-1.3h0m-14.3 3h0m-10.6-4.4h0m1 6.6h0m32.4-1.4h0m-8.5-5h0m-18.5 0h0m4.2 3.9h0m22.6 0h0m-15.3 2.4h0m-16.2 .2h0m15.8-1.1h0m13.7 1.2h0m-2.7 0h0m-16.9-.9h0m-13.6-4.3h0m5.1 3.2h0m23.9-2.5h0m2.7 4h0m-26.7 .2h0m10.8-.1h0m-5.5-6.2h0m10.5 4.8h0m-13.6-3.9h0m-2.5 4.5h0m24.8-5.5h0m-16.1 4.4h0m.2-.7h0m13.5 1.7h0m-24.2 1.2h0m37-.3h0m-23.7 .1h0m1.9-1.3h0m10.7-2.3h0m-21.5-1.7h0m18.1-1.5h0m-13.1 3.1h0m-12.9 1.2h0m14.9-2.9h0m7.5 2.1h0m-12.1 .6h0m-2.5-1.2h0m11.1-1.9h0m-18.2-.3h0m1.3 6.4h0m1-2.3h0m2-.3h0m20.2 2.4h0m3-6.1h0m-6.7 6.2h0m-13.8-6.6h0m26.4 .2h0m-10 1.7h0m-20.1 3.5h0m-2 1h0m27.7-5.8h0m5.4 4.4h0m-7.5-.8h0m10.6 2.5h0m-23.7-.8h0m4.1-.7h0m-8.2-2.2h0m8.4 .7h0m14.1 2.4h0m-9.6 .4h0m7.9-.6h0m-4.9 0h0m-2.1-.9h0m-6.4-1h0m14.7-1.7h0m-30.3 4.4h0m28.5-2.4h0m-2.2-2h0m-7.4 3.2h0m-17.7-1.6h0m-3-.9h0m17.2 1.3h0m16.7 .2h0m-10.2-2h0m3.2 2.1h0m-17.5-1.5h0m-3.7 1.8h0m11.3-4.9h0m18.4 3.9h0m-19.5 1h0m2.5 1.8h0m3.4-1.3h0m-.6-2.7h0m13.9 3.2h0m-27.7-3.7h0m9-1.4h0m6.4 5.8h0m.9-2.6h0m-11.8-1.2h0m-9.7-2.4h0m27.7 6.3h0m-6.9-.2h0m-9.8-.2h0m7.2-.8h0m4.8 1h0m-15.7-3.1h0m8.6-4h0m20.4 7.3h0m-16-1.7h0m10.6-3.1h0m3.7 .7h0m2.6-2.5h0m-27.2 3.8h0m13.5 1.6h0m-.7-3.1h0m-14.6 4.2h0m19.6-1.5h0m-1.6-1.5h0m-1.6-3.7h0m-16.3 2.2h0m24.4 .3h0m-24 .3h0m4-2.6h0m-.8 3.6h0m19.5 1h0m2.3-1.1h0m-33.9-2.6h0m35.9-.6h0m-5.9 5.7h0m-6.6-3.2h0m10.1 3.4h0m-17.2-1h0m-11.5 1.4h0m4.2-6.8h0m-3.8 .1h0m10 2.4h0m-18 .5h0m19.5 .6h0m6.8 2.3h0m-15.3 .6h0m15.5 .2h0m10.3-.1h0m-28-7h0m-8.7 .9h0m30.8 2.5h0m-5.8-1.3h0m8.4 4.7h0m-19.5-4.3h0m-1.3 3.3h0m-9.3-2.8h0m16.7-.7h0m-2.3 3h0m-3.4 .4h0m-10.2-.6h0m18.2 1.3h0m-21.1-1.1h0m17.4-.2h0m-16.7 1h0m34.1-.8h0m-34.4 1.4h0m16 0h0m.2-2.4h0m9.2-1.9h0m13.3-1.2h0m-31.7 0h0m20.9 5.6h0m5.2-6.3h0m-25 2h0m14.4 2.5h0m.3-1.6h0m-16.4 0h0m10.9 1.7h0m-11.8 2h0m11.4-3.4h0m19.7 1.6h0m-15.7-4.1h0m9.8 2.7h0m-7.5-3.9h0m-21.5 5.1h0m-1.8-2.5h0m6.1 3.7h0m18-4.9h0m-25.5 2.9h0m38.1 2.2h0m-22.8 .5h0m-10-.7h0m25.3 .7h0m-19.4-1.8h0m7-3.1h0m-12.7 1.5h0m6.8 3.6h0m22.9 0h0m-30.9-1.6h0m6-3.2h0m14.8-.2h0m-20.9-.2h0m3.8 .4h0m24.5-1.9h0m-22.4 6.7h0m13-6.4h0m2.3 4.7h0m-4.8 1.6h0m20.2-1.7h0m-15.2 1.8h0m-9.8-1.7h0m15.1-.8h0m-4.2 2.1h0m-23.4-2.5h0m20.4 .5h0m-15.8 .1h0m4.2 .6h0m-4.5-2.6h0m2.3 4.1h0m-8.5-2.9h0m12.6 3h0m20.1-.7h0m-10.4-3.2h0m-16.1 2.1h0m31.4 .5h0m-16.5-4.5h0m-.1 .9h0m-21.9 .7h0m37.5-1.5h0m-4.3 1.7h0m-28.2 1.1h0m10.4 2.3h0m.6-2.3h0m9.1 3h0m-11.3-2.3h0m10.1-.9h0m3.8-.8h0m4-3h0m-30.6 1.2h0m8.8 1.5h0m-4.5-1.6h0m15.1 4.5h0m6.8 1.4h0m-21.9-6.4h0m2.6 5.8h0m14.1-.1h0m2.5 .7h0m-13.6-5h0m-1.7 1.4h0m4-.4h0m-9.8 3.8h0m24.8-.6h0m-28.1-6.2h0m5.5 1.9h0m12.8-.7h0m15.1 5.1h0m-17.2-4.3h0m11.5 3.6h0m10.2-.1h0m-14.5-5.3h0m-19.5 1.4h0m11.3 3.6h0m-3.1 .3h0m-5.1-3.9h0m-8.1 5.3h0m1.3-3.4h0m23.6-2.9h0m-8.8 5.8h0m-10.6-5.3h0m14.1 3.3h0m15.3 0h0m-12.3 1.9h0m-2.4 .4h0m-15.5 .2h0m25.6-2.6h0m-29.2 0h0m33.2-.8h0m-32.5-2.1h0m-1 1h0m18.3 .4h0m-5.1 4.1h0m16.4-.6h0m-12.9-.6h0m-17.5-.6h0m11.9 1.9h0m7.6-4.5h0m-15.3 4.2h0m16.6-3.7h0m-6.2 4h0m4.4-7.3h0m21.2 .7h0m-31.3 6.6h0m-7.2-6.1h0m13.7 5.8h0m0-4.4h0m8.6 4.5h0m-4-1.8h0m9.2 1.9h0m-23.3-1.6h0m12.1-3.4h0m-14.9 1.7h0m20.3 2.5h0m11.8-2.1h0m-10 1.8h0m-24-2.8h0m26.5 3.2h0m6.4 .8h0m-18.6-2.6h0m18.9 .9h0m-16.5 .8h0m-4.3-2.6h0m23 1.4h0m1.4-3.3h0m-21.1 3h0m19.1 2h0m-6.2 .4h0m-.2-3h0m-25 3h0m6.1-2.4h0m26.2 1.7h0m-29.6-.4h0m3.2 .7h0m18.3-.7h0m-3.5 1h0m1.5-3.2h0m-25.9 .4h0m11.8 .5h0m15.5 0h0m-4.1 .4h0m15.2-.7h0m-13.1-1.4h0m-21.9 1.3h0m21.5 2.7h0m-13-1h0m-2.5 .3h0m-5.5-.8h0m10.1 .6h0m23 .8h0m-13.3-7h0m4.1 .1h0m-16.8 2.6h0m20.5-1h0m-24.5 4.7h0m12.9-1h0m-2.3-.8h0m6.2 2.1h0m12.8-6.1h0m-5.1 3.8h0m-31.5-3.7h0m27 3.5h0m-26.6 51.3h0m36.5-3.9h0m-26.5-.4h0m4.6 1.3h0m3.2 2.5h0m19.3-1.9h0m-18.5 2.3h0m-9.8-3h0m28.4 .2h0m-3-.6h0m-9.8 2h0m-6.7 .8h0m13.7-.6h0m1.6 .4h0m-31.2 .3h0m21.8-2h0m15.7 1.1h0m-5.3 1.2h0m-33.6-2.7h0m17.1 2.1h0m4.1-1.1h0m5.6 .3h0m-13.6-.7h0m7.3 1h0m-6.7-1.8h0m.9 1.1h0m-11.9 1h0m24.8-2.7h0m-7.1 2.4h0m2.7-2h0m16 3.3h0m-38.4-1.7h0m-1.3-.5h0m14 2.3h0m-9.9-2.2h0m31.7 1.2h0m-21.3-1.6h0m20.5 0h0m-5.2 1.2h0m-21-2.3h0m16.1 3.2h0m3.7 .2h0m2.6-2.6h0m3.6 1.2h0m-25.8-2.3h0m-9.3 1.9h0m11.5 1.7h0m-4-3.9h0m-4.4 .3h0m9.7 1h0m1.9 2.9h0m9.9-.3h0m-23.5-.2h0m35.3-.7h0m-13.9-.2h0m-8.9 1.2h0m-14.1-3.1h0m10.5-.6h0m-8 .4h0m31.4 0h0m-13.3 3.4h0m9.9-3.3h0m-21.7 .2h0m-8 .7h0m-1.3 2.1h0m19.1-3.3h0m15.8 .7h0m-32.8-.9h0m5.9 1.3h0m13.3 1.2h0m-4.3-1.7h0m-8.1-.7h0m29.2 2.7h0m-16.4-2.5h0m-.1 3.5h0m2.7-.4h0m8.2 0h0m-10.1-.6h0m4.6-2.9h0m3.6 2.6h0m-9.3-1.3h0m-11 .7h0m10.6 1.5h0m8-.1h0m-2-3.2h0m-2.8 .1h0m-.1 2.1h0m-4.2-1.8h0m13 1.3h0m-8.6 1h0m-17-1.1h0m-1.6 1h0m-2.4-1.3h0m4.8 2.1h0m-7-1h0m37.1-.4h0m-17.2 0h0m-12.3-1.8h0m21.1 2.1h0m-6-2h0m2.6 3.1h0m-25.9 .4h0m11.6-3.9h0m11.5 3.3h0m.2-1.9h0m8.2-.6h0m-3.7 2.1h0m-18.5 .5h0m1.5-.7h0m6 .6h0m10.2-2.7h0m-4.9 1.6h0m-13.9-1.6h0m-2.1 2.5h0m7.1-2.5h0m8.4 2.6h0m-19.1-2.9h0m36.6-.2h0m-6.5 1.7h0m1.3 1.3h0m-31.9-1.6h0m19.7-.8h0m-2 2.2h0m15.5-1.8h0m-22.8 2.1h0m10.7-.8h0m-9.2-.5h0m20.5-.3h0m-28.4-1.1h0m9.4 3.1h0m-10.1-.9h0m-5.4-2.5h0m16.6 3.6h0m13.7-3.1h0m-28.5 2h0m23.7-.8h0m-5.8-.9h0m-16.9 2.9h0m36.4-1.4h0m-19.1-.5h0m34.4-25.9h0m5.8 1.9h0m14 10.6h0m-12.7-12.4h0m8.5-3.9h0m11.5 20h0m1-15.8h0m.1 14.1h0m-14.2 3.5h0m11.2 3.7h0m1.6-2.7h0m-29.9-10.3h0m7.5-.9h0m28.3-10h0m-5.3 13h0m4.9 6h0m-13.5 1.8h0m13.7-12.4h0m.2 16.6h0m-18.5 1h0m21.4-21.7h0m-33.2 21.1h0m15-18.1h0m-18.3 15.2h0m28.2-5.7h0m-17.6 5.3h0m.6-8.4h0m-6.2-6.9h0m12.3 0h0m3.9-3.7h0m-22.7-1.2h0m31.3 12.8h0m-23.4 10.2h0m25.1-24.9h0m-4.4 13.7h0m-26.8-14.7h0m28 27.3h0m-26.5-25.1h0m7.8 15.3h0m-9.3 9.3h0m10.5-26.3h0m16.2 16h0m-15.4-13h0m-6.9 14.8h0m23.5-7.1h0m-2.3 9.5h0m-9.6-5h0m-1.8 5.4h0m14.9 4h0m-10.3-6.5h0m-17.7-8.8h0m32.6 0h0m-18.4 9.2h0m-8.5 4.6h0m22.4-14h0m-23.8 0h0m15.2 18.8h0m6.9-19.9h0m-28.1 12.4h0m34.6-3.4h0m-10.7-4.7h0m-4.5 15.5h0m12.1-12.6h0m-7.4-4.6h0m-13.4 6.9h0m-14.1 1.7h0m2.3-5.4h0m12.3 7h0m9.7-11.5h0m-24.4 18.3h0m24.1-6.2h0m1-10.1h0m-23.7-12.1h0m4.5 9.5h0m12.2-2.7h0m10.1 1.5h0m-8.4 16.5h0m-14.6-15.2h0m4.5 4.6h0m11.7-10.6h0m-12.6-2.7h0m18.8-1.2h0m-.6 27.6h0m12.1-2.4h0m-15.1-8h0m-14.3-15.8h0m13.9-1.6h0m5 25.8h0m-5.6-17.3h0m-3.2 16.3h0m17.7-1.3h0m-1.7-4.7h0m-18 5.2h0m-3.6-2.1h0m23.3-4h0m-35.5-15.2h0m26.2 9.8h0m-7.7 16.6h0m-17.6-5.7h0m31.2-14.9h0m-12.1 16.3h0m18.6-2.7h0m-7.7-4.4h0m-32.6-1.9h0m22.1-3.8h0m-4.4 16.3h0m20.2-26h0m-1.3 3.8h0m-6.1 9.7h0m-19.8 1.5h0m-7.9-12.2h0m8.6 16.6h0m10-12.1h0m7.5-7h0m.6 10h0m7.6-2.4h0m3 4.6h0m-37 0h0m34.5-6.6h0m-17.7 4.7h0m-17.1-12.1h0m7 16.8h0m1.4 11.5h0m-9.9-15.3h0m15.5 15.4h0m-11.6-22h0m-3.6 1.6h0m14.4 4.4h0m12.8 7.4h0m1.3 2.1h0m-9.8-9.2h0m-4.6 .4h0m17.1-.7h0m-28.4 12h0m12.4-13.6h0m8.2 14.5h0m8.3-23.7h0m-18.6 18.4h0m-6.3-9.9h0m-8.2 14.3h0m40.4-9.9h0m-7.5-14.6h0m-16.6 5.6h0m-14 8.7h0m32.2-10.9h0m-1.4 7.2h0m-6 7.5h0m10-6.5h0m-33.3 2.4h0m1.2 11.3h0m-4.4-11.7h0m2.8 6.2h0m11.4-19.2h0m25.4 24.3h0m-5.3-9.7h0m-4.9-.9h0m-19.2 2.3h0m14.1-9.4h0m10.6 12.9h0m3.7-20.3h0m-39.6 15.1h0m7.5 .5h0m-3.7-14.3h0m36.8 21.4h0m-35.4-7.8h0m25.8 5h0m-3.5-13h0m-19.4 8.6h0m31.1 8.6h0m-20.9-9.4h0m-15.1-15.3h0m7.4 11.6h0m27.8 18h0m-6.4-17h0m8-5h0m-33.3 21h0m29.1-10.2h0m-12.3 4.6h0m2.3-9.2h0m13.5 7.6h0m-.3 1.9h0m-4.1-.9h0m4.4-14.6h0m-30.8-2h0m30.6 1.5h0m-20.6 16.1h0m-9.7-9.9h0m5.8 9.9h0m15.1 1.4h0m-24.6-21.1h0m-2.2 19.4h0m8.7-17h0m3.2 4.9h0m.7 9.7h0m18.9 6.7h0m-19.7 1.1h0m13.1-6.8h0m10.7-13.1h0m-6.4 7.4h0m-8.6-3h0m-23.1-10.3h0m5 13.2h0m20.5-3.7h0m-15.2 6.2h0m21.7-3.6h0m-1.3-6.1h0m1.8 3.3h0m-4.6-8.1h0m-3 14.6h0m13.4 .4h0m-10 6.2h0m4.2 2.1h0m-10.6-12.6h0m11.4-7.8h0m-15.4-3.1h0m12 16.9h0m-8.2-11.2h0m16.1 4.5h0m-28.4-11.3h0m30.6 20.5h0m-24.9-15.2h0m24.1 9.2h0m-35.8 1.5h0m-.6-13.2h0m6 17h0m20.9-5.2h0m-2.8 8.4h0m-27-11.2h0m35.1 4.3h0m2.1 .2h0m-19.2-10.5h0m-9.1 2.9h0m32.5-4.2h0m-14-5.9h0m3.9 11.2h0m-29.4-1.6h0m25.5-8.3h0m-23.7 3h0m2.3 .4h0m29.3 14h0m-35 8.9h0m21.7-4h0m1.2-24.6h0m7.2 2.1h0m2.7 21.1h0m-30.1-23h0m37 18.4h0m-15.9-16.5h0m-11.7 15.8h0m8.8-14.7h0m-18.8 8.7h0m19.3 5.8h0m-14.1-1.6h0m16.6 9.6h0m5.9-10.7h0m-15.3 4.6h0m11.8 3.5h0m-.4-7.2h0m-24.2 5.9h0m-.1 4.7h0m7.5-2.3h0m14.3-2.7h0m-8.6-14h0m-15 14.6h0m6.1-.6h0m-2.1-2.5h0m27.9 10.2h0m-28.4-15.2h0m4.1 .9h0m12.7 7.3h0m-5.1-13.2h0m-15.5 14.1h0m23 3.5h0m-4.3-26.1h0m-14.3 20.2h0m19.5-.7h0m-1.9 6.1h0m5-10.2h0m12.4-11.8h0m-32.8 22.5h0m-1.8-20.6h0m8.7 17.2h0m-11.3-4.6h0m23.5-18.2h0m-12.7 5h0m27.7 12.1h0m-33.5 10.9h0m3-5.5h0m14.3-3.2h0m5.6-7.2h0m-5.4-2.9h0m-7.8 .3h0m-14.4 5.9h0m16.4 .1h0m12.8-4.8h0m-29.6 3.3h0m31.2-12.1h0m-20.1-.2h0m.5 3h0m21.8 17.3h0m-9-8h0m3.4-13h0m-23.1-1.2h0m-6 28.6h0m21.9-4.8h0m-9.3-9.8h0m8.8 7.1h0m-17.3-17.7h0m23.9 1h0m10-1h0m-18.1 24.1h0m17.1-8.5h0m-11.2 5.6h0m-10.4-15.5h0m2.6 16.8h0m-3.7-9.7h0m24.3-12.9h0m-4 25.8h0m3.9-20.8h0m-38 6.5h0m36.9 2.1h0m-14.8 3.5h0m17.2-1h0m-33.5-12.9h0m17.7-2.1h0m1.6 14.6h0m7.7-5.8h0m-12.2 6.2h0m-6.9 9.7h0m16-21.2h0m-14.7 14.8h0m-10.4 3.4h0m18.6-14.2h0m-2.6-6.5h0m-4.8 9.3h0m-4.9 .2h0m-11.6-12.3h0m32.7 9.7h0m-3.5-11.5h0m-17.5 .5h0m-5.1 9.6h0m19.6 16h0m6.2-1.1h0m-27.1-4.2h0m21.5-20.8h0m-1.7 26.6h0m-7.7-19.8h0m-15.8 2.9h0m17.8-.4h0m-4.4 1.2h0m-10.4 15.2h0m-1.4-9.2h0m34.5-17.4h0m-29 21h0m23.7-20.8h0m5.7 14.6h0m-24.7-11.1h0m-2 18.3h0m-6.9-.6h0m-3.4-5.3h0m39.9-2.9h0m-27.4-6.2h0m-4.3 15.4h0m17.8-22.5h0m-20.2 28.4h0m29.5-24.4h0m-18 15.4h0m-17.8-5.3h0m5.3 4.7h0m-2.7-18h0m26.2 6.8h0m-8-1.8h0m-1.9 13h0m10.6-17.1h0m-27.2 13.9h0m23.8-7.5h0m-26.4 2.3h0m28.6 6.7h0m-16.3-10.1h0m7.9 15h0m2.5 4.3h0m-8-20h0m-5.9 15.6h0m12.4-4.8h0m19.3-13.1h0m-12.3 5.5h0m-12.6 10.8h0m10.5 .5h0m-20.7-16.3h0m4.3-4h0m15.6 24.1h0m-1.7-20.1h0m-12.1-3.5h0m8.9 13.8h0m-12.9 11.6h0m13-24.6h0m.2 11.8h0m.7-10.2h0m7.2 10.3h0m-21.3 13.8h0m26.8-17.1h0m-14.1 1.1h0m10.5 12.6h0m-10.5-17.3h0m15.9 3.7h0m-3.1 .7h0m.4-2.4h0m6.9 8.8h0m-2-2.8h0m-14.1-8.6h0m-5.5 10.3h0m-3 3.7h0m12.8 5.1h0m-5.1-1.6h0m-16.1-11.9h0m12.7 13.7h0m-14.7-18.4h0m20.9 1.8h0m-13.5 2.9h0m.1 5.3h0m-.9 7.5h0m26.7 2.3h0m-18.9-3.7h0m18.5-22.4h0m.5 20.6h0m-18-10.3h0m13.7-2h0m-18 2.5h0m-.9-6.2h0m21.7 7.1h0m-28.4 2.7h0m24.4-12.9h0m-13.4 6.9h0m-14.4-4.5h0m33.2 22.6h0m-22.9-11.9h0m-6.1-11.1h0m-7.9-1h0m19.1 17.4h0m-20.1-4.9h0m34.6 5.6h0m-17.2-20.2h0m21.4 3.7h0m-8.3 .2h0m-25.2-4.8h0m30.7 6.2h0m-31.5 22.4h0m28.8-5.6h0m-32.7 2.8h0m23.4-17.4h0m-24.6-1.7h0m8-3.9h0m4.8 7.9h0m24.3 .8h0m-24.4 15.6h0m12.7-25.6h0m-12.9 8.4h0m-1.9-2.1h0m10.6-2h0m-13.7 8.6h0m-2.2-2.4h0m-4.7 10.4h0m1.6-16.7h0m11.5 10.1h0m-12.6 7.7h0m37.1 0h0m-9.4-16.3h0m-17.4 2.5h0m9.5-9.4h0m-16.5 19.1h0m15.7-11.5h0m-12.1 7.8h0m23.3 7.8h0m-30.9 1h0m19.4-9.3h0m19.4 12.7h0m-18.9-1.7h0m-11.5-3.8h0m13.9-8.8h0m14.2 8.2h0m-10.7-13.5h0m-2.3-2.2h0m-13.6 17.5h0m-5.6 4.8h0m35.4-4.2h0m-20.6-12.3h0m-10.5-9.1h0m.5-.1h0m20.1 8.7h0m-4.8 15.6h0m3.3 .4h0m-28.2-26.1h0m21 27.3h0m-11.1-12.4h0m-.2 2.4h0m8.7-1.3h0m-5.3 11.1h0m10.1-17.2h0m-4.9-3.9h0m22.6 5.8h0m-19.3-3.4h0m12.9-5.6h0m-16.5 23h0m-1.2-2.3h0m-12.9 .1h0m1-13.6h0m19-7.1h0m-6.4 23.9h0m14.1-13h0m-17.8-12.8h0m-6.6 24.8h0m28.3-26.5h0m.1 27.1h0m-25.4-16.8h0m19.8-.5h0m-4.4-4.5h0m12.2 6.8h0m-16.7 1.5h0m-3.1-4.6h0m-10.9 18.6h0m31.7-13.9h0m-5-9.6h0m-27.4-1.4h0m8.7 11.4h0m4.2 2.1h0m16.3 5.6h0m-15-7.1h0m-9.5 11.5h0m19.6-20.2h0m-28.8 7.8h0m18.8-5.6h0m-14.2-7.4h0m22 23.5h0m12.3-11.5h0m-10.5-5h0m-12.7 6.6h0m-17.1-10.5h0m26.8 22.3h0m-2.1-19.7h0m-18.2-3.5h0m20.9 15.7h0m-6.1-12.3h0m12.5-2.7h0m-23 8.7h0m27-6.6h0m-31.8 18.6h0m31.7 3.7h0m-33.6-.6h0m20.3-.1h0m-14.2-26.5h0m-1 14.4h0m3.6-9.8h0m-13.2 10.3h0m1.1-16h0m36.9 2.7h0m-20.2-2h0m13 22.9h0m-14.1-9.9h0m-11.5-3.4h0m24.4 16.1h0m-5.7-20.2h0m11.9-2h0m-7.1 21.3h0m-1.7-15.9h0m-12.7 13.5h0m.1 2.8h0m11.9-12.8h0m13.7 7.5h0m-27.3 3.2h0m24.8-8.6h0m-5.6 12.8h0m3.9-23.8h0m-15.3 17.2h0m3.1-22h0m-16.8 14.2h0m32.9-7.1h0m-40 18.4h0m18.3-4.8h0m-8.1-7.8h0m19.2-2.2h0m3.9 13.3h0m-25.2 2.9h0m17.1-25.8h0m-18 18.7h0m13.5 4.3h0m14.6-1.8h0m-6.1 3.4h0m11.9-8.1h0m-22.4-.4h0m4.1 3.7h0m-1.4-8.5h0m-17.2 4.7h0m30.5 .3h0m-10.3 11.8h0m1.2-2.1h0m-11.2-25.9h0m4.7 20.2h0m12.6-5.3h0m-14.9 6.2h0m-6.3 3.2h0m10.3-8.7h0m-.7 1.2h0m4.3 2.3h0m-17.8-6.7h0m5.7 14.7h0m11-12.3h0m-7.8 8.3h0m20.2-23.4h0m-30.5 4.9h0m32.5 17.9h0m-3.8-15.7h0m-14.4 3h0m-5 7.4h0m13.1-15h0m-15.7 21h0m8-15.3h0m-11.3 17.7h0m-7.1-6.1h0m25.8-10.9h0m11.2 13.8h0m-33-14.2h0m19.4 11.2h0m-24.5-7.7h0m20.8 2h0m-9.2-2.3h0m11.3-2.5h0m-18.6 4.8h0m28.6 10.5h0m-5-25.1h0m-26.3 22.3h0m29-9.4h0m-9.3-8.3h0m-9.5 7.9h0m25.5-12.4h0m-22.8 14.8h0m-11-1.8h0m24.7 12.2h0m-.1-15h0m-2.8 6.3h0m-20.5-11.3h0m26.7 3h0m-3.7 16.6h0m8.5-16.4h0m3.6 18.3h0m-3.1-9.4h0m-36.6-10.6h0m25.2 21h0m-13.2-13.7h0m26.7 6.3h0m-38.9-20.6h0m5.8 5.1h0m-4.3 9h0m23.2-2.3h0m15.4 9.6h0m-29.1-8.7h0m-4.7-4.8h0m21.9 9.6h0m-17.9 2.1h0m9.7-3.7h0m-18.7 7.8h0m30.3-22.8h0m-25.5 14.9h0m11.5 2h0m4.9 11.4h0m17.7-29.7h0m-16.8 10h0m-4.2 13.2h0m15.7 1.4h0m-34.7-23.2h0m30.4 26.5h0m1.4-7.5h0m-4.2 5h0m7.8-8.9h0m-13.5-2.6h0m-20.9 1.3h0m20.1 11.7h0m3.7-11.4h0m8.1 7.4h0m-10.8-3.9h0m-13.3 6.6h0m8.3 0h0m-9.5-19.3h0m22.9-3.5h0m1.5 14.1h0m-30.7 10.7h0m25.9-26.5h0m6.6 18h0m.6-12.5h0m-9.2-2.3h0m-17.1 5.9h0m23 4.1h0m1.5-5.1h0m-23.6 .8h0m20.7 .7h0m-20 17.3h0m8-20.3h0m12.6-5.4h0m2.7 12.9h0m-21.1-1.3h0m23.8 7h0m-28.8-17.7h0m31.4 4.9h0m1.3-2.4h0m-15.3 4h0m-2.6-6.1h0m-11.9 2.8h0m18.1 11.1h0m-28.2 9.9h0m35.9-18.7h0m-1.4 4.8h0m-21.8 3.5h0m2.7 5.4h0m-2.8-5.1h0m-7.1 8.2h0m31.3-21.6h0m-36.1 18.1h0m19.7-5.1h0m11.9-2h0m-20.3-2.9h0m16.7-1h0m-25.6-10.6h0m12.3 23.8h0m-1.3 2h0m-6.7-24.1h0m-.8 .5h0m25.8 20.1h0m4.6 5h0m-20.3-27.4h0m-4.7 4.1h0m9.9 5.7h0m16.3-4.6h0m-29.1 4h0m5.8 1.7h0m17.5 10.5h0m-23.3 3.6h0m-4-25h0m29.1 24.8h0m-30.8 1.7h0m22.5-19.8h0m-5.2 14.7h0m-10.4 .9h0m11.5 5.8h0m13.7-21.6h0m-19.9-4.6h0m20.8 10.8h0m-35.7-.1h0m11.4-6.9h0m10.9 .2h0m-14.4 16h0m.2-3.2h0m12.6-3h0m18.1-5.5h0m-14.2 10.7h0m4.8 7.6h0m-5.8-28.5h0m-20.6 3.6h0m6.6 15.7h0m4.9-.8h0m22.8-2.6h0m-23.7 11.2h0m23.9-12.9h0m2.4 8.5h0m-27.8-9.8h0m23.5-8.4h0m-2.5 22.8h0m-14.4-13.1h0m10.3 10.2h0m-13.2-15.7h0m-17.1 7.3h0m18.5-13.7h0m22.7 4.9h0m-16.4-4h0m4.5 23.7h0m-8.2 1h0m-13.9-21.2h0m31.2 19.3h0m-9.6-18.8h0m11.1 2.5h0m-9.6 1.5h0m9.8 15.8h0m-23-7.9h0m23.6-17.6h0m-28.4 22.7h0m11-2.3h0m17.1-13.3h0m-8.1 10.6h0m-10.2-7h0m8.2 2h0m-13.5 9.7h0m-7.5-17h0m17.9 3.9h0m9.4 14.2h0m-1-6.5h0m-20.2-17.8h0m-.9 21.1h0m25.1-14.3h0m-20.2 2.6h0m-15.4 10.6h0m17.7-14.5h0m16.4-5.3h0m-2.3 3.1h0m-7.9 6.9h0m-23.5-1.1h0m30.5 7.9h0m-30.3 5.7h0m32.4-19.9h0m-25.4 20.7h0m18.3-6.9h0m-18.6-14.7h0m-5.5 8.1h0m34.1 15.6h0m-15.4 .6h0m.9 .2h0m-2.6-15.1h0m8.9 5.7h0m-26.6-15h0m21.5 6.9h0m-6.1-7.8h0m1.7 20.5h0m-2.7-14.3h0m-.2 8.5h0m-6.5 4.6h0m2.1-2h0m13.8-7.2h0m-28.8 6.8h0m-.3-10.6h0m11-4h0m16.3 5.5h0m5.8 2.2h0m-2.2-5.7h0m-28 3.1h0m32.4 12.5h0m-19.4-18h0m23 18.6h0m-18-7.4h0m3.4 8.4h0m-8.3-19.3h0m-6-.2h0m30.5 23.2h0m-2.3-5.5h0m-33.1-6.2h0m36.8-3.6h0m-30.5 .4h0m18.3 12.2h0m9.7-8.7h0m-33.3-5.7h0m15.1 10.9h0m15.6 8.1h0m-24.9-17.6h0m-5.6 17.4h0m25.6-3.7h0m-23.9-7.2h0m10-2.7h0m-14.7-8.6h0m-2.8 3.9h0m25.5 12.1h0m-15.2-20.6h0m19.7 19.3h0m-26-14.7h0m.8 17.5h0m23.9-11.6h0m.2 14.2h0m-15.3-26.5h0m15.1 18.6h0m-15.8 7.9h0m-3.3-15.6h0m.9-2.5h0m2.8 20.7h0m-12-.7h0m26.4-23.8h0m-5 1.7h0m0 18.3h0m-13.5-6.3h0m14-13.4h0m11.3 12.6h0m-.5 2.6h0m-10-11.2h0m4.9-1.2h0m.1 14.1h0m6.3-14.6h0m-.7 13.8h0m-18.6-1.8h0m18.7-5.5h0m-8.6-10.2h0m-11.1 10.3h0m5 6.2h0m.9-8.2h0m-17.9 .3h0m11.3 11.2h0m13.3-19.1h0m.7 .2h0m-21.4 12.7h0m2.2 10.1h0m18.3-2.1h0m7.1-11h0m-16.5-10.3h0m-5.2-.6h0m16.5 6.4h0m4.3 4.6h0m-18.6-5.6h0m-8.3-1h0m-2.7-5.7h0m34.9 18.6h0m-25.3-11.7h0m25.8 6.1h0m-21.2-.9h0m-14.2-10.1h0m22.6 3.7h0m7.7 17.9h0m-22.5-16.9h0m-4.9 4.3h0m14.1 7.4h0m-18.2-8.1h0m1.3-5.2h0m31.7 18.2h0m-9-13.6h0m-2.2 8.7h0m-14.7-19.1h0m21.8 25h0m-23.4-8h0m9.4 7.4h0m19.3-17.2h0m-24.5 9.2h0m-5.9 4.5h0m3.3-19.1h0m12.3 24.1h0m14.9-7.3h0m-36.1-12.8h0m29.8-1.4h0m-26.5-3.1h0m2.3 8.1h0m34.3-2.4h0m-25.1 1.8h0m5.5 0h0m2.3-8.1h0m7.5 15.8h0m-.1-8.7h0m-20.8-.2h0m13.2 15.3h0m-.3-11h0m-1.9-8.2h0m7.6-2.3h0m-22.3 .9h0m29.1 25.6h0m-18.2-25.9h0m-6.1-1.7h0m-9.2 3.4h0m38.6 6.2h0m-20 2.1h0m-4.8 6.8h0m14.2-2.7h0m-5.3 10.4h0m16.3-27.4h0m-30.1 6.7h0m11.4-.6h0m-14.6-1.8h0m11.5 6.4h0m7.2 17.2h0m-5.5-20.4h0m-15.1 8.6h0m15.9 6.9h0m10.4-1.6h0m-13-9.1h0m-12.9-7.1h0m-6.8 19.1h0m32.5-14.8h0m-2.6-7h0m-.6 2.8h0m-20.7-4.4h0m21.1 16.9h0m3.6 3.9h0m.9-13.4h0m-28.3-5.4h0m24.5 12.5h0m3-.6h0m4.2 13h0m-34.3-19.3h0m17.6 5.3h0m-7.6-4.8h0m28.1 6.2h0m-8.8 1.7h0m-13-3.3h0m15.4 5.2h0m-33.1-12.8h0m34.9-4.9h0m-21.8 22.7h0m-11.9-2.3h0m20.2-1.9h0m-5.3-11.3h0m1.6 9.9h0m-12.7-14.2h0m-5.8 9.5h0m20.3-11.8h0m-5.5 7.7h0m5.6-4.3h0m.4-4.4h0m1.3 24.6h0m16.1 .9h0m-37.3-8.2h0m25.4-7.5h0m-23.7 0h0m25.7-2.2h0m-4.7 10.7h0m-21.8 6.5h0m2.7-10.8h0m21.4-1.8h0m1.2 5.6h0m-20.4-7h0m26.8 6.4h0m-28-16.1h0m-2 7.7h0m11.9 6.5h0m20.9 6.6h0m-3.3-20.9h0m.9-2.1h0m-2.1 27h0m-19.4-.4h0m-1.5-11.1h0m5.1-12.9h0m22.8 5.7h0m-18.1-4.8h0m-18.6 24.6h0m33.9-14.6h0m-1.1-4.3h0m-13.1 8.8h0m8.3-16.7h0m-9 21h0m-5.3-1.7h0m18.1-1.2h0m-12-1.9h0m-19.9-15.4h0m24.8 5.6h0m-14.4-6.7h0m6.2 16.6h0m-17.6-8.6h0m25.2 1.2h0m-21.9 5.8h0m13.7 12.6h0m-17.9-14.8h0m3.4-4.7h0m4.7-3.5h0m4.2 12.9h0m1.4-10.8h0m10.1-4.4h0m-11.8-.9h0m-3.9 1.9h0m25.3 4.1h0m-24.8 18.4h0m4-10.9h0m26.9 6.3h0m-12.2-5.7h0m-24.8-16.5h0m6.1 26h0m-4 2.1h0m19.8 .9h0m5.3-5.9h0m-18.4-18.8h0m-6.6 1.8h0m35.1-1.3h0m-28.9 19.5h0m23 2.8h0m-19.6-16.1h0m18.9 .8h0m-13.7 8.2h0m8.8-12.3h0m4.6 8.5h0m-2.1 1.5h0m-25.5-6.3h0m-4.4 13.6h0m39.7-6.1h0m-2.2-18.2h0m-25.7 2.3h0m24.9 2.3h0m-26.5 10.4h0m16.1-7.5h0m9.9 7.7h0m-8 11.8h0m5.6-7.3h0m-5.8 8.5h0m-13.1-13.8h0m3.3-1.2h0m21.1-9.7h0m-25.6 23.4h0m-7.2-22.5h0m21.3 8.5h0m1.1 9.6h0m-11-7.7h0m-6-.2h0m-8.8-2.9h0m21.9 .8h0m5.8-9.1h0m-6 11.8h0m-11.5 3.3h0m23.4 8.2h0m-32.9-9.4h0m1.9-8.1h0m32.6-.8h0m-17.5 4.9h0m-6.8 .4h0m13.7 5.1h0m-21 4.1h0m-7.6-11h0m27.4 11.3h0m-4.5-8.5h0m-18.3 10h0m26.4-23.4h0m-19.9 9.8h0m5.8 1.8h0m-4.6 .2h0m-7 8h0m.5-7.8h0m18.8-1.7h0m-12.7-1.9h0m5-8.7h0m-3.3 23.6h0m3.3-5.1h0m16.5-12.7h0m5.3 7.6h0m-7.9-5.1h0m-28.4 16.9h0m33.9-25.6h0m-21.6 26.2h0m-7.1-22.7h0m6.6 2.8h0m14.1 13.2h0m-25.9 3.1h0m7.4-1.7h0m9.7-13.3h0m.9 12.6h0m16.3 7.2h0m-4.3-12h0m-1.9 12.6h0m-30.4-28.3h0m18.7 13.6h0m-18-11.4h0m12.8-1.6h0m-10.4 16.9h0m31.5-16.2h0m1 25.3h0m-4.4-23.3h0m4.1 3.6h0m-29.1 6.5h0m-1.4 14.2h0m18.1-18h0m12.5 16.6h0m-1.4-12.6h0m-4.2 6.3h0m-10.8-13.1h0m-6.3 20.5h0m-1.3-19.2h0m-9.6-9.3h0m18.5 13.5h0m-17.9-6.6h0m20.1 10.7h0m8.3 8h0m-22.3-22.2h0m-2.4-2.1h0m27-1.2h0m-.4 11.2h0m-25.2-5.6h0m23.9-4.3h0m-1.5 26.4h0m4.2-19.8h0m-11.8 20.1h0m-14.5-.5h0m-8-11.4h0m.1-7.5h0m1.3-7.4h0m29.8 15.9h0m-5.2 7.7h0m13.4-12.8h0m-29.3 14.6h0m-.1-4.6h0m15.8-3.1h0m-14.6-1.7h0m16.1-15.4h0m3.9 23.6h0m6 1.4h0m-36.9-18.4h0m22.7 16.9h0m15.3-18.8h0m-30.2 .3h0m-3 7.2h0m13.5 2.6h0m-16.5-8.5h0m13.8-5.6h0m-15.6 17.9h0m34.3-6.1h0m-30.8-10.9h0m1 10h0m15.8 .4h0m-11.2 8.7h0m9.8-9.6h0m17.4-3.6h0m-35.5-2.9h0m25.6 11.3h0m12.1-10.5h0m-18.1 14.9h0m-16.1-14.9h0m24.6-3.5h0m-29.9 6.4h0m18.7 17.8h0m-3.3-26h0m-6.8 .9h0m15.7 4.6h0m-8.5-3.8h0m2.7 19.9h0m8.5-12.8h0m-9.1 11.5h0m7.6 1.5h0m6.4 1.4h0m-1.3-9.8h0m-5.3-11.7h0m-8.7 8.5h0m8.6-8.5h0m15.2-2.8h0m-3.6 9.4h0m-12.5 16.1h0m-9-2.9h0m-5.8-7.6h0m5.8 11.3h0m-.9-16.9h0m11.7-5.7h0m-.7 13.3h0m.6-16.5h0m-6.3 16h0m18.9-10.8h0m-18.6 12h0m-13.6-9.9h0m30 9.4h0m-3.1-16.6h0m-24.3 5.8h0m-1.3-6h0m11.1 24.8h0m-7.5-5.4h0m29.9-5.3h0m-37.9 7.1h0m28.5-11h0m-23.2 8.3h0m20.1-12.9h0m-22.2-2.2h0m5.1 12h0m4-11.8h0m-3.9 9.1h0m7.2 .1h0m9.8-10.3h0m-10.3 2.9h0m-4 11.9h0m-7.4 1.5h0m20.5 2.4h0m-13.8 3.8h0m3-8.1h0m-6.3 11.4h0m-6.7-22h0m20.6-4.8h0m-20.5-2.1h0m28.8 18.5h0m-14.3 0h0m20.6-7h0m-34.8 8.7h0m10.3-6h0m6.8-10.4h0m-9 1.6h0m16.5 5.3h0m0-7.5h0m4.4 7.5h0m-30.8 15.2h0m.5 2h0m4.3-10.7h0m10.6-4.2h0m4.2-4.4h0m-6.8-2.8h0m20.5 18.4h0m-6.5-8.4h0m6.2-.1h0m-28-5.3h0m8.4-10.5h0m-9.5 7.7h0m21.5-3.5h0m-2.2 21.4h0m6.1-12.1h0m-30.2-12.9h0m1.6 25.3h0m15.1-23.3h0m10.5 2.7h0m-6.1 11h0m-17.2-13.7h0m10.3 9.2h0m-5.6 9.7h0m20.9 2.9h0m-12.7-14.8h0m7.3 4.5h0m-17.5-12.7h0m31.3 4.4h0m-3-5.4h0m-34.4 21.7h0m12.8 4.5h0m10.1-17.9h0m-.2-5.5h0m-.9 7h0m7.5-4.2h0m8.3 21.8h0m-15-4.8h0m9.3-18.3h0m-2.1 23h0m-25.9-3.9h0m35.1-20.3h0m-6.2 4.2h0m-10.4-1.1h0m-5.7-4.9h0m10.1 15.6h0m-18.8-6.1h0m9.9 9.6h0m-14.3-18.4h0m33.7 17h0m-39.4 7.1h0m26.9-15.9h0m5.1-3.6h0m-6.3 2h0m10.5 3.8h0m-8.3 3.1h0m-18.2 4.8h0m-6.8-20.4h0m29.6 14.5h0m1.8-14.9h0m-34.5 7.7h0m16.7 7.3h0m-11.6 7h0m25-16.6h0m-27.8 10.2h0m17.4 6.7h0m-19.3-13.9h0m22.5-5h0m-17.7 6.2h0m13.5 13.7h0m-1.8-2.5h0m-7.9 1.1h0m25.6 6.8h0m-24.4-2.7h0m23.7-24h0m-20.8 15.2h0m4.5 1.3h0m-11.2 3.8h0m30.6 1h0m-.3-17.7h0m.8 6.6h0m-25.4 5.8h0m8.4 9.2h0m12.2-8.6h0m-1.2-16.4h0m-7.8 19.4h0m15.4 .7h0m-17-11.5h0m-21.8-3.6h0m41.1 19.6h0m-11-7.1h0m-17.7 9.2h0m3.3-17.5h0m-6.2-2h0m.3 10.7h0m8.4-9.3h0m9.5 16.4h0m-12-19h0m-6.9 9h0m28.1-6.9h0m-16.3-5.6h0m8.8 8.3h0m-1.5 12.4h0m-7.1-5.4h0m0 4.3h0m-17.4-13.8h0m5 .7h0m-1.8 17.6h0m24.5-21.9h0m.1 5.7h0m-30.3-4.7h0m13.9 5.7h0m16.7 5.8h0m-28-6.8h0m3.6-2.4h0m17.7-4.5h0m-6.2 21.7h0m5.6-12.2h0m-15.5-14.2h0m25.3 7.2h0m-31.8 7.1h0m32.2 7.7h0m-8.6-12.4h0m-23-8h0m18.1 13.9h0m3-5.8h0m-14.5-6h0m6-2.7h0m19.7 5.6h0m-20.7 .7h0m-12.1-6.2h0m5 21.7h0m18.2-4.9h0m-3.3-1h0m-3.4 7.9h0m-6-12.8h0m3.7-4.1h0m-7.5 5h0m1.5-8.1h0m1.2-.6h0m5.1 9.5h0m20.7 12.4h0m1.8 .7h0m-34.5-2.1h0m15.9-14.4h0m14.4 2.6h0m-29.7 8.4h0m-5.4-4.2h0m24.4-2.1h0m-10.9-1.6h0m-11.2-1.2h0m11 .2h0m2.1-7.5h0m2.8 20.9h0m-2.5-16.4h0m-8.2-.2h0m3.9-8.4h0m8.9-1h0m-13.5 19.2h0m11.7 2.5h0m-3.4-2.2h0m17.4 .1h0m2-15.8h0m-20.6 17.9h0m10.2-21.2h0m-20.8 2h0m17.5 12.3h0m-11.3-15.8h0m-.4 22.7h0m25.3 2.2h0m-6.9 4.1h0m-6.7-.8h0m5.9-13.6h0m-18.2 8.5h0m-2.6-22.9h0m14.9 27.9h0m-14.1-4.7h0m19.1-.1h0m-26.1-23.3h0m23.3 6h0m-23 19.8h0m24.7-12.1h0m13.6-13.2h0m-37.7 14.7h0m.4-3.7h0m39.1 7.2h0m-28-4.2h0m15.3-10.5h0m-25 19.9h0m13.6-.8h0m15.1-4.7h0m-18.7 1.3h0m.4-19.2h0m17.1 14.9h0m-29.4-2.8h0m8.4-7.2h0m24.6 23.8h0m-33.4-25.3h0m22 20h0m-14.9-14.1h0m18.9 9.7h0m-19.4 4.2h0m21.2 2.4h0m-10.5-19.3h0m13.1 1.7h0m-30.3 10.6h0m16.4-8.5h0m-13.4 1.1h0m37.4-11.2h0m-22.5 16.2h0m-9.9-1.4h0m22.3 2.4h0m-16.3-9.2h0m17.7 20.7h0m5.2-16.2h0m-3.2-5.8h0m-2.2 18.6h0m-26.7-11.8h0m4.2 15.2h0m13.4-23.4h0m-13.9-4.9h0m-3.7 .1h0m25.5 19.2h0m-8.3-6.6h0m-6.8-7.2h0m14.1 .1h0m-15.6-3.1h0m-11.1 16h0m22.7-4.5h0m-21.9-8.4h0m30 4.5h0m-25.9-5.9h0m21.2-.8h0m-7.4 10.2h0m-2.3-5.1h0m-5.8 14.8h0m5.9 1.8h0m-11.5-20.6h0m-7.2-.8h0m27.7-1.9h0m.2 9.5h0m-21.1 12.7h0m28.2-20.2h0m-27.2-4.1h0m19.1 5.4h0m4.2 13.4h0m-15.2 2h0m-10.1-9.1h0m8.9-7.5h0m-2.5 21.3h0m-11.4-11.4h0m39.3-11.7h0m-13.5 3.4h0m-26.4-.2h0m23.8 16.5h0m-23.5-13.8h0m1.5 5.4h0m-1.7-3.8h0m.4-9.6h0m30.5 26.8h0m-31.7-26.8h0m34.3 5.1h0m-14.7-.8h0m11-.4h0m-19.3 22h0m8.1-15.1h0m18.3 1.6h0m-28.8 15.2h0m-2.1-27.4h0m-7 8.8h0m39 4.8h0m-2.9-3.8h0m-19.3 7.1h0m-14.6 5h0m.3-14.2h0m24.4 20.5h0m-9.2-1.2h0m7.4-8.3h0m-.2 4.8h0m13.3-15h0m-7.1-5.2h0m-13 23.4h0m5.8-16.3h0m7.4 1.1h0m-9.5 10.7h0m-17.7-26.6h0m26.3-4.5h0m-12 6.8h0m-14.8-16.3h0m37.5 15.6h0m-35.7-23.1h0m13-10.8h0m18 31.9h0m-26.6-5.5h0m30.7-4.8h0m-15.6 9.1h0m-24.1-9.6h0m11.9 12.8h0m16.5-22.5h0m-3.3 22.6h0m-19-24.8h0m16.8 12.9h0m-15-3.5h0m14.7-4.1h0m-14.7-13.6h0m-3.3 30.6h0m11.8-15.9h0m11.2 5.2h0m-1.8 12h0m2.3 1h0m-22.1-27.4h0m-1.2 12.5h0m11.7-6h0m-3.3 19.3h0m19.9-18.4h0m-5.6 15.7h0m-1.6-2.9h0m-18.1-4.7h0m-8.3 11h0m10.4-30.4h0m25.6 12.8h0m-4.1 11.1h0m-4.6 4.7h0m-5.6-12.8h0m-18.2-9.6h0m26.1 17.6h0m-25.5-11.5h0m-3.3 12h0m.2-4.2h0m24.9-18.9h0m-22.8 3.3h0m2.8 18.6h0m18 .6h0m16.4-18.2h0m-7.4 19.8h0m4.9-20h0m-5.8 22.9h0m-7.9 3.8h0m-13.9-30.7h0m14.3 23.9h0m2.7 .1h0m-23.9 6h0m4.4 .8h0m1.7-13.8h0m27.5 6.9h0m1.2-14.7h0m-26-9.6h0m11.4 29.2h0m-16.7-23.1h0m-3.9 17.4h0m9.2-18.7h0m17.1 16.2h0m-11.5 10.3h0m18.9-6.5h0m-9.2 6.2h0m-17.9-14h0m29.3-13.1h0m1.5 20.6h0m-11.6-8.3h0m-20.1 6h0m18.6 9.2h0m-8.5-10.7h0m16.2-.3h0m.1 8.4h0m-20.1-9.8h0m17.5 3.9h0m-16.1-5.6h0m2.6 10.1h0m-2.9-11.8h0m5.1 7.1h0m8-3.1h0m-14.5 6.6h0m-12.1 .8h0m12.3-20.2h0m22.4 23.7h0m-32.1-3.3h0m32.7-13.6h0m-33.7 6.9h0m10-11.6h0m19-1.2h0m-18.7 24h0m18.9-26.2h0m2.1 21.5h0m-12.7-2h0m-13-6.3h0m-.7-.2h0m32.2 7.4h0m-11.2-2.9h0m-9.7 2.4h0m-17.5-9h0m17-4h0m-16.6-2.8h0m3.3 17.4h0m29.6-1.4h0m-26.4-19.6h0m.6 19.4h0m-9.6-23.1h0m39 9.6h0m-7.2 13.1h0m-19.2-.5h0m-6.3 .5h0m-7-3.7h0m33.1-18.1h0m-20.1-2.1h0m-11.7 16.6h0m40 12.1h0m-10.9-2.8h0m-19.5-23.5h0m18.6 1.4h0m-21.8-1.6h0m31.9 14h0m-27.3-16.5h0m-11.8 30.8h0m16-3.9h0m21-18.4h0m-12.4 16.6h0m12.1-5.7h0m-11.4 7.3h0m7.5-14.5h0m-.6-6.1h0m-10.1 23.3h0m-3.6-2.4h0m15.4 2.9h0m-9.7-5h0m6.7-14.7h0m-26.7 5.1h0m32 9.9h0m2.9-11.6h0m-14 7.2h0m8.2 9.4h0m-4.2-30.5h0m-23.2 30.6h0m34.2-13.2h0m-27.8 10.7h0m8.3-21.3h0m-9.8-10.3h0m24.5 13.4h0m-1.8 10.9h0m-29.9 5.2h0m26.7-5.6h0m6.1-15.3h0m-4.1-.5h0m-15-4.4h0m12.1 6.1h0m-14.6 23.5h0m19-.7h0m-26-32.7h0m-8.4 17.8h0m13.5 4h0m3.7-5.5h0m-5.6 16.1h0m1.1-26.8h0m-2.3-1.6h0m-8.2-1.2h0m36 23.5h0m-3.5 4.7h0m-9.8 3.8h0m-23.2-21.6h0m35.8-7.9h0m-17.9 10.1h0m-2.2-1.8h0m-16.8 13.3h0m24.9-.7h0m-23.8-6.8h0m22.5 7.6h0m7.4-27.9h0m.8 11.6h0m2.4-11.4h0m-29.8 .5h0m33.2 19.5h0m-23.2-.1h0m23.5 15.3h0m-21.6-22.1h0m.6-7.2h0m11.3 17.7h0m-25.6 11.9h0m10.5-12.2h0m23.5-12.3h0m-9 24.3h0m-16.9-29h0m13.8 17.5h0m.7-23.1h0m3.1 23.7h0m-21.9 10.8h0m6.9-4.6h0m17.9 .1h0m4.5-16.9h0m-31 18.5h0m34.3-27.7h0m-34.8 24.6h0m18.3-8.2h0m16.6 7.7h0m-10.6-10.8h0m-12.2-4.6h0m-14.3 20.7h0m16.1 .9h0m-18.9-32.6h0m23.6 18.5h0m-.4 2.1h0m-2.1 11.3h0m7.5 1.3h0m-6.7-5.6h0m7.9-4.7h0m-21.7-5.6h0m16.3 13.6h0m1.3-13h0m9.1-10.4h0m-25.7 14h0m30.1 5.6h0m-2.4 5.5h0m-18.4-12.1h0m-1.6-.4h0m-1.7-4.1h0m-7.3 12.7h0m24.7-2.4h0m-28.5-4.8h0m29.2-8.7h0m-13.1 18.7h0m-19.7-18.5h0m9.6-6.6h0m28.5 18.8h0m-24.7 6.2h0m-6.1-31.6h0m21.9 19.8h0m-19.1-12.7h0m10.4 25.3h0m-10.1-.3h0m-4.5-12.3h0m31.5-11.1h0m-6.3 21.9h0m-18.1-23.2h0m12.3 21.2h0m-17.5 4.7h0m30.9-.6h0m-9.5-5h0m-24.1-1.4h0m15.1-10.7h0m-5.8 17.7h0m4.5-23.8h0m-12.9 7.6h0m23.5-10.2h0m-16 20.2h0m-4.1-21.4h0m-4.3-8h0m20.7 30.3h0m7.5-10.4h0m-4.6 14.4h0m-17.4-26.4h0m-4.5 24.8h0m23.6 .1h0m.6-9.6h0m-7.1 12.5h0m-3.4-1h0m13.4 .1h0m-.4-27.4h0m-7.7 16.9h0m-13.2 4.3h0m-2.8-17.3h0m-2.4-.8h0m3.5 14.9h0m12.6 7.3h0m-19 2.2h0m-1.3-26.3h0m34 1.8h0m1 22.2h0m-8.4-27h0m-17.2 29.5h0m17.5-34.7h0m1.1 16.4h0m2.7 16.4h0m-17.7-9.8h0m24.5-22.9h0m-20.6 31.6h0m2.3-9.1h0m-2.8-1.7h0m5.7-11.5h0m-4.5 22.6h0m-21.1-32.4h0m13.4 21.6h0m8.6 13.6h0m14.9-30.8h0m-28.4 20.3h0m1.8-16.9h0m-1.4 9.1h0m2.6-10.9h0m15.8 22.6h0m-12.5-21.4h0m24.5 14.9h0m-17.5-4.4h0m-2.7-10.5h0m-3.6 1.2h0m-1.1-2.6h0m20.3-4.1h0m-27.4 28.3h0m-2.7-19.8h0m2.9 9.8h0m21.5 2.2h0m-14.6 13.2h0m19.5-4.3h0m-23-17h0m-8.2 3.2h0m25.8 17.9h0m-14-11.8h0m9.5 7.9h0m-13.5-27.4h0m15.3 30.6h0m-16.9 .4h0m-5.9 .3h0m4.7-22.7h0m4.5-8.5h0m17.7 24.4h0m-24.8-15.6h0m.6 9.9h0m1.1-10.8h0m23-9.2h0m3.7 26.4h0m-18.6 5.9h0m-13.5-34.2h0m11.2 13.4h0m20.6 12.2h0m-1.2-10.8h0m8.2-2.9h0m-20.2 15.4h0m-10.5-11.2h0m28.5 18.4h0m-26.9-34.4h0m22.3 30.4h0m-27.1 3.3h0m7.9-2.7h0m-7.9 3.6h0m5.4-17h0m-4.5 16.3h0m12.5-27.4h0m21.1 12.4h0m-33.9-.9h0m18.7 6.4h0m-12-12.5h0m1.2 22.9h0m-12.7-16.9h0m6.7 10.8h0m29.3-4.6h0m-26.3 10.2h0m28.3 .5h0m-28.5-1.8h0m19.2-25.6h0m2.3 10.9h0m-6.6 16.1h0m13.8-9.9h0m-9.3 9.4h0m-4.2-11h0m0 9.8h0m5.7-4.4h0m-15.6-27.8h0m-9.6 18.9h0m16.5-8.7h0m-7.6 21.9h0m-4.4 1.5h0m29.3 .6h0m-22-5.3h0m-18.3 3.9h0m40.3-.1h0m-10.9-5.5h0m2 1.5h0m8.2 .1h0m-28.9-11.2h0m-7 11.8h0m23.9 .5h0m-3.4-27.2h0m-15.3-.4h0m15.3 14.6h0m-15 12.2h0m-9.6-.6h0m38.1-15h0m.1 18h0m-11.2-14.6h0m-6.7 16.3h0m7.6-.5h0m-6.1-12.6h0m-1.3 9.2h0m15.5-16.4h0m-8.1-11h0m-17.4 13.5h0m11.3 10.2h0m-21.4 7.8h0m13.8-26.7h0m17.8 20.2h0m-23.1-13.8h0m15 5.8h0m14.7 4.8h0m-12.6 5h0m-21.5-27.2h0m11.8 19h0m24.5 3h0m-33.8-9.4h0m29.1-13h0m-3 32.4h0m-32.4-11.4h0m40.1-15.7h0m-19.9-2.6h0m-.9 30.2h0m4.3-13.5h0m16-5.9h0m-10.2 5.1h0m7.8-1h0m-3.5 12.7h0m3.8 .6h0m-24.8-4h0m12.7-7h0m14.9-1.3h0m-28.3 9.9h0m21.7-3.2h0m-19.1 7h0m-12.1-9.1h0m23.6 6h0m-11.8-10.7h0m11.3 4.2h0m-15-15h0m23.6 24.2h0m-17.3-.1h0m20.7-.3h0m-26.8-26.9h0m5 10.3h0m-11.1 17.2h0m2.3-20.5h0m11.2 16.2h0m-.8-7.4h0m-6.9-15.8h0m-5.7 20.6h0m19.9 5.1h0m-10.6-3.2h0m-7 5.6h0m31.7-16.7h0m-23-1h0m-3.4-12.2h0m-11.9 .8h0m37.8 16.2h0m-19 5.1h0m-16.4-.3h0m12.7-4h0m-9.2-12.9h0m30.4 25.1h0m.2-1.3h0m-16.2-13.5h0m-2.9 12.7h0m-18.8-14.9h0m25-6.1h0m-5.9-4h0m13-3.1h0m3.3 23.6h0m-18.8 1h0m1.7 2.3h0m4.3 3.6h0m-20.1-2.8h0m20.6-18h0m-15.7 7.1h0m-7-15.1h0m15.9 27.8h0m0-3.3h0m22.8-27.2h0m-30.8 27.9h0m3.9-3.4h0m16.2 6h0m-11.7 0h0m17.7-.2h0m-29.8-5.7h0m4-14.9h0m6.7 16.6h0m4.3 .1h0m-8.4 3.2h0m6.9-14.3h0m6.9 15.1h0m.9-18.2h0m-4.1 9.6h0m15.2 3.1h0m-7.5-4.4h0m-11.6-9.5h0m-2 18.4h0m-1-19.7h0m3.1 19.9h0m21.2-19.9h0m-32.2-2.2h0m20.4 19.8h0m-14-1h0m27.1-23.3h0m-9.1 0h0m-22.6 14.4h0m2.3 6.3h0m-3.1-7.5h0m7.3-14.9h0m24 17.7h0m-10.4-7.6h0m9.3 19.9h0m-37.6-11h0m40.2 .7h0m-17.4 1.8h0m16.9-1.2h0m-19-14.3h0m-13.6 20.4h0m29.9-1.4h0m-5.5-1.1h0m-5-23.5h0m6.3 17.7h0m-6.2-20.1h0m7 11h0m-19.7 21.1h0" />
<rect x="23.4" y="602" width="44" height="1.4" fill="#111" />
<rect x="73.4" y="602" width="44" height="1.4" fill="#111" />
<line x1="45.4" y1="602.7" x2="45.4" y2="544.42" stroke="#c81010" stroke-width="0.45" />
<line x1="95.4" y1="602.7" x2="95.4" y2="533.26" stroke="#444" stroke-width="0.7" />
<path d="M24.4 603.5 Q41.4 601.2 45.4 595.26 Q49.4 601.2 66.4 603.5 Z" fill="#e11d1d"/>
<path d="M44.2 554.34 L45.4 548.76 L46.6 554.34 Z" fill="#e11d1d"/>
<line x1="153.7" y1="531" x2="153.7" y2="607.9" stroke="#8a8a8a" stroke-width="0.9" />
<line x1="153.3" y1="607.5" x2="266.4" y2="607.5" stroke="#8a8a8a" stroke-width="0.9" />
<line x1="151.9" y1="604" x2="153.7" y2="604" stroke="#8a8a8a" stroke-width="0.7" />
<text x="151.3" y="606.3" font-size="6.4" text-anchor="end" fill="#333">0</text>
<line x1="151.9" y1="583.1" x2="153.7" y2="583.1" stroke="#8a8a8a" stroke-width="0.7" />
<text x="151.3" y="585.4" font-size="6.4" text-anchor="end" fill="#333">2</text>
<line x1="151.9" y1="562.2" x2="153.7" y2="562.2" stroke="#8a8a8a" stroke-width="0.7" />
<text x="151.3" y="564.5" font-size="6.4" text-anchor="end" fill="#333">4</text>
<line x1="151.9" y1="541.3" x2="153.7" y2="541.3" stroke="#8a8a8a" stroke-width="0.7" />
<text x="151.3" y="543.6" font-size="6.4" text-anchor="end" fill="#333">6</text>
<line x1="185" y1="607.5" x2="185" y2="609.3" stroke="#8a8a8a" stroke-width="0.7" />
<line x1="238.3" y1="607.5" x2="238.3" y2="609.3" stroke="#8a8a8a" stroke-width="0.7" />
<text x="185" y="618.8" font-size="8.2" text-anchor="middle" fill="#222">T<tspan font-size="4.8" dy="2.9">CyEM</tspan></text>
<text x="238.3" y="618.8" font-size="8.2" text-anchor="middle" fill="#222">T<tspan font-size="4.8" dy="2.9">CM</tspan></text>
<text x="211.4" y="513" font-size="8.2" text-anchor="middle" font-style="italic" fill="#111">CCL4</text>
<text x="211.65" y="521.4" font-size="5" text-anchor="middle" fill="#222">***</text>
<path d="M185 526 V523.6 H238.3 V526" fill="none" stroke="#444" stroke-width="0.7"/>
<text x="139.5" y="567" font-size="7.6" text-anchor="middle" fill="#222" transform="rotate(-90 139.5 567)">Expresssion Level</text>
<rect x="162.4" y="545.48" width="44.4" height="55.38" fill="#0a0a0a" />
<rect x="162.4" y="545.48" width="44.4" height="55.38" filter="url(#sf13)"/>
<rect x="170.4" y="545.48" width="28.4" height="55.38" filter="url(#sf14)"/>
<path fill="none" stroke="#111" stroke-width="1.1" stroke-linecap="round" d="M183.2 538.9h0m-8.9 3.3h0m21.9-4h0m-21.2 7.2h0m7.1-2.3h0m15.4-4.5h0m-28.7-.4h0m7.7 6.6h0m-10-6.2h0m.1-2.2h0m10.9 8.4h0m-2.5-9.1h0m-5.2 9h0m-6.3-4.4h0m40.6 4.8h0m-22.8-4.6h0m20.8-1.1h0m-3 6h0m3.7 0h0m1.7-4h0m-25.4-6.2h0m-6.9 10.1h0m25.4-5.1h0m-28.4-5.1h0m14.4 10.3h0m14.6-3.8h0m-30 1.5h0m37.6-2.8h0m-12.7-2.2h0m-9 6.8h0m2.7 .3h0m12-7.7h0m-23.4 5.9h0m18.3-7.6h0m-1.6 6.1h0m3.7 3.5h0m.9-3.8h0m-12.3 3.4h0m13.2-.1h0m-28.3-.1h0m13.7 0h0m-4.2-.3h0m-1.5-7.8h0m-9 8.8h0m-5.4-9.1h0m2.4 8.7h0m29.5-4h0m-20.3-2.2h0m31.1 4.8h0m-16.5-4.3h0m-11.7 6h0m-10.6 .1h0m1.5-1.8h0m24.2-1h0m-5 2.5h0m-15.1 .3h0m19.3-.2h0m10.3-3.5h0m-9.6-.2h0m8.2-5.6h0m-10.7 1.4h0m10.2 3.8h0m-28.3-1.4h0m32.9 1.9h0m-38.4-2.7h0m35.3 1.5h0m-19.4 3h0m22.9 1.4h0m-33.7-5.4h0m17.4 3.7h0m-16.6-2.1h0m17.4 1.1h0m-7.3-4.6h0m-14.1-.7h0m14.3 1h0m1.3 2.6h0m-14.7-1.2h0m19.7 2.7h0m-4.3 3.2h0m-20.5-6.2h0m31.1-2.1h0m10.2 8.5h0m-36.9-.2h0m35.2-8.3h0m-27 5.6h0m-2.1 1.6h0m4.1-5.9h0m22.7 5.5h0m-8.9-3.3h0m-12.8 .9h0m-10.2-5.5h0m33.9 7.7h0m-9.8 2h0m4-2.8h0m-30.9-6.7h0m34.1 9h0m-37-4h0m.8 4.2h0m30-.8h0m1.1 .7h0m-4.3-2.1h0m6-3.5h0m4.8-2.3h0m3.1 3h0m-18.9 2.6h0m11.6 2.5h0m-18.3-.5h0m-14.2-2.8h0m11.9-2.6h0m23.9-2.1h0m-37.6 8h0m38.1-4.3h0m-23.6-3h0m-11.1 .3h0m.6 .8h0m9.7 5.1h0m22-3h0m-29.7 4h0m4.2 .2h0m31.5-2.4h0m-31.9-1h0m19.6 1.1h0m-8.2-4.3h0m.1 6.2h0m16.9-6.7h0m-23 6.9h0m26.1 .2h0m-6.1 .1h0m6.7-4.8h0m-16.4 4.7h0m1.7-.8h0m-27.7-.7h0m1.7 1.5h0m2.8-3.2h0m22.5 2.6h0m-24-.2h0m15.9-6.9h0m-2.2 4.8h0m1.4-2.7h0m16.9 0h0m-11.9 5.6h0m19.2-7.5h0m-41.4 6.4h0m20-.7h0m-17.5 .8h0m-2.3-5h0m2.8 3h0m22.2-7.1h0m-9.4 5.6h0m16.5 4.1h0m-22.3 .3h0m13.9-7.7h0m-16.5 6h0m29.6 1.1h0m-20.5-.8h0m18.6-7.4h0m-27.1 7.8h0m-3.2 .9h0m32 0h0m-15.6-4.1h0m-7.5 .7h0m-3.3 3.6h0m9.4-.1h0m17.9-5.6h0m-13.2 .3h0m1 1.8h0m11.6-6.1h0m-20.4 9.5h0m-3.6-6.3h0m22.5-3.9h0m1.8 10.5h0m-38.8-3h0m12.6-2.1h0m5.1-2.9h0m7.8 .2h0m10.1 4.3h0m-9.1-5.4h0m14.8 8.7h0m-17.5-.9h0m-22.4-2.4h0m2.8-6.6h0m29.5 1.6h0m3.5 3.3h0m-34.2 .7h0m21.5 2.1h0m9.9-2h0m-1.1-5h0m10.2 2.8h0m-43.6 6.2h0m9.1-.9h0m-8-1.7h0m9.8-.7h0m5.6 2.7h0m8.1-4.2h0m-14.7 0h0m15.6 4h0m11.5-.1h0m-13.8 1.3h0m-22.8-1.9h0m17.4-.4h0m-10.6-6.7h0m2.5 7.1h0m19-2.1h0m9.5-1.3h0m-16.7 2.9h0m10.2-6.4h0m-19.5 6.8h0m-2.3-5h0m14.3 5.3h0m16.9-2.8h0m-38.9 3.5h0m23.2-3.8h0m-3.7 4.8h0m2.6-2.8h0m-1.6 1.5h0m2.9-7h0m-15.3 5h0m-.2 1.4h0m25.2 .7h0m0-3.9h0m-24.1 .4h0m1.8-.2h0m4.3 2.4h0m-14.8-3.5h0m28.4 3.4h0m-3.3-7.5h0m-5.8 9.1h0m-8.4-.1h0m1.3-4.2h0m23.7-3.1h0m-9.4 7.9h0m-28.4 .4h0m28.1-8.2h0m-26.2 7h0m30.6-5.3h0m-27.7-1h0m36.8 7.1h0m-12.6-2.4h0m12.5-3.2h0m.2 5.3h0m-7.1-.5h0m-3.4 1.2h0m3.5-.8h0m0-2.5h0m-15.8 .9h0m-16.8 1.7h0m37.8 0h0m-10.5 .8h0m-3.1-1.2h0m-6.1 .6h0m22.8-1.9h0m-.2-4.9h0m-40 6.6h0m36-1.5h0m-20.4-5h0m-5.4 3.9h0m-8.6-3.4h0m21.5 6h0m-26-8.7h0m40.2 9.3h0m-37.9-3h0m4.2-.4h0m8.5-1.9h0m-3.7-3.6h0m5.6 4.8h0m.7 .9h0m-3.5-2.5h0m2.4 5.8h0m-3.4 .1h0m19-7.3h0m-14.4 5.9h0m-10.1-.9h0m33.1-2.6h0m1 3.1h0m-23.9-6.1h0m-14.7-1.8h0m3.1 1.5h0m12.3 7.1h0m-6.4 1h0m-4.4 0h0m9.8-7.1h0m11 6h0m-24.2 .5h0m33.2 .5h0m1.9 0h0m-1.4-8.8h0m-32.5 9h0m26.6-2.9h0m-30.3 2.7h0m2.6 .2h0m30.1-9.9h0m-2.1 3.3h0m-25.7 5.3h0m6.1 .9h0m-11.3-.1h0m32-.8h0m-16.7-2.3h0m15.6 1.4h0m-31.2-1.2h0m37.5 1.5h0m-14.6 .3h0m-24.6 1.5h0m9.5-5.9h0m5.3 5.6h0m28.8-8.5h0m-29.2 3h0m12.4 .2h0m-2.8 3.6h0m-17-2h0m8.9 4h0m-13.1-9.6h0m1.5 2.5h0m23.1-3h0m-18.5 6h0m-.5-3.3h0m25.2 7.4h0m-24.1 0h0m10.6-3.9h0m-12.4 3.9h0m20.4-5.5h0m-11.2 3.3h0m26.5 .2h0m-.5-1.7h0m-13.5-6.2h0m6.9 4h0m-30 4h0m5-.8h0m.3-1.8h0m18.1 3.2h0m6.7 1.1h0m-5.1-4.4h0m-14 1h0m17.3 3.2h0m-.6-1.8h0m-26.1-2.4h0m28.8-3h0m4.2 7.1h0m-11.6-8.3h0m-20.8 8.4h0m28.1-1.2h0m-16 .6h0m-15.7-4.8h0m6.7 4.2h0m15.8 1.1h0m13.9-4.2h0m-28.3-5.1h0m15.6 9.8h0m-26.5-1.6h0m14.3-3.9h0m-10.9-2.1h0m-4.8 2.1h0m24.8 2.2h0m-8.4-3.9h0m-2.1-1.4h0m29.1 .4h0m-5.1 7.9h0m-22.6-6.7h0m21.4 6.1h0m-32.5-.5h0m-2.7-5.4h0m26.8 6.1h0m11-8h0m-37 4.1h0m20.2-4.6h0m-10.5 4.9h0m-5.6 3.5h0m14.2-6.6h0m22.3 6h0m-29-5h0m17.8-2.2h0m-10.2 7.4h0m13.5 .6h0m-24.6-.1h0m-1-2.7h0m22.5 3.4h0m-16.5-6.3h0m24.2 5.8h0m-7.8-.1h0m-17.1-7.2h0m-.2-.9h0m-6.2 64h0m-4.5 2.1h0m20.2-2h0m8.4-.2h0m-28.3 .5h0m30.5 1h0m-8.8-1.4h0m9.6 2h0m-14.5-2.2h0m6.9-.1h0m-5 2.4h0m11.6-2.6h0m-24.7 2.1h0m27-.7h0m-14.7 .3h0m-11.2 .6h0m12.3-2.5h0m-12.6 2.8h0m24.4-3.1h0m-5.7 2.6h0m0-.8h0m-17.3 .7h0m-8.1 .6h0m7.9-3.1h0m7.1 .7h0m-11.6 1.5h0m8.3 .2h0m7-.5h0m20.7-.5h0m-41.5-.9h0m17.6 1.7h0m.4-.1h0m18-1.7h0m-2.7-.5h0m-18.1 1.7h0m-5.4-1.2h0m16.5 .2h0m5.3-.1h0m-6.8 1.5h0m-4.2-.8h0m6.9 1.8h0m5.9-1.2h0m-3.5-1.5h0m-12.6 .7h0m-1.7 .4h0m-16.8-.9h0m26.4 2.2h0m10.8-2.5h0m-23.6 .3h0m-11.1 1.5h0m26.3 .4h0m-1.7-.2h0m-8.4 .4h0m-4.7-2.8h0m9.7 .7h0m11.9 2.7h0m-7.2-.4h0m8.2-1.1h0m.8 .7h0m-34-1.7h0m3.1-.9h0m24 3.1h0m1.5-1.7h0m3.8 1.7h0m-.2-3.2h0m.8 2.7h0m-27.6-2.5h0m11.6 .9h0m-1.2 .8h0m.6-1.3h0m16.6 1.6h0m-32.9-.7h0m6.8-.5h0m-1.7 2.5h0m31.2-.2h0m-21.4-2.7h0m13.7 1.1h0m9.2-1.7h0m-33.1 1h0m34.4-.7h0m-41.2 2.7h0m17.2-.5h0m-3.9-1.2h0m24.8-.9h0m-5.2 2.4h0m6.4-2.1h0m-28.5 2.4h0m28.2-1.8h0m-9.4 .3h0m-20.6-1.1h0m25.9 .3h0m-1.4 .3h0m7.8-.6h0m-31.8 1.2h0m13.2 1.6h0m-18.1-1.5h0m-.4-.6h0m19.1-1.1h0m-1.9 1.1h0m9.7 .7h0m1.5-1.6h0m-4.5 2.3h0m-13.3 .4h0m-7.8-2.9h0m28.9 2.3h0m-29 1.1h0m24.1-1.6h0m-19.5-1h0m12.1 0h0m15.9 .5h0m-24 0h0m20.3-.5h0m-11 .6h0m10.3-1.3h0m-16.8 1.3h0m-1.5 .9h0m16.2-.7h0m5.1-.3h0m-37.8-.7h0m39-.3h0m-42 1.1h0m37.1-1h0m-34.1-.1h0m16.5 1.2h0m18.8-.5h0m-.5-.7h0m-14 2.2h0m7.5-2.3h0m-21.6 2.7h0m-1.8 .4h0m27.8-.3h0m-25.7-1h0m-7.5-.9h0m6-.9h0m18.5 2.3h0m15.5-.1h0m-2.5 .1h0m-34.8-1.1h0m34 .6h0m-36.1-.2h0m89.4-6.1h0m1.2-10.1h0m-35.3 7h0m2.6-4.6h0m-6.3 1.6h0m-.9-9.1h0m37.2 6.8h0m-26 9.9h0m16.4-2.3h0m11 .6h0m-22.7-2.1h0m16.4-3h0m-30.7-3.8h0m15.7 10.1h0m25.7-4.9h0m-13.4-12h0m11.1 20.8h0m-37.5 .3h0m22.6-4.6h0m12.2-12.7h0m-9.7 7.4h0m-20.9-8.2h0m8.4 13h0m11.8-11.5h0m12.5-.8h0m-.9-1.6h0m-10 18.8h0m8-10.2h0m-10.3-2.2h0m10.8-8.2h0m-14.6 8h0m-.4 2.9h0m-21.2 9.7h0m34-13.2h0m6.6 9.8h0m-9-3.6h0m-6 .2h0m-25-11.9h0m28 5.4h0m-13.8 11h0m-8.1-12.8h0m1.8 2.7h0m13 12.1h0m16.6-13.9h0m2.7-6.4h0m-1.7 2.5h0m-9.3 14.8h0m-23.3-2.7h0m-5-8.7h0m31.4 5.8h0m-21.9-11.9h0m4.4 6.6h0m7.8 10.6h0m13.2-9.8h0m-12.2 8h0m-3.2-8h0m-20.3 7.6h0m-1-3.5h0m24.1 7.8h0m2.9-5.3h0m-15.9-7.9h0m-11.4 12.4h0m20.3-15.2h0m1.1 11.8h0m-8.3-15.2h0m13.4 20.2h0m.7-19.1h0m-23.2 12.7h0m-2.9 6.7h0m19.4-14.9h0m-2.7 3h0m14.3 9h0m1.3-15.8h0m-23.3 3.4h0m9.2 12h0m13.9-6.9h0m-27.7-3.1h0m27.3 4.4h0m-15 4.1h0m-15.8-11.3h0m3.7 3.5h0m1-6.8h0m-.6 13.6h0m-5.3-1.3h0m16.6-10.4h0m-16.9-1h0m12.4 2.3h0m3.4-.7h0m-.7-2.1h0m-13.3 9.1h0m36-1h0m-24.6-6.6h0m-1.1 12.8h0m-.6-13.7h0m-1.7 1.1h0m27.5 5.6h0m-13.2 6.8h0m-.6-11.7h0m-10.1 9.6h0m-14.2 6.7h0m41.8-6.7h0m-41.8 7.9h0m16.9-15.5h0m-12-3.3h0m6.1-1h0m-2.8 10.5h0m5 8.7h0m-6.2-9.4h0m6.6 6.8h0m-7.9-9h0m29.3-3.4h0m4.9-3h0m-2.1 8.3h0m-9.3 7.6h0m-5.7-15.6h0m-12.1 .8h0m19.5 15.2h0m-25.5-5.9h0m4.6 4.7h0m14.7-12.8h0m15.4-4.1h0m-12.8 .9h0m-14.3 .8h0m-8.6-2.1h0m-1.1-.9h0m32.6 2.2h0m5.6 4.9h0m-7.3 2.9h0m-1.1-4.4h0m-28.7-4.5h0m28.4 6h0m2.8 12h0m-22.7-4.3h0m-12.4 .4h0m2.9-8.9h0m-.1 11.5h0m29.7-15.9h0m-14.1 5.2h0m-12.8 7.6h0m26-5.7h0m8.9 .2h0m-8.2 6.9h0m-.1 .9h0m-13.7-2h0m-.5 5.4h0m21.7 1.1h0m-9.8-6.5h0m-23.1-2.8h0m4.2-5.9h0m-2.5 4.2h0m12.2-.4h0m9.9-4.5h0m-12.8 .5h0m18.8-6.1h0m-25.5 7h0m26.9 8.5h0m-17.3-14.3h0m-16.6 1.1h0m15.2 4.9h0m15.4 2.3h0m-10.2-3.6h0m12.5 1.5h0m-8.8 13.9h0m-21.1-19.8h0m.3 10.5h0m30.3-12h0m-37.5 4.3h0m3.1-2.1h0m37.6 12.1h0m-18.4 6.6h0m-10.2-5.3h0m-5.4-6.9h0m-7.8 12h0m3.4-11.7h0m13.2-5h0m15.1 10.2h0m-1.9-.5h0m2.5 .3h0m-7.3-2.9h0m-24.7 3.6h0m8.4 4.9h0m30.4-.7h0m-33.9-6.1h0m18.7-11h0m-13.2 5.6h0m23.6-5.4h0m-29.1 17.9h0m-.7 1.7h0m.7-12h0m21-6.4h0m8 2.4h0m7.4-3.2h0m-31.8 9.8h0m19-.7h0m7.6 .1h0m-33 2.8h0m40.4 2.3h0m-14.6-5.7h0m-1.8-10h0m-13 13.1h0m22.4-10.5h0m.8 15.9h0m-1.6-2.2h0m-24.2-11.3h0m17.3 6.1h0m-26-3.4h0m7-6.4h0m30.8 12.6h0m.7-1h0m-28.5-1.4h0m6.1-3.3h0m9.9 7.4h0m4.6-4.5h0m3.6-.8h0m-9.7 9.6h0m-17.1-16.3h0m12.4 5.6h0m-13.9-10h0m1.2 12.3h0m27.9 .3h0m-29.7-3.3h0m33.2 8.3h0m-8-7.2h0m-6.8-2.2h0m14.4-4.1h0m-.9 4.6h0m-.5-3.1h0m-19.5 3.6h0m18.9 3.5h0m-6.4 3.9h0m-16.6-7.5h0m-14.1-2.9h0m41.6 9h0m-10.7-.1h0m-30 2h0m.1-4.6h0m25.8-8.2h0m-11.2 17h0m4.2-13.9h0m-1.1-.1h0m3 .9h0m11.8 11.5h0m2.5 1h0m-13-16.4h0m1.8 17.1h0m-9.4-15.9h0m19.4 1.6h0m-2.5 7.6h0m-6.2-6h0m15.2-3.1h0m-2.5 4.7h0m-22.7 3.7h0m-11-13.6h0m12.9 18.9h0m4.6-11.2h0m-20.9-.5h0m26.7-.9h0m-19.2-5.2h0m9.7 7.2h0m4.3 1.5h0m9.9 2.9h0m-4.8 7.7h0m-9.7-.5h0m.2-16.6h0m22.5 .3h0m-24.3 .9h0m7.1 12h0m-13.9-6.6h0m15.8 5.1h0m9.2 .3h0m-25.6-.2h0m-2.2 2.8h0m.6-12.1h0m-3.3 14.3h0m7.4-5.7h0m11.8-13.1h0m16.7 4.3h0m-34.4-.7h0m7.6 5.7h0m8.7 .3h0m18.6-1.7h0m-17.8 2.4h0m-19.2-1.4h0m29.5-10.2h0m-11.1 4.9h0m13.6 2.2h0m-8-7.8h0m-12 3.3h0m25.2 3.9h0m-13 14h0m-25.9-7.9h0m33.7-1h0m-30.4-10.3h0m-1.9 9h0m23.2 9.5h0m14.8-18.4h0m-12.6 15.6h0m-23.8-12.6h0m22.7-3.2h0m-12.2 16.2h0m6.4-1.5h0m-19.6-9.7h0m15.2 4.2h0m-6.1 9h0m-4.5-1.1h0m9.6-6.2h0m5.1-8h0m1 6.6h0m-16.3-1.5h0m4.8-2h0m10.7 12.3h0m-.2-11.3h0m-23.1-7.6h0m4.3 12.2h0m19-8.7h0m10.4 4.1h0m7.7 3.6h0m-15.6 .2h0m-24.8-2.9h0m34.7-7.5h0m6.9 7.3h0m-34.9-2.1h0m15.1 3.1h0m-19.7 3.6h0m32-8.2h0m-35.2 14.3h0m35.5-14h0m-13.2 14.4h0m-22.8-15.8h0m26.3-.2h0m5.7-4.2h0m-19.8 9.3h0m22.2-6.8h0m-20.6 6.5h0m10.3-1.4h0m2.1-.7h0m4.2-7.3h0m-28.3 12.4h0m14.2 7h0m12.1 1h0m-20.2-3.8h0m34.6 1.9h0m.6-12.9h0m-27.6-2.7h0m13.4 8.2h0m-24.9 10.4h0m27.7-13h0m-18.5 10.4h0m-12.1-14h0m4.2-1.7h0m-1.2 6.1h0m-.6 2.9h0m24.5-8.6h0m-11.3 10.7h0m25.2-5.6h0m-29.8-1.6h0m-11.4 4.5h0m31.1-8h0m-30.5 5.6h0m16.3 12.5h0m-3.9-3.1h0m17.9 2.7h0m4.2-15h0m-2.9 11.8h0m-5.5-18.2h0m-20.6 1.2h0m.6 8.1h0m-8.1 2.2h0m10.8-5.9h0m-3.3 10.1h0m14-11.7h0m18.7 4.4h0m-22.7 10.4h0m19-8.6h0m-26.8 7.5h0m8.4-11.3h0m.4-3.9h0m-10.9 4.6h0m14.2-5.2h0m-2.7 18.9h0m-3.9-14.2h0m10.3 15h0m-.8-11.5h0m-1.6-6.9h0m-1.5 13.1h0m1.4-12.3h0m16.9 13.3h0m-8-3.6h0m-11.9 5.6h0m-5.1-5.3h0m9.1-4.9h0m-16.4 1.5h0m12.8-6.6h0m2.2 15.7h0m12.2 1.9h0m5.8-2.5h0m-36.6-6h0m16-9.5h0m12.7-.5h0m-6.9 1.5h0m-22.7 10.7h0m29.6-7.4h0m-31.9 13.8h0m6.5-4h0m28.8 1.6h0m-3.1-18.9h0m-28.5 13.3h0m30 .6h0m.7 5.1h0m-24.7-5.9h0m32.8 5.4h0m-40 2.9h0m27.5-1.8h0m8-3.6h0m-28.6 4h0m6.9 1h0m-15.1-13.8h0m32.9 11.9h0m-13.7-3.8h0m-11.4-5.3h0m5.8-3.6h0m1.4 14.6h0m-12.1-10.8h0m31.8 4.6h0m-4.5 6.3h0m7.1-13.7h0m-38.6 2.1h0m19.8 8.2h0m15-7.3h0m7.4-.5h0m-1.8 1.3h0m-25.4 2.8h0m-15.5 3.3h0m17.6-13.4h0m18.5 .6h0m-13.3 2h0m-21.1 12.3h0m18.8-11.1h0m-14.7 9.3h0m25.1-.4h0m-15-6h0m-14 10.3h0m5.3-5.3h0m.7-3.5h0m9-7.7h0m22.6 8.4h0m-1.6 .6h0m-.4 4.9h0m-17.7-18.3h0m-2.1 6.8h0m-6.3-2.4h0m12.3-4.7h0m-4 6.1h0m8.7 2h0m-1.8 4.1h0m-20.1 4h0m30.7-15.9h0m-11.1 .6h0m10.2 18.7h0m-33.7-7.3h0m24.7 3h0m13.1-12.6h0m-13.7 5.1h0m-22.5 11.5h0m31.8-13.6h0m-1.6 7.9h0m-1.2-7.2h0m-8.9 7.3h0m8.4-12h0m3.3 14.1h0m-26.3 1.9h0m-5.4-14h0m.6 3.3h0m19.6-.2h0m-.7 15h0m-21.1-13.6h0m.3 6.9h0m13.9-12.3h0m25.4 17.8h0m-14.4-18.5h0m-21.8 10.1h0m21.8-10.3h0m7.3 14.3h0m-32.8-7.7h0m30.6-7.9h0m9.6 4.5h0m-23 5.6h0m-4.8 5.9h0m24.9-14.3h0m-.9 5.7h0m-32.1 9.5h0m-6.6-13.8h0m39.4 15h0m-11.4-1.9h0m-.7-15.8h0m-11.6 14.3h0m-5.8-7.8h0m14.1-.4h0m-12.4 3h0m6.4 2.7h0m-13-7.1h0m19 14.7h0m18.3-7.8h0m-41.9 4.4h0m2-6h0m37.3 7.1h0m2.6-.2h0m-41.8-17.8h0m36.2 20.6h0m-15-17.6h0m-16.8 14.4h0m6.5-7.1h0m25.9 5.5h0m-21.7-9.7h0m12.7 11.2h0m-3.1-8.4h0m-20.9 5.4h0m6.7 1.2h0m-6.7-6.9h0m17.4-4.8h0m-9.5 0h0m-10.9 .8h0m14.1 3.5h0m15.8 10.5h0m-30.2-8.5h0m32.4 6.7h0m-20.2-13.7h0m16.4 2.6h0m12.2 1.1h0m-24.8 14.8h0m23-21h0m-35.4 19h0m.3-1.3h0m4.7-17.6h0m-1.1 7.5h0m24.6 8.6h0m-1.4-11.4h0m8.1-5h0m1.7 6.2h0m-11.7 10.8h0m-1-5.3h0m-15.9 9.1h0m13.2-21h0m-16.7 8.9h0m25.1 .6h0m6.1-6.2h0m-16.9 17.7h0m-10.3-19h0m3.8 16.9h0m9.3-5.8h0m-2 8.3h0m11-8.6h0m-31.2-4.9h0m34.1 9.8h0m-38.6-8.5h0m4.1 5.3h0m16.1-3.9h0m16.6-3.4h0m2.5-2.7h0m-20.4-1.5h0m-14.1 7.9h0m7.4-2.9h0m-7.4-2.6h0m35 14.3h0m-8.9-1.6h0m-19.5-13.9h0m2.4 4.1h0m-2.8 2.7h0m27.9-10.5h0m-13.8 16.6h0m3.9 1.7h0m9.4 1.1h0m-37 1.4h0m32.5-20.8h0m9.5 3.4h0m-36-1.1h0m12.3 9.9h0m-11 5.7h0m15.5-12.8h0m17.2-.1h0m-10 5h0m-23 9.5h0m.7-18.3h0m3.2 13.4h0m10-6.2h0m-3.9 9.6h0m25.3-9.8h0m-37.9 4.3h0m-.5 3.4h0m9.4-6.3h0m19.1 6.7h0m-18-16.9h0m-6.7 16h0m34.1-3.2h0m-26.5-1.2h0m-7.2-7.8h0m18.8 17.1h0m-4.3-13.9h0m4.3-6.9h0m-14.5 21.3h0m27.4-13.6h0m1.7 11.4h0m-19.1-5.7h0m7.3 7.3h0m-22.6-1.6h0m15.4-8.6h0m12.6 2.5h0m3.2-5.5h0m4 13.3h0m-12.4-3h0m11.7 3.7h0m-8-20.6h0m-32.4 19.7h0m14.2-8.2h0m2.1 7h0m-13.5-16.9h0m10.2 8h0m-5.3-10.4h0m29.9 10.6h0m-34.9 8h0m28.2-13.5h0m.7 9.2h0m-24.4-.4h0m30.9-1.1h0m-8.9-9.2h0m-27.6 10h0m33 3.3h0m-16.4-12.1h0m-13.8 1.8h0m2.5 7.3h0m7.3-11.3h0m24.4 .5h0m-21.1 9.4h0m21.3 .9h0m-22.5-12.8h0m-19.1 9.2h0m39 .8h0m-9.6-5.5h0m8.3 5.2h0m-36.8 3.5h0m27 4.2h0m3.8-16.6h0m7.7 17.8h0m-3.1-11.4h0m-6.5 4h0m-8 6.3h0m12.3-10.2h0m-21.6-3.5h0m-9.9 4.4h0m31.4 9.9h0m-4-1.5h0m-2.7-14.2h0m-13.7 4.6h0m16.3-4.4h0m12.4 15.8h0m-14.5 1.6h0m-11.6-14.8h0m25.2 .8h0m1.7 14.3h0m-36.9 0h0m18.3-19.6h0m-20.5 18h0m15.7-17.6h0m16.1 8.2h0m-23 8.1h0m6.5-10.4h0m-12-6.5h0m34.3 4.4h0m-3.4-2.3h0m-32.4 11.4h0m16.9-2.3h0m5.1 3.6h0m-26.8-8.7h0m10.1 11.6h0m.5-8h0m14.2-1.3h0m2.8 1.7h0m-4 8.1h0m14.6 .9h0m-10.4-6h0m-27.7-7.5h0m32.5 1.1h0m-10.8 1.4h0m-15.9 7.9h0m4.4 3.1h0m19-2.4h0m-3.2 1.1h0m-19-12h0m6.9 13.9h0m21.6-19.1h0m-21.5-2h0m27.4 21.6h0m-8.9-2.5h0m-12.7-2.2h0m1.6-3.8h0m14.5 5h0m-10.5 1.2h0m13.2-5.2h0m-22.3 .8h0m22-8.2h0m-.1-1.5h0m-34.6 .6h0m3.3 7.7h0m0-4.4h0m.1 6.7h0m34.5-5h0m-19.3-9h0m-7.1 9.4h0m24-6.3h0m-3.2 5.3h0m-31.6 5.1h0m13.2 5.6h0m-10.6-11.7h0m29 3.3h0m-12.1-5.3h0m3.2-2.6h0m-25.4-.8h0m19.8 7.5h0m14.1 4h0m-13.8-4.8h0m-14.4 .8h0m18.2-2.7h0m-25.1 8.6h0m20.6-8.5h0m-7.2 7.4h0m-12.7-3.6h0m36.2 9.2h0m1.2-.7h0m-14.4-9.2h0m-15.5 6.1h0m-1.6-9.9h0m20.8-4h0m-14.9 13.7h0m8.6-16.4h0m14.8 .9h0m-8.8-.5h0m-15.5-1.6h0m11.2 2.7h0m-5.8 17.9h0m-12.4-15.6h0m13.8 7h0m10.4 .8h0m5.1-6.7h0m-15.5 5.5h0m4.2-1.8h0m-5.7 10.7h0m8.6-20h0m11 11.8h0m-24.9-4h0m-3.4 8.9h0m19.2-5.8h0m13.4 8h0m-13.6-15.9h0m-4.3 8.3h0m-3.6 6h0m5.2-15.3h0m-21.4 6.7h0m1.1 1.2h0m-5.1-.1h0m8.1-2.8h0m29.2-6h0m-29.1 15.5h0m11.9-8.3h0m-17.4 3.3h0m32.9-11.3h0m-13.4 16.8h0m-10.8-16.8h0m14.7 17.6h0m17.2-11.8h0m-39.2 6.8h0m-1.8 .3h0m40.3-5.1h0m-19.5-5.8h0m-18.4 8.6h0m15.1 4.3h0m19.7-3.8h0m2.3 1.6h0m-35.9-9h0m1.5 0h0m11.8 9.7h0m7.9-12.4h0m10.3 3.1h0m-13.7-4.6h0m-.3 12.9h0m-20.6 4h0m2.3-5.5h0m30.2 9.3h0m-32.6-7.1h0m31.8 2.9h0m.3-15.3h0m-12.5 8.8h0m-9.9 5.4h0m25.4-13.6h0m4.6 18.2h0m-38.3-17.3h0m38.7 4.1h0m-24-7.1h0m-5.9 7h0m-12.5 8.6h0m23.3-12.8h0m-21.4 6.7h0m25 4.4h0m6.6-3.3h0m-20.2-9.4h0m9 15.7h0m5.5-.7h0m-4.1 4.7h0m-22.4-5.5h0m41.6 5h0m-4.1-5.9h0m-38-4.9h0m37.4 5.8h0m-21.5 2.4h0m-13.9-.6h0m18.6-14.2h0m19.4 8.5h0m-33.5 8.9h0m25.6-18.7h0m-19.1 19.6h0m9.7-19.7h0m12.2 3.1h0m-17 2.1h0m11.8 8.6h0m1.1-15.4h0m-27.9 .7h0m20.2 19.6h0m-17.8-2.4h0m25.1-5h0m3.5-2.8h0m.8 9.7h0m-21.9-7.2h0m.9 2.8h0m-9.9-5h0m15.9-2.5h0m-20.3 12.8h0m-.1-2.7h0m8.7-14.2h0m25.8 9.8h0m-30.6-10.3h0m13.3-1.8h0m4.1 14.3h0m-3.3 5.2h0m-10.6-13.3h0m11.9 10.3h0m21.1-.7h0m-23.2-13.3h0m-2.9 7.6h0m.8-9.6h0m9.7 8.9h0m16.8 7.6h0m-29.3-7.2h0m-7.5-10h0m31.3 17.9h0m1.7 1.3h0m-25.3-13.1h0m6.8-6.6h0m-11.6 19.5h0m-2.5-14h0m4.7 1.4h0m30.3 7.9h0m-37.6 .5h0m30.5-5.1h0m-4.9-7.2h0m-6.8 8.6h0m-19.9 9.1h0m29.6-13.1h0m-24-2.5h0m14.1 10.1h0m14.5 2.4h0m.6-9.3h0m1.2-3.4h0m-36.9 9.3h0m16.9-1.6h0m16.6 0h0m.8-6.8h0m-5.6 13.3h0m-7.6-17.6h0m14.5 18.7h0m-23.8-12.6h0m-11.4 11.3h0m26.5-10.4h0m-17.6 4.3h0m-9.5 3h0m15-15.9h0m8.5 7.8h0m-14.6 .6h0m14.3-8.5h0m-10.6 7.6h0m-9.1 2.2h0m-4.7 11.3h0m18.7-5.6h0m-17.5-6.4h0m34.2-.6h0m2.5 2.5h0m-18-5.3h0m15.5-4.5h0m-16 2.7h0m-17.1 7.2h0m4.7-7h0m-3.1 6.3h0m11.7 3.1h0m-12.4 5.1h0m-2.3-.9h0m32.4-11.1h0m-2.6 6.4h0m2.1 1.1h0m-13.9-6.1h0m22.9-3.3h0m-25.2 5.6h0m-12.6 7.6h0m-3.6-3.3h0m1.8-5.9h0m11.1 10.6h0m-7.7-16.7h0m4.9-1.8h0m21.1 5.2h0m-3.4-3.3h0m8.6 15.4h0m-4.3-4.3h0m1.6 1.1h0m-21.7-1.1h0m-1.2 3.1h0m17.5-16.4h0m13.5 16.5h0m-11.4-15.1h0m-6.1 17.1h0m10.3-13.6h0m-12.2-1h0m-9.4 12.5h0m3.5 4.2h0m13.1-15.1h0m-16.1-5.8h0m19.2 18.5h0m9.6-2.2h0m-30.8-3.9h0m21-7.9h0m-8.6-4.1h0m-3.5 3.5h0m11.1 13.2h0m-11.4-10.2h0m20.3 5.8h0m1.1 5.9h0m-27.3-8.7h0m12.9 6.7h0m-26.3-14.9h0m10.6 17.2h0m-4.7-2.9h0m-.8-2.9h0m35.6-.5h0m-13.2-10.7h0m-14.2-.6h0m23.3-.9h0m.3 19h0m1.3-15.5h0m-24.6-.8h0m-1.5 9h0m26.5-.2h0m-1.8-8.5h0m-14.8-1h0m15.5 1h0m-29.6-.2h0m19 5.8h0m-5.4-2.4h0m-10.4-1.7h0m-8.7-3.1h0m-3.3 15.5h0m19.9-15.9h0m2.6-1.8h0m16 10h0m-17.2-1.4h0m-.3 6.9h0m-11.1-11.4h0m5.8-1h0m17.6 3.2h0m-2.2 4.6h0m-5.1-6.1h0m-6.7 1.2h0m-17.5-6.1h0m27.6 12.4h0m-5.6 4.5h0m7.1-14.4h0m10.8 .9h0m-30.9 9.9h0m19.3 .6h0m1.7-12.6h0m6.4 2.8h0m-8.8 6.2h0m-3.2-8.2h0m3.3-2.5h0m-4 12.9h0m9.2-1.6h0m-14.5 3.8h0m-15.1-.7h0m10.3 5.6h0m2.1-16.5h0m13.4-2.5h0m-22.4 20h0m-1.5-4.6h0m0 1.3h0m5.8-6.2h0m-9.1-9.7h0m9.4 19h0m11.3-5h0m-13.8-5.8h0m1.9 3.2h0m2.8-13h0m9.4 6.7h0m.6 .5h0m7.1 14.2h0m-8.5-9.3h0m-11.3 5.7h0m.2-5.1h0m-3.4 1.6h0m32.5-5.5h0m.5 .3h0m-22.1 7.9h0m-18.8-15.3h0m-1.9 3.3h0m35.3 9h0m-23.9-.2h0m7.1 3.1h0m7.1-10.5h0m-14 .1h0m-5.2 9.1h0m24.9-10.1h0m-15.7 7.5h0m22.9-6.6h0m-17.3-3.6h0m11.4 15.5h0m-12.4-18.2h0m-18.8 1h0m39.2 17.4h0m-32.8-3h0m23.7 3.1h0m-.8-1.8h0m3.4 .5h0m-27.7-13.1h0m-6.6 7.3h0m18.5 .6h0m-16.1 4.6h0m23.6-2h0m17.3-5.8h0m-39.5 3.8h0m13.1 3.9h0m-2.7-3.4h0m16.5 7.6h0m-1.8-4.8h0m-3.4-9.3h0m-11.6-5.6h0m-9.8 16.4h0m26.6 2.1h0m6.3-11.1h0m-6.4-2h0m-20.3 2.4h0m16.5-4.2h0m13.8 5.2h0m1.9 3.4h0m-11.7 5.5h0m1.5-3.2h0m3.8 1h0m-23.4 1.6h0m19.9-10.3h0m-22.8 11.7h0m6.2-1.2h0m26-8.3h0m-6.1 11h0m-1.7-11.8h0m-21.7 8.4h0m-6-12h0m24.6-4.8h0m5.3 18.3h0m1.6-12.5h0m-5.2 3.8h0m-21.3-2.6h0m-8.7 3.2h0m-.3 4.1h0m9.5-6.9h0m-10.8 4.7h0m1.1-.4h0m35-9.5h0m-11.9 9.7h0m9.9 6.5h0m.5-1.8h0m-26.4-15.8h0m16.3 14.8h0m-7.9-6.4h0m0-4.5h0m12.8 10.2h0m11.9-11.2h0m-34.4-1.4h0m16.4 5.3h0m-21.9 3h0m3.6 6.4h0m27.4-14.9h0m-7.4-3.2h0m-23 7.5h0m2.1 4.4h0m28.3 5.5h0m6.3 2.9h0m-3.5-12.9h0m-30.9-1.7h0m23.8-2.9h0m4.5 16.1h0m-2.9-2.4h0m-11.4-10.5h0m1.2 .5h0m12.6 7.6h0m-18.2 7.1h0m-11.8-2.4h0m16.7-18.9h0m16.3 3.1h0m-6.2-.7h0m-7.8 13.5h0m16.4 2.6h0m-19.8-12h0m-7 6.8h0m16.8-12.7h0m-26.2 8.6h0m7 4.9h0m33.1-7.8h0m-27.8 3h0m21.9 3.3h0m2.8-1.5h0m-39.1 2.3h0m21.7-.6h0m1.1-11.4h0m2.9 19.9h0m-17.7-1.1h0m-3.9-3.1h0m9.2-8h0m-10.7 6.9h0m-1.7 5.2h0m22.1-20.8h0m6.3 8.5h0m-21.7 1.2h0m29.1 6.3h0m-29.9 4.6h0m12.9-6.6h0m21.5-10.6h0m-17 9h0m0-12.3h0m8.6 19.7h0m4.9-2h0m-32.3 2.7h0m21-16.4h0m1 1h0m11.8 7.8h0m-34.5-7.8h0m25.1 6h0m-15.9-.8h0m9.6-8.5h0m17.7 3.5h0m-34.9 4.7h0m1.2 7.8h0m-3-.3h0m12.5-13.8h0m24.2 4.7h0m-20.4 3.4h0m-10.3 7.1h0m-3.1 2.6h0m8.4-13.9h0m-3.8 5.3h0m22-4.5h0m-28.6 7.9h0m14.6 4.9h0m2.3-2.2h0m15.1-1h0m-23.4-4.6h0m9.9-1.1h0m-21.1-9.5h0m25.1 13.3h0m-9.8-10.1h0m-9.2-3.6h0m1.9 14.7h0m26.9-2.6h0m-34.1-11.5h0m36.5 5.3h0m-9.7 11.6h0m-22-1.8h0m24.4-9.8h0m-30.2 5.4h0m10 2.5h0m10.4 .4h0m-17.2-7.4h0m31.5 9h0m-36.7 1.5h0m12.2-10.2h0m8.9-2.5h0m15-7.1h0m-33.4 6h0m29.5-3.5h0m6.9 15.4h0m-28.4-.5h0m21.2 .4h0m-28.6-17.7h0m9 12.2h0m-11.5-3.3h0m4.4 .9h0m3.4 2.9h0m3.4-4h0m4.9-6.7h0m5.7 8h0m-16.6-7.2h0m3.4-3.1h0m-7.8 12.1h0m1.2 3.9h0m12.9 5h0m-16.3-9.8h0m3.1 .6h0m7.1 9.4h0m-7.5-13.9h0m28.5 9.7h0m3 2.4h0m-34.5-16.6h0m29 14.1h0m5.9-1.1h0m1.6-12.8h0m-7.5 7.5h0m-14.6-2.8h0m23.1-5.7h0m-31.2 4.2h0m4.2 11.6h0m20.7-.1h0m-2.8 2.3h0m-20.4-13.8h0m13.5 6h0m-13.8-8.3h0m28.4 3.9h0m2.9 11h0m-9.2 1.8h0m-23.6-1.9h0m12.9-17.8h0m5.6 10.5h0m-12.1-10.8h0m25.9 6.3h0m-38.5 11.3h0m16.3-1.5h0m18.8-5.5h0m-11.9 8.9h0m-10-8.6h0m16.3 10.2h0m-17.7-15.9h0m27.2 9.9h0m-29.3-4.7h0m11.1 7.6h0m.7-6h0m11 2.8h0m10.8-9.7h0m-33 .1h0m22.7 1.6h0m6.4 8.9h0m-23.2 1.4h0m-9.5-9.6h0m-3.6-3.3h0m11.6 1.6h0m28.5 4.2h0m-5.2-7.2h0m.1 7.2h0m-14.6-5.1h0m2.2 11.2h0m12.4-7.7h0m-8.7-1.2h0m1.9 3.4h0m-17.8 8.2h0m2.7-9.3h0m26.4 11.6h0m-28.9-20.8h0m17.4 1.5h0m-23.4 11h0m13.5-10.9h0m5.2 7.5h0m15.9 1.4h0m-3.5-3.1h0m-16.1-2.3h0m1.6 9h0m3.7-6.5h0m-11.9 7.9h0m-3.5-1.2h0m11.6-4.1h0m-.3-4.1h0m-23.7-2.3h0m35.8 11.2h0m-2-8.9h0m4.3-7h0m2 14.8h0m-4.8 6.1h0m6.2-9h0m-4.2 6.1h0m5.4-13.3h0m-33.9 14.4h0m32-11.8h0m-10.4 .5h0m-17 12.9h0m26.8-19.7h0m-7.3 12.1h0m.8 8.2h0m-33.9-4.4h0m18.6-15.4h0m-4.7 17.6h0m24.9-2.6h0m1.3-6h0m-13-1h0m-9.8 4.6h0m21.3-.7h0m-32 3.5h0m35.2-1.4h0m-23.5 2.1h0m23.9-2.8h0m1.1-10.9h0m-3.4 3.2h0m-26.2 3.9h0m11.1 4.8h0m12.3-8h0m5.6 13.4h0m-6.1-18.5h0m-6.4 11.9h0m-6.9-9.2h0m-14 3.9h0m10.3 10.7h0m-6-18.8h0m27 0h0m-15.8 5h0m11.9 13.4h0m-10.3-10.6h0m-2 5.3h0m-22.3-4.4h0m-1.2-6.4h0m6-2.8h0m30.1 16.9h0m-9.9-15.2h0m-26.7 12.6h0m10.8-13.3h0m26.6 9h0m-28.5-3h0m16.6-2.6h0m9 8.5h0m-27.3-4.8h0m.7 10.6h0m17.6 1.9h0m15.8-21.3h0m-5 18.7h0m-24.3-3.5h0m-1.7-6.6h0m9.5 10.6h0m19.9-14.2h0m-13.6 6.3h0m-15.8-1.8h0m2.5 6h0m8 4h0m6.7-17.5h0m-13.6-34.4h0m-2.4-4.5h0m-5.9 27.3h0m14.1-19.2h0m13.3 9.7h0m-26.5 13.6h0m-1.6-31.3h0m38.4 10.9h0m-3.6 16.6h0m-17.2-2.1h0m-4.2-21.9h0m15 23.1h0m-25.2-21.5h0m32 22.5h0m-11.3-7.2h0m-12.7-.3h0m4.5-6h0m-2.6-16.8h0m4.7 20.4h0m4.9-21.6h0m-19 40.3h0m12.2-36.2h0m-7.8 9.3h0m25 15.4h0m-32.9 10.6h0m4.6-31.8h0m8 10.9h0m11.6-10.1h0m1.7 19.9h0m-11.6 10.2h0m-12.3-12.5h0m34-18h0m-33 32.1h0m23.5-26.7h0m-24.1 24h0m30.2 2.6h0m-29.9-15.6h0m26.6 .8h0m-33.9 7.2h0m27.8 4.8h0m-27.2-.4h0m22.6-8.3h0m-9.1-12.4h0m28.2 3.6h0m-19.7-3.8h0m-20.3 23.7h0m26.2-5.5h0m-7.6-8.5h0m8.9 2.8h0m5.5-.7h0m-3.4 2.5h0m-7 4.9h0m2.4-4.3h0m-8-28.2h0m-1.7 16.7h0m-11.5-17h0m23.6 11.6h0m-7.4-2.9h0m-17.2 4.5h0m6.7 2.2h0m-2.3 5.7h0m15 12.1h0m-19.5 4.4h0m15.6-14.7h0m-2.7-2h0m6.5-22.7h0m-12.4-.4h0m27.9 17h0m-6.8 15.5h0m5.7 7.8h0m-37.2-18.4h0m12-11.2h0m27.5 28.2h0m-12.9-9.1h0m-4.3 2.9h0m-16.7 5.3h0m13.9-26.2h0m12.9 2.6h0m-7.9 4.3h0m-16 18.9h0m13.2-32.2h0m3.4 12.1h0m-13 9.6h0m-6-17.4h0m26.1 28.8h0m-1.2-24.6h0m2.9 19.4h0m-11.6-19.6h0m13.7-11.8h0m-25.3 17h0m-7.2-5.7h0m-2.4-8.2h0m15 32.3h0m17.2-31.5h0m-15-2h0m7.5-1.1h0m15.1 37.6h0m-14.1-1.5h0m-25.4-11.9h0m1.6 1h0m30.1-24.9h0m6.2 22.7h0m-29.1-1.9h0m30.6 .4h0m-10 13.7h0m-4.8 2.4h0m-12-.6h0m-15.8 .2h0m34-13.8h0m-1.9 12.5h0m10.7-22.8h0m-18.9 21.6h0m-3.9 0h0m-13.1 1.5h0m2.3-16.3h0m-3.9 15.5h0m30.3-3.7h0m-8.6-22.5h0m14.3 25.3h0m-29.3-9.7h0m-10.7-27.4h0m25 36h0m-4.7-1.4h0m-8.6 2h0m13.5-30.5h0m15.2 3.4h0m-19.8 26.9h0m-11.4 4h0m30.4-4.4h0m-16.8-22.1h0m-13 25.1h0m9.4-5.2h0m-19.2-21.3h0m3.2 3.3h0m10-4.7h0m2.4 13.2h0m25.9-17.2h0m-24 17.3h0m-3.8 5.1h0m-12.9 4.1h0m-2.4-29.3h0m37.6 29.1h0m-17.9-20h0m23.8 3.3h0m-10.6 21.7h0m-22.5-30.5h0m-2.6 21.5h0m33.6 8.2h0m-41-11.9h0m15.8 9.9h0m-1.6-4.1h0m12.7-.2h0m14.4-26h0m-1.4 17.2h0m-19.6 5.9h0m-7.2-20.5h0m7.4 17.7h0m-1.5-5.9h0m6.4-6.7h0m6.6-.8h0m-29.9 18.3h0m36.3 .6h0m-1.4-16.4h0m-15 3.6h0m3-.7h0m-20-8.1h0m34 12.2h0m-22 9h0m23.2-9.6h0m-30.9-19.8h0m29.2 15.2h0m-31.4 0h0m28.9 9h0m-10.9-10.1h0m4.3 3h0m10.6-14.5h0m-2.9 35.2h0m-1.9 .4h0m-14.7-16h0m-6.7-1.8h0m8.7 16.9h0m-12.6 1.1h0m30.1 .6h0m-37.3-1.7h0m.4-37.8h0m17.9 9.6h0m-7.6 3h0m-5.1-7.4h0m1.3 29.4h0m21.2 .6h0m-27.2-3h0m8.4-25h0m-11-5.1h0m23.4 5.1h0m-12 20.2h0m15.6-14.8h0m-23.7 26.8h0m-2.3-29.3h0m10.4 20.4h0m.9 .6h0m-5.6-2.7h0m20.2 .7h0m-18.4-2.1h0m-8.8 11.9h0m30.1-23.3h0m1.7 2.4h0m5.1 8.9h0m-30.3 2.8h0m-1.6-18.7h0m7.2 17.8h0m-10 7.7h0m13.2-33.9h0m-15.7 2.8h0m.6 33.7h0m35.8-14.3h0m-5 12.3h0m-17.2-15.2h0m-5.5 3h0m13.2 2.2h0m-12.4 7.8h0m14.7 4.5h0m3.8-11.7h0m-11.2-.1h0m9-9.2h0m-17-11.9h0m-6.1 18.1h0m8.5-16.7h0m-9.7-.1h0m35.9 29.6h0m-24.1-20.8h0m25.8 14.4h0m-6.2 7.9h0m-20.9-16.9h0m23.9 13.3h0m1.9-8.7h0m-16.8 9.4h0m-11.5-34.2h0m-7.1 9h0m11.9 5h0m1.1 18h0m18.5 5.2h0m-23.8-14.7h0m-5.9-7.2h0m31.1-5.6h0m-29.7 6.1h0m28.4 21.1h0m-25-24.5h0m14.4 10.2h0m2.1 12.2h0m-4.4-12h0m-13.5 13.2h0m20.9-10.4h0m-29.7 3.6h0m17.1 2h0m5 5.1h0m-1.4-10.5h0m-10.7 4.1h0m7.7-29.7h0m6.2 23.8h0m-3-15h0m-17 2.7h0m18.1-8h0m-1.4 12.1h0m-11.1 18.6h0m3.8-1.1h0m8-18.3h0m-9.4 8.9h0m25.9 13.6h0m-34.6-1h0m38.9-10.1h0m-30.9-24.8h0m16.2 36.1h0m.8-33.2h0m-24.3 10.2h0m28.6-5.9h0m-20.4 21.7h0m4.1-32.3h0m.6 37.5h0m-.1 1.9h0m2.2-10.6h0m-5.4-8.4h0m24.1 7.8h0m-22.5-6.2h0m-5.6-4.8h0m-9 16.4h0m9.6-30.5h0m12.2 34.6h0m-4.8-13.6h0m2-5.1h0m19.1 8h0m-2.4 2.7h0m-28.7-23.5h0m32.8 7.2h0m-39.2 20.5h0m12.3-32.5h0m15.6 19.4h0m-20.6-1h0m15.2 .3h0m2 1.4h0m-21.7-19.7h0m.4 29h0m28 7.6h0m-23.5-8.3h0m7 8.5h0m25.7-38.4h0m-35.7 30.4h0m8.7-11.8h0m-1.7 10.7h0m-11.8-11.3h0m20.2-9.3h0m14.7-8.7h0m-10.8 22.2h0m-24.1 7.7h0m37.9-15.5h0m-1.5 13.1h0m4.7 9.6h0m-26.3-29.3h0m13.3-5.4h0m13.1 0h0m-32.7 26.6h0m-3.2 1.1h0m-3.7-23.3h0m39.1 8.5h0m-39.1 22.8h0m11-14.6h0m20.5-19.3h0m-2.3 11.9h0m-1-4.5h0m-9 6.1h0m-10.2 16.7h0" />
<rect x="163" y="603.3" width="44" height="1.4" fill="#111" />
<rect x="216.3" y="603.3" width="44" height="1.4" fill="#111" />
<line x1="185" y1="604" x2="185" y2="531.89" stroke="#c81010" stroke-width="0.45" />
<line x1="238.3" y1="604" x2="238.3" y2="538.16" stroke="#444" stroke-width="0.7" />
<path d="M164 604.8 Q181 602.5 185 599.3 Q189 602.5 206 604.8 Z" fill="#e11d1d"/>
</g>
<g id="panelG">
<text x="296.2" y="498" font-size="14" font-weight="bold">g</text>
<text x="495.9" y="498" font-size="9.6" text-anchor="middle" font-weight="bold">Tregs</text>
<line x1="312.7" y1="525.2" x2="312.7" y2="612.1" stroke="#777" stroke-width="0.9" />
<line x1="312.3" y1="611.7" x2="415.5" y2="611.7" stroke="#777" stroke-width="0.9" />
<line x1="310.9" y1="609.68" x2="312.7" y2="609.68" stroke="#777" stroke-width="0.7" />
<text x="310.3" y="611.98" font-size="6.4" text-anchor="end" fill="#333">−1</text>
<line x1="310.9" y1="595.8" x2="312.7" y2="595.8" stroke="#777" stroke-width="0.7" />
<text x="310.3" y="598.1" font-size="6.4" text-anchor="end" fill="#333">0</text>
<line x1="310.9" y1="581.92" x2="312.7" y2="581.92" stroke="#777" stroke-width="0.7" />
<text x="310.3" y="584.22" font-size="6.4" text-anchor="end" fill="#333">1</text>
<line x1="310.9" y1="568.04" x2="312.7" y2="568.04" stroke="#777" stroke-width="0.7" />
<text x="310.3" y="570.34" font-size="6.4" text-anchor="end" fill="#333">2</text>
<line x1="310.9" y1="554.16" x2="312.7" y2="554.16" stroke="#777" stroke-width="0.7" />
<text x="310.3" y="556.46" font-size="6.4" text-anchor="end" fill="#333">3</text>
<line x1="310.9" y1="540.28" x2="312.7" y2="540.28" stroke="#777" stroke-width="0.7" />
<text x="310.3" y="542.58" font-size="6.4" text-anchor="end" fill="#333">4</text>
<line x1="310.9" y1="526.4" x2="312.7" y2="526.4" stroke="#777" stroke-width="0.7" />
<text x="310.3" y="528.7" font-size="6.4" text-anchor="end" fill="#333">5</text>
<line x1="340.5" y1="611.7" x2="340.5" y2="613.5" stroke="#777" stroke-width="0.7" />
<line x1="387.6" y1="611.7" x2="387.6" y2="613.5" stroke="#777" stroke-width="0.7" />
<text x="340.5" y="623" font-size="8.2" text-anchor="middle" fill="#222">T<tspan font-size="4.8" dy="2.9">CyEM</tspan></text>
<text x="387.6" y="623" font-size="8.2" text-anchor="middle" fill="#222">T<tspan font-size="4.8" dy="2.9">CM</tspan></text>
<text x="365.7" y="513" font-size="8.2" text-anchor="middle" font-style="italic" fill="#111">FOXP3</text>
<text x="364.05" y="521.2" font-size="5.4" text-anchor="middle" fill="#222">ns</text>
<path d="M340.5 525.8 V523.4 H387.6 V525.8" fill="none" stroke="#444" stroke-width="0.7"/>
<text x="297.3" y="568.5" font-size="7.6" text-anchor="middle" fill="#222" transform="rotate(-90 297.3 568.5)">Expresssion Level</text>
<line x1="442.7" y1="525" x2="442.7" y2="611.6" stroke="#777" stroke-width="0.9" />
<line x1="442.3" y1="611.2" x2="549.7" y2="611.2" stroke="#777" stroke-width="0.9" />
<line x1="440.9" y1="613.52" x2="442.7" y2="613.52" stroke="#777" stroke-width="0.7" />
<text x="440.3" y="615.82" font-size="6.4" text-anchor="end" fill="#333">−1</text>
<line x1="440.9" y1="598.8" x2="442.7" y2="598.8" stroke="#777" stroke-width="0.7" />
<text x="440.3" y="601.1" font-size="6.4" text-anchor="end" fill="#333">0</text>
<line x1="440.9" y1="584.08" x2="442.7" y2="584.08" stroke="#777" stroke-width="0.7" />
<text x="440.3" y="586.38" font-size="6.4" text-anchor="end" fill="#333">1</text>
<line x1="440.9" y1="569.36" x2="442.7" y2="569.36" stroke="#777" stroke-width="0.7" />
<text x="440.3" y="571.66" font-size="6.4" text-anchor="end" fill="#333">2</text>
<line x1="440.9" y1="554.64" x2="442.7" y2="554.64" stroke="#777" stroke-width="0.7" />
<text x="440.3" y="556.94" font-size="6.4" text-anchor="end" fill="#333">3</text>
<line x1="440.9" y1="539.92" x2="442.7" y2="539.92" stroke="#777" stroke-width="0.7" />
<text x="440.3" y="542.22" font-size="6.4" text-anchor="end" fill="#333">4</text>
<line x1="440.9" y1="525.2" x2="442.7" y2="525.2" stroke="#777" stroke-width="0.7" />
<text x="440.3" y="527.5" font-size="6.4" text-anchor="end" fill="#333">5</text>
<line x1="472" y1="611.2" x2="472" y2="613" stroke="#777" stroke-width="0.7" />
<line x1="520.5" y1="611.2" x2="520.5" y2="613" stroke="#777" stroke-width="0.7" />
<text x="472" y="622.5" font-size="8.2" text-anchor="middle" fill="#222">T<tspan font-size="4.8" dy="2.9">CyEM</tspan></text>
<text x="520.5" y="622.5" font-size="8.2" text-anchor="middle" fill="#222">T<tspan font-size="4.8" dy="2.9">CM</tspan></text>
<text x="496.6" y="513" font-size="8.2" text-anchor="middle" font-style="italic" fill="#111">LAG3</text>
<text x="496.25" y="520.7" font-size="5" text-anchor="middle" fill="#222">***</text>
<path d="M472 525.3 V522.9 H520.5 V525.3" fill="none" stroke="#444" stroke-width="0.7"/>
<text x="428.6" y="568.5" font-size="7.6" text-anchor="middle" fill="#222" transform="rotate(-90 428.6 568.5)">Expresssion Level</text>
<line x1="576.7" y1="524.5" x2="576.7" y2="611.9" stroke="#777" stroke-width="0.9" />
<line x1="576.3" y1="611.5" x2="679.9" y2="611.5" stroke="#777" stroke-width="0.9" />
<line x1="574.9" y1="610.26" x2="576.7" y2="610.26" stroke="#777" stroke-width="0.7" />
<text x="574.3" y="612.56" font-size="6.4" text-anchor="end" fill="#333">−1</text>
<line x1="574.9" y1="596" x2="576.7" y2="596" stroke="#777" stroke-width="0.7" />
<text x="574.3" y="598.3" font-size="6.4" text-anchor="end" fill="#333">0</text>
<line x1="574.9" y1="581.74" x2="576.7" y2="581.74" stroke="#777" stroke-width="0.7" />
<text x="574.3" y="584.04" font-size="6.4" text-anchor="end" fill="#333">1</text>
<line x1="574.9" y1="567.48" x2="576.7" y2="567.48" stroke="#777" stroke-width="0.7" />
<text x="574.3" y="569.78" font-size="6.4" text-anchor="end" fill="#333">2</text>
<line x1="574.9" y1="553.22" x2="576.7" y2="553.22" stroke="#777" stroke-width="0.7" />
<text x="574.3" y="555.52" font-size="6.4" text-anchor="end" fill="#333">3</text>
<line x1="574.9" y1="538.96" x2="576.7" y2="538.96" stroke="#777" stroke-width="0.7" />
<text x="574.3" y="541.26" font-size="6.4" text-anchor="end" fill="#333">4</text>
<line x1="574.9" y1="524.7" x2="576.7" y2="524.7" stroke="#777" stroke-width="0.7" />
<text x="574.3" y="527" font-size="6.4" text-anchor="end" fill="#333">5</text>
<line x1="604.6" y1="611.5" x2="604.6" y2="613.3" stroke="#777" stroke-width="0.7" />
<line x1="651.8" y1="611.5" x2="651.8" y2="613.3" stroke="#777" stroke-width="0.7" />
<text x="604.6" y="622.8" font-size="8.2" text-anchor="middle" fill="#222">T<tspan font-size="4.8" dy="2.9">CyEM</tspan></text>
<text x="651.8" y="622.8" font-size="8.2" text-anchor="middle" fill="#222">T<tspan font-size="4.8" dy="2.9">CM</tspan></text>
<text x="628.4" y="513" font-size="8.2" text-anchor="middle" font-style="italic" fill="#111">TIGIT</text>
<text x="628.2" y="520.8" font-size="5" text-anchor="middle" fill="#222">**</text>
<path d="M604.6 525.4 V523 H651.8 V525.4" fill="none" stroke="#444" stroke-width="0.7"/>
<text x="561.6" y="568.5" font-size="7.6" text-anchor="middle" fill="#222" transform="rotate(-90 561.6 568.5)">Expresssion Level</text>
<path d="M340.5 608.15C342.3 608.15 340.2 606.58 343.5 604.13C346.8 601.67 345.56 602.46 351.5 599.96C357.44 597.47 362.1 598.3 363.3 595.8C364.5 593.3 360.39 594.13 355.5 591.64C350.61 589.14 350.24 590.18 347 587.47C343.76 584.77 344.55 585.74 344.7 582.61C344.85 579.49 345.01 580.39 347.5 577.06C349.99 573.73 350.75 574.63 353 571.51C355.25 568.39 354.7 569.77 355 566.65C355.3 563.53 355.5 564.85 354 561.1C352.5 557.35 352.7 558.32 350 554.16C347.3 550 347.31 550.97 345 547.22C342.69 543.47 343.38 545 342.3 541.67C341.22 538.34 341.94 539.49 341.4 536.12C340.86 532.74 341.04 530.43 340.5 530.43C339.96 530.43 340.14 532.74 339.6 536.12C339.06 539.49 339.78 538.34 338.7 541.67C337.62 545 338.31 543.47 336 547.22C333.69 550.97 333.7 550 331 554.16C328.3 558.32 328.5 557.35 327 561.1C325.5 564.85 325.7 563.53 326 566.65C326.3 569.77 325.75 568.39 328 571.51C330.25 574.63 331.01 573.73 333.5 577.06C335.99 580.39 336.15 579.49 336.3 582.61C336.45 585.74 337.24 584.77 334 587.47C330.76 590.18 330.39 589.14 325.5 591.64C320.61 594.13 316.5 593.3 317.7 595.8C318.9 598.3 323.56 597.47 329.5 599.96C335.44 602.46 334.2 601.67 337.5 604.13C340.8 606.58 338.7 608.15 340.5 608.15Z" fill="#fff" stroke="#e5383b" stroke-width="0.9"/>
<path d="M340.5 561.38 V540.28 M340.5 595.8 V595.8" stroke="#e5383b" stroke-width="0.9"/>
<rect x="335.5" y="561.38" width="10" height="34.42" fill="none" stroke="#e5383b" stroke-width="0.9"/>
<line x1="335.5" y1="571.51" x2="345.5" y2="571.51" stroke="#e5383b" stroke-width="0.9" />
<path d="M387.6 605.79C390 605.79 387.7 604.21 391.6 602.05C395.5 599.88 394.72 600.66 400.6 598.58C406.48 596.49 410.3 597.19 411.2 595.11C412.1 593.02 408.58 593.93 403.6 591.64C398.62 589.35 398.05 590.18 394.6 587.47C391.15 584.77 391.95 585.53 392.1 582.61C392.25 579.7 392.55 581.09 395.1 577.76C397.65 574.42 398.38 574.63 400.6 571.51C402.82 568.39 402.35 570.26 402.5 567.35C402.65 564.43 402.87 565.33 401.1 561.79C399.33 558.25 399.3 559.5 396.6 555.55C393.9 551.59 394.35 552.77 392.1 548.61C389.85 544.44 390.21 545.83 389.1 541.67C387.99 537.5 388.85 538.6 388.4 534.73C387.95 530.86 388.08 528.76 387.6 528.76C387.12 528.76 387.25 530.86 386.8 534.73C386.35 538.6 387.21 537.5 386.1 541.67C384.99 545.83 385.35 544.44 383.1 548.61C380.85 552.77 381.3 551.59 378.6 555.55C375.9 559.5 375.87 558.25 374.1 561.79C372.33 565.33 372.55 564.43 372.7 567.35C372.85 570.26 372.38 568.39 374.6 571.51C376.82 574.63 377.55 574.42 380.1 577.76C382.65 581.09 382.95 579.7 383.1 582.61C383.25 585.53 384.05 584.77 380.6 587.47C377.15 590.18 376.58 589.35 371.6 591.64C366.62 593.93 363.1 593.02 364 595.11C364.9 597.19 368.72 596.49 374.6 598.58C380.48 600.66 379.7 599.88 383.6 602.05C387.5 604.21 385.2 605.79 387.6 605.79Z" fill="#fff" stroke="#3b82c4" stroke-width="0.9"/>
<path d="M387.6 564.99 V540.28 M387.6 595.8 V595.8" stroke="#3b82c4" stroke-width="0.9"/>
<rect x="382.8" y="564.99" width="9.6" height="30.81" fill="none" stroke="#3b82c4" stroke-width="0.9"/>
<line x1="382.8" y1="575.54" x2="392.4" y2="575.54" stroke="#3b82c4" stroke-width="0.9" />
<line x1="472" y1="595.12" x2="472" y2="531.68" stroke="#e5383b" stroke-width="0.9" />
<line x1="520.5" y1="594.38" x2="520.5" y2="528.44" stroke="#3b82c4" stroke-width="0.9" />
<path fill="none" stroke="#e5383b" stroke-width="1.8" stroke-linecap="round" d="M472 557.6h0m0-8.8h0m0 2.9h0m0 23.5h0m0-26.4h0m0 0h0m0 2.9h0m0 20.6h0m0-5.9h0m0-17.6h0m0 8.8h0m0 20.6h0m0-11.8h0m0-14.7h0m0 32.4h0m0-29.5h0m0 8.9h0m0-29.5h0m0 3h0m0 50h0m0-14.7h0m0 2.9h0m0 3h0m0-20.6h0m0 0h0m0-20.6h0" />
<path fill="none" stroke="#3b82c4" stroke-width="1.8" stroke-linecap="round" d="M520.5 582.6h0m0 7.4h0m0 1.2h0m0-39.6h0m0-9.2h0m0 45.5h0m0 2.4h0m0-46.6h0m0 28.7h0m0 16.6h0m0-14.5h0m0 5h0m0-1.9h0m0-19.5h0m0 12.9h0m0 12.1h0m0-31.6h0m0 16.8h0m0-.1h0m0-27.3h0m0 16.1h0m0 10h0m0-32.2h0m0 .5h0m0 38.9h0m0-36.8h0m0 21.7h0m0-24.8h0m0 14.1h0m0 13h0m0-16.3h0m0 34.6h0m0-27.5h0m0 28.2h0m0 10.5h0m0-55.3h0m0 18.3h0m0-5.3h0m0-1.6h0m0-7.9h0m0 7.2h0m0 9h0m0-5.8h0m0-10.2h0m0-4.9h0m0 52.6h0m0-28.9h0m0-21.5h0m0-1.8h0m0 49.5h0m0-38.7h0m0-2.8h0m0 1.8h0m0 33.6h0m0-25.5h0m0 32.9h0m0-50h0m0 3.6h0m0-5h0m0 37.4h0m0-11.4h0m0-15.2h0m0 34.2h0m0-14.4h0m0 13.7h0m0-29.7h0m0 6h0m0-13.6h0m0 41.2h0m0-40.6h0m0-6.5h0m0 47.7h0m0 6.4h0m0-43.9h0m0 8.9h0m0 0h0m0-7.9h0m0 43.5h0m0-9.5h0m0-20.1h0" />
<path d="M472 604.25C477.4 604.25 473.65 603.38 481 601.74C488.35 600.11 494.4 600.21 496.5 598.8C498.6 597.39 495.17 598.18 488 597.03C480.83 595.89 482.2 594.97 472.6 594.97C463 594.97 463.53 595.89 456 597.03C448.47 598.18 445.4 597.39 447.5 598.8C449.6 600.21 455.65 600.11 463 601.74C470.35 603.38 466.6 604.25 472 604.25Z" fill="#fff" stroke="#e5383b" stroke-width="0.9"/>
<path d="M520.5 606.9C524.1 606.9 522.9 605.94 526.5 603.95C530.1 601.96 530.1 602.26 532.5 600.27C534.9 598.28 535.7 599.09 534.5 597.33C533.3 595.56 532.4 595.93 528.5 594.38C524.6 592.84 526.3 592.18 521.5 592.18C516.7 592.18 517 592.84 512.5 594.38C508 595.93 507.7 595.56 506.5 597.33C505.3 599.09 506.1 598.28 508.5 600.27C510.9 602.26 510.9 601.96 514.5 603.95C518.1 605.94 516.9 606.9 520.5 606.9Z" fill="#fff" stroke="#3b82c4" stroke-width="0.9"/>
<line x1="467.5" y1="598.8" x2="476.5" y2="598.8" stroke="#e5383b" stroke-width="0.9" />
<line x1="516" y1="598.8" x2="525" y2="598.8" stroke="#3b82c4" stroke-width="0.9" />
<path d="M604.6 607.84C606.4 607.84 604.3 606.32 607.6 603.84C610.9 601.36 609.36 601.92 615.6 599.57C621.84 597.21 627.2 598.35 628.4 596C629.6 593.65 624.64 594.29 619.6 591.72C614.56 589.16 614.75 590.44 611.6 587.44C608.45 584.45 608.95 585.16 609.1 581.74C609.25 578.32 610 579.46 612.1 576.04C614.2 572.61 614.66 573.33 616.1 570.33C617.54 567.34 617.05 569.05 616.9 566.05C616.75 563.06 617.04 564.2 615.6 560.35C614.16 556.5 614.35 557.5 612.1 553.22C609.85 548.94 609.9 549.94 608.1 546.09C606.3 542.24 606.91 543.81 606.1 540.39C605.29 536.96 605.85 538.32 605.4 534.68C604.95 531.05 605.08 528.26 604.6 528.26C604.12 528.26 604.25 531.05 603.8 534.68C603.35 538.32 603.91 536.96 603.1 540.39C602.29 543.81 602.9 542.24 601.1 546.09C599.3 549.94 599.35 548.94 597.1 553.22C594.85 557.5 595.04 556.5 593.6 560.35C592.16 564.2 592.45 563.06 592.3 566.05C592.15 569.05 591.66 567.34 593.1 570.33C594.54 573.33 595 572.61 597.1 576.04C599.2 579.46 599.95 578.32 600.1 581.74C600.25 585.16 600.75 584.45 597.6 587.44C594.45 590.44 594.64 589.16 589.6 591.72C584.56 594.29 579.6 593.65 580.8 596C582 598.35 587.36 597.21 593.6 599.57C599.84 601.92 598.3 601.36 601.6 603.84C604.9 606.32 602.8 607.84 604.6 607.84Z" fill="#fff" stroke="#e5383b" stroke-width="0.9"/>
<path d="M604.6 564.91 V540.39 M604.6 596 V596" stroke="#e5383b" stroke-width="0.9"/>
<rect x="599.7" y="564.91" width="9.8" height="31.09" fill="none" stroke="#e5383b" stroke-width="0.9"/>
<line x1="599.7" y1="578.17" x2="609.5" y2="578.17" stroke="#e5383b" stroke-width="0.9" />
<path d="M651.8 605.84C653.6 605.84 651.8 604.73 654.8 602.42C657.8 600.11 658.14 600.28 661.8 598.14C665.46 596 666.7 597.21 667 595.29C667.3 593.36 665.86 593.86 662.8 591.72C659.74 589.58 658.3 590.3 656.8 588.16C655.3 586.02 656 587.37 657.8 584.59C659.6 581.81 660.25 582.31 662.8 578.89C665.35 575.47 664.92 576.39 666.3 573.18C667.68 569.98 667.55 571.19 667.4 568.19C667.25 565.2 667.48 566.84 665.8 563.2C664.12 559.57 664.35 560.35 661.8 556.07C659.25 551.79 659.7 553.22 657.3 548.94C654.9 544.66 655.18 545.66 653.8 541.81C652.42 537.96 653.3 539.53 652.7 536.11C652.1 532.69 652.34 530.4 651.8 530.4C651.26 530.4 651.5 532.69 650.9 536.11C650.3 539.53 651.18 537.96 649.8 541.81C648.42 545.66 648.7 544.66 646.3 548.94C643.9 553.22 644.35 551.79 641.8 556.07C639.25 560.35 639.48 559.57 637.8 563.2C636.12 566.84 636.35 565.2 636.2 568.19C636.05 571.19 635.92 569.98 637.3 573.18C638.68 576.39 638.25 575.47 640.8 578.89C643.35 582.31 644 581.81 645.8 584.59C647.6 587.37 648.3 586.02 646.8 588.16C645.3 590.3 643.86 589.58 640.8 591.72C637.74 593.86 636.3 593.36 636.6 595.29C636.9 597.21 638.14 596 641.8 598.14C645.46 600.28 645.8 600.11 648.8 602.42C651.8 604.73 650 605.84 651.8 605.84Z" fill="#fff" stroke="#3b82c4" stroke-width="0.9"/>
<path d="M651.8 564.34 V540.39 M651.8 586.45 V596" stroke="#3b82c4" stroke-width="0.9"/>
<rect x="647" y="564.34" width="9.6" height="22.1" fill="none" stroke="#3b82c4" stroke-width="0.9"/>
<line x1="647" y1="572.61" x2="656.6" y2="572.61" stroke="#3b82c4" stroke-width="0.9" />
</g>
<g id="panelH">
<text x="15.6" y="637.7" font-size="14" font-weight="bold">h</text>
<text x="171.4" y="636.8" font-size="9.7" font-weight="bold" fill="#111">T<tspan font-size="5.6" dy="3.1">CyEM</tspan><tspan dy="-3.1"> group</tspan></text>
<text x="493.4" y="636.8" font-size="9.7" font-weight="bold" fill="#111">T<tspan font-size="5.6" dy="3.1">CM</tspan><tspan dy="-3.1"> group</tspan></text>
<text x="171.4" y="823.6" font-size="9.7" font-weight="bold" fill="#111">T<tspan font-size="5.6" dy="3.1">CyEM</tspan><tspan dy="-3.1"> group</tspan></text>
<text x="493.4" y="823.6" font-size="9.7" font-weight="bold" fill="#111">T<tspan font-size="5.6" dy="3.1">CM</tspan><tspan dy="-3.1"> group</tspan></text>
<text x="43.6" y="731" font-size="8.3" text-anchor="middle" font-weight="bold" fill="#111">Panel 1</text>
<text x="365.2" y="730" font-size="8.3" text-anchor="middle" font-weight="bold" fill="#111">Panel 1</text>
<text x="46.2" y="916" font-size="8.3" text-anchor="middle" font-weight="bold" fill="#111">Panel 2</text>
<text x="365.2" y="916.5" font-size="8.3" text-anchor="middle" font-weight="bold" fill="#111">Panel 2</text>
<g transform="translate(64.5 647)">
<svg width="217.8" height="161.7" overflow="hidden">
<g filter="url(#soft)">
<rect x="0" y="0" width="217.8" height="163" fill="#121a1c" />
<path d="M181 0 H218 V163 H181 C184 130 186 110 184 80 C182 50 184 25 181 0Z" fill="#0c1240"/>
<rect x="206" y="0" width="12" height="163" fill="#0c120e" />
<rect x="0" y="0" width="16" height="163" fill="#1e140a" />
<rect x="16" y="0" width="165" height="163" filter="url(#sf15)"/>
<path fill="none" stroke="#3e2a10" stroke-width="3" stroke-linecap="round" d="M11.2 0.8h0m4 2.8h0m-15.9 4.7h0m10.5 4.9h0m3.4 1.4h0m-1.6 7.5h0m5.2 7.3h0m-16.7 2.9h0m2.7-1.1h0m1.8 3.9h0m7.1 23.8h0m-9 30.1h0m1.4 3.2h0m.6 11h0m1.9 8.3h0m8.6 2.6h0m-8.2 4.4h0m8-1.8h0m-8.7 7.2h0m7.9 .2h0m-1.2 8h0m-9.4 3.8h0m.7 8.4h0m1.7 7.3h0m-5.1 1.4h0m9 1.1h0m-4.1 7.9h0" />
<path fill="none" stroke="#178a8c" stroke-width="3" stroke-linecap="round" d="M21.4 2h0m17.5-.4h0m7.1-.3h0m6.3 1.3h0m6.5 .2h0m17.2-2.1h0m47.4 .3h0m3.6 1.5h0m9.8-.9h0m2.1 1.3h0m8.3-1.7h0m3.8-.5h0m6 2.1h0m6.4-1.8h0m4.8-.2h0m-148.5 3.3h0m14.6 1.6h0m10 .2h0m2.1-1.2h0m32.7 0h0m16.8 .6h0m4.1 .1h0m53-1.5h0m10.9-.1h0m9.5 .5h0m7.7 1.6h0m-163.5 1.1h0m14.9 .4h0m6.9-.5h0m20.1 1.6h0m6-1.8h0m22 1h0m6.2 0h0m26 .9h0m17.1-.5h0m-95.9 2h0m5.2-.3h0m29 .5h0m6.7 .7h0m28.1 .4h0m10.7 .2h0m52.7-.1h0m-140.7 3.2h0m2.5-.7h0m4.6 .3h0m1.1-.4h0m7.4-.8h0m8.1 2h0m17.1-.1h0m4.5-1.6h0m16.1 .4h0m25.3-.4h0m3.3 0h0m3.1 .9h0m3.1 .2h0m7.3 .2h0m11.7-.5h0m2-1.1h0m24 .4h0m5.1-.5h0m-148.4 2.8h0m2.7 .3h0m6.5 1h0m22.4-.3h0m2.8 1.2h0m6.4-2.1h0m4.9 1.6h0m3.2-1h0m20.8 1.4h0m10.8-1.8h0m10.7 1.6h0m4.9 .3h0m8.1-1.7h0m4.6 1.6h0m8.7-.6h0m5.2-1.4h0m7 1.6h0m5-1.2h0m5.1-.1h0m10.2 .1h0m-134.3 3.1h0m2.3-.5h0m4.3 1.2h0m23.3-.2h0m16.1 .8h0m13.1-1.8h0m3.6 0h0m7.5 1h0m9.7-.7h0m2.7 .7h0m14.1-1.1h0m20.6 2.2h0m-141.9 1.8h0m18.1 .7h0m14.3-.6h0m4.6 1.1h0m19.5-1h0m15.2 .5h0m6.7-.5h0m9.8-.7h0m10.8 1.4h0m13.5-.1h0m18.6-1.2h0m27.7 .6h0m-153.3 2.1h0m25.2 1.5h0m6.5-.8h0m4.6 1.1h0m14.2-.7h0m19.4 1.1h0m5.6-1.9h0m6.3 1.8h0m5.7-.8h0m37.1 .3h0m-128.4 2.1h0m6.3 1.1h0m6.8-.2h0m10.7 .5h0m6.1-1.2h0m4.4 1.3h0m14.9-.3h0m20.2-1.3h0m13 .4h0m35.1 .8h0m10.9-.1h0m3.8-1.7h0m27.1 .1h0m-157.8 4.2h0m5.6-1.2h0m4 1.7h0m5-.9h0m6.9-.2h0m27.9 .3h0m5.4-.3h0m21 1.3h0m3.3-1.1h0m5 1.2h0m10.3-1.7h0m13.8 1.9h0m4-1.9h0m3.6 .9h0m13.3-.2h0m4.2-1h0m6.6 1.1h0m-121.7 3h0m14.9-.9h0m13.8 1.1h0m21.2 .4h0m8 .2h0m19.8-.2h0m9.8-1.3h0m11.9 0h0m26.3 1.7h0m-133.4 1.7h0m3.5-.2h0m4.1 .7h0m2.7-.3h0m10.4 1.3h0m2.7-.7h0m10.9-.4h0m21.3-1.1h0m2.9 1.8h0m3.6 .2h0m11.9-1h0m35.4 .9h0m7-.6h0m23.8-.3h0m7 1.1h0m-163.1 1.4h0m7.2 1h0m3-1.4h0m10.5 0h0m3.8 1.5h0m20.8-.3h0m6.4 .6h0m7.1-.2h0m7.4-1.1h0m3.4 0h0m11.9 1.1h0m12.2 0h0m22.4 .2h0m6.9-.7h0m21.3 .2h0m3.3-.6h0m-150.3 2.9h0m13.7 1.2h0m21.7-.9h0m4.1-.3h0m2.7-.1h0m15.5 1.1h0m3-.1h0m2.9-.8h0m24.6 0h0m11.8 .4h0m1.8 .8h0m6.3-1.8h0m35.2 1.2h0m-136.4 3h0m19-1.2h0m15.3 .9h0m11.3 .2h0m27.6 .7h0m12.6-1.1h0m8.2-.3h0m3.4-.2h0m16 .3h0m-116.2 2.4h0m25.1 .4h0m35.3-.5h0m7.2 .6h0m2.2-.2h0m4.5 .4h0m3.4 .9h0m27.2-.7h0m4.2-.2h0m14.3 1.4h0m9.2-.4h0m14.9 .1h0m10.1-.5h0m2.5-.4h0m-157.5 3.4h0m6.3-.8h0m11.7 1.4h0m23.9-.1h0m2.8-.8h0m13-.9h0m29.7 .5h0m17.7-.4h0m9.8-.2h0m9.8 1.7h0m7.4-.5h0m22.2-.4h0m-139.9 2.7h0m26.4 1.2h0m2.9 .1h0m31.9 .6h0m12.9-2h0m9.9 .1h0m11.8 .9h0m34.3 .7h0m2.4-1.4h0m5.9 .2h0m2.8-.7h0m-163 3.6h0m7.8-.2h0m17.2 .6h0m19.7 1h0m23.9-1h0m26.7 1h0m12.6-1.7h0m7.4-.4h0m-117.4 3.1h0m21.9 1.3h0m47.3-1.4h0m55.9 .5h0m25.6 1.3h0m-144.4 1.3h0m9.8 .5h0m3.2 1.3h0m6.6-1.3h0m10.8 .4h0m3.7 .3h0m19.9-.6h0m10.9 .2h0m3.2 1.3h0m21.5 .2h0m13.9-.6h0m36.6-.1h0m2.5-.9h0m4.1-.8h0m-150 3.3h0m17.9 1.3h0m4.4 .4h0m9.6-.6h0m38.9 .4h0m4.4 0h0m3.3-1.3h0m16 .7h0m11.2 .6h0m6.4 .4h0m10.2-1.2h0m10.9 .8h0m27.8-.3h0m-160.9 2.9h0m6.1-.3h0m20.8 1.3h0m7.1-1.3h0m6.7 0h0m15.2-.1h0m3-.9h0m13.6 1.2h0m27.1 1.1h0m63.7 .1h0m-155.5 1.2h0m2.5 .9h0m13.9-1.3h0m18 1.7h0m4.9-1.7h0m14 2h0m1.4-.3h0m17.5 .4h0m4.7-.9h0m9.3-.4h0m30-.5h0m20.9 0h0m18.9 .4h0m-159 3.7h0m12.2 .1h0m48.3 .8h0m24.8-2.3h0m5.6 .6h0m43.1-.5h0m8 .6h0m1.7 1h0m3.5-1.4h0m-145.2 4.9h0m8.8-1.6h0m51.9 .7h0m28.4-.9h0m15.6 1.7h0m25-1.4h0m7.6 .9h0m-145.9 1.9h0m8.8 1.4h0m44.4-1.9h0m4.3 1.7h0m11.9-1h0m29.7 1.2h0m9.1 .3h0m11.2-1.3h0m11.2 1.4h0m26.4-1.2h0m-158.2 2.9h0m11.1 1.3h0m16.8-1.5h0m13.4-.6h0m18.3 1.2h0m7.9 .2h0m10.5-.4h0m8.7-.5h0m42.7 1h0m10-.2h0m13.5-.2h0m-130.3 3h0m7.2-1.3h0m2.3 1.5h0m46.8-.2h0m11 0h0m13.3 .8h0m13.5-1h0m14 .7h0m8.5-.1h0m13.2 .5h0m4.2 .1h0m-86.8 3h0m4.5-.9h0m3.2 .3h0m34.7-.9h0m35.9 1.4h0m12.1-.3h0m-157.6 1.7h0m7.2 1.9h0m12 0h0m15.7-1.1h0m31.6-.4h0m3.3-.4h0m21.1 0h0m6.9-.2h0m5.8 1.7h0m6.8-.3h0m3.6 .2h0m22.2-.3h0m24.8-1.6h0m-154.2 3.5h0m11 .8h0m3.1-.8h0m11.8-.2h0m9.5 2.2h0m28.3 0h0m15.1-1.7h0m61.1-.3h0m12.2 0h0m-136.4 2.6h0m31.5 .7h0m4.5 1h0m6.6-.5h0m25.6 0h0m2.6 .1h0m3.9-1.2h0m58.7 .4h0m-147.2 4.5h0m2.8-.1h0m13.4-.9h0m7.6 1.3h0m7.3-1.4h0m9.8-.8h0m3.6 .5h0m2.7 1.8h0m7.7-.4h0m63.2 .2h0m3.6-1.5h0m3.7-.3h0m21.2 .2h0m2.6 1.4h0m3 .2h0m-158.8 1.3h0m10.8 1.1h0m4.3 .8h0m18-.4h0m9.6-1.4h0m42.6-.1h0m3.5 1.6h0m6.6-1.2h0m31.1 .7h0m3.8-1.3h0m28.5 1.7h0m-147.2 1.5h0m10.6 .8h0m30.2-.5h0m10.4 .5h0m9.5-.5h0m13.4-.2h0m4.7 1.3h0m6.7 .2h0m39.4-.4h0m11.9 .9h0m4.3-1h0m-150.9 2.5h0m38.5 1.3h0m2.1-.9h0m22.1 .1h0m2.8 .8h0m7.9-.6h0m5.8-1.1h0m2.9 0h0m6.7 1.6h0m3.7-.2h0m15.6-.4h0m6.8 .6h0m4-1.6h0m5.8 1.4h0m21.2 .2h0m9.8-.6h0m-134.3 3.6h0m3.1-1.7h0m4.5 1h0m80.6 .5h0m9-1.3h0m10.9-.4h0m19.2 1.4h0m-124.3 3.5h0m2.7-1.5h0m19.9-.3h0m7.5 0h0m22.1 .8h0m2.3 .6h0m7.6-1h0m-75.9 3.3h0m36.5-.7h0m34.2 2.2h0m31.2-1h0m7.8-.7h0m10.6 1.1h0m6.5-1.4h0m7.4 1.2h0m-146.9 1.9h0m7.7 2h0m18-1h0m11.2-.8h0m3.2 1.7h0m5.3-1.8h0m8.8 1.5h0m13.4 .2h0m17.1-1.3h0m23.8 .2h0m6.9 .2h0m8.2-1.3h0m10.1 1.1h0m24.2-.9h0m-158.3 4h0m4.2-.3h0m5.8 .1h0m11.6-.1h0m9.9 .1h0m4.1 1.1h0m7-1.3h0m40.7 .3h0m3.1 1.2h0m8.4-2h0m7.2 .2h0m6 1.5h0m4.3 .1h0m3.8 .2h0m2.5-.2h0m17.2-.8h0m4.3 0h0m4-.6h0m10.3-.3h0m-147 3.2h0m14 1.5h0m11.8 .1h0m5.4-.7h0m37.3 .3h0m48.2-1.7h0m5.6 1.2h0m8.4 .3h0m6.4-.9h0m-126.7 4.6h0m9-.9h0m26 1h0m12.4-1.5h0m9 .4h0m27.7-.3h0m30.3 1h0m21.2 .2h0m2.5-.8h0m-115.2 3h0m15.7-.5h0m3.5-.1h0m25 .2h0m20.3 .2h0m8.1 .1h0m9.8-.6h0m14.5 .6h0m21.6 1.3h0m-152.7 1.1h0m2.9 1.4h0m5.3-1.4h0m2.6-.2h0m18.3 1.4h0m15.2-1h0m12.1 1.5h0m14.7-1h0m1.6-.2h0m3.5-.1h0m8.6-.9h0m7.3 .2h0m6.6-.2h0m14.1 1.7h0m7.4-.1h0m33.5 .1h0m-163.7 2.6h0m22.2 1h0m14-.5h0m6 0h0m8.2 .1h0m6.3-1.4h0m55.8-.3h0m15.6 .3h0m21.2 .3h0m5.6-.1h0m-155.1 4.1h0m5.8-.6h0m10.6-.3h0m9-.8h0m2.1 2.4h0m25.6-.8h0m12.7-.4h0m4.7-.4h0m9.1 1.4h0m13.9-2h0m11.6 .5h0m12.9 .2h0m3.7 1h0m15.3-.6h0m-92.5 3.1h0m1.4 .5h0m15.4-1.2h0m13.4-.3h0m14.5 1.8h0m19.6-1.3h0m8-.7h0m4.5 2.2h0m5-1.1h0m10.6-.3h0m8.6 .5h0m9 .9h0m4.9 0h0m-146.7 1.9h0m8.5 .8h0m34.8-.2h0m26.6-1h0m4.1-.4h0m4.8-.3h0m12-.1h0m16.2 .3h0m3.7 1.1h0m15.3 .9h0m5.3-2.1h0m5.1 0h0m4.5 .2h0m6.9 .4h0m-148.9 4.5h0m20.2-2.3h0m4.7 1.8h0m27.5-1.3h0m8 .3h0m13.6 0h0m7.3 1.7h0m14-1.4h0m7.6-.7h0m5-.3h0m8 2h0m4.3-1.5h0m17.6-.4h0m5.3 1h0m6.8-.8h0m-157.3 4.6h0m26.4-1.3h0m2.9 .8h0m8.5 .9h0m14.5-2h0m2.9 1.1h0m6.3 1h0m17.9-1.7h0m20-.5h0m11.1 1.1h0m12-1.2h0m10.4 2h0m29.9-.7h0m-168.5 2.1h0m3.7 1.2h0m26.4-1.2h0m8.8 1.1h0m30.5-.4h0m6.8-.6h0m3.4 1.2h0m3 .1h0m4.1 0h0m11.5-.5h0m5.7 .5h0m10.7-.4h0m6.5-.9h0m10.6 .2h0m5.1-.1h0m1.7 .7h0m8 .9h0m7.4-2.2h0m5.6 .9h0m-138.3 2.4h0m8.9 .6h0m16.4-.6h0m2.7 .4h0m11.8 1.6h0m26.9-1.1h0m17.1-.4h0m24.8 0h0m17.7 .3h0m6.7-1.1h0m9.2 2.4h0m1.7-1.5h0" />
<path fill="none" stroke="#9a5c26" stroke-width="3" stroke-linecap="round" d="M23.3 1.8h0m3.9-.7h0m29.9 1.5h0m7.1-1.1h0m2.6 .9h0m7.3-1.6h0m5.6 1.1h0m3.5 .4h0m4.7-1.5h0m20.2 .5h0m2.9 .7h0m64.5 0h0m-138.5 2.3h0m21.9 .4h0m1.2 1h0m5.2-.7h0m3.7-1.4h0m5.6 .3h0m11.6 .2h0m2.3-.5h0m4.8 .4h0m10.7 1.8h0m3.8-.5h0m36.3 .3h0m33.5 .2h0m-135 1.5h0m14.4 1.7h0m6.5-1.9h0m6.5 .9h0m8.2 .9h0m1.2 0h0m5.2-1.5h0m13.2-.3h0m59.1 .5h0m3.4-.1h0m17.1 1.4h0m-150.6 1.3h0m23.8 1h0m3.8-1.4h0m6.5 1h0m11.2 .7h0m14.7-.8h0m1.5 1.1h0m3.4-.8h0m15.5-.6h0m39-.1h0m-118.2 2.9h0m39.3-.3h0m3.2 0h0m9.8 2.1h0m4.5-1.8h0m5.7 .3h0m7.2 .9h0m8.1-.1h0m2.4 .1h0m4-.6h0m4.5 .9h0m47.4-1h0m-82.9 2.4h0m4.6 .6h0m3.9 .3h0m2.6-.3h0m14.6 1.3h0m8-2.2h0m1.9 .7h0m7.1 .7h0m-105.7 3.5h0m12.5-1.5h0m7.2 1.6h0m20.8-1.4h0m6.7 .4h0m3.9 1.4h0m13.8-1.4h0m4.2-.8h0m6.5 .4h0m28 .2h0m46.9 .5h0m2.5-.7h0m2.9 .9h0m7 .2h0m-155.9 2.3h0m7.6-.3h0m29.5-.6h0m2.5 .7h0m4.6-.4h0m1.7 1.3h0m2.9-.3h0m8.4 .2h0m4.2 .8h0m2.3-.2h0m8.5-.1h0m9.4-1.5h0m6-.4h0m3.5 1.6h0m51 .7h0m3-2.2h0m5.5 .5h0m-152.1 2.4h0m43.1 .8h0m4.2-.1h0m2.1 1h0m6.6-1.6h0m3.9 .8h0m3.9 0h0m3.6 1.3h0m14.4-1.9h0m20.5 1h0m52.6 .7h0m2.9-.5h0m-119.8 3.1h0m5.9-.6h0m10.1-.2h0m5.1 .8h0m3.9 .7h0m2.9-1.2h0m23.4-.3h0m4 .9h0m11.3 .1h0m7.5 .3h0m38.6-1.2h0m-156.7 4.4h0m3.5-1.4h0m30.2 .9h0m12.2-.4h0m7.6 .8h0m5.5-1.1h0m11.2 .2h0m6.7 .9h0m19.9-.4h0m-92.7 2.6h0m6.9 .3h0m21.8-.5h0m18.6 1.1h0m17.8-2.2h0m3.2 1.6h0m12.7-.8h0m13.7-.5h0m7.1 1.2h0m15.4-.3h0m-118.7 1.8h0m7.6 .4h0m3.1-.3h0m22.4 2h0m21.1-.9h0m1.3 0h0m4.9 .3h0m2.3-.3h0m4.8 1.1h0m17.2-1.2h0m18.3 .8h0m3.5-1.2h0m12.1 .9h0m-122.5 1.5h0m18 2.1h0m15.2-.4h0m3.6-.6h0m16.2-.9h0m12.7 .6h0m21.6 .9h0m20-.3h0m3.8 .9h0m48.9-.5h0m-152.6 2h0m11.4-.6h0m7.7-.1h0m1.4 1.6h0m25.6-.5h0m14 .1h0m4.3 .8h0m1.6-1.4h0m5.4 .8h0m17.6-1.4h0m23.9 1.3h0m33.9-1h0m-152.5 3.1h0m8.8 1.3h0m3.6-1.4h0m6-.2h0m10 .1h0m4.6 .1h0m3.2 .5h0m9.7-.1h0m7.9 1.5h0m3.1-.6h0m4.3 .5h0m33.5-.3h0m12.3 .5h0m2.3-.7h0m7-1.7h0m8.6 1.6h0m30.7 .8h0m-156.5 3.1h0m6.4-2.1h0m4.7 1.5h0m10.2-1.5h0m4.5 1.5h0m26.3-.3h0m31.3-1.3h0m7.6 .6h0m5 .6h0m26.2-.7h0m7.3-.5h0m4.1 1.9h0m13.2-.4h0m6.7-1.5h0m5 1.2h0m-161.2 2.9h0m5.7-1.1h0m5.8 1.1h0m6.3-1h0m4.5 1.1h0m15-.9h0m7 .7h0m16 .2h0m2.8-.5h0m9.2 1.1h0m2-1.1h0m7.2-.5h0m2.6 1.5h0m5.2 0h0m19.6 .5h0m22.1-.4h0m6.1-1.9h0m7.8 .6h0m6.6 0h0m3.3 0h0m2.8 .5h0m8.2-1.2h0m-166.2 3.1h0m8 .2h0m1.8 1.4h0m3.7-.7h0m14.8 .5h0m4.3-.7h0m6.6-.7h0m19.8 1.5h0m5.1-1h0m13.6 1.5h0m1.6-.3h0m11.3-.2h0m11.2-.2h0m1.9-.4h0m-92.6 3.5h0m3.6 .9h0m5-1h0m8.8 .4h0m14.9-.4h0m7.9-.4h0m7.5 .5h0m6.1 .9h0m2.6-1.8h0m7.3 1.8h0m4.7-1h0m5 .4h0m17.6-1h0m5.5 .1h0m6.3 .8h0m23.7-.3h0m4.5-.3h0m12.8-1h0m-151.3 4h0m3.2-.8h0m2.6 .9h0m8.1-.7h0m7.2-.3h0m6.9 .6h0m6.1-.2h0m17.7 1.4h0m10.4-.3h0m10.2 .3h0m22.4-1.3h0m13.6 0h0m16.7-.1h0m36 .5h0m-162.8 2.7h0m6.7 .1h0m2.9 .3h0m10.5 1.4h0m7.5-.8h0m15.3 .2h0m3.5-1.8h0m3.1 .6h0m5.1-.2h0m25.1 1h0m18.1-1h0m3.8-.2h0m2.1 1.1h0m17.9 .6h0m3.2-.7h0m31.8-.2h0m-157.9 3.7h0m5.7-.2h0m4.4-.4h0m6.3-.3h0m12.1 .3h0m9-1.1h0m3.7 2.3h0m16.8-1h0m7.3 .3h0m35.1-.2h0m3.3-1.1h0m24.7 .6h0m17.7 .6h0m6 .4h0m-147.3 2.3h0m5.6-.4h0m5.3 .4h0m3.5 .1h0m2.6-1.2h0m11.2 .2h0m6.2 1.4h0m38.6-1.2h0m4.5 .8h0m5.5 1.1h0m4.3-1.2h0m2.9-.7h0m22.2 1h0m6.6 .1h0m2.9 .3h0m7.7-1.3h0m5.9 1.3h0m11.9-1.2h0m-152.8 3.2h0m2.6 .4h0m4.5 .5h0m15 .2h0m1.7-.4h0m11.2-.7h0m20.5 .9h0m17.1-1.3h0m6.7 1.5h0m23.2-.4h0m12.4 .2h0m4.8-.6h0m2.2 .4h0m14.8-1.1h0m3.5 .2h0m13.8 0h0m-152.6 4.1h0m11-.4h0m4.4 .9h0m7.1-2h0m24 2.2h0m6.8-1.7h0m6-.3h0m4.4 1.6h0m6.6 0h0m15.1-1.6h0m9.6 1.4h0m6.3-1.3h0m17.1 .6h0m17.4 .5h0m25.4-.1h0m3.3 .3h0m-161.3 3.3h0m3.5-.5h0m6.4 .1h0m6.5-.4h0m4.4 .8h0m3.4-1.6h0m2.2-.3h0m7.3 0h0m4.3 .6h0m2.6 .7h0m7 1h0m28.7-1.9h0m44.8-.1h0m17.2 1.5h0m14.8-.8h0m3.3 1h0m2.7-.6h0m-159.6 1.8h0m8.6 .2h0m1.8 .8h0m3.7-1h0m4.4 .3h0m8.1-.2h0m3.4-.3h0m28.1 1.8h0m2.9 .3h0m13.9 .1h0m18-1.9h0m7 1.5h0m10.5 .5h0m12-.2h0m8.4-1.1h0m5.6-.7h0m5.4-.3h0m-142.3 3.1h0m2.7 1.3h0m7.9-.2h0m3.8-.7h0m6.5 1.9h0m24.7-1.2h0m14.7 .8h0m17-.4h0m45.3-1.3h0m10.1 2.1h0m10.5-1h0m17.3-1.3h0m-159.6 4.8h0m4.1-1.1h0m3.3 .6h0m4.4 .2h0m2.1-1h0m8.9 .1h0m9.1 1.8h0m2.6-2.2h0m5.2 1.5h0m3.9-1.4h0m10 1h0m3.2 .9h0m2.9-1.5h0m4.6 .8h0m3.4 .6h0m47.4-1.3h0m16.1-.8h0m-133.1 4.3h0m3.4 .9h0m9.1-.5h0m2.7-.6h0m9.9 .2h0m6.7-.4h0m2.9-.4h0m7 1.9h0m5.4-1.5h0m3-.1h0m9.8 .4h0m3.7 1h0m57.2-1.8h0m19.5 0h0m20.4 1.2h0m-158.1 2.4h0m7.1-.8h0m2.9 0h0m3.6 .8h0m6.7 .1h0m15.1-.2h0m5.4 1.1h0m4.7-1.5h0m7.9 .8h0m1.4-1.1h0m3.9 .5h0m33.1 .4h0m30.5 .1h0m6.3-.7h0m11.5-.2h0m6.1 0h0m5.1 1h0m2.3 .3h0m-154.7 3.6h0m3-.5h0m7.1 .5h0m2.4-1.1h0m21.2-.4h0m4.6 1h0m10.5-.4h0m2.8-1.2h0m4.4 .2h0m2.4 2.1h0m3.7-1h0m3.9-1.2h0m6.3 .7h0m7.1-.3h0m26.1 1.2h0m16.4-.2h0m22.1-.4h0m10.5 1.3h0m-152.9 1.6h0m2.2 .5h0m10.9-1.2h0m17.7 .9h0m3-.7h0m4.3 .1h0m6.7 .5h0m14.6-.9h0m5.6 .1h0m14.4 .5h0m27.6 .1h0m43.2 1.1h0m-149.9 1.4h0m10.4 .8h0m4.4 1.3h0m18-2.4h0m38.9 .1h0m41.7 .5h0m-111.9 2.4h0m15.6 1.4h0m3.9-.1h0m23.1 1.1h0m8-1.6h0m7.1 .7h0m3.7 .6h0m7 0h0m3.7-.1h0m7-1.8h0m38.7 2.1h0m13.4-1.7h0m7.4 1.1h0m8.5 .1h0m-150.4 3.1h0m2.8-1.1h0m4.4-.6h0m33.3 .7h0m3.8-.1h0m2.9 .2h0m6.9 1h0m14.5 .1h0m7-.7h0m31.7-.1h0m3.7 .9h0m-107.6 3h0m5.4-1.5h0m23.6 1.3h0m27.6-1h0m11.1 .2h0m5.8 .5h0m21.7-1.6h0m7.6 .2h0m38.2 .7h0m6.4 1.1h0m-143.8 2h0m2.1 .5h0m8.2-.1h0m30.7 .1h0m4.3 .6h0m2.4 0h0m8.7-1.6h0m1.1-.2h0m5.8 1.6h0m2.1-.5h0m2.7-.9h0m22.1 1.2h0m3.2-.1h0m41.9-.8h0m10.6-.1h0m-149.2 3.7h0m5.4 .3h0m24.1 .7h0m12.4-1.7h0m7.5-.3h0m6.2 1.5h0m9.3-.1h0m22.7 .5h0m6.7-.6h0m3.9-.9h0m-92 3.6h0m6.2-.8h0m13.6-.1h0m7.1-.4h0m17.9 .1h0m21.7 .9h0m16.1 .6h0m7.4-.7h0m-95.8 2.9h0m14 1h0m14.3-.5h0m24.2 1.1h0m13.6-1.1h0m5.3 .7h0m5.1-.5h0m7.6-.2h0m6.1 0h0m-88.8 2.5h0m17.5 1.3h0m3.7 .1h0m10.1-.7h0m21.7-.3h0m8.2 1.3h0m1.8-2.2h0m5 .7h0m2 .8h0m21-.4h0m63.3-.4h0m-123.9 3.4h0m31.8 .5h0m13.5-.7h0m2.7 1.2h0m15.5-.8h0m14.5-.5h0m26.9 1.2h0m13.8-.3h0m-141 3.2h0m10.9 0h0m61.4-1.2h0m8.4 .2h0m13 1.3h0m5.1-.5h0m25.9-.8h0m-138.4 3.9h0m5.3-.4h0m5.3-.4h0m15.5 1.1h0m3.8-1.3h0m35.2 .9h0m2.2 .2h0m4.3-.2h0m1.8-1h0m5.1-.6h0m16.1 1h0m5.1 1h0m10.1 0h0m6-1h0m27.7-.3h0m3.8 .4h0m-148.2 3.9h0m4.1 .2h0m25.3-1.4h0m44 .2h0m34.9 .9h0m50.5-.9h0m-156.5 3.2h0m3-1h0m21.1 .3h0m24.3 1.1h0m21.1-.5h0m4.2-.5h0m10.6-.6h0m2.6 0h0m3.4 2.3h0m13.9-1.2h0m6.8-1h0m3.4 0h0m5.1 .9h0m-104.2 2.2h0m15 1.5h0m3.6 .5h0m17.6-1.2h0m26.5-.8h0m2.8 .5h0m3.4-.6h0m11.4 1.6h0m13.2-1.5h0m49.2 .5h0m-162.5 3.3h0m3.2-.2h0m4.7 .6h0m7.7-.1h0m9.1 .6h0m3.3-1.1h0m43 .5h0m14.2-.9h0m7.1 1.2h0m3.4-.9h0m-80.4 3.5h0m13.9 1.1h0m14.6-1.4h0m5 1.1h0m13.6-1.4h0m10.9 1.4h0m3.3 .1h0m1.8 .2h0m16.1-.2h0m2.6-1.5h0m13.7 1.9h0m-113.4 1.8h0m20.1 .1h0m20.6-1.3h0m39.7 2.1h0m24-1.2h0m6.6 1.2h0m7.2-1.9h0m29.7 2.1h0m12.9 .1h0m-151.3 .7h0m2.6 .1h0m4.6 .7h0m8.6 1.5h0m22.8-1h0m34.6 .1h0m14 .4h0m5.4-1.6h0m8.1 .9h0m11.2 0h0m9.2-.4h0m25.8 0h0m3.4 1.5h0m-142.3 2.1h0m6.5-.9h0m20.5-.2h0m20.5 .4h0m8.7 1.5h0m16.2-1.1h0m4.5-1h0m7.8 .3h0m4.9 .5h0m11.6 1.2h0m6.5-1.4h0m-109.7 3.9h0m17.8 0h0m44.7 1h0m6.3-2h0m7.3 1.2h0m10.8-1.6h0m8.1 .9h0m14.3-.2h0m9.7 .1h0m9.8 1.1h0" />
<path fill="none" stroke="#2aaabb" stroke-width="3" stroke-linecap="round" d="M35 2.1h0m80.7-.7h0m44.1-.2h0m-136.1 4h0m47.9-1.6h0m46.4 2.3h0m19.9-2.1h0m11.6 .2h0m-76.8 3.1h0m17.1 1.2h0m19-.7h0m17.9 .9h0m3.3-1.7h0m2.9-.2h0m8.2 1.6h0m-82.9 2.8h0m9-1h0m31.5 .2h0m14.1 1.2h0m15.9-1.1h0m2.2 .3h0m-113.3 4.1h0m34.3 .1h0m35.7-1.7h0m56.4 0h0m17.7 1.6h0m1.5 3.3h0m-128.2 1.9h0m44.4-.5h0m33.1 1.5h0m24.9-1.6h0m1.6 1.2h0m12-1h0m2.2 1.6h0m6.6-1.5h0m18.2 .2h0m-148.3 3.5h0m97-.8h0m15.9 .7h0m6.9-1.1h0m13.1 1.3h0m-119.9 3.3h0m14.3-1.8h0m62.4 .5h0m10.9 1.2h0m3.1-.7h0m21.2 1.4h0m19.8-.4h0m-155.9 3.5h0m32.8-1h0m24.1-1.2h0m44.5 1.3h0m60.9-1.2h0m-113.7 3.7h0m15.9-.7h0m38.7 .5h0m4.3 .1h0m16.4 1.1h0m31.9-1.5h0m-93.2 2.8h0m26.3 .4h0m2.9 .1h0m34.7 1.6h0m20.1-1.2h0m-139.9 3.1h0m40.8-1h0m64.5-.2h0m34 .9h0m-141.2 2.9h0m33.4 .2h0m35.9 .2h0m14.7 1.1h0m3.4-1.2h0m-90.4 4.1h0m8.2-2h0m9.6 2.3h0m23.7-1.7h0m68-.5h0m-113.5 3h0m65.4 .5h0m6.8 .3h0m43.6-.5h0m13.7 .1h0m6.3 .2h0m3.2 1h0m10.1-1.7h0m10.4 0h0m5.2 1.6h0m-118.7 1.5h0m12.2 2.2h0m31.3-1.1h0m10.2 .2h0m7.7-.5h0m34.7-.1h0m1.9-.1h0m-68.4 3.7h0m71.3-.6h0m-146.1 2.5h0m19 2h0m51.6-2.1h0m40.6 2h0m53.4-1.9h0m-161.5 5.2h0m27.1-.2h0m2.5-.5h0m4 .2h0m20.6-1.8h0m66.1 1.2h0m7.6-.8h0m31.3-.2h0m-150.6 4.2h0m29.9-1.4h0m8.4 .6h0m9.5 1.7h0m22.2 0h0m3.8-.8h0m2-.6h0m14.5 .3h0m3.5 .4h0m9.9-.3h0m18.2 .2h0m3.6-.9h0m-71.8 4.6h0m16.6-1.8h0m32.4 .7h0m20.6 .8h0m28 0h0m-152.6 2.8h0m55.9-1.5h0m25.4 1.9h0m-69.7 3.3h0m-6.9 2h0m13 1h0m39.5-.7h0m34.2-1.6h0m2.5 .3h0m4.7 .2h0m20.1-.1h0m18.5 1.1h0m5.8-1.4h0m7.1 2.3h0m-123.9 2.2h0m17.2-.9h0m73.4 0h0m-130.2 3.6h0m33.7 1.2h0m44.3-2.2h0m32.9 .8h0m7.4-.8h0m11.6 1.3h0m21.1-.6h0m1.9-.1h0m-111.9 3h0m6.8 1.2h0m107.5-.1h0m-134.2 1.8h0m13.7 .3h0m80.7 .4h0m7.4 .7h0m11.1-1.3h0m-131.4 4.4h0m51.1 .1h0m41.4-.9h0m18.6-.4h0m13.5-.2h0m14.8 .2h0m7.5-.2h0m9.4 1.7h0m3.8-.5h0m-142.5 1.5h0m4.5 1.5h0m7.1-.8h0m52.6 .7h0m13.5-1.4h0m4.1 .1h0m24.7-.4h0m5.5 .1h0m-102.6 3.4h0m13.9 1.5h0m35.3-1.2h0m62.4-.1h0m-113.2 2.8h0m51.6 .3h0m12.2 1.6h0m-78.9 .8h0m66 .4h0m9.6 1.8h0m13.7-1.1h0m28.6 .1h0m4.8 .8h0m6.5-.6h0m3.5-1.5h0m-121.6 4.5h0m38.4-.1h0m8.5 .5h0m13.5-.2h0m20.7-.5h0m-93.2 2.5h0m31.6 1.1h0m18.1 .1h0m48.7-.5h0m9.5 .8h0m28-.7h0m-108.8 1.7h0m66.1 1.7h0m42.7-.3h0m-117.4 3.5h0m1.8-.3h0m75.5-.4h0m10.3-.5h0m41.3 1.2h0m-151.9 1.5h0m40.4 1.3h0m39.5-.6h0m8.2-.4h0m23 .8h0m31.9 .4h0m-134.5 1.9h0m7.1 .6h0m23.4-.9h0m21.7-.1h0m9.5 1.5h0m21.8-.8h0m48.6-.2h0m5.2 .6h0m-90.2 3.8h0m8.1-1h0m38.1 .6h0m2.8 0h0m20.3-1.1h0m29.8 1h0m1.4-.5h0m-148.5 2.8h0m3-.5h0m29 1.6h0m62.1-1.2h0m7.2 .6h0m32.2 .1h0m7.1 .7h0m2.9-1.8h0m-107 4.3h0m14-1.4h0m29 1.9h0m-88.5 2.8h0m48.6-1.3h0m2 1h0m7.4-1.6h0m34.9 .9h0m11.5-.3h0m40.9 1.2h0m-49.9 1.9h0m46.7 .8h0m6-1.4h0m-135.1 3.6h0m6.1 .5h0m29.3 .6h0m31.8-1.7h0m20.3 1.5h0m28.2 0h0m24.1 0h0m-117.2 2h0m101.1-.3h0m4.3 1.6h0m6.2 .3h0m-137 2.4h0m44.3-1.4h0m39.6 .5h0m29.9 1.5h0m15.2-2h0m-142.1 4.3h0m11.3 .2h0m62.6 .1h0m19.9-1.2h0m14.4-.4h0m-98.6 4h0m9.3-.8h0m20.7 5.2h0m89-1.6h0m-88.8 4.6h0m3.7-1.8h0m3.4 0h0m4 1.9h0m15.3-.2h0m64.7-1.3h0m5.3 1h0m12.4-1.3h0m-112.5 4.5h0m71.8-2h0m31.3 1.1h0m-124.2 4.1h0m27.9-.9h0m5.6 .3h0m1.4 .6h0m7.1-.5h0m-22.4 3.5h0m26.1-1.7h0m47.9 1.2h0m27 .3h0m17.7-1.6h0" />
<path fill="none" stroke="#a870d8" stroke-width="3" stroke-linecap="round" d="M48.5 0.7h0m46.7 .6h0m2.1 .2h0m56.8 1.1h0m-126.9 1.8h0m27-.1h0m66.9-.2h0m45.2 .2h0m-118.2 3.3h0m53.4-.9h0m4.2 1.6h0m6.3 .7h0m11.5-.2h0m23.2 .3h0m26-.9h0m1.3-.1h0m-141.1 2.2h0m130.8-.4h0m1.7 1.6h0m3.7-1.3h0m-11.8 3.8h0m24.7 .6h0m-158.9 1.9h0m21-.7h0m10.6 1.8h0m3 .6h0m62.1 1.5h0m13.1 1.5h0m50.4 2.6h0m-43.3 1.2h0m3.4 1.3h0m27 .7h0m-127.2 3h0m21.3-1.7h0m36.5 .6h0m23.8-.3h0m51.1 1.3h0m-78.1 2.4h0m49.7-.3h0m31.3-.7h0m-151.4 3.5h0m9.8 1.3h0m10-1.6h0m66.4 .1h0m20.7 1.2h0m24.7-1.1h0m-47.7 2.9h0m49.9 1.8h0m-65.1 1.6h0m63.1-.5h0m-93.3 2.9h0m31.3 1.9h0m36.9-1.1h0m5.8 1.2h0m6.7-.8h0m2.7-.9h0m-49.3 4.8h0m-47.9 1.1h0m7.3 1.9h0m17.2-.5h0m43.1-.3h0m-73.2 3.4h0m35.1 3.6h0m53.9 1.3h0m2.1 .3h0m-88.5 3.1h0m5.7 1h0m53.1-.4h0m7.3-.5h0m21.2-.6h0m21.6 .1h0m9.7 .5h0m-100.2 3.2h0m12.4 .4h0m55.3 .4h0m-72.7 1.1h0m7.9 1.9h0m6.3-.8h0m28.2-.7h0m32 0h0m9.9-.3h0m24.5 1h0m-47.1 3.7h0m11.1-1.4h0m-62.8 2.8h0m85.5 1.9h0m-106.2 1.2h0m5.4 .5h0m116.9 .3h0m-100.5 2.4h0m8 .5h0m17.4 1h0m5-.1h0m11-.6h0m8.7 .6h0m25.7-1.2h0m-98.3 4.8h0m32.2-1.3h0m69.8 .1h0m9.4-.2h0m17.5 .3h0m-127.4 2.4h0m13.1 .5h0m67.6 .8h0m39.3-.8h0m-84.5 3.4h0m-32.3 2.5h0m50.1 .1h0m16.2-.1h0m11.4 .8h0m35.5 .6h0m-120.7 2.3h0m56.1 .4h0m20-.3h0m-78.7 3.7h0m61.7-.3h0m10.9-1.6h0m6.5 .1h0m5.8-.3h0m21.1 1.8h0m-17.7 3.1h0m17.9-1.3h0m-105.3 2.4h0m46.7 1.5h0m17.7 .2h0m-43.4 1.7h0m48.9 1h0m10.1-.2h0m5.6 1.1h0m8.5-2.3h0m-111.8 3.7h0m67.9-.5h0m35.4 1.1h0m-91.1 1.8h0m10.5 3.6h0m75.1 .1h0m-71.8 4h0m2-.9h0m46.9 .3h0m48.3-.9h0m-43.1 4.9h0m6.9-.1h0m19.9-1.8h0m17.3 0h0m-106.7 4h0m74.2 0h0m26.1 1.9h0m-123.4 5.2h0m38.8-.3h0m12.5-.1h0m14.4-1.6h0m21.1 1.6h0m-32.9 3.4h0m4.3 .1h0m16-.6h0m9.9-1h0m46.6-.3h0m-127 5h0m34.6-.2h0m3.4-1.6h0m45.4 1.2h0m-34.5 1.6h0m8.3 .8h0m28.4-.9h0m41.7 1.1h0m-114.7 3.4h0m22.7-.1h0m24.6-.4h0m9.2-1h0m23.6 2.3h0m45.8 2.1h0m-101.2 3h0m7.8 .8h0m21.8-1.5h0m19.7-.6h0m13.3 1.6h0m10.2 .5h0m25.1-1.7h0m-143.8 4.1h0m5.4-1.3h0m5.3 5h0m41.5-2h0m84.6 1.6h0m-71.6 2.3h0m72.6 3h0m-138.5 2.2h0m49.9 1h0m1.2-.4h0m25.2 .8h0m38.2-.7h0m7.1 1h0" />
<path fill="none" stroke="#4246b4" stroke-width="3" stroke-linecap="round" d="M69 1.3h0m21.3-.1h0m14 0h0m15.8 .5h0m52.4 1.2h0m-122.5 1.7h0m32.6 .9h0m59.3 0h0m17.8 .4h0m-138.4 2.3h0m30-1.1h0m63.6 1.7h0m29-.8h0m20 .8h0m4.1 .2h0m-137.3 2.6h0m6.2-.5h0m27.5 .4h0m14-.2h0m18.3-.9h0m5.5 0h0m32.3-.3h0m14.3 .9h0m27.6 1h0m3.8-1h0m-134 3.5h0m13.4-1.4h0m2.2 1.6h0m110.4-.4h0m-145.4 2.4h0m10.1-.5h0m9.5 1.9h0m4.3-1.3h0m17.6 0h0m35.7-.5h0m38.6 .3h0m-121.6 2.7h0m3.5-.4h0m18.5 1.3h0m20.5 .6h0m10-.1h0m-53.8 2.5h0m16.7 .8h0m15-.6h0m51.5-.9h0m-82 4.4h0m11.2-1.3h0m63.3 .1h0m28 1.3h0m12.4-.6h0m12.3-1.1h0m-122.1 3h0m111.9 .9h0m7.4-1h0m2.5-.1h0m11.3 1.2h0m6.3 1h0m-137.4 1.9h0m21.8 .7h0m40.3-1.2h0m22.4 .2h0m17.8 0h0m-110.7 2.3h0m20.7 0h0m35.2 1.3h0m2.2-.2h0m17.3-1.1h0m88 .2h0m-63.5 4.6h0m13.1 0h0m4.9 .3h0m40.4-1.8h0m-142.2 3.3h0m11.9 1h0m27.4-.7h0m43.4-.2h0m1.2 .2h0m12.7-.8h0m13.5 1.2h0m9.4 0h0m14.8-.3h0m9.8 .6h0m-131.4 3h0m53.5 0h0m40.9-.5h0m14.3 1.2h0m24.1-.8h0m-149.1 1.6h0m29.1 0h0m25.2 1.6h0m7-1.4h0m70.5 .2h0m5.1 1.3h0m-138 2.1h0m3.3-.8h0m20.7 0h0m28.1 1.3h0m50.7 .6h0m3.5-1h0m-76.4 2.7h0m10.7 1.1h0m34.4-.9h0m7.4 .3h0m17.7 .9h0m-99.8 2.5h0m16.7-1h0m21.4 .8h0m15.4 .8h0m17.1-.4h0m7.6 .1h0m17 .5h0m9.6-2.1h0m14.3-.1h0m3.9 2h0m7 .3h0m-123.8 .8h0m29.5 2.2h0m36.7-.3h0m42.1 .3h0m26.4-.4h0m4.5-1.6h0m-134.9 4.8h0m45.1-1.8h0m7.3 2h0m52.9-1.9h0m14.1 2h0m19.6-.9h0m-168.3 2.4h0m35.6-.2h0m43.9 .6h0m11.7-.7h0m51.8-.2h0m14.3 0h0m7.2 .7h0m-131.1 2.8h0m14.6 1.6h0m66.5-.9h0m28.2 .7h0m9-1.4h0m11.1-.4h0m-115.1 3.3h0m8.3 1.2h0m9.7-.5h0m4.9-.1h0m16.9 .8h0m12.6-.5h0m8 .7h0m6.7-2.1h0m25.8 1.9h0m8.5-1.6h0m11.8-.2h0m3.7 1.8h0m-125.7 1.3h0m53.2 0h0m-86.3 4.4h0m21.3 .4h0m3.5-.9h0m4.7 .3h0m42.4 .4h0m5-1.6h0m8 1.7h0m17.9 .4h0m4.2-2h0m2.1 1.7h0m11-1.5h0m9.3 1.3h0m11.4-.5h0m-96.4 3.1h0m24.3 .6h0m21.4 .3h0m27.7 0h0m-96.8 3.1h0m49.3-.7h0m31.3 0h0m47.2-1.1h0m9.6 .8h0m-130.8 3.1h0m14.6 .7h0m9.6 .3h0m14.5-1.4h0m13.4-.3h0m13.7 .3h0m10.1-.7h0m3.8 .1h0m40-.2h0m-100.7 4.1h0m31.5 1h0m9.9 .1h0m15.4-1h0m2.4 .9h0m34.6-.9h0m-133.9 1.8h0m44.3 1.5h0m5.6-1h0m27.4-.5h0m41.2 2.1h0m7.3-1.1h0m-83 3.4h0m28.7-.3h0m38.2-.9h0m10.2 0h0m18.4 .4h0m-15.4 4h0m8.7-1.5h0m22.1 .6h0m-149.6 4.4h0m7.1 .3h0m7.6-1h0m25.8-1.4h0m-8.7 4.4h0m43.5-.2h0m12.3 1.2h0m9.6-1.3h0m9.5-.8h0m-15.5 4.6h0m47-1.7h0m-111.8 3.6h0m27.7 1.6h0m18.4-1h0m38.9-.9h0m2.7-.3h0m7.8 0h0m-117.9 3.8h0m72.9-.2h0m36 .8h0m9.8-.5h0m-120.8 2.9h0m92.9 .2h0m33-.2h0m-137.1 4.2h0m68.9-1.5h0m39.7 1.9h0m3.2-1.2h0m2.9-.7h0m7.7 .1h0m16.5-.1h0m18.8 1.4h0m-116.9 2h0m2.3 .3h0m7.8 .9h0m10.2-1h0m6.9-.4h0m2.4 .5h0m7.7 .8h0m70.9 .4h0m-90 1.7h0m18 .6h0m13.7-1.3h0m7.6 2.1h0m-85.6 1.6h0m2.7 1.4h0m26.9-1.1h0m11.5-.3h0m48.9-.1h0m-84.4 3.7h0m4.9 .7h0m22.1-1.5h0m18.5-.4h0m23.4 1.5h0m20.5 .6h0m11.6-.2h0m5.4-2h0m-120.2 3.3h0m39.7-.1h0m22.5 .4h0m7.2 .6h0m7.9-.2h0m21.9 1h0m40.5-.2h0m13.6-1.6h0m-106.8 3.4h0m-28.4 3.1h0m18-.6h0m13.8 1.1h0m13 0h0m33.1-.5h0m9.8-.6h0m40.5 1.8h0m-17.2 3.1h0m14.2-.9h0m-122.4 3.2h0m15.6-.5h0m3.1 1.3h0m14.2-.1h0m10.3-1.6h0m55.1 .5h0m14.1-.5h0m18.5-.2h0m-124.9 3h0m2.4 1.2h0m95.1-.4h0m6.5 1.2h0m22.7-1.3h0m-163.5 3.1h0m24.4 .1h0m4.5-.3h0m5.7 .3h0m3.1-.5h0m15.6 .8h0m5.6 .1h0m77.6 .7h0m-131.7 3h0m69.5-.5h0m-2.1 3.8h0m4.6-1.2h0m13.7 .7h0m32.5-.5h0m-117.9 3.5h0m20.7-.5h0m102-.3h0m21.6-.4h0m-35.3 3.6h0m36.8-1h0" />
<path fill="none" stroke="#1a2890" stroke-width="3" stroke-linecap="round" d="M182.5 2.9h0m6.1 .1h0m-1.3 2.1h0m16.9-.4h0m-5.2 1.9h0m7 4h0m-2.7 2.6h0m-18.5 4.2h0m8.3-.2h0m4 .5h0m3.6-.1h0m3.5-.5h0m-18.1 3.3h0m12.7-1.5h0m-1.9 3.4h0m6.9 .3h0m.1 4.3h0m-14.3 2h0m3.5 2.7h0m1.7 .7h0m4.2-.7h0m4 0h0m-12.4 3.3h0m3.1 1.4h0m3.3-1.4h0m3.8-.4h0m-14.3 4.8h0m6.7-1.4h0m2.9 .4h0m7.5-.6h0m-19 3.3h0m2.3 .4h0m3.5 .3h0m6.7-1.2h0m-8.4 4.7h0m8.4-1.5h0m3.4 1.1h0m1.7-1.1h0m-17.6 3.4h0m3-.8h0m2 .3h0m8.9 .4h0m-8.6 3.7h0m12.1 3.7h0m-16.7 2.9h0m6.5-1.9h0m10.1 .8h0m-15.5 2.9h0m19.3 4.5h0m-22.9 2.1h0m10.5-.7h0m-10.2 3.6h0m10.5-.9h0m6.3 0h0m2.3 .6h0m3.8-.5h0m-18.5 5.1h0m17.1-1.8h0m-19.6 2.7h0m18.6 .7h0m-20 2.8h0m6-.1h0m9.1-.2h0m6.9 1.8h0m-15.7 3h0m8.6-1.3h0m-14.3 2.7h0m17.5 1.1h0m-6.4 3.8h0m7-.2h0m-22 2.5h0m11.1-1.3h0m7.1 .1h0m3.3 1.2h0m-16.5 1.6h0m8.3 .3h0m2.1 .4h0m6.4-.1h0m-11 2.4h0m4 2h0m3.7-.1h0m3.4-1.9h0m-16.4 3.2h0m4 2.1h0m5.3-1.8h0m7.1 1h0m-21.1 1.6h0m7 .7h0m-6.9 4h0m4.6-.7h0m4.3 .7h0m6.6-1.3h0m-4.9 4.6h0m7-1.5h0m3.4 1.9h0m-19.5 2.5h0m16 .4h0m-14.3 1.1h0m6.2-.2h0m2.5 1.2h0m3.5 .9h0m-8.1 2.1h0m4.2-.2h0m6.3-.3h0m-15.9 3.6h0m3.5 .2h0m8.6-1.5h0m-12.8 4.2h0m13 1.2h0m6.6-.3h0m-18.9 2.2h0m8.3-.5h0m10.6 .7h0m-20.6 2.5h0m14-.7h0m-12.6 4.8h0m8.3-.2h0m5.4-1h0m7.5 1.1h0m-15.6 3.6h0m11.9-1.6h0m3.7-.1h0m-23.3 4.3h0m6.8-.1h0m4-.1h0m9.7 .1h0m-16.9 2.9h0m4.4 .7h0m11.2-.4h0m2.8-.8h0m-21.4 2.2h0m5.9 .9h0m3.7-.5h0m6.8 1.3h0m2.8-1.2h0m-5.4 2.8h0m5 .7h0m3.5-.4h0m-2.1 4.2h0m2.7-1.6h0m-9.1 2.7h0m-10.1 3h0m12.9 .7h0m7.8 1h0m-13.3 1.6h0m6 2h0m5.8-1.6h0m-20.7 4.6h0m3.5-.1h0m10.6-1.4h0m-12.3 2.8h0m6.1 .5h0" />
<path fill="none" stroke="#1a8a9c" stroke-width="3" stroke-linecap="round" d="M204 2.7h0m-12.1 2.1h0m19.8-.5h0m3.8 1.5h0m3.9-2.2h0m-35.1 8.3h0m14-.3h0m-8.3 2.4h0m26.3 3h0m-21 2.5h0m-3.9 4.7h0m5.3 1.1h0m1.8-.3h0m19.4 1.7h0m-13.1 3.4h0m15.6 9.3h0m-25.4 10.1h0m26.3 0h0m-9.9 5.1h0m-9.4 4.3h0m-16.2 4.4h0m16.4-.6h0m15.8 1.9h0m-33 5.3h0m25.1-.5h0m-18.4 3.3h0m4.3 2.9h0m4.1-.1h0m10.4 2h0m-14.2 3.7h0m17.1 .5h0m-26.7 3.4h0m32.9-1.1h0m-37.9 3.1h0m17.3-.3h0m7.6 .5h0m12.3 8.7h0m-27.3 7.3h0m19.6 1.1h0m3.2-.3h0m-30.4 4.1h0m21-.2h0m.7 4.3h0m1.8 7.1h0m-15.9 3.3h0m-10.2 4.6h0m20.8 4.8h0m8.9 .6h0m9.1 9.5h0m-7.4 2.3h0m-20.1 4.6h0m18.3 2.4h0m-22.2 1.5h0m3.3 .6h0m6.5-.3h0m-8.2 4.7h0m-5.8 2.6h0m24.4 3.2h0m-12.5 3.5h0m12.4-.7h0m7.9 .2h0" />
<path fill="none" stroke="#6a4014" stroke-width="3" stroke-linecap="round" d="M1.6 5.6h0m1.5 2.5h0m5.5 2.1h0m7.6 .6h0m-16 4.1h0m2.3-1.7h0m5.7 4.7h0m4.2-.1h0m3.5-1.9h0m-8.8 5.2h0m7.3 5.3h0m-2.2 1.8h0m-5.7 4h0m4.6 0h0m2.7 1.1h0m-1.4 1.6h0m-4.6 3.3h0m3.8 1.3h0m3-1.5h0m-1.1 3.4h0m-8.8 2.3h0m-3.3 3.3h0m4.1 1.4h0m6.9-1.6h0m-11.5 8.6h0m.2 7.3h0m3.9 9.9h0m3.6-.7h0m-9.1 3.7h0m2.8-.9h0m-2.4 5.5h0m10.9 .1h0m1.8 3.4h0m-5.5 2.5h0m5.7 3.9h0m-12.7 2.1h0m8 .7h0m6.3 6.8h0m-14.6 4.5h0m3.8 .5h0m12.7-.4h0m-11.7 4.2h0m.9 6.5h0m-4.1 6.5h0m14.9-.4h0m-5.9 2.1h0m3 5.8h0m-7.1 8.7h0m3.6 4.5h0m-7.7 2.7h0m6.6 1.1h0m2.7-1.1h0m-9 2.2h0m9.2 4.9h0m-4.9 1.2h0m1 4.6h0m-6.7 1.8h0m1.2-.5h0m-1.7 7.8h0m2.1-.7h0m8.7-.7h0" />
<path fill="none" stroke="#d8c890" stroke-width="2.2" stroke-linecap="round" d="M125 5.1h0m14.1 7.8h0m33.5 4.5h0m-116.4 1.6h0m41.2 .9h0m34.6 2.9h0m28.4-.6h0m-94.5 14.1h0m50.3 3.2h0m22.3 2.4h0m-29.1 3.7h0m7.3 8.7h0m27.2 2.5h0m-48.8 3.1h0m17.6-.6h0m-38.3 3.8h0m-18.9 10.5h0m52.7 1.5h0m-30.3 4.9h0m-19.1 4.9h0m5.8-.8h0m44.2 3.3h0m.2 5.7h0m55.1-.3h0m-76 3.3h0m79.5 2.5h0m-107.3 2.6h0m27.9 1.4h0m8-.9h0m67 1.1h0m-76.5 3h0m15.4-.4h0m-16.6 4.1h0m-50.2 2.6h0m40.7-1h0m61 .7h0m40.5 .5h0m-148.9 1.8h0m146.3 3.4h0m-153.8 6.9h0m107.6 .3h0m-89.5 2.9h0m99.2-1.4h0m-107.5 6h0m89.2 .1h0m-98.4 4.6h0m6.9-1.4h0m45.4 1.1h0m32.4 2.9h0m33.8 2.1h0m9.9 0h0m-67.6 3.7h0m-8 2.3h0m73.7-.7h0m31.9 4.2h0m-165.1 7.1h0m7.4-.4h0" />
<path fill="none" stroke="#2a36b0" stroke-width="3" stroke-linecap="round" d="M195 4.9h0m-13.1 2.1h0m20.4 15.5h0m-16.7 4.3h0m14.8 11.6h0m-7.4 5.2h0m-8.6 10.1h0m10.4 .2h0m2.2 2.1h0m-2.3 4.4h0m9-.1h0m-4.4 3.5h0m-12.5 3h0m1 7.9h0m-2.8 12.2h0m7.7 .7h0m11.3 7.8h0m-23.4 13h0m9.1 2.3h0m14.4 4.8h0m-14.4 7.3h0m8.8 3.7h0m4.7 3.5h0m-18.8 5.2h0m11.8 6.7h0m7.5 3.7h0m-15.8 1.3h0m.3 4.1h0m-6.8 6.8h0m6.8 8.1h0" />
<path fill="none" stroke="#1a2880" stroke-width="3" stroke-linecap="round" d="M209.2 18.2h0m7.1 2.1h0m4-.5h0m-5.4 2.7h0m-4.6 4.6h0m10.6-1.2h0m-3.3 4.1h0m3.6 1.6h0m-10.5 3h0m3.3 9.8h0m-1.5 24.9h0m5.5 9.4h0m-8.8 21.2h0m3.5-.2h0m6.6 6h0m-10.4 21.2h0m10.4 3.5h0m-1.7 2h0m-3.2 3.5h0m5.8 18.1h0m-9.2 7.3h0" />
<path fill="none" stroke="#a050c0" stroke-width="3" stroke-linecap="round" d="M186.9 54.1h0m7 30.5h0m7 16.8h0m-8.5 35.4h0m-9.8 2h0" />
<rect x="0" y="0" width="217.8" height="163" filter="url(#sf16)"/>
<ellipse cx="40" cy="95" rx="8" ry="40" fill="#120c06" opacity="0.45" filter="url(#bl3)"/>
<ellipse cx="125" cy="120" rx="14" ry="8" fill="#0a0a10" opacity="0.45" filter="url(#bl3)"/>
<ellipse cx="150" cy="60" rx="10" ry="18" fill="#0a0a14" opacity="0.3" filter="url(#bl3)"/>
</g>
</svg>
<text x="8.3" y="10.5" font-size="8.2" font-weight="bold" fill="#fff">MF22</text>
</g>
<g transform="translate(384 647)">
<svg width="217.8" height="161.7" overflow="hidden">
<g filter="url(#soft)">
<rect x="0" y="0" width="217.8" height="163" fill="#2094b2" />
<rect x="0" y="0" width="217.8" height="163" filter="url(#sf17)"/>
<path fill="none" stroke="#44c4d8" stroke-width="2.7" stroke-linecap="round" d="M-0.8 2.1h0m65.7-1.4h0m11.3 1.1h0m112.4-.7h0m-183.4 2.3h0m9.5 .5h0m13.3 .6h0m4.3 .7h0m31.7-.4h0m32.3 0h0m43.6-.7h0m13.5 .8h0m6.7-.6h0m9.5 .3h0m27 .5h0m-187.3 2.1h0m4.5 .8h0m19-1.8h0m16.6 .9h0m15.6-.2h0m10.2 .5h0m9.8-1h0m15.1 .7h0m49.1 .3h0m21.6-.4h0m41.3 0h0m-200.1 3.9h0m29.6-.8h0m15.7 0h0m6.2-.2h0m7.7-.1h0m7.4 .1h0m42.8 .3h0m85.7 .4h0m5.1-.2h0m-212.4 3.2h0m36.7 0h0m15.6-.3h0m65.8-.7h0m51.5 1.5h0m22.2-1.5h0m25.6 .5h0m-214.7 2.3h0m15.1-.5h0m40.8 .3h0m6 .7h0m15.9 0h0m6.8-.6h0m60-.1h0m12.5 1.1h0m13.5-.7h0m30.7 .9h0m-161.6 2.8h0m162.4-.9h0m-128.1 2.5h0m48 0h0m24.9 .1h0m13.7 1h0m12.8 .3h0m39.6-.7h0m3 .3h0m-132.8 3.2h0m30-1.2h0m69.3 .1h0m8.7 1.7h0m4.9-2h0m9.5 1h0m2.1-.4h0m-192.1 4.1h0m66-1.9h0m36.5-.1h0m42.1 1.5h0m8.4-1.5h0m9.6 .2h0m-118.6 3.8h0m21.2 .1h0m38.4 .5h0m32.8 .3h0m30.5-.9h0m28.6 .6h0m-211.1 3h0m5.4 .2h0m20.3-.5h0m135.4-1.1h0m56.8 .5h0m-193.8 1.9h0m50.2 .2h0m3.5 1.2h0m28.1 0h0m20.2-.6h0m12.3 .1h0m11.2-.1h0m2.1-.5h0m24.8 1.1h0m2.7-1.4h0m12.4 .3h0m19.3 1.6h0m-212.8 1.3h0m106.5 1.8h0m33.5-1.3h0m6.1-.6h0m6.6 0h0m37.6 .1h0m-135.7 3.3h0m53.6-.1h0m7.4 .9h0m12.3-1.4h0m16-.2h0m17.7 0h0m35.5 .5h0m16.6-.4h0m-138.9 4.7h0m110.2-1.8h0m14.7 .6h0m-91.9 2.6h0m17.4 1.7h0m4 .1h0m47.4-.2h0m33.8-1.4h0m-197.2 4.2h0m34.8-.5h0m6.2-1.4h0m25.9 .2h0m22.4 1h0m17.4-.6h0m36.8-.1h0m2.9 .9h0m10.3 .4h0m-138.4 2.1h0m24.2-.5h0m16.1 1.4h0m70.1-1.6h0m28.7-.1h0m-158.9 3h0m41.6 1h0m49.8-.1h0m10.7-1h0m51.4 1.5h0m10.4-.1h0m10.6-1.1h0m8.7 .1h0m21.4 .9h0m-81.3 1.3h0m60.2 1.9h0m21.4-.7h0m-196.5 2.2h0m29.5 .9h0m23.8 .5h0m25.5-.6h0m8.7-1.1h0m15 .1h0m20.5 .8h0m19.1-.7h0m-153.9 4.6h0m14.4-1.5h0m15.3 1.3h0m33.4-.1h0m40.5-.1h0m45.8-.5h0m12.5 .8h0m8.3-1.6h0m24.5 1.3h0m-195.3 1.6h0m16.9 .3h0m12.3 .5h0m115.8 .7h0m26.2-1.5h0m9.1 .2h0m-177.9 3.2h0m24.7-.5h0m70 1.4h0m36.5-1.5h0m-94.1 4.4h0m19.8-.1h0m35.5-1.8h0m20.6 1h0m22.9-.7h0m-50.8 3.3h0m10.7 1.4h0m2-1.7h0m59.6-.4h0m9.6 .6h0m-176.6 2.6h0m3.8 1.4h0m28.7-.4h0m4.8-1.1h0m22.6 .9h0m5.9-1.2h0m43.7 1.4h0m20.6 .5h0m85.9-.3h0m-217.3 2.8h0m162.1-1.1h0m10 .2h0m30.2 .4h0m-171.6 3.5h0m119.2-1.3h0m17.7 .4h0m15.2 .6h0m37.3-.1h0m-220.1 3h0m20-1.2h0m14 1.8h0m18-1h0m-46.4 2.3h0m2 .8h0m91-1h0m92.4 1.6h0m19.4-1.6h0m-174.8 4.4h0m3.2 .1h0m13.4-1.9h0m10.2 2.1h0m4.3-1.2h0m19.6-.9h0m5.6 1.9h0m10.1-1.8h0m7.5 0h0m8.9 .6h0m9.9 .9h0m59.2-.5h0m27.5 .6h0m2 .2h0m-145.7 2h0m20.1 1.2h0m1.7-1.7h0m53.8 .4h0m7.2-.2h0m5.2 .2h0m20.9 .1h0m-164.3 2.8h0m85.6 .8h0m47.3-1.3h0m37 .3h0m9.5 1h0m16.2-1.1h0m-205.2 3.1h0m23 .1h0m18.5 .5h0m50.6-.4h0m10.1-.6h0m11.7 1.5h0m34.5 0h0m-144 .9h0m65.6 1.1h0m6.2 .5h0m7.3-.8h0m23.6 .6h0m28.4-1.2h0m17.9-.2h0m12.5 1.5h0m-127 2h0m2.3 .4h0m13-1h0m100.3 1.6h0m2.1-.3h0m7.1-.5h0m20.7 .3h0m10.2 .8h0m-184 1.9h0m21.8 .4h0m26.4-1.2h0m70.5 .2h0m39.9 .6h0m-147.8 3.6h0m26-.5h0m11.6-.9h0m35.8 .8h0m51.5-.2h0m58.2 .3h0m-194 1.6h0m12.8 1.2h0m19.6-.6h0m8.2 .5h0m78.4 1.2h0m33.3-1.8h0m15.8 1.1h0m4.2 .2h0m24.7 .1h0m-204.7 1.6h0m57.9 .3h0m10 .3h0m52.5 1h0m27.1-.6h0m39.4 .1h0m-192 2.3h0m75-.8h0m23.5 .4h0m4.1-.1h0m61 1.2h0m6.8-1.6h0m21.1 .7h0m-170.7 3.8h0m56.3-1.6h0m17.3 1.4h0m9 .1h0m19.1 .4h0m34.2-.8h0m26.2 .2h0m-179.1 3.5h0m42.8-1.2h0m85.6-.3h0m5.4-.6h0m17.1 1.8h0m13.8-.6h0m16.7-1.1h0m-171.9 4h0m44.3-.8h0m45.8-.2h0m3.8 .9h0m32-.9h0m29.5 1.7h0m4.2-.1h0m-175.7 1.2h0m12.2 1.4h0m45.1-.3h0m36.4-.6h0m57.8-.6h0m31.8 2.1h0m-175.3 1.8h0m33.1 1.1h0m10.2-1h0m57.6-.8h0m12.8-.1h0m20.8 .7h0m34.1 .2h0m32 .1h0m-204.1 2.8h0m3.6 .3h0m19.7-.2h0m3.5-1.3h0m7.7 .9h0m56.8-.6h0m11.3 0h0m24.4-.1h0m-116.9 3.1h0m2.6 1.4h0m13.5-.1h0m48.7-1.1h0m70.6-.3h0m18.3 1h0m4.4 0h0m13-.2h0m13.4-1.1h0m-141 5h0m79.3-1.5h0m7.8 .7h0m4.4 .3h0m-122.7 1.3h0m16.3 1.4h0m14-.4h0m22.8 .9h0m10.4-1.5h0m21.8 .7h0m4 .9h0m12.6-1.7h0m4.8 1.6h0m6.5-.7h0m38.7-.3h0m-160.7 3.7h0m3.7 .3h0m40.5-2.2h0m16.4 .1h0m45.8 1h0m20.4 1h0m13.1-1.2h0m8.6 .3h0m29.9-.8h0m21.1 .8h0m-213.3 1.9h0m22.9 1h0m4.2-.1h0m35.3 .4h0m4.3-.2h0m44.1 .9h0m21.8-.7h0m-95.5 2.5h0m24 .3h0m17.1 0h0m16 0h0m56.6 .2h0m2.8-.5h0m15.6-.1h0m19.4-.1h0m15.1-.6h0m8.7 1.1h0m-168.7 2.1h0m15.8-.6h0m10 1.6h0m32.7-.3h0m43.4 .8h0m18.7-.3h0m3.3-1.3h0m30.5-.4h0m-202.9 2.9h0m72.1 1.3h0m7.5-1.4h0m31.4 .5h0m3.4 1.4h0m43-.4h0m8.1-.6h0m2.9-.8h0m18.5 1.1h0m6.5 .3h0m-185.3 2.4h0m5.9 .7h0m13.1-1.1h0m11.3-.3h0m87.9 1.7h0m4.6-1.9h0m1.7 1.5h0m19.6-.2h0m51.1-1.6h0" />
<path fill="none" stroke="#163088" stroke-width="2.7" stroke-linecap="round" d="M3.3 1h0m10.1-.3h0m33.9 1.9h0m2.8-.8h0m128.6 .7h0m-61.4 1.4h0m10.7 1.2h0m47.8 .2h0m15 .2h0m15.6-.3h0m-179.8 2.9h0m12.3-1.3h0m53.9-.5h0m16.1 .5h0m25.5 .4h0m21.7-.1h0m19.2 0h0m5.8 1h0m-152.4 2.4h0m32.1-.5h0m20.8-.2h0m16-.3h0m10.3 1.6h0m28.2-.1h0m17.1-.9h0m2.8-.3h0m24.2 .4h0m6.8 .1h0m10.3-1h0m-168.3 3.5h0m40.7 .4h0m2.8-1h0m17.2 1.8h0m9.2-1.4h0m13 1.2h0m16.2-1.2h0m30.5 .8h0m53 .4h0m2.5-.7h0m-131 2.5h0m21.7 1.1h0m21.8-1.6h0m24.5 .2h0m6 .3h0m25.1 .7h0m-78.8 2.8h0m68.7-.4h0m6.1 0h0m-152.5 4h0m85.7-1.1h0m1.7 0h0m46.1 1.1h0m13.5-2h0m23.3 1h0m-197.1 2.2h0m24.4-.2h0m36.7 1.9h0m5 0h0m33.5-1.7h0m50.1 .1h0m13.1 .7h0m9.3-.8h0m-160 3.3h0m40.3 0h0m13.4 1.4h0m22-2.2h0m14.2 2.1h0m45.9-1.1h0m70.1 .9h0m-176.3 1.5h0m61.3 .2h0m59.3-.8h0m35.7 1.3h0m-163.3 3.2h0m8.2-.1h0m35.7-1h0m52.9 1h0m38.5-.6h0m-140.2 3.3h0m90.2 .6h0m3.9-1.2h0m3.5-.6h0m6.4 1.9h0m16.2-2h0m25.5 .6h0m-139.4 3.7h0m20.4 .7h0m15.2-1.1h0m30.7 1h0m-93.9 1.6h0m118.1 .8h0m16.5 0h0m45.5-1.4h0m-181.4 4h0m8.2 .1h0m10.7-.1h0m22.3 .7h0m34.6-.3h0m14.9-1h0m37.4 1.2h0m41.7-1.8h0m43.5 .7h0m-134.1 4.3h0m29.9-.6h0m25.9-.5h0m39.9 1.1h0m4.6-1.4h0m-167.5 2.2h0m6.4 .6h0m106 .6h0m57-1.3h0m15.2 .5h0m-181.9 3.3h0m80.9-.4h0m73.8 .1h0m-137.4 4h0m9.7-.7h0m28.7-.7h0m71.2 1.6h0m2-.5h0m9.5-.7h0m3.3 1.3h0m20.3 0h0m36.2-.6h0m-205.9 1.5h0m35.4 .5h0m28 1.1h0m18.5 .3h0m23-1.3h0m6.3 .8h0m38.2 .6h0m26.2-.4h0m-146.5 1.3h0m15.5 .5h0m2.7 1.5h0m57.2-.4h0m28.3-1.4h0m10.1 .7h0m16.8 .2h0m-86 2.8h0m29.1 .7h0m46-.9h0m-151 3.3h0m19.6-.9h0m169.1 .2h0m3.6 1.3h0m-160.8 .8h0m84 1.5h0m44.8 .6h0m26.8-.5h0m2.6 .2h0m-165.3 2.7h0m6.5-1h0m13.5 .8h0m16 .7h0m10.5-1.4h0m9.4-.7h0m23.4 1.1h0m6.3 .7h0m95 .3h0m-172.8 1.1h0m29.9 .3h0m49.2 .2h0m6.5 .4h0m56.1-.7h0m-172.1 2.9h0m172.8-.1h0m-153 4.2h0m23.8-.7h0m8.6-.3h0m8.7 1.3h0m16.6-1.3h0m5.1-.7h0m29.8 1.7h0m-100.4 2.8h0m52.2 0h0m113.2 .4h0m12.9-.3h0m-186 1.8h0m22.1 .3h0m16.9 1.2h0m2.4-.9h0m51.4-1.2h0m4.6 1.7h0m-73 2.5h0m32.5 .3h0m103.5-1.8h0m38.1 .8h0m-79.2 3h0m32.6-.6h0m-122.1 4.5h0m66.4 .2h0m72.2-1.6h0m-184.4 3.8h0m9.4-.9h0m74.9 .7h0m49 .3h0m40.1 .7h0m22.6-1.3h0m-189.1 3.8h0m3.9-.4h0m83.1 .7h0m19.7-1.5h0m36.4-.3h0m26.7 1.8h0m-140.9 2h0m83.1-1.1h0m15.4 .9h0m16.9-1.1h0m25.5 1.2h0m-149.3 2.6h0m59.6 .8h0m2.4-.6h0m50.3 .3h0m33.1-.8h0m28.9 1.6h0m2.7-1h0m10.8 1h0m-210.4 1.5h0m143.3 .3h0m36.2-.2h0m-177.8 2.8h0m3.5 .4h0m9.5-.2h0m4.3-1h0m16 1.5h0m68.6-.7h0m89.6 1.2h0m21.4-2.1h0m-184.9 3.9h0m40.4-.4h0m72.7 .4h0m22.5 1.1h0m40.1-1.1h0m-124.1 3.5h0m25.8-.8h0m67.8 .4h0m-180.8 3.3h0m122.7 .4h0m15.7-1.6h0m64 1.2h0m11.9 .4h0m-203 2h0m33.3 0h0m50.4 .7h0m5.6-1.8h0m32.4 1.3h0m39.8 .8h0m-172.4 2.9h0m26-.5h0m9-.8h0m20.9 1.1h0m66.1-.1h0m45.1-1.8h0m-123.7 3.6h0m23.6 1.3h0m114.9-.1h0m27.1 .1h0m-193.7 .8h0m10.2 .6h0m19.4 .6h0m24.3 .5h0m102-1.5h0m26 1.9h0m-142.7 1.1h0m66.6 1.5h0m31.3 0h0m28.2-.6h0m8.1 0h0m-173.6 2.6h0m33.4 0h0m10.3 .8h0m2.5-1h0m11.5-.7h0m2 1.1h0m4.1 .9h0m3.6-.7h0m3.1-1h0m93.3 1h0m6.6 .5h0m4.9-1h0m11.2 .5h0m-191 2.2h0m75.7 1.3h0m-48 1.8h0m59.6 1.1h0m85.8-1h0m20.4 .7h0m5.8-.8h0m3.8 .2h0m4.9 .7h0m-197.1 1.8h0m26.4 1h0m19.3-1.9h0m8.9 .3h0m61.1 1.4h0m38.9 .2h0m-173.6 1.2h0m10.8 .8h0m125.9 .6h0m24.8 .3h0m-162.3 2.5h0m49 .4h0m42.6-1.9h0m53.9 .4h0m22.6-.2h0m20.1 1.1h0m2.9 .8h0m-180.2 1h0m76.6 .8h0m13.2 .7h0m50.2-1.7h0m8.5 1.8h0m10.2 .1h0m7.1 .2h0m-153.5 .9h0m28.7 2.1h0m43.9-1.4h0m25.5-.3h0m85.8 1.2h0m-178.5 2.5h0m32-.6h0m24.2-.1h0m115.3 1.4h0m-171.8 .9h0m112.7 1.5h0m67.6 .1h0" />
<path fill="none" stroke="#cfc584" stroke-width="2.7" stroke-linecap="round" d="M7.3 1.7h0m76.2-.4h0m41.3 1.4h0m10.7-1.2h0m3.9-.3h0m26-.4h0m35 1.1h0m8-.2h0m-166.2 2.6h0m8.7-.6h0m23.8 .1h0m6.1 .6h0m13.7-1h0m5.5 0h0m11.2 1.9h0m72.6 .2h0m8.1-1.3h0m7 1.3h0m13.7-1.7h0m5.8 .5h0m-216 4.1h0m17.4-1.5h0m76.1 .4h0m19 .3h0m16.5-1.1h0m6.5 1.4h0m3-1.1h0m3.4-.1h0m24.6 1.2h0m-114.1 1.5h0m36.7 .1h0m32.9 0h0m10.2 0h0m15.7 .4h0m15.8 0h0m17.5-.1h0m9.8 1.6h0m-150.5 2.6h0m91.7-.6h0m63.9-1.1h0m6.9 .6h0m-163.3 2.7h0m3.3-.1h0m7.9 .7h0m13.5 .7h0m54.1-.2h0m33.4 .4h0m16.2-1.7h0m15.6 1.1h0m-162.9 1.7h0m28.7 1.4h0m6.8-.1h0m3.9-1h0m10.8-.2h0m12.1 1.1h0m13.2-1.2h0m6.2 .4h0m57.1 .4h0m23.1-.7h0m-91.3 4.1h0m14.5-1.1h0m24.7-.5h0m3.1-.1h0m66.7 .2h0m-192 4.5h0m15.8 .2h0m2.7-1.1h0m20.6 1h0m39.9-.2h0m16.3 0h0m25.8 .1h0m25.6-1.5h0m10.8 .4h0m-163.2 2.1h0m3.5 1.2h0m19.9 .7h0m13.1-1h0m33.8-.4h0m15.3 1.2h0m40.3-.4h0m2.5-1h0m6 1.7h0m20.6-1.6h0m59.2 1.7h0m-149 2.5h0m5.1-.6h0m13.8 .2h0m4.3-.7h0m13 .6h0m21.4 .2h0m41.1-.2h0m6.4-.2h0m13-.2h0m13.9 .4h0m-197.6 3.5h0m10.8-.9h0m5.6-.5h0m4.4 .7h0m31.9-.1h0m10.7 1.1h0m29.9-1.2h0m1.5-1h0m10.1 1.9h0m4.1-.9h0m6.7-.6h0m4.2 1h0m16.1-.2h0m-138.5 3.6h0m7.9-1.7h0m21.9 1.2h0m16.7-.6h0m4.7 1.5h0m19.1-1.1h0m43.8-.6h0m20 1.3h0m2.7 .2h0m25.5-1.2h0m-144.1 3.5h0m17.5-1.4h0m13.7-.1h0m79.3 .9h0m25.6-.1h0m9-.5h0m11.2 .1h0m19.9 1.2h0m-177.1 3.3h0m3.1-1h0m36.8 .1h0m16 .1h0m29.6 .7h0m17.4-.1h0m84.5-1.8h0m-175.9 3.4h0m13.4-.5h0m14.2 .9h0m28.7-.1h0m43 .6h0m6.5-.1h0m22.6-1h0m23.9 1.4h0m-182.6 2.1h0m56.3 .6h0m11.3 .1h0m13.6-.5h0m30.4-1h0m10.8-.3h0m16.5 2.1h0m16.1-.5h0m-152.9 2.9h0m4.4 .6h0m23.7-.7h0m12.8-1.2h0m50.9 1.8h0m15.9-2.1h0m6.4 0h0m23.9 1.9h0m38 .1h0m-153.4 3h0m16.4-1.7h0m23.8-.3h0m20 2.1h0m81.8-2h0m10 1.8h0m4.3-.4h0m2.8-1.1h0m6.9-.1h0m-166.1 3.5h0m15.8-1h0m23.7 1.3h0m20.2-.1h0m5.3-.5h0m19.2 1.5h0m14.1-1.9h0m45.8 .8h0m11.4-.1h0m20 1.2h0m-159 1h0m24.2 1.7h0m26-.7h0m7.3-1.3h0m12.8 .1h0m20.6 0h0m42.6 1.5h0m35.5 0h0m-209.7 2.9h0m46.6-.9h0m127.8 1.1h0m11-.6h0m29.6-1.2h0m4.2 .2h0m-202.9 4.7h0m11.4-2h0m20.4 .9h0m11-.9h0m34.5 .9h0m6.7 .8h0m3.3-.7h0m14.1 .2h0m36.5-1.3h0m18.8 2h0m20.2-1.3h0m3.7 .6h0m15.6-.5h0m-180.1 3.4h0m21.7-.5h0m26.4-.3h0m68.7-.5h0m6.4 .2h0m13.5 .9h0m36.7 .1h0m-203.7 1.8h0m17.3 0h0m38.7 .9h0m13.9-.4h0m19.1 .3h0m5.7-.3h0m33.4-.4h0m57 .4h0m30.3 0h0m-61.4 3.6h0m9.2 .3h0m17.2-.9h0m-165.9 4.2h0m6 0h0m7-1.8h0m8.2 .5h0m77-.4h0m16.4 1h0m42.5 .4h0m23.3 .4h0m-54.6 2h0m16.3-.2h0m-150.6 3h0m12.9 .8h0m63.2 .2h0m18.1-1.9h0m12.7 1.8h0m29.1-2.1h0m19.4 .1h0m14.6 1.7h0m2.2 .3h0m-162.4 2.1h0m2-1.4h0m29.6 1.3h0m64.3-1.3h0m3.3 2h0m8.4-.5h0m16.4-.6h0m14.6-.9h0m19.1 .4h0m33.5 1.3h0m-160.7 2h0m56.8 1h0m29.9 .1h0m14.8 .2h0m6.9-.3h0m6.1-.9h0m10.5 1h0m13.6-1.9h0m5.7 1.3h0m-170.2 2.9h0m40.7-1.2h0m13.4 .4h0m82.3 1.3h0m9 .4h0m17.9-1.3h0m-180.4 4h0m17-1.1h0m10-.3h0m16-.1h0m23 1.2h0m52.3-.9h0m17.5 .8h0m58-1h0m11.7-.3h0m-181.8 4.4h0m71.2-.6h0m42.9 .4h0m24.7 .2h0m-166.4 3h0m26.2-1.5h0m40.7 1.1h0m56.1-.7h0m27.1 .3h0m4.8 .3h0m11.4-1.1h0m39.2 .1h0m-187.2 2.6h0m3.3 .6h0m19.4 .9h0m17.6 .4h0m54.9-.6h0m11.3 .4h0m44.8-.5h0m13.9-.2h0m33.5-1.1h0m-202.6 3.6h0m12.8 1h0m13.6-1.6h0m6 .3h0m19.9-.6h0m3.5 1.4h0m30.4 .3h0m6.4 .1h0m12.1 .2h0m8-1h0m16.1-1h0m18.6 .5h0m17.3 1.2h0m22.3-.6h0m-173.2 2.5h0m47.3 .4h0m32.7 1h0m41.9 .1h0m40.6-2.1h0m-180.7 3.9h0m10.8-.5h0m61.8 1.6h0m30.1-.4h0m26.6-1.2h0m19 1.4h0m3.9-1.8h0m49 .5h0m4.2 1.4h0m-213.6 .7h0m65.6 1.6h0m3.4 .3h0m31.4-1.2h0m77.5 1.4h0m20.2 0h0m13.2 .1h0m-195.7 2.2h0m26.8-.4h0m4.9 .8h0m62.7-1.8h0m40.2 1.2h0m47.7 .3h0m6.7-1.2h0m-172 3.3h0m66.5-.6h0m33.4 1.8h0m-84.1 1.8h0m10.4 .2h0m13.3 .6h0m48-.2h0m11.3-.3h0m23.4 .1h0m2.5-.1h0m46.9 .2h0m-207.3 2.3h0m35.8 .9h0m13.2-1.5h0m20.5 .7h0m33.9-.9h0m15.2 .1h0m-106.1 3.4h0m1.7-.6h0m16.4 1.7h0m13.5 .2h0m69.9-.7h0m32.7-.6h0m7.4 1.3h0m20.2 .2h0m-138.2 1.9h0m55.8-1.1h0m8.5 1.1h0m14.6 .1h0m20.5 0h0m17.7-.5h0m13.1 .5h0m-144.7 1.7h0m7.4 1.5h0m25.5-.2h0m7.5-.7h0m138.6 .5h0m-156.8 3.2h0m11.7-1.4h0m11.6 .7h0m3.6 1.3h0m9.7-2.2h0m51.8 .4h0m32.3 .1h0m6.7 1.7h0m27.9-1.3h0m-196.6 3.6h0m15.4-.4h0m33.9 .4h0m35.4-.7h0m4 1h0m75.7-1.1h0m43.2 .1h0m-190.3 3.4h0m17.5-1.3h0m10.2 1.1h0m28.5 0h0m8 .8h0m35.3-1.1h0m20.6 .5h0m48.1 0h0m23.6-.5h0m-207.2 3.1h0m20.5 1h0m3.9-.4h0m25.9-.2h0m21-.7h0m32.4 1.2h0m3.2-.6h0m16.3-.2h0m2.5-.6h0m4 .4h0m7.4 .1h0m31.7 .7h0m19.8-1.8h0m-159 4.7h0m25.2 .1h0m40.9-1.9h0m26.5 .1h0m15 .4h0m-126.2 4.3h0m10 0h0m9.4-2h0m10 1.3h0m9.3 .4h0m14.9-1.2h0m1.2 .5h0m40.7 .9h0m6.2-.4h0m29.4-.6h0m23 .2h0m7.4-.9h0m29.8 2h0m2.4-.1h0m-199.5 2h0m8 .2h0m6.7-.8h0m87.8 .4h0m21.3-1.1h0m68.8 2.2h0m12-.3h0m3.2-.9h0m-219.2 3h0m37.1-.7h0m10.3 .9h0m3.5-.2h0m45.1-1.1h0m30.2 1.2h0m16 .9h0m55.6-.2h0m-184.9 1.5h0m6.5 1h0m13.6 .1h0m34.4-1.3h0m9.8 1h0m3-.4h0m110.9-.3h0m-151.5 2.2h0m11.1 .4h0m38.1 0h0m39.5 .9h0m6.4 .4h0m71.5-.6h0m-162.3 2.4h0m28.3 .6h0m5.2 1h0m17.7-2h0m27 1.5h0m45.6-.1h0m23.5-1.1h0" />
<path fill="none" stroke="#1c3c9c" stroke-width="2.7" stroke-linecap="round" d="M9.3 0.5h0m6.6 .5h0m7.5-.4h0m8.7 2h0m4.3-1.3h0m5.9 1h0m16.9-1h0m3.2 1.5h0m8-1.2h0m2.3 .6h0m5.8-1.3h0m6.9-.2h0m4.4 1.6h0m12.5-.9h0m4.2-.5h0m3.1 1.4h0m3.4-1.7h0m2 .9h0m8.2 .7h0m6-1.6h0m12.2 1.7h0m4.2 .4h0m6.4-1.6h0m4.2 1.5h0m1.3-1.9h0m10.4 .9h0m2.9-.7h0m4.6 .9h0m6.8-1.3h0m1.6 1.8h0m7.2-1.7h0m3.3 2h0m10.8 .1h0m11.8-2h0m-214.5 4.4h0m5.7-.5h0m3.2-.7h0m7.6 1.1h0m1.9-.7h0m4.3 1.3h0m13.3-.7h0m8.3-.8h0m11.6 .3h0m3.8 .6h0m5 .6h0m3.3-.3h0m13.2-1.5h0m19.4 .3h0m5.2 .1h0m4.6-.4h0m9.8 .9h0m11.3 .1h0m3.7-.7h0m6.9-.6h0m2.4 1.4h0m2.7-1.4h0m14.3 1.1h0m3.5-.7h0m5.1 1.1h0m8.3-.1h0m6.6 .7h0m23-1.4h0m6.5 0h0m-218 3.6h0m8.6-.4h0m8.4-.2h0m14.3 1.3h0m13.4-1.1h0m2.3 .7h0m10.8-1h0m11.8 1.1h0m4.5-1.3h0m5.5 .9h0m4.3-.7h0m19.8 0h0m3.6 .6h0m4.9 0h0m6.7-.3h0m5-.4h0m1.9-.7h0m26 .6h0m11.6 .7h0m14.9-.7h0m6.8 0h0m4.5 .4h0m2.6 .9h0m4-.5h0m3-.6h0m3.2-.2h0m2.6 1.4h0m3.3-2h0m6.7 1.4h0m4.4-.2h0m-212.9 2.7h0m3.8 .9h0m6.7 0h0m3.4-1.2h0m3.3-.4h0m2.4 .2h0m10.4 1.7h0m8.7-2h0m2.9-.3h0m4 1.8h0m17.4 .5h0m6.6-2h0m8 .5h0m4.1-.3h0m12.6 1.7h0m3.7-1.7h0m7.7 .1h0m18.3 1.1h0m9.8-1h0m4.7 .8h0m4 .7h0m14.7-1.2h0m6.5 .2h0m3.2-.7h0m17.8 1.7h0m9-.5h0m3.9-1.1h0m17.1 0h0m-217.4 3.9h0m2.8-.9h0m13.3 .1h0m3.9 .2h0m4.1 1.2h0m5.6-.4h0m17-1.7h0m9.6 1.4h0m3.7-1.1h0m2.9-.2h0m13.7 .4h0m3.2 .1h0m9.7 .8h0m4.2 .1h0m9.8-.7h0m3.7 1.2h0m13.1 .1h0m3.1 0h0m13.6-1h0m3.1 .5h0m6.8-.6h0m1.6-.5h0m3.1 1.1h0m7.6 .4h0m2.2-.8h0m8.3-.8h0m2.2 .3h0m3.5 .7h0m6.8-.2h0m8.8 .4h0m6.8-1.6h0m8.1 2.1h0m-204.3 1h0m6.5 .9h0m3.5 .9h0m16.2-1.3h0m5.2-.2h0m1.6 1.2h0m10.9-.5h0m3.3-.6h0m23.9 .2h0m3.2-.3h0m12 1h0m7.5 0h0m2.8-.8h0m9.6 1.4h0m6.7-.4h0m5.4-.3h0m7 .1h0m6.4-.2h0m4.5-1.3h0m2.1 1.9h0m21.9-.2h0m1.4-1h0m10.5 1.4h0m4.4-.8h0m8 .5h0m10-.7h0m8.2-.4h0m1.6 0h0m7.8 .2h0m2.9 .3h0m-218.2 2.4h0m1.7 0h0m4.6-.7h0m2.7 .9h0m3.1-.9h0m3.2 1.6h0m3.2-.3h0m10.8 .8h0m3.6-1.3h0m6.3-.3h0m8.8-.6h0m7.3 2.1h0m14-1.9h0m5.4 2h0m14.1-1.1h0m2.6 .8h0m4-.9h0m18.5-.5h0m3.9 1.7h0m2.6-.2h0m4.3-.4h0m6.6-.6h0m3-.8h0m2.1 .9h0m3.9-.7h0m6 1.2h0m8.4-.7h0m9.4-.8h0m2.8 .3h0m6.7 1.7h0m5.9-.9h0m11.9-.2h0m2.2 1.1h0m3.9-.4h0m2.9-1.4h0m8.6 1.5h0m5.3-.5h0m-209.5 3h0m9.5-1h0m1.8 .3h0m3.8 1h0m6.4-1.1h0m4.2 1.4h0m2.1-.2h0m11.6-1h0m3.2-.3h0m5.6 .2h0m4.4-.7h0m4.9 .5h0m4.7 .2h0m3.3 1.3h0m10.1-1.1h0m2.8-.8h0m2.1 2h0m4.3-.3h0m10.7 .3h0m1.5-1h0m17.2 .9h0m8-.7h0m16.5 .8h0m7.9-2h0m13.3 1.9h0m4.2-.1h0m11-1.6h0m2.8 .6h0m3.1 .8h0m2.6-1.5h0m11.1 1.6h0m6.4-1.5h0m1.5 .6h0m-206 3.3h0m3.8 .6h0m9.7-.7h0m24.1-1h0m3.6 1h0m3.3 .4h0m6.8-.5h0m8.8-1.1h0m7.6 1.7h0m2.5-1.8h0m3 .1h0m3.5 .2h0m12.2 .1h0m3.9 .9h0m8.1 .3h0m5.8 .4h0m10.4-1h0m5.4 .1h0m2.9 .1h0m8.5-.8h0m1.2 1.2h0m13.5-1.5h0m4.6 1.3h0m19.1-1.4h0m3 .1h0m9.8 .4h0m13 .6h0m4.9-.9h0m9.2 .5h0m2 1.3h0m-216 1.5h0m13.7 1.2h0m6.5-1h0m9.9 .7h0m2.8-.5h0m10.7 .2h0m4.4 .6h0m6.5 .3h0m3.5-1.7h0m2.2 1h0m7.5-1.1h0m9.4 1.9h0m2.2-2h0m17.8 .3h0m7.1 1.7h0m1.6-1.2h0m4 .8h0m5.7-1.6h0m7.4 1.8h0m4.2-.3h0m14.8-.5h0m11.9-.9h0m2.2-.3h0m16.1 .9h0m2.7 .5h0m7.8-1.4h0m3.1 .8h0m5.8 .9h0m7.2 .5h0m3.9-.4h0m1.9-.3h0m3.7-.4h0m3.4-.7h0m-212.2 2.5h0m8.8 1.8h0m7.6-.4h0m3.9-.3h0m3.4 1h0m2 .1h0m3.6-1h0m3.5-.7h0m10.4 .9h0m5.3-.7h0m4.7 .3h0m2.4 0h0m3.7 .3h0m6.8 .3h0m6.6 .2h0m25.1-.1h0m11.4-1.7h0m2.8 0h0m2.9 .2h0m24 1.9h0m2.8 0h0m3-1.5h0m3.5 .5h0m3.5 1h0m19.6-1.8h0m7.2 1.8h0m2-.4h0m11.8 .1h0m12.4-.1h0m3.4-1.2h0m2-.2h0m7.3 0h0m-207 2.6h0m6.8 1.3h0m12.9 .8h0m7.4-.8h0m6.9 .7h0m2.2-1.9h0m3.8 .3h0m10.8 1.2h0m1.9-1h0m10.3 .6h0m14.3-.9h0m7.3 1.3h0m23 0h0m15-.3h0m10.6-.8h0m3 .1h0m6.5 1h0m2.6-.1h0m4.9-1.6h0m5.2 .2h0m6.6 .4h0m9.5 .3h0m4-.6h0m3.1 1.4h0m3-.4h0m4.8 .4h0m6.2-.3h0m3-.7h0m3 0h0m2.8 1.3h0m5.3-1.5h0m-216.6 3.2h0m12.6-.6h0m7.7 1.9h0m3-1.3h0m12.1 1h0m2.9-.9h0m4.7-.5h0m3.2 .6h0m9.3 .7h0m6 .2h0m7.2-1.2h0m13.9 1.3h0m2.5-.1h0m3.3 .3h0m3.2-1.3h0m4.1-.7h0m8.2 1.4h0m8-1.1h0m46.3 .9h0m8.4-.7h0m3.5 1.4h0m26.9-.7h0m3.1-.1h0m4.3-.1h0m2.2-1.1h0m4.5 .6h0m-206.1 2.7h0m10.2 1h0m2 .7h0m7.5-1h0m2.5-1h0m3.6 0h0m9.4 1.8h0m4.5-.6h0m2.8-1.3h0m10.4 .5h0m2-.5h0m2.8 .3h0m18.5 .1h0m2.9 .9h0m6.1 .2h0m4-.7h0m16.4 .4h0m2.6 .2h0m3.1 .3h0m2.4-1.4h0m3.9 .7h0m11.1-.7h0m1.8 .6h0m7.6 .3h0m16.4 .7h0m4-.1h0m6.7-.9h0m9.1-.6h0m12.1 1.6h0m11.3-1.8h0m2.3 0h0m7.7 .4h0m1.9 0h0m3.4 1.6h0m-217.8 .7h0m8.8 1.1h0m3.2 .3h0m3-.7h0m9.8 .4h0m3.2-.7h0m4.7-.4h0m3 1.8h0m3.7-1.1h0m9.4 .8h0m2.7-.7h0m11 .8h0m1.8-1.4h0m4 1.3h0m9.5-.5h0m8.1-.2h0m1.9 1.2h0m3.3-1.5h0m7.5-.6h0m2.5 .4h0m10-.4h0m6.7 1.4h0m13.7 .8h0m3.2-.1h0m12.2-1.8h0m5 1.7h0m2.9-1.3h0m3.1-.1h0m5.6 0h0m4.6 .9h0m9.9-.9h0m3.4-.1h0m8.6 .8h0m14.6-1.1h0m12.4 .1h0m-216.9 4.7h0m11.6-1.9h0m9.3 1.4h0m6.3-.9h0m7.7 1.6h0m1.9-1h0m12.4-.6h0m13.5 1.4h0m4.7-1h0m3.3 .2h0m5 .7h0m8.5-.5h0m6.1-.1h0m9.4-.6h0m3.8 .2h0m6.5-.3h0m2.5-.3h0m4.3 .4h0m6.5-.2h0m2 0h0m17.3 1.2h0m5.8 .4h0m5.3-.5h0m1.7-1.1h0m7.6 .2h0m8.2 1.4h0m7.1-1.3h0m10.4 .2h0m20 1h0m3.3-1.8h0m3.1 0h0m-211.6 3.7h0m2.7-1.1h0m2.1 1.1h0m4.6 .6h0m3.7-.7h0m1.4-.1h0m4.7 .9h0m2.8-.6h0m3.2 1h0m7 0h0m7.4-1h0m2.3 .2h0m3.7 .2h0m2.3-.1h0m9.8 0h0m2.8 .6h0m6.9-.2h0m7.8-.8h0m17.2 1h0m4.7-1h0m17-.7h0m13.5-.3h0m2.3 1.1h0m11.8-.7h0m2.9 .1h0m2.3 .4h0m6.9-.2h0m3.1 .8h0m3.6-.5h0m2.5 .7h0m7.8 .1h0m17.3-1.7h0m1.7 1.7h0m4.9-.1h0m2.1-1.4h0m7.4 .4h0m5.7 .1h0m2.9 1.3h0m-211.8 2.3h0m6.8 .4h0m22.9-1.6h0m2.6 1.7h0m13.3-.2h0m12.5-.5h0m3.2 .1h0m4.6 .5h0m4-.6h0m1.7-.9h0m7.7 .3h0m3-.1h0m3.6 .8h0m5.6-1h0m26.4 1.5h0m3.6-.9h0m6.4 .6h0m3.5-1.7h0m7.7 1.3h0m2.3 .1h0m2.7 .4h0m13.8-.7h0m2.9-1.1h0m16.7 1.6h0m10.1 .1h0m2.7-.2h0m11-.4h0m7.2-.7h0m4.9 1.3h0m-218.8 3h0m5.9-1.5h0m3.1 1.2h0m3.9-1h0m3 1.6h0m7.7-2.2h0m13.3 .8h0m3.3 1.4h0m5.6-1.3h0m3.1 .5h0m3.3-1.4h0m7.6 .3h0m10.4-.1h0m5.3 1.9h0m2.6-1.3h0m3.4-.1h0m10.5 .9h0m13.2-1.1h0m4.5 1h0m3.6-1h0m1.9-.1h0m3 1.6h0m3.8-.2h0m3.5 0h0m4-.3h0m6.6-.9h0m1.4-.3h0m6.6 0h0m3.6 .8h0m6.6 .3h0m4.6-1h0m2 .9h0m27.4 .6h0m6.9-1.3h0m3.5 .1h0m6.2 1.3h0m2.6-.2h0m3.2 .5h0m3.3-2.2h0m-212.4 3.8h0m4.3-1h0m1.4 .5h0m7.9 1.1h0m3.9-.6h0m3 .5h0m13 .1h0m9-.9h0m17.5 .2h0m5-.9h0m3.3 2.2h0m11.1-1.6h0m6.5 1.3h0m5.8-1.2h0m4.6-.7h0m1.9 1.9h0m7.3-.9h0m14.5-.7h0m4.9-.1h0m2.8 .4h0m8.3 1h0m1.7-1.3h0m4.6 1.9h0m13.5-1.3h0m15.5 .2h0m17.7-.1h0m2.1-.3h0m11.2 .6h0m5.2-1.3h0m4.1 1.3h0m-214.2 1.6h0m4.7 .5h0m5.2 .5h0m8.1 .2h0m1.9-.6h0m6.5-.3h0m4.9-.1h0m1.8 2h0m4.2-1.9h0m3.4 .1h0m6.2 .2h0m7 1.2h0m4.3 .3h0m1.8-.1h0m3.8-.5h0m7.4 .3h0m8.8-1.2h0m7.1 1.1h0m2.2-.7h0m16.4 .1h0m10-.4h0m13.3-.3h0m11.1 .5h0m3.3-.1h0m3.9 1h0m2.2-1.9h0m2.6 .4h0m4.9 1.7h0m1.5-2h0m8.6 1.5h0m13.1-1.6h0m3.2 1.3h0m8.1-.7h0m6.5 .3h0m4.7 1.2h0m2.9-1.5h0m10.4 .4h0m-209.6 4h0m3.9-2h0m1.3 1.4h0m7.8 .2h0m7.1-.4h0m6.2-1.1h0m3 .5h0m2.9-.6h0m6.2 1.4h0m19.5-1.5h0m7.5 1.3h0m5.8-.5h0m8.3 1.3h0m3.1-.8h0m1.7-1.3h0m4.4 .7h0m3.9 .9h0m6.6 .2h0m5.2 .3h0m5-.3h0m11.9-1.6h0m4.6 .1h0m2.9 1.2h0m3.1-.4h0m3.3-.6h0m12.8 .1h0m5.8 .2h0m11.2 1.3h0m10.6-1h0m1.8 .7h0m10.5-.9h0m3.8-.7h0m2.9 .5h0m7 1.6h0m1.5-1.3h0m-207.9 2.2h0m2.6 .4h0m2.7 .5h0m13.3-.1h0m7.4-.7h0m7.4-.2h0m19.1 1.7h0m2.8-1.2h0m5.7 .9h0m3.8-1h0m4.7 1.4h0m4.8-1h0m3.8-.6h0m2.9 .5h0m6.7-.6h0m4.3 1.1h0m6.4 .3h0m22.2-1.1h0m3.4 .6h0m3.6-.4h0m4.2 1.3h0m2.5-1.9h0m7.5-.2h0m6.6 1.7h0m2.9 .2h0m12-1.9h0m3.6 .9h0m18.4 .4h0m2.8 .8h0m2.3-1.1h0m17.6 .3h0m2.4 .5h0m5.8-1.3h0m-216.1 3h0m3.5 1.1h0m10.6-1.2h0m3.9 .9h0m9.3 .6h0m12.1-1.5h0m4.1 .8h0m4.5-.9h0m10 1.1h0m1.5-.2h0m4.3-1.1h0m7 1.7h0m3-.8h0m8.7-.4h0m5.2-.4h0m3.4 .5h0m2.2 .2h0m3.9-.7h0m5.8 1.7h0m3.6-.2h0m7 .4h0m3.5-2.1h0m3 1.5h0m3-1.3h0m5.7 1.3h0m4.9-.6h0m1.6 1.2h0m4.3-1.6h0m2.5 .4h0m3.5 .6h0m17.2-.6h0m2.7-.8h0m10-.3h0m17.8 1.6h0m1.4 .2h0m25-1.7h0m-219.5 4.2h0m16.2 .5h0m9.1-1.2h0m20.7-.3h0m2.5 .9h0m2.6-1.2h0m4.3 1.9h0m5.7-.6h0m3.2-1.3h0m17.8 .4h0m2.8 1.3h0m3.9-.3h0m5.1-.7h0m8-.5h0m6.8 .8h0m1.8-.4h0m5 .5h0m1.7-.3h0m3 1.3h0m8.4-1.1h0m5.3-.4h0m4.6 1.4h0m8.8-1.7h0m4.5 1.1h0m2.6 .3h0m7.3-1.6h0m12.8 1.8h0m2.4-.5h0m3-1.4h0m3.5 2.1h0m6.7-1h0m24 .7h0m-214.2 2.1h0m3.9 .9h0m6.2-1.5h0m4.1-.4h0m6.1 0h0m4.3 1.2h0m2.6-.1h0m17.1-.6h0m13.5 .8h0m2.5-1.2h0m12.7 1.9h0m3-1.3h0m10.4-.1h0m7.5-.6h0m3.2 .8h0m3.7 1.3h0m6.6-2.2h0m2 .7h0m19.4 .4h0m3.4 .8h0m4.5-1.1h0m2.5-.6h0m20.2 1.2h0m3.8 .9h0m16.4-2.3h0m8.5 1.2h0m4.3-.6h0m3.8-.1h0m2.5 0h0m3.8-.5h0m2.6 .3h0m2.6-.3h0m4 1.8h0m6.4-.7h0m-218.5 3.5h0m3.2-1.7h0m2.8 1.7h0m12.6-.4h0m7.2 .9h0m6.8-2.2h0m2.8 1.3h0m11.3 .4h0m1.8-.8h0m3.5 1.1h0m3.1-1.2h0m3.7 .7h0m4.5-1.5h0m4.9 2.1h0m6.6-.9h0m4.4-1h0m1.9 1.6h0m5-1.6h0m1.7 1.7h0m10.5-1.6h0m2.8 .9h0m11.4-1h0m13.6 1.6h0m15.1-1.1h0m6.1 .2h0m11.4 1.2h0m6.7-.9h0m4.9 .1h0m10.2 .8h0m11.2-1.3h0m1.9 1.4h0m7.2-2.2h0m3 1.9h0m4.2-1.8h0m2.2 0h0m-202.8 4.4h0m6.5-1.2h0m7.8 1.5h0m3.2-.1h0m3.8 .3h0m2.7-1.6h0m15.4-.6h0m2.9 .7h0m4.8 .2h0m1.8 .2h0m14.8 .8h0m6.3-.7h0m2.5 .2h0m4.8-1.3h0m3.5 1.2h0m2.4 0h0m8.8 .6h0m4.2-.3h0m4.3-.8h0m5.3-.5h0m3.3 .8h0m7.3 .3h0m1.7-.6h0m7.7 1.4h0m3.3-.5h0m3.2 .1h0m7.4 .5h0m15.4-1.4h0m7.7 .6h0m2.2 .6h0m3.8-.6h0m2.8 .3h0m4.3-1.7h0m5.3 1.9h0m3-.7h0m4.5-.7h0m3.8 1h0m3.3 0h0m6.3 .5h0m3.9-.6h0m4.6 .1h0m-206.2 2h0m4.4-.6h0m4.2 .8h0m5.1 .4h0m4.3-.4h0m6.6 1.2h0m3.6-.7h0m1.5 .3h0m4.2-.7h0m7.7-.8h0m8.5 .2h0m6.2 .2h0m6.9 .8h0m4.5-.2h0m2.1-.1h0m17.6 1.1h0m9-2.1h0m3.8 1.8h0m6.2 0h0m3.2-.8h0m10.8-.3h0m8.7 .8h0m7.7-1.3h0m2.9-.2h0m2.6 .1h0m3 .2h0m17.5 1.5h0m12.3-1.8h0m8.5 .3h0m7.7 .1h0m7.2 .8h0m2.6-.4h0m5.6-.1h0m-217.9 3.5h0m2.8-1.1h0m4 0h0m3.8 1.4h0m2.8-.8h0m26.9 .2h0m5.6-.9h0m9.8-.1h0m4.1 1.6h0m6.6 0h0m6.7-.3h0m7.2-1.1h0m6.6 1.7h0m3.4-1.6h0m3.4 1.3h0m6.8-1.2h0m1.7 1.6h0m17.4-1.3h0m3.1-.4h0m7.1 1.5h0m6-1.8h0m3.4 1.8h0m7.4-1.4h0m5.7 .4h0m20.3 1.1h0m6.1-1.6h0m6.2 1.6h0m19.6-1.1h0m7.5 .5h0m2.9-1.4h0m-213.3 3.4h0m4.4 .8h0m2.6 .2h0m3.7-1.3h0m23.4 1.6h0m7-1.5h0m1.4 .2h0m20.9-.4h0m2.6 1.3h0m7.9 .1h0m5 .1h0m3.8-.1h0m4.4-1.6h0m1.6 1.9h0m8.6-.9h0m19.3 .5h0m2.3-.3h0m4.2-.9h0m3.4 1.8h0m3.2-.6h0m12 .1h0m9.8-1.2h0m7.4 1.2h0m7-1.2h0m2.2 1.1h0m6.7-.4h0m6.7 .6h0m14.5-1h0m3 .9h0m2.5-.9h0m4.7 .4h0m2.8 .1h0m2.3 .9h0m3.2-1.3h0m-216.1 3.7h0m13.2-1.2h0m4.3 1.8h0m2.4-.4h0m7.3-.3h0m6.2-.9h0m4 .5h0m6.5-.3h0m6.1 .2h0m2.6-.1h0m4.8-.7h0m1.7 1.3h0m7.1-.6h0m2.7 .3h0m10.6-.9h0m7.1 1.6h0m3.6-1.9h0m3.7 .1h0m8.2 .9h0m6.8 .2h0m8.1-.8h0m2 1.7h0m2.9-1.4h0m18 .4h0m8.4 .5h0m4.7 .5h0m2.6-.3h0m10.5-.9h0m5.8 .1h0m7.7 .6h0m21.8-.1h0m3.7-.1h0m6.4 .8h0m-212 1.9h0m3.7 .3h0m8.8-1.4h0m4.6 .9h0m9.3 .8h0m3.3-1.7h0m25.2 0h0m20.9 2h0m3.4-1.3h0m3.9-.1h0m12.4 .8h0m3.4-.2h0m15.1-.9h0m8.7 .1h0m9.4 .2h0m5.6 1.4h0m11.3-2.1h0m3.4 .2h0m2 .5h0m2.9 1.2h0m4.7-.5h0m2.2 .7h0m5.8-.9h0m4.6-1h0m8.8 1.1h0m10.2 .7h0m10.3-1.7h0m2.8 .1h0m-203.2 4.1h0m3.5-.3h0m3.1 .9h0m3.8-.4h0m3-.9h0m5-.3h0m3-.5h0m1.6 .7h0m10.9 .1h0m7.7 1.3h0m6.7-1.7h0m2.3-.1h0m6.4 1.2h0m3.5 .1h0m2.1-1h0m7.1 .6h0m4-.2h0m7.2-.3h0m2.7 .8h0m8.6 .2h0m8.6 .2h0m3.4-.2h0m8.8-.8h0m16.3 .7h0m2.5 .3h0m3.8-.1h0m9.9-.2h0m6.5 .2h0m6.5-1.4h0m15.1 1.3h0m12.2-.5h0m2.3-.5h0m7.7 .3h0m2.4-.7h0m4.8 .4h0m2.1 1h0m4.2-1.7h0m6.8 .5h0m-214.2 3h0m13.6 .5h0m3.7 1h0m2.1-2h0m10.7 1.3h0m9.4-.1h0m11.6 .2h0m2.5 .2h0m14.2 .4h0m2-.7h0m13.4-.2h0m2.6-.1h0m6.2 .1h0m6.8-.2h0m11.6 .3h0m2.8-.5h0m2.9 .3h0m7.2 .7h0m2.9-.5h0m6.3-1.2h0m40.1-.2h0m2.3 .2h0m6.6 1.1h0m16.8-.1h0m9.3-.5h0m3.4-.6h0m-182.7 4.6h0m3.5-1.1h0m16 .2h0m3.4 .1h0m7.7-.2h0m2.7 .4h0m3.8 .7h0m6-.1h0m2.9-1.7h0m4.4 1.8h0m1.9-.4h0m5.1 .1h0m10.2 .3h0m1.7-.8h0m19.3-1.1h0m8.4 1.6h0m5-1.6h0m4.7 .3h0m5.5 .2h0m10.8 .8h0m6.8-.1h0m2.4 .7h0m3-.4h0m9.5 .6h0m3.4-.4h0m10.9-.4h0m3.9 .4h0m1.8-.8h0m4.6-.6h0m2.1 1.6h0m4.4-.1h0m2.7-.2h0m-213.2 2.4h0m4 1h0m10-1.5h0m6.7 1.4h0m3.7-2h0m2.1 .5h0m7.7 .3h0m6.7-.1h0m6.7 0h0m6 1.2h0m2.9-1h0m10.5 .9h0m11.6-.6h0m8.8 0h0m9.1-.7h0m2.6 1.2h0m6.4-1.7h0m11.4 1.5h0m8.6-.2h0m7.5 .1h0m5.3-.1h0m10.6-.9h0m7.3 .3h0m6.9 .6h0m13.4 0h0m14.7-.7h0m5.1 .6h0m1.5 .4h0m3.1-.7h0m8 .5h0m6.7 .1h0m3.6-1.4h0m-216.7 4.5h0m2.2 .1h0m3.7-1.2h0m5.9-.6h0m3.2 1h0m4.8 .2h0m1.8 0h0m10.8-1h0m4.1-.1h0m2.7 1.8h0m9.4-1.6h0m3.9 .8h0m3.4-.5h0m5.6 .9h0m11.7-1.3h0m5.6 .7h0m2.7-.4h0m11.3-.5h0m5 .9h0m4.9 1.1h0m9.3-.9h0m3.3 1h0m10.3-1.7h0m3.4 1.1h0m4.9 .5h0m7.6-.4h0m4.1-.7h0m2.8 .8h0m7.1-.1h0m8.2-1.7h0m10 1.8h0m3.5 .3h0m4.2-.6h0m4.2 .3h0m8.4-1.7h0m14.5 2.1h0m-211 2h0m3-.1h0m7.8-.4h0m9.8-.6h0m5.6 .9h0m6.9 0h0m4.3 .8h0m5.5-.1h0m10.9 .4h0m10.6-1.4h0m8.4 1.1h0m2.7-1.2h0m3.1 1.5h0m15.2-1.6h0m3.1 1h0m6.8 0h0m1.9 .5h0m4.9-2h0m9.4 0h0m3.7 .5h0m1.8 .8h0m7.9 .2h0m18.5-1.4h0m4.9 .9h0m2.5-.7h0m9.9 1.5h0m3.4 .2h0m6.7-.3h0m11.6-1.5h0m5.4 .3h0m2.3-.5h0m5.7 1.7h0m3.8-1.9h0m2.7 .6h0m-209.4 2.8h0m13.5 1.1h0m17.5 .4h0m2.7-1.3h0m4.1 .1h0m5.8 1.1h0m3.3-1.6h0m9.5 1.9h0m4.3-.4h0m16.5-.5h0m8.9-1h0m11.5 1.1h0m17.9-1.2h0m3.6 .6h0m3.9 0h0m3.9 .7h0m13.5-.3h0m10.1 .1h0m6 .9h0m5-.2h0m3.6-1.4h0m4.5 .9h0m5.7-1h0m9.8 .2h0m3.6 .9h0m2.9 .2h0m3.4-1.1h0m18.1 .5h0m-210.4 2.1h0m5.7 0h0m22.8 .6h0m10.2 0h0m18.2 .7h0m3.3-.8h0m2.2 1.1h0m4.4-1.5h0m2.2 .7h0m7.6-.1h0m3.3 .7h0m3.2-1.3h0m8.7 1.7h0m3.4-.2h0m3.8-.6h0m2.8-1.1h0m3.7 .4h0m2.8-.6h0m7.6 1.4h0m3.7 .2h0m1.5-.3h0m15.1 .6h0m5-.8h0m6.2-1.3h0m7.5 .2h0m4 .4h0m2.7 0h0m8.7 1.2h0m21.1-1.7h0m4 .4h0m4.7-.3h0m13.2 1.9h0m-214.2 1.7h0m1.6 .1h0m8.2 .6h0m5.1-1.2h0m4.4 .8h0m6.7 .4h0m5.8-1.1h0m7.4 .3h0m7.1 1h0m1.9-.2h0m4.7-.4h0m2.3 1h0m3.3-1.8h0m3.6 1.7h0m5.2-1.8h0m10.3 1.8h0m3.2-.1h0m16.2-.3h0m11.7-1.5h0m6.9-.1h0m5.8-.1h0m2 .6h0m8.4-.4h0m13.2-.2h0m5 1.3h0m8.5 .7h0m2.8-1.4h0m5.2-.2h0m5.2 0h0m1.4 0h0m8.1 1.3h0m3.2 .6h0m1.9-1.7h0m3.3 .1h0m11.3-.7h0m1.9 .8h0m8.4 0h0m3.1 1.3h0m2-.1h0m-209.7 3.2h0m5.1-.9h0m3.3 .7h0m2.4-.8h0m7 .8h0m6.1-1.9h0m2.8 1.3h0m3.7-.8h0m3.9-.3h0m1.9 .3h0m3 .3h0m8.7-.8h0m2 1.2h0m24-.7h0m3.8 1.2h0m1.5-1.1h0m3.7-.4h0m4.2 1.5h0m13.4-1.7h0m2.9 1.6h0m2.5-1.3h0m13.3-.3h0m2.8 2.1h0m11.7-.8h0m2.9 .8h0m2-1.1h0m8-.6h0m14.9-.1h0m6.8 1.7h0m8.2-1.7h0m2.5 1.1h0m4.4-.4h0m5.2-.5h0m5.8 .8h0m8.3 .2h0m5.5-1.7h0m-212.6 3.3h0m10 1.5h0m2.3-1.7h0m5.2 1.2h0m6.1-.7h0m3.2 1h0m3.8-1.1h0m6.1-.6h0m15.5 1h0m3.8-.3h0m4.5-.6h0m9.1 0h0m2.8 .2h0m6.3 1h0m3.9-1h0m3.1 .3h0m23.3-.4h0m3.3 1.1h0m5.5 .2h0m7.2-.2h0m9.8 .8h0m7.1-2h0m3.6 1.6h0m2.6-1.5h0m2.8 .1h0m6.6 1.1h0m3.9-.5h0m3.9 .7h0m6.4 .6h0m5.6-1.9h0m10.5 1.6h0m3.1-1.3h0m2.9 .3h0m4.9 .2h0m2-.3h0m3.2-.4h0m3.8 1.8h0m3.6-.9h0m-213.4 3.2h0m6.2 .1h0m11.2-.1h0m2.6-1.4h0m7.3-.2h0m10.5 1.1h0m3.3-.4h0m9.1 .7h0m6.6-.3h0m7.2 .9h0m3-.7h0m2.5 .4h0m4.1-1.2h0m3.8 1.1h0m2.5 .4h0m3.3-1.8h0m6.1 1.8h0m4.7-.4h0m3-.6h0m1.6-.6h0m4.6 1h0m5.5-1.1h0m7.5 0h0m10.1-.1h0m3.3 .5h0m6.3-.7h0m6 .5h0m6.7 .3h0m9.6 1.3h0m4.2 0h0m17.5-.3h0m7.8-1h0m4.8 .9h0m2.9-.8h0m3.8-.3h0m2.4 1.4h0m4.2 0h0m2.3 .2h0m2.7-2.1h0m-209.6 4.7h0m7-1.7h0m4.9-.1h0m6.5 .6h0m12.6-.3h0m5.5-.2h0m7.5 1.2h0m2.3-.6h0m3.9 1.2h0m4.4-1.2h0m5.7 .5h0m7.3-1.4h0m3.5 1.7h0m2.3-.5h0m2.8 1.1h0m7.7-1.6h0m2.4-.4h0m14.5 1.8h0m10.2-1.9h0m6.5 .9h0m2.1 .3h0m3.6-1.1h0m6.7 .2h0m12.7 1.1h0m3.2 .4h0m6.9-1.7h0m3.1 .5h0m3-.1h0m6.7-.6h0m9.9 1.7h0m11.1-.5h0m3.2-.2h0m3.2 1.1h0m2-1.7h0m6.6 1.7h0m15 .1h0m-218.2 2.4h0m5.2 .3h0m1.3-.4h0m23.9-.1h0m2.8-.2h0m4.6 .5h0m3.9-1.6h0m4.9 1.5h0m4.1 0h0m19.9 .2h0m4.1 .2h0m2.5-1.8h0m3.1 1.4h0m2.7 .1h0m7.9 .3h0m12.8 0h0m5.7-.3h0m5 .2h0m6.4-.5h0m1.9-.6h0m3.8 .6h0m3.1 .1h0m3.4-.5h0m4.4 .5h0m1.8-.7h0m3.8 1.2h0m9.6-1.5h0m3.5 .3h0m3.9-.6h0m3 1.8h0m3.3-.6h0m6-1.4h0m2.9 1.1h0m4 .3h0m5.8-.4h0m6.4-.4h0m10.6-.8h0m3.3 .8h0m4.4-.3h0m6.2 1.6h0m-217.2 1.6h0m3.2 .2h0m7.8 .2h0m6.6-.9h0m3.5 .2h0m2.5 1.4h0m3.5-.7h0m4.2 1h0m2.4 0h0m3.3-1.4h0m23.9 .1h0m3.1-.3h0m9.3 .5h0m3.7-.3h0m5.1-.1h0m3.6 .2h0m4.6-.5h0m1.9-.1h0m3.2 1.6h0m4.9-1.7h0m2.6 2h0m3.6-.7h0m6.6-1h0m3-.1h0m9.6 .3h0m11.4 .2h0m9.1 .8h0m8.7 .4h0m3.4-.9h0m11.5 0h0m12.4-.3h0m3.2 .3h0m7.5-1h0m3.5 1h0m6.7 .9h0m15.1-1.4h0m-218.5 3.3h0m11.9 1h0m23.6-.3h0m6.9-.1h0m13.1-.4h0m14.2 .2h0m27.8 .7h0m13.2-.1h0m11-.7h0m3.4-1.5h0m9.7 1h0m3.2-.3h0m4.2 1.4h0m1.5-2.1h0m4.9 .1h0m1.6 1.9h0m4.4-.4h0m7 .1h0m8.7-1h0m4.4-.1h0m7 1.1h0m6.9 .2h0m6.5-1.1h0m2.2 1.1h0m7.8-1.5h0m2.3 1.3h0m7.2-.8h0m2.6 .8h0m-213.1 2.2h0m2.5 .6h0m18.3-1.4h0m1.6 1.6h0m13.3-1h0m9.6-.5h0m4.8 1.2h0m5.8-.8h0m2.8-.2h0m4.6 .2h0m2.4 .6h0m4.3-1.3h0m20 1.3h0m8.8 .5h0m9.3-1.6h0m3.6 .4h0m7.4 1.6h0m2.3-1.9h0m7.1 .2h0m4.2-.2h0m16.3 .5h0m2.1 .6h0m4.2-.9h0m3.2 1.6h0m3.6-1.3h0m12 1.4h0m5.4-.3h0m8.2-.7h0m4.3-1.2h0m9.8 1.8h0m2.7-1.2h0m9.9-.3h0m-215.9 4.1h0m5.9-1.5h0m11.6 1.4h0m14.9-1h0m6.8 1.8h0m11.5-.2h0m7.9-1.7h0m4.8 1.9h0m3.6-.1h0m8.2-.1h0m3.8-.7h0m4-1.2h0m1.9 1.6h0m13.5-.6h0m17.3-.4h0m3.6-.4h0m2 .7h0m23.5-.5h0m11.2 1.3h0m9.8 0h0m2.9-.8h0m6.3-.2h0m3.4 .3h0m9.7-.3h0m7.3 1.4h0m3-.7h0m6-1.4h0m-207 3.7h0m3.5 .7h0m3.7-1.2h0m4.8 1.5h0m3.1-.7h0m8.3 1h0m6.3-.1h0m20.2-1.1h0m4.1 .5h0m9.9-.9h0m7-.2h0m16.3-.2h0m9.2 2h0m7.6-.3h0m3.3-1.2h0m12 .4h0m4.7-.3h0m21.7 .4h0m6.5-.8h0m4.8 1.3h0m9.7-.7h0m6.2 1.2h0m9.7-2.1h0m3.6 .1h0m10.3 .3h0m2.6 .8h0m2.3 .9h0m8-.8h0m2.5-1.4h0m4.7 2.2h0m-218 1.7h0m10 1h0m20.3-1.7h0m9.1 1.6h0m4.5-2h0m5.8 1.9h0m4.6-.2h0m5.6-.9h0m6.8-.6h0m10.7 1.2h0m4.9-1.3h0m7.2 .1h0m6 1.1h0m13.8 .8h0m7-1.7h0m6.3 1h0m6.7 .6h0m2.4 .3h0m10.6-.3h0m9.5-.5h0m5.2-1.2h0m4.4 1.3h0m13.9-1.3h0m7.6 1.2h0m6 .6h0m7.4-.8h0m20 .3h0m-207.7 3.4h0m7.2-1.9h0m6 .6h0m14.6-.4h0m2.9 .9h0m5.2 .2h0m4 .7h0m5.9-2h0m3.7 1.8h0m7.1-.8h0m8.9 0h0m4.1 .2h0m4.2 .1h0m3.1-1.4h0m5.8 .5h0m6.5 .1h0m3.5 1.3h0m7.6-1.4h0m2.5 1h0m10.1-.2h0m19.2-.5h0m3.1-.8h0m9.4 .8h0m3.2 .7h0m3.6 .4h0m3.1-.5h0m3.4-1.2h0m9.9 1.2h0m8.3-1h0m3.4 .8h0m9.3-1.3h0m9.9 .6h0m3.8 .2h0m1.7 .3h0m-207.6 3.3h0m1.8 0h0m2.7-.2h0m11.1 .8h0m5.7-.2h0m4.7-.9h0m2.9 .7h0m7.1-.6h0m11.3 .5h0m5.5-1h0m1.3-.1h0m5.3 .9h0m8.2 .6h0m3.9-1.5h0m2.2 1.6h0m7.6-1.2h0m7.4 0h0m11.7-.9h0m4.4 1.7h0m3.4-1h0m3.1-.5h0m4.1 1h0m1.7-1h0m6.9 1.8h0m6.1 0h0m5-.6h0m4.7 .5h0m4.1-1.7h0m16.3 1.3h0m3.9-1.4h0m12.4 1.8h0m4.3-1.3h0m3.6 .6h0m3.6 .7h0m11.7-1.7h0m7.2 .3h0m4.2-.4h0m-214.9 2.7h0m5 .9h0m3-.7h0m5.2 .3h0m8.5 .2h0m5-.3h0m6.2 1.6h0m3.5-1.9h0m3.6 .2h0m4.8-.1h0m6.7 1.5h0m5.3-1h0m4.4 .7h0m26.3 .7h0m2 .2h0m4.4-1.4h0m9.4-.8h0m9.2 1.2h0m4.8-.4h0m12.8 1.3h0m3.1-1.8h0m3.4 .4h0m4 1.1h0m15.3-.9h0m6.7 .7h0m2.9-.5h0m17.6-.8h0m2.3 0h0m20.4 1.6h0m7.6-.6h0m1.4-.9h0m4.4-.4h0m-216.3 5.1h0m4.1-1h0m1.7 .3h0m3.1-.2h0m4.3 .2h0m5.4-.3h0m3.4-.1h0m7.7-.8h0m9.1 .7h0m4.7 .9h0m4.7-.8h0m5.4-.7h0m2.4 1.7h0m6.1-1.4h0m3.1-.1h0m6.7 .9h0m20.2-.5h0m5.8 .1h0m6.4-.3h0m13.4-.1h0m4.8 1h0m13.7-.2h0m1.9 .3h0m4.7-.7h0m2.6 .5h0m3.2-.7h0m3.1-.1h0m6 0h0m10.5 1.3h0m2.6-2.1h0m4.9 1.7h0m6.7 0h0m5.1-1.6h0m7 1.4h0m17 .4h0m-203.2 2.1h0m5.4-.3h0m17.6 1.1h0m12-2h0m4.7 1.5h0m2-.7h0m5.4 1.2h0m1.8-1.7h0m3.4 0h0m4.5 .6h0m13.1 .4h0m3.5-.5h0m5.2-.7h0m7.6 .3h0m10.2 1.2h0m5.6-.7h0m3.6 .5h0m6.9-1.2h0m17.1-.2h0m18.4 .4h0m4.4 1.2h0m6 .1h0m2-1.7h0m8.4 .7h0m3.7-.7h0m1.4 1.3h0m7.7 .1h0m2.9-.4h0m15.4 1.2h0m4.3-1.5h0m3.4 .6h0" />
<path fill="none" stroke="#c070c8" stroke-width="2.7" stroke-linecap="round" d="M29.4 0.9h0m100.2 2.6h0m-84.2 9.4h0m40.2 .6h0m28 2.7h0m-105.1 5.2h0m132.8-.2h0m-26.7 5.7h0m74.2 0h0m-56.1 4.1h0m42.1 11.6h0m20.7-.5h0m-136 5.1h0m16.3 .8h0m97.1 1.4h0m12.8 9.2h0m-173.2 7h0m174.4 2.7h0m-156.6 2.1h0m180.6-.8h0m-172.7 4.2h0m27.5 2h0m131.1 14.9h0m-.2 5.8h0m-114.9 2.9h0m90 .7h0m-124.5 10.8h0m41 .4h0m-70.2 3.2h0m125.5-.9h0m-118 6.6h0m155.5 3.8h0m-61.2 10.3h0m29.5-1.1h0m64.5 1.5h0m-102.3 8.1h0m65.8-1.2h0m-137 11.4h0m64.6 1.2h0m68.2 .4h0m6.9 .3h0m-110 2.4h0m129.5 2.8h0m-162.6 2.8h0m181.5-1.5h0m-176.1 4.5h0" />
<path d="M33 0L24 22M24 22L25.5 36.6M62.9 18.3L27.1 35.8M15.9 62.1L9.6 66.9M78 70L89.2 41.4M95.5 23.9L89.2 41.4M0 100L12.7 116M31.8 100L63.7 109.6M28.6 135L41.4 144.7M140 93.7L165.5 106.5M149.6 119L178.2 132M121 122L127 144.7M117 63.7L133 71.7" stroke="#020306" stroke-width="3.2" stroke-linecap="round" fill="none" opacity="0.75" filter="url(#bl1h)"/>
<path d="M0 125L4 145M195 112L215 140M192 58L214 68" stroke="#020306" stroke-width="7" stroke-linecap="round" fill="none" opacity="0.6" filter="url(#bl1h)"/>
<path d="M113.8 51L140.8 43" stroke="#b0582a" stroke-width="2" stroke-linecap="round" fill="none" opacity="0.9" filter="url(#bl1h)"/>
</g>
</svg>
<text x="8.3" y="10.5" font-size="8.2" font-weight="bold" fill="#fff">MF7</text>
</g>
<g transform="translate(64.5 833.8)">
<svg width="217.8" height="162.2" overflow="hidden">
<g filter="url(#soft)">
<rect x="0" y="0" width="217.8" height="163" fill="#1a1a92" />
<rect x="0" y="0" width="217.8" height="163" filter="url(#sf18)"/>
<path fill="none" stroke="#3030e0" stroke-width="3" stroke-linecap="round" d="M-1.1 0.8h0m14.4 .7h0m7.5-.1h0m19.7 .6h0m3.1 .2h0m2.9-1.2h0m2.6 .3h0m16.2 1.3h0m4.5-1.9h0m5.4 .8h0m3.9 .8h0m28.7-.9h0m3.7-.8h0m32.8 .9h0m3.9-.3h0m12.9-.2h0m3.6 .4h0m13.8 .2h0m12.6 .6h0m4.6-.4h0m-186.8 1.7h0m9 1.1h0m14-.5h0m6.2 1.4h0m10.3-1.1h0m6.6 1.1h0m2.9-.3h0m7.3-1.5h0m16.6 .1h0m12.2 .4h0m13.4 .5h0m18.8-.3h0m14.4-.6h0m6.8 .9h0m8.6-1.1h0m9.6 .5h0m10.1 1.5h0m6.9-.2h0m4.8-1.2h0m-176.9 3.1h0m3.3-1h0m5.5 2.2h0m21.2-1.3h0m10-.6h0m3.3 1h0m3.2-1.1h0m1.4 1.3h0m3.8-.5h0m4.3 .7h0m3.7-1.7h0m1.6 .2h0m9.8 1.5h0m27.5 .3h0m3.3-1.9h0m6.6 .7h0m2.8-.7h0m4.5 1.7h0m2.4-.1h0m3-.4h0m7.3-.4h0m3.8 .7h0m13.2 .2h0m5.2-1h0m8.1 .1h0m2.6 .9h0m2.3-.8h0m11.1-.2h0m1.6-.7h0m30.2-.1h0m-214.9 4.8h0m2.8-.3h0m2.9-1.2h0m10.4 1.5h0m9.8 .1h0m5.7-2h0m10.3 1h0m16.9-.8h0m3.3 2h0m3.9-.5h0m6.9 .3h0m5-1.3h0m36.7 .4h0m9.8 .8h0m18-.5h0m6.7-.5h0m9.4 .4h0m8.9-1.2h0m3.7 1.9h0m4.1-.7h0m13.3 .6h0m1.4 .3h0m-182.4 1.8h0m13.2-.4h0m3.1 .5h0m10.8 .4h0m6.3-1.2h0m6.3-.4h0m9.3 .2h0m7 .4h0m6.5 .6h0m6.3-1.1h0m12.8 1.4h0m24.7 .5h0m9.8-.6h0m6.9 .2h0m1.5-.6h0m6.9 0h0m6.9-.1h0m4.2 1h0m11.7-1.6h0m14.2 1.7h0m33.5-1h0m-199.3 2.1h0m3.3 .8h0m3.4 .8h0m5.1-.7h0m6.5 .9h0m14.5-.6h0m24.9-.8h0m43.7 1.3h0m3.3-1.6h0m7 .9h0m2.3-.2h0m8.4 .2h0m2.4 .2h0m13-1.1h0m2.4 1.8h0m4.2-2.1h0m2.6 .3h0m14.1 1.2h0m6-.8h0m3.6-.7h0m11 0h0m6.1 1.3h0m2.3-.8h0m-189.3 4.1h0m3.5-.8h0m12.9-.7h0m2.6 .6h0m23.5 .9h0m4.7-.2h0m2.4-.4h0m32.3-.3h0m14.2 1.2h0m29.8-.8h0m6.2-.8h0m2.5 1.1h0m3.7-1h0m11.5 0h0m4.8 .6h0m4.3-.8h0m3.6 1.6h0m2.6-1.5h0m12.4-.2h0m7 1h0m3-1.1h0m5.1 1.1h0m8.5 .8h0m3-1.4h0m-175 4.3h0m9.2-.4h0m12.1-.1h0m8-.7h0m1.9-.3h0m3.8 1.4h0m23-1.7h0m3.3 1h0m14.6-1.1h0m6.7-.2h0m2.8 1.5h0m16.3-1.4h0m4 .8h0m4.8 .4h0m19.8-1.1h0m7.1 1.4h0m3.1-.4h0m4.6-.5h0m2.7 .4h0m3.8-.7h0m10.2 .8h0m6.2 .8h0m9.9-.2h0m-221.1 2.8h0m14.7-.6h0m11.6-.7h0m11.3 .7h0m6-.4h0m7.2 .6h0m6.9-.7h0m2.1-.6h0m7.7 1.6h0m10.5-1.1h0m64.5 1.4h0m2.7-.6h0m4.5-.3h0m4.2 .1h0m5 .4h0m3.8 0h0m5.5-.9h0m4.9 .5h0m1.7 .4h0m7.5-1.2h0m10.7 .3h0m5.9-.4h0m2.5 .4h0m14 .8h0m4.5-1.4h0m-207.6 4.5h0m3-1h0m10.2 1.2h0m17.5 .3h0m1.7-.5h0m10.7 0h0m3 .3h0m3.1-.4h0m8 .4h0m5-1h0m4.9 1.2h0m2.6-1.3h0m14-.8h0m23.3 2.1h0m6.1-.9h0m8.3 .3h0m4.9-1.5h0m8.2 1.8h0m13.6-.8h0m16.1-1.1h0m7.2 .2h0m6.5 .3h0m3.2-.4h0m4.9 2h0m5.9-1.4h0m6.4-.6h0m3.6 .9h0m-192.8 3.1h0m3.1 .4h0m3.8-1.4h0m19.1 1.5h0m5.5 .1h0m4.3-1.4h0m45.4 1.2h0m13.4 .4h0m6.7-.9h0m16.4-1h0m3.9 0h0m3.1-.1h0m13.9 .4h0m5.6 .7h0m2.8 .2h0m17.8 .3h0m2-1.6h0m5.1 2h0m2.9-.7h0m6.5 0h0m6.9 .6h0m1.4-1.1h0m8.9-.5h0m-203.9 3.6h0m5.4 1.1h0m18-.7h0m1.9-1.4h0m11.6 1.5h0m2-1h0m14 1.1h0m6.5-1.3h0m7.5 .1h0m15.9 .6h0m3.3 .3h0m9.7-.6h0m9.7 .7h0m6.5-.2h0m3.6-1.2h0m3.5 1.4h0m25.5-.9h0m6 .1h0m7.7 1.1h0m6.4-1.3h0m7.6 1.8h0m13.4-.7h0m3.1-.2h0m-204.1 2h0m7.7 0h0m1.8 .7h0m6.9-.2h0m4.7-1h0m9.9 .9h0m1.7 .8h0m5-.3h0m16.4 .1h0m9.5-.2h0m6.3-1.2h0m5.4 0h0m43.4 1.1h0m10.3 .6h0m22.6-1.7h0m13.6 2.1h0m26.4-1.2h0m12.7-.7h0m8.1 .2h0m-200 4.2h0m9.6 .1h0m2.6-.9h0m4.1 .5h0m23.2-1.2h0m1.7 1.3h0m8.2-.9h0m6.4-.6h0m6.5 .3h0m2.7 1.5h0m32.8-.1h0m7.4 .1h0m3.7-1.6h0m2.7-.4h0m5.9 .8h0m8.4 .8h0m5.8 .6h0m4.2-1.3h0m1.4 1.1h0m18-.4h0m2.7-1.4h0m3.8 1.7h0m16.6-.1h0m1.7-1.6h0m21 1.3h0m6.9-.7h0m-219.4 3.3h0m12.3-.7h0m10.2 1h0m18.6-1.4h0m10.7 1.7h0m17.2-1.4h0m3.6 1.2h0m2.8-.2h0m6.2 .5h0m4.2-.8h0m1.5-.8h0m17.4 0h0m3.6 1.8h0m3-.1h0m6.4-1.5h0m14.7-.5h0m12.2 1.7h0m2.1-1h0m7 1.5h0m6.8-1.7h0m12.9 .8h0m5.1-.1h0m25.9 1.1h0m3.4-1.5h0m7.1 1.4h0m-197.9 1.1h0m9.3 1.2h0m4.9-.6h0m8.7-.9h0m10.9 1.1h0m2.6 .7h0m4.2-1.2h0m5.6-.1h0m10.6 1.1h0m3.6 .6h0m13-.1h0m9.8 0h0m30.3-2.2h0m2.3 .5h0m6.1 1.3h0m4.6-.1h0m6.6-.6h0m5.9 .6h0m3.6-1.1h0m3.9 .3h0m9.2-.6h0m6.1 1.8h0m4.7-.3h0m19.5-1h0m10.2 .5h0m-190.4 2h0m22.1 1.2h0m4.2-1.3h0m2.1 .4h0m5.2 .4h0m16.4-.5h0m15.9 0h0m3.7 1.6h0m2.1-1.5h0m6.2-.4h0m7.8 1.8h0m3.2-.9h0m22.1 .7h0m3.6-1.6h0m3.9 1.3h0m4.1-.4h0m18.5-1.1h0m3.1 1.5h0m3.8-.8h0m7.4-.7h0m5.2 .2h0m6.3 1.5h0m4.2-.5h0m2.6-1.3h0m14.6 1.7h0m6.6-.7h0m-207.7 3.6h0m8.3-.9h0m2.9-.7h0m7.2 0h0m6 2h0m2.4-1.1h0m12.9-.4h0m4.2 1.2h0m16.5-1.7h0m2.7 .9h0m3.1 .8h0m7.4-1.9h0m12.8 1.6h0m6-1.2h0m17.5 .1h0m3.9 1.5h0m10-1.2h0m2.5 1h0m2.6-1h0m7.1 1.2h0m3.8-.7h0m5.9-1h0m5.9 1h0m11 .5h0m6.7-1.7h0m4.1 .5h0m2.9 0h0m13 .5h0m3.5-.4h0m5.6 0h0m4.5 1.4h0m5.9-1.7h0m-210.4 4.4h0m14.4-1.6h0m8.5 1.6h0m4.4-.9h0m9.2-.2h0m7 .6h0m7.6-.6h0m2.9 .4h0m15.8-.4h0m6.6 1.1h0m7.8-1.4h0m19.9-.4h0m1.5 2.1h0m13.7-1.2h0m3.7 .9h0m3.3-1.5h0m3.8-.4h0m2 .2h0m13.7 .8h0m3.1-.3h0m3.2 1.2h0m7.4-.6h0m8.8-.7h0m3.8 .5h0m14.2-.4h0m6.9 1.3h0m8.7-.4h0m-202.3 2.6h0m5-.7h0m4.6 .3h0m10.6-.9h0m5.2 .5h0m16.5-.2h0m3.7 .8h0m4.4 0h0m6.2-.2h0m4.9-.9h0m7.5 .3h0m4.5 1.2h0m13.1-.3h0m2.5 1h0m17.6-1.8h0m11.9-.3h0m5.6 .7h0m10.8-.6h0m3.6-.1h0m9.9 1.6h0m3.8-1.5h0m9.1 .3h0m3.9 1.7h0m5.3-1.7h0m4.2 1.1h0m3.8-1.3h0m11.9 1.5h0m3.9 .4h0m7.5-1.2h0m7.1 1.2h0m-186.9 1.2h0m2.1 0h0m19.5 .5h0m8.1 .3h0m9.7 .3h0m7.2-.9h0m18.9-.2h0m16.4 .2h0m9.6 0h0m14.2-.3h0m1.6 1.6h0m14.6-2h0m11.7 .3h0m10.9-.3h0m26.4 1.3h0m4.4 .4h0m1.9-1.6h0m10.6 1.5h0m-206.4 3.1h0m3.1-.8h0m9.1-.8h0m14.7 1.9h0m3.4-1.2h0m12.4 .8h0m7.3-.2h0m5.2-1.3h0m4.8 1.3h0m3.2 .2h0m8.4-1.4h0m4-.3h0m7.5 1.6h0m2.6-1.6h0m2.8 1.3h0m7.5 .1h0m2.3-.1h0m4.2 .1h0m12.2-1.2h0m3.9 .2h0m3.2 1.1h0m7.8-.4h0m1.8 .1h0m3.6 0h0m9.9-.9h0m2.4-.2h0m4.2 .2h0m6.5 .3h0m6.9 .1h0m3.9 1.4h0m6.8 0h0m2.6 0h0m2.8-1.9h0m13.8-.1h0m2.7 1.7h0m11-.8h0m-203.4 3.1h0m10.3 .1h0m4.7 .1h0m21.5-1h0m3.1 .5h0m6.4 .8h0m6.9-1.6h0m1.8 1.3h0m7.4-1.2h0m7.9 1.7h0m9.6-.4h0m20 .4h0m4.5-1.6h0m4.6-.3h0m10 1.8h0m8.7-.5h0m10.1 .3h0m13.7-.2h0m2.5 .5h0m13.6-1.7h0m7.2 1.8h0m5.8-.9h0m8.3 .5h0m6.7-1.7h0m-211.5 2.9h0m15.1 .7h0m12.4 .9h0m14-1.6h0m15.8 1h0m6.6-.8h0m3 1.8h0m10.7-1.4h0m3.2-.3h0m3.1 .4h0m12.5-.4h0m10.8 1.8h0m14.9-.4h0m8.5-1.6h0m9.3 1.5h0m5.5-1.6h0m3.5 .1h0m9.8 0h0m4.9 .9h0m4.5-.4h0m5.5 .6h0m2.2-.4h0m14.1 .5h0m2.4-.2h0m3.6-1h0m7.2 2h0m2.7-1h0m3.1-.5h0m6.3 1.3h0m-213.5 1h0m3.3 1.9h0m14.2-1.1h0m20.7 .8h0m9.6-.4h0m6.8-.6h0m3.4 1.5h0m4.5-1h0m18.7-.6h0m8.3-.6h0m9.9 1.6h0m4.4-.4h0m2.5 .7h0m2.8-.8h0m14.5 .5h0m4.9 0h0m8.5 .5h0m3.4-1.8h0m1.8 1.7h0m11.2 .2h0m3.4-1.9h0m10.1 .4h0m4.6-.2h0m3.2 1.2h0m15.4-1.1h0m1.9 1.5h0m20.7-1.6h0m-204.6 4.6h0m11.3 0h0m5.9-.8h0m4.5-1.1h0m2.9 1.2h0m6.5-1.2h0m10.7 .5h0m2.6 .1h0m19.8 .4h0m10.1 .4h0m9.8-.6h0m9-.6h0m9.4 1.7h0m16.9-.1h0m10.1-.3h0m10.6-.9h0m12.8-.2h0m3.2 1.5h0m17.5-1.6h0m1.4 .7h0m3.1-.5h0m10.1-.8h0m3.6 .8h0m11.7 1.2h0m-181.6 1.9h0m3.8-.2h0m7.7 .1h0m1.4 0h0m20.4-.9h0m3.7 1.7h0m17.4-1.8h0m9.8 2h0m12.9-1.8h0m7.1 2h0m11.8-2.1h0m17 .9h0m7.5 .6h0m3.3-.4h0m4.8 .1h0m4.9 .6h0m8.3-1.3h0m6.6 .3h0m4-.1h0m3.6 .5h0m2.6-.2h0m9.4 .9h0m9.7-.8h0m6.8 .9h0m-215.8 1.5h0m27.5 1.6h0m6.3-1.1h0m17.1-1.1h0m4.7 1.9h0m14 .2h0m26.7-.1h0m5.6-.1h0m34.9 0h0m11.8 .1h0m4.6-1h0m13.4 .3h0m15.3 .4h0m3.7-.3h0m10.8-.9h0m2.4 .9h0m2 .6h0m4.8-.3h0m-207.1 1.7h0m6.4 .3h0m7.7 .3h0m7.1 .4h0m3.3-.9h0m11.6-.6h0m3.9 1.7h0m3.8-1.1h0m2.6-.4h0m4.3 1.9h0m2.4-1.9h0m13.1 .2h0m7.5 1.6h0m2.4-2h0m2.8 .4h0m4.6 1.4h0m3.7-.4h0m9.5 .6h0m12.4 0h0m7.3-1.8h0m3.8 .4h0m3 0h0m3.4-.1h0m2.6 .7h0m14-.4h0m9.8 .5h0m1.9-.2h0m3.4-1h0m3.8-.1h0m10.7 1.3h0m3.6-.4h0m6.1 0h0m6.8 .6h0m9.7-1.3h0m7.2 .6h0m4.6 .2h0m-201.5 2.6h0m9.3 1.5h0m6.2-.3h0m7.5 0h0m5.3-.8h0m7-.1h0m6.8 .1h0m2.7 .7h0m3 0h0m10.4-1.3h0m7.4 1.4h0m3-.1h0m4.4-1.8h0m6.7 .9h0m3.1 1.2h0m2.4-.2h0m13.7 .2h0m3.6-1.2h0m2 .5h0m4.6 .3h0m4.7-.2h0m4.4 .1h0m6.6-.5h0m3.8 .4h0m25.1 .5h0m3.6-1.5h0m3.2 .8h0m5 .4h0m2.8-1.7h0m2.5 1.4h0m27.1-.5h0m-203.6 2.5h0m16 .3h0m9.8 .8h0m4.3-1.1h0m9.5 .4h0m6.5 0h0m10.7 .8h0m5.7-1.7h0m10.4 .2h0m3.3 1.9h0m3.4-1.2h0m2.9 .2h0m4.5 .8h0m2.9-1.1h0m2.7-.6h0m3.2-.1h0m13.9 .1h0m8.8 .2h0m6.3 .7h0m4.8 .9h0m1.4-.3h0m8.3-.6h0m3.1-.3h0m12.7-.1h0m5.6 .5h0m11.1 .8h0m16.8-.7h0m12.6 0h0m3.3-1h0m-197.1 3.2h0m4.5 .1h0m7.4 .1h0m13.1-.3h0m9-.3h0m2.8 .7h0m4.1 1h0m7.2-1.6h0m2.6 1.2h0m3 .6h0m5.5-1h0m3.6 .9h0m10.9-1.2h0m12.1-.1h0m17.2-.6h0m4-.1h0m18.9 .9h0m10.2 1h0m6.7-.5h0m7.2-.6h0m10.3 .7h0m5.4-1h0m12.5-.6h0m3.1 .9h0m-188.3 4.1h0m3.5-1.4h0m2.3 .7h0m4.5-.5h0m8.2-.2h0m8 1.2h0m6.1-1.2h0m3.4 0h0m17.5 .3h0m12.7 .7h0m2.9-.3h0m15.8-1.2h0m6.3 .5h0m8.3-.5h0m5 1.4h0m26.8-.1h0m7.6 .2h0m2.7 .2h0m14.3-1.6h0m8.8 .3h0m4 .8h0m3.7-1.2h0m11.7 .1h0m2.8 1.4h0m14.6-1.6h0m2.9 1.4h0m8.7 .2h0m-214.8 2.5h0m9.4 0h0m6.2-1.2h0m6.7 1h0m6.2-.4h0m7.6 .3h0m3.8 .1h0m5 .8h0m6.7-.7h0m5.3-1.1h0m3 .9h0m2.8 .5h0m16.8-.1h0m5.6 .2h0m14.5-1.8h0m5.8 .8h0m3.3 .1h0m7.2 .2h0m11.6-.6h0m3.7 1.4h0m3.1-.4h0m6.9 .3h0m6.7-1.4h0m4.5 1.4h0m5.9-.2h0m3.7-.5h0m1.7 1.2h0m3.7-2h0m5 .8h0m1.4-.5h0m20.2 .9h0m4.7 .4h0m4.8-1.5h0m7.6 1.6h0m6.8-1.2h0m-206.3 2.7h0m2.6-.2h0m19.5-.4h0m3 .9h0m9.9 .3h0m4.1 .1h0m4.2-.2h0m4.8 .2h0m7.3 .1h0m3.3-.1h0m9.6-.4h0m7.5 .3h0m6-1.1h0m2.6 1.2h0m12.1-1h0m7.9 1.8h0m5.2-1.6h0m9.8 .9h0m1.3 .4h0m4.8 .1h0m1.8-1.5h0m20.5 1.3h0m6-.2h0m3.4 .2h0m3.9-1h0m13.1 .5h0m3.3 .2h0m4.1 .1h0m20 .8h0m-211.1 1.6h0m3.9-.6h0m7.7 .5h0m3.7 1.1h0m6.4-1.1h0m2.1-.8h0m2.5 .2h0m6.5 1.4h0m9.9-.1h0m10.4 .6h0m5-.2h0m6.5-1.7h0m2.9 .7h0m12.4-.5h0m2.7 .1h0m8.6-.1h0m5.8 .4h0m3.1 .8h0m7.5-1.6h0m3.2 1.8h0m9.1 0h0m29.7-1h0m8.7-.5h0m4.3 .6h0m10.3 .7h0m3.7-.4h0m16.4 .3h0m2.1-.1h0m10.5-1.3h0m10.5 1.5h0m-219.4 2.4h0m1.9-.9h0m6.2 1.6h0m8.7 .3h0m2-.9h0m7 .2h0m2.4 .3h0m17.2-.1h0m3 0h0m3-.1h0m6.3-.2h0m24 .5h0m7.6-.8h0m5.6-.6h0m6.9 0h0m6 1.2h0m14.3-.8h0m11.4 .6h0m3.7 .4h0m6.8-.6h0m13-.5h0m14.8-.2h0m12.8 1.6h0m13.8-1.1h0m3-.8h0m9.7 1h0m-207.6 3.8h0m3.5-.9h0m4.4 0h0m3-.9h0m17.1 1.3h0m5.5-.5h0m3.7-.2h0m4 .3h0m9.6-.5h0m10.5 1.4h0m8.1-2.2h0m26.9 1.6h0m19.4-1.2h0m7.2 .6h0m6.3 .4h0m9.2-.5h0m13.5-.7h0m11.1 .1h0m13.1-.2h0m8.4 .6h0m10.9 1h0m-199.2 2.5h0m6.9 .1h0m2.9-.7h0m3.6 1h0m5.5-.3h0m13-.1h0m8 .2h0m9 .3h0m13.3-.6h0m7-.1h0m3.9 .5h0m3.5 .5h0m5.2-1.9h0m4.5 1.5h0m2.8 .3h0m10.1-1h0m5.6 .1h0m3.1-.6h0m22.8 .7h0m8-.4h0m2.1 .3h0m9.9-.4h0m10.3 1.5h0m10.6-2.3h0m8.9 .2h0m2.8-.2h0m6.8 1.2h0m17 1.1h0m2.6-1.2h0m7.3-1h0m-203.1 4.9h0m8.1-1.6h0m2.3 1.7h0m15.4-.7h0m8.6-.4h0m1.8 .4h0m17.5 .7h0m2.4-1.4h0m8.1 .4h0m1.2-.6h0m7.5-.4h0m14 .9h0m1.7 .4h0m4.9-1.4h0m2 1.3h0m5-.7h0m16.5 1.5h0m8.6-.5h0m7.9-.6h0m12-.1h0m5.9 1h0m5.3-.6h0m8.2-1.4h0m16.7 .9h0m10.4 .2h0m-196.8 2.4h0m4 .1h0m8.5-.4h0m6.7 1.6h0m4.3-1.4h0m5.5 1.1h0m3.4-.7h0m8.5 1.1h0m5.9-.6h0m5.3 .7h0m16.9-.2h0m14.4-.2h0m11.9-.4h0m4.2 .7h0m22.2-1.7h0m8.1 .4h0m3.6-.7h0m3 2.2h0m19.8-1.9h0m3.2 .4h0m13.2 .2h0m7 .8h0m2.8 0h0m7 .5h0m12.6-1.8h0m-210.6 4h0m3.8 .2h0m2.9-.4h0m6.9-.1h0m4.7-.5h0m23 .4h0m5.7-.1h0m9.1 .9h0m7.3-1.7h0m16.6 .5h0m3.2-.5h0m4-.2h0m6.1 .3h0m12.3 1.4h0m16.4 0h0m4.9 .2h0m5.7-1.2h0m10.1 .4h0m12.6 .2h0m7.9 .2h0m2.3-.9h0m4.1-.6h0m7.2 1.5h0m3.1-.5h0m9.8-.5h0m1.8 .2h0m9.9 .9h0m8.4 .5h0m-201.7 1.1h0m7.3 .4h0m7.3 1.5h0m3.1-1.3h0m2.6 .3h0m8.1-.4h0m2.5 .2h0m4.1-1h0m1.6 1.5h0m13.9 .3h0m13.6 .3h0m6.1-2.1h0m5.6 .9h0m4.9-.3h0m9.7 1.3h0m18.3-.6h0m4.8-.5h0m2.6 1.2h0m14.3-1.4h0m3.5 1h0m6.7-.2h0m5.6-.4h0m3-.3h0m13.1 .3h0m10.5-1h0m9.8 1.8h0m4-1.6h0m10 1.4h0m9.4-1.2h0m-210.5 4.1h0m12.6 .3h0m5.4-1.9h0m1.9 0h0m6.6 .7h0m5.9 .6h0m10.3 0h0m3-1.3h0m24.4 1.7h0m5.9-.7h0m4.7-.5h0m15.1-.3h0m4 1.6h0m9.9 .2h0m2.7-.5h0m4.4 .6h0m3.5-2.2h0m4.9 .7h0m7.2 .4h0m5.8 .7h0m20.5-.9h0m6.9-.5h0m2.7-.3h0m6.6 1.1h0m4.4-.2h0m2 1.2h0m11.5 0h0m5.1-1.9h0m6.7 1.4h0m4.7 .3h0m3-.8h0m-217.9 1.8h0m8.8 2h0m3.2 .1h0m4.9-2.2h0m7.7 .5h0m2.1 1.2h0m5 .1h0m15.1 .1h0m4.4-1.6h0m13.1 .6h0m3.6 .4h0m6.7-.8h0m5.8 1.1h0m4.3-1.1h0m3.3 .9h0m13.1-.6h0m9.3 .5h0m10.6-.1h0m6.1 .7h0m6.2-.3h0m3.7-.7h0m6 .6h0m3.4 0h0m2.8-.9h0m11.2 1.4h0m12.1-1.2h0m3.8-.6h0m9.8 .7h0m4-.8h0m1.3 1.5h0m3.4 .6h0m3.2-1.1h0m-188 1.8h0m15.5 1.8h0m4.1 .4h0m23.3-.6h0m4.9-1.2h0m3.2 1.2h0m6.8-.2h0m18.6 .1h0m4.5-1.2h0m3.2 0h0m6.8 1.3h0m6.6-.7h0m8.5-1h0m17.7 1.1h0m29.6 .5h0m7-1.5h0m11.6 1.6h0m5.7-1.7h0m8.8 2.1h0m16.7-1.4h0m3.4 .5h0m3.9 .6h0m-202.8 2.3h0m3.5 .7h0m19 .1h0m22.8 .1h0m6.6-1.3h0m4.9-.8h0m3.6 1.7h0m3.2-1.7h0m18.6 1.3h0m9.4 .3h0m3.1 .6h0m5.4 0h0m9.8-.3h0m12.9-.6h0m1.8-1.3h0m7.2 1.6h0m4.3 .4h0m2.1-.2h0m15.9-1h0m7.7-.3h0m9.7 1.1h0m3.3 .6h0m17.4-.3h0m10.1-.8h0m-214.1 2.7h0m26.8-.7h0m6.1 1.9h0m13.2-2h0m6.1 .9h0m10.7 .5h0m4-.5h0m1.8 1h0m30.2-1.4h0m14.7 .3h0m12.2-.1h0m2.1 .1h0m6.6-.7h0m7.7 .1h0m4 1.9h0m10-1.5h0m6.4 .9h0m8.8-1.2h0m5.9 .2h0m14.3-.5h0m6.2 .4h0m8.1 .2h0m6.4 .5h0m-216.8 1.9h0m2.7 1h0m14.7-.6h0m1.7-.1h0m4.8 0h0m4.6-.3h0m3.8-.3h0m7.9 1.5h0m12-.4h0m8 .3h0m4.6 .7h0m11.8-1.1h0m8.6-.6h0m14.6 1.4h0m3.1-.6h0m10-.6h0m1.4 .2h0m3.8 1h0m11.5-1.1h0m2.6-.4h0m5.4 .7h0m8.5 .3h0m1.6 .7h0m3.9-1.2h0m2.3 .8h0m4 .3h0m3.3 .1h0m2.5-.7h0m10.7-1h0m7.6 2h0m2.8-.9h0m2-.1h0m22.1-.9h0m-177.5 4.4h0m7.3-1.2h0m5.2 .3h0m7.1-.6h0m6.5-.3h0m6.6 .5h0m10.5 1.2h0m2.1-1.4h0m4.8 1h0m5-.2h0m10.9-.5h0m17.2-.3h0m2.1 .2h0m7.3 .6h0m21.7-.2h0m6.6-.2h0m8.3 .2h0m2.3 .5h0m4.3-.5h0m2.3-.7h0m2.5 1.5h0m10.6-.3h0m15.8-.7h0m8.2-.1h0m5.9 .2h0m7.5-.4h0m-213 3.5h0m1.7-1h0m20.7 .9h0m2.9 .9h0m9.6-1.9h0m9.9 2.1h0m3.5 0h0m8.2-1.2h0m5.3-.1h0m9.2-.8h0m8.1 2h0m5.5 .1h0m3.5-1.5h0m3.7 .6h0m15.9 .7h0m11.6-1h0m1.5 .6h0m3 .5h0m4.7-.1h0m12.1-1.4h0m17.7 1h0m10 .6h0m1.6-1.5h0m4.5 .6h0m7.5-.2h0m2.6 .2h0m2.4 1h0m12.7-.9h0m4.9 .6h0m-190.9 2.2h0m20.7 0h0m16.6 .4h0m18.8-1.1h0m4.6 1.4h0m2.6 0h0m5.9 .3h0m6.5-1.2h0m8.5 .4h0m2.2 .6h0m3.7-1.7h0m2.3-.2h0m11.2 1.3h0m5.1-.5h0m4.7 .5h0m2.6-.2h0m13.7 .2h0m12.2-.3h0m16.3 0h0m11.8-.1h0m12.8 0h0m2.6 .5h0m3.1 .7h0m5.8-1.4h0m-215.8 2h0m10 1.4h0m4.2-1h0m13.8 .3h0m15 1.3h0m8.3-.3h0m1.3 .5h0m4.6-1.1h0m6.1-.4h0m4.5 1.2h0m28.2-.3h0m6.4-.5h0m3.6-.2h0m5.9-.3h0m4-.4h0m3.3 2.1h0m12.4-1.2h0m17.5-.8h0m14.1 .9h0m6.6 .5h0m5.3-.1h0m28-.7h0m4.4 1.3h0m7.5-.8h0m-210.1 3.7h0m6.8-1.2h0m8-.4h0m8.6-.4h0m8-.2h0m2.7 .4h0m3.9 1.7h0m6.5-.3h0m16.2 0h0m3.5 .4h0m25.9-1.6h0m16.6 1.7h0m18.6-2.3h0m3.4 1.3h0m27.8-1.1h0m1.9 .9h0m4.2-.5h0m13.9 1.3h0m3.4-.2h0m3.2-1h0m1.7-.7h0m24.4 2.1h0m5.8 0h0m-220.3 1.2h0m23.6 .1h0m4.2 .3h0m3.4-.9h0m2.3 .8h0m26.2 .8h0m3.2-1.4h0m35 1h0m2.2 .8h0m7-1.7h0m3.1 1.3h0m16 .6h0m4.1-1.5h0m3.7-.5h0m2.5 .7h0m4.3 .9h0m30.9 .2h0m4.9-1.3h0m2.6-.1h0m6.6 .5h0m3.3 .2h0m3.7 .5h0m13.8-.2h0m5.6-.5h0m3.3 0h0m-212.1 2.4h0m11.8 1.6h0m4.4-1.9h0m9.9 0h0m10.2 0h0m23.5 1h0m6.5 .2h0m1.4 .7h0m11.8-2.1h0m9.1 .3h0m12.4 .3h0m2.9 1.5h0m8.7-1.5h0m9.4 1.6h0m1.6-1.3h0m8.3 0h0m8.2 .1h0m20-.7h0m6.7 1.6h0m4.4-1.5h0m4.2 1.2h0m6.6-.8h0m9.2 .6h0m12.2-.1h0m9.8 .4h0m4.5 0h0m-212.6 3.1h0m12.6 .3h0m3-2.1h0m4-.2h0m3 1.1h0m2.5-.2h0m7.4-.7h0m10.5 .2h0m2.1 1.2h0m10.6-.4h0m3.3 .3h0m7.1 .3h0m3.3-.1h0m1.9 0h0m3.5-.8h0m3.5 1h0m3-.5h0m9.8 .4h0m11-.2h0m9.5-.6h0m6.9-.7h0m5.9 1h0m6.2-.4h0m4.6-.3h0m5.7 .2h0m3.2 0h0m2.9 .5h0m23.3 .9h0m8.3-1.8h0m1 .3h0m4.9 .5h0m2.7-1.1h0m10.4 1.5h0m6.1-1.5h0m5.9 .4h0m-213.1 3.4h0m7.9 .3h0m13.4 .8h0m39.8-.4h0m3.7 .2h0m3.1-1.9h0m11.4 .9h0m14.9 1.1h0m2.5-.2h0m13.2-.3h0m9.5 .4h0m7.1-1.4h0m9.3 .1h0m3.7 1h0m4.1-.5h0m10 1.1h0m11.4-.3h0m4.6-.3h0m6.8-1.2h0m9.5 0h0m3.2 1.7h0m2.5-.8h0m6.8 .1h0m6.7 .5h0m6.9 0h0" />
<path fill="none" stroke="#c828d8" stroke-width="3" stroke-linecap="round" d="M3.7 0.8h0m2.3 1.4h0m4.5-.2h0m7.1-1.3h0m45.2 1.4h0m22.1-1.2h0m10.5 1h0m56.9-.2h0m15.7-.7h0m3.2 1.1h0m4.3-1.5h0m7 .5h0m1.2 .5h0m4.3-1.1h0m-176.5 5.2h0m2.3-1.6h0m19.9 1.3h0m11.3-.1h0m25.8-1.2h0m3.3 .8h0m2.7-1h0m6.4 1.3h0m18.3-.6h0m49.5 .6h0m3.4-.4h0m6.5-.6h0m1.5 .1h0m6.5 0h0m3.6-.8h0m7.8 1.9h0m10 0h0m-186 1.9h0m32.5 .4h0m38.1-1.3h0m4 1.8h0m80 0h0m5.7-.2h0m12.6 .2h0m-155.4 2.3h0m10.1-.2h0m6.7-.1h0m8.6 .4h0m23.3 .6h0m6-1.5h0m8.4-.5h0m62 .3h0m7.4 1.4h0m2.2-.6h0m6-.8h0m4.2 .2h0m16.7 1.6h0m-183.2 2.9h0m56.2 0h0m20-.3h0m20.2-1.9h0m48 .7h0m9.8 .5h0m4.8-1.2h0m3.5 1.3h0m4.6 .3h0m4.9-1.4h0m2 2h0m6.2-.7h0m3.8-1.2h0m-182.7 4.3h0m7.9 0h0m18.2 0h0m10.2-.6h0m12.4-.9h0m4.7 .9h0m6.7 .3h0m5-1.4h0m8.2 1.8h0m2.6-.5h0m2.9-1h0m23.6 1.5h0m59.4-.6h0m2.4-.5h0m5.2 .9h0m6.2-1h0m13.6 .6h0m-191.3 2.7h0m20.4 .2h0m3.8-.9h0m49.3 1.7h0m6.3-.8h0m40.1-.7h0m6.6 1.5h0m32.3-.2h0m7.1 .4h0m21.7-.3h0m8-1.7h0m-189.6 3.4h0m6.3 .6h0m3-1.1h0m3.7 1.7h0m6.7-1.1h0m12 1.2h0m6.8-.2h0m92.3-1h0m23-.3h0m3.3 1.6h0m3.7-.8h0m4.9 .4h0m-168.7 2.8h0m13.3 0h0m4.9-.8h0m9.4 .8h0m49.6 .1h0m10.3-1.2h0m22.4-.4h0m43.9 .1h0m8 1.1h0m12.9-1.1h0m8.3 .4h0m9.5-.4h0m-189.9 3.8h0m13.7-.7h0m2.8 1.4h0m43-.1h0m7.4-.4h0m32.6 .2h0m10.1-.6h0m25.5 1.1h0m14.2-1.6h0m3.2 1.5h0m-146.7 1.8h0m4.6 .7h0m21.3-1.7h0m30.3 1.1h0m9.6 1.1h0m3.3-1.6h0m3.7 .9h0m1.5-.9h0m40-.4h0m46.7 .8h0m-164.1 3.4h0m16 0h0m67.6-.7h0m16.7 .9h0m28.1 .6h0m21.7-1.4h0m48.6 1h0m5.3-.1h0m-188.8 2.3h0m4.4-.5h0m19 .2h0m2.9 .2h0m10.9 .5h0m5-.7h0m18.5-.4h0m18.8 .6h0m51.7-.8h0m17.8 .5h0m5.4-.8h0m10.6 .6h0m7.2 .7h0m6.8-1.1h0m15.7 1.2h0m-201.7 3.2h0m31.5-.1h0m132-.7h0m4.8-.9h0m3.3 1.8h0m8.8-.4h0m4.1 .7h0m15.3-1.9h0m-196 3.2h0m161.4-.6h0m7.5 1.5h0m2.1-.4h0m4.1-.4h0m5.4-.6h0m-107 4h0m14.4 .4h0m16.6-1.2h0m23.3-.2h0m46.2 .9h0m2.2 .9h0m3.9-1.6h0m16 .4h0m4.7 1h0m-180.9 3.3h0m24.1-1.2h0m125.3 .6h0m13.4-.9h0m12.3 .2h0m-206.4 3.2h0m38.7-1.2h0m40.8 .5h0m106 .8h0m12.4-.5h0m9.9 .1h0m-40.6 2.4h0m16.9 1.7h0m24.7-1.8h0m-195.8 4.4h0m46.9-1.6h0m107.6 .6h0m30.9 .2h0m-150.9 2.4h0m42.6 1.6h0m92.2-1.7h0m4.5 1.7h0m18.7-1.5h0m-166.1 2.9h0m15.6-.7h0m28.3 1.2h0m92.6-.7h0m11.1 1.5h0m18.5-1.9h0m-18.7 3.8h0m-133.1 3.6h0m-8.4 1.1h0m-39.2 4h0m50-.6h0m25.8 0h0m103.7-.4h0m-76.2 3.1h0m90.3 1h0m-186.2 1.8h0m20.2 1h0m71.5 .9h0m79.8-2h0m-15.1 4.3h0m-164.1 3h0m86.5-1.8h0m38.7 2.1h0m-122.4 2.7h0m5.9-1.9h0m14.1 1.2h0m2.3 0h0m13.5 .5h0m118.8-1h0m9.4-.1h0m-176.3 4.1h0m3.9-.7h0m8.6-1.1h0m6.8 1.9h0m16.6-.5h0m46.7-1h0m63.3 1.3h0m-135.1 1.1h0m3.6 1.2h0m23.4 .1h0m57.5-1.3h0m28.2 1h0m67.3 .2h0m-190.7 2.1h0m10.7 .7h0m7.2-.3h0m125.4 1.4h0m-145.5 1.8h0m3.3 .4h0m5 .3h0m9.6-.4h0m8.3 .7h0m15 0h0m16.7-1.8h0m145.1 1.5h0m6.5-.8h0m-168.3 3.4h0m33.2-.4h0m3.8-.1h0m55.7-.4h0m24.8 .4h0m40.7-.5h0m-166.6 4.1h0m3.5-1.7h0m27.9 1.4h0m3.3-1h0m1.7-.3h0m44.5 1.2h0m26.2 0h0m6.3-1.1h0m33.7 1.6h0m-163.1 2.9h0m6.4-1.2h0m8.7-.1h0m25.8 .4h0m6.4-1h0m12 0h0m60.7 1.6h0m37.1-.6h0m-174.2 2.8h0m14.5 .5h0m5.6-1h0m7 .2h0m14.4-.1h0m1.7-.5h0m10.9 .4h0m4-.1h0m74.7 1.1h0m9.9-.3h0m9.7-1.1h0m4 .9h0m-157.9 2.9h0m4.8 .8h0m2.5-1.6h0m22.8-.2h0m22.7 1.3h0m10.5 .9h0m19.2-.3h0m15.2-.6h0m27.6-1.2h0m16.7 .1h0m20.1 1.9h0m24.2-1.5h0m-187.8 3.9h0m6.6 0h0m11.8-1.6h0m18.4 2.2h0m9.1-1.3h0m8.1 .3h0m12.7 .6h0m3.7-.5h0m2.7-.4h0m3.5 .9h0m9.5-.5h0m2.8-1.2h0m29.8 .1h0m31.4 1.4h0m11.3 .6h0m10.2-2.3h0m4.2 2.1h0m3.8 0h0m-144 1.6h0m10.9 .6h0m9.7-1.3h0m5.1 .7h0m7 1h0m2.7 0h0m8.4-.5h0m17.9 .2h0m43.3-1.4h0m6.2 .8h0m3.5 1.3h0m10.7-.5h0m12.8 .6h0m10.1-1.4h0m-184 3.8h0m3.9 .4h0m4.7-.3h0m45.9-1.7h0m8.2 1h0m5.1-.9h0m3.4-.1h0m6.3 1.7h0m6.6-1.7h0m48.8 .4h0m13.4 .2h0m6.2 .9h0m9.8-1.2h0m6.7 .2h0m6.3 1.2h0m13.7-1.7h0m-187.4 4.7h0m6.9-1.9h0m37.2 0h0m10.4 0h0m2.4 2.1h0m3.5 0h0m4-.4h0m3.1-1.1h0m18.5 1h0m6.6-1.1h0m39.7 .5h0m17.1-.8h0m2.8 .1h0m13.4 1.7h0m38.9-.3h0m-201.3 1.1h0m32 .9h0m8.1-.6h0m16.2 .7h0m8.4-.4h0m7.5-.2h0m20.6 1h0m54.5 .8h0m4.3-1.6h0m6.2 .6h0m3.2-.8h0m53.8-.4h0m-218 2.8h0m3.8 2h0m7.3-1.8h0m6.9 1h0m2.6-.1h0m14 .3h0m6.8-.2h0m22.4-.3h0m5.7 1h0m3.3-1.1h0m7.6 .8h0m66.3-1.2h0m1.9-.4h0m6.4 .1h0m4 .5h0m15.9 1.2h0m17.8-.7h0m7.4 .1h0m6-.8h0m-183.9 3.9h0m3.1-.4h0m27.6 1.2h0m2-1.2h0m11.5 1h0m19.3 .1h0m71.1-.3h0m4.5-.9h0m4-.2h0m9.2 0h0m6.9-.4h0m11.9-.1h0m-185.8 3.1h0m15.8 1.2h0m9.9-1h0m19.8 1.1h0m10.8-.3h0m12.2-.9h0m3 .3h0m11.5 1.4h0m5.6-1.7h0m46 1.3h0m13-.2h0m14.5 .6h0m20.5-1.1h0m21.5-.5h0m-206.4 2.3h0m57.3 1.4h0m6.8 .5h0m1.5 .1h0m6.7-1.2h0m5.1 0h0m6.1-.6h0m89.8-.3h0m16.3 .5h0m14.8 0h0m-175.4 3.9h0m13.3-1.3h0m7.1 .5h0m6 1.1h0m6.5-.8h0m16.3 1h0m5.7-.7h0m47-.9h0m55.4-.1h0m16.2 1.2h0m8-.1h0m-150.5 3.6h0m16.7-.3h0m68.2-1.6h0m10.7 2h0m7.6-1.6h0m1.6-.3h0m29.8 .9h0m4.3 .4h0m-140.8 2h0m2.9 .6h0m4.3 .3h0m89.2 .1h0m10.1-.8h0m6.1-.8h0m6.5 .5h0m2.4 .7h0m9.9-.7h0m3.6 1.2h0m-139.6 3.3h0m8.8-1.1h0m5.1-.1h0m4.9-1h0m10 1.4h0m83-.8h0m21 1.2h0m2.6-1.2h0m-143 2.8h0m6.1 .3h0m15.6-.1h0m14.6 1.3h0m2.3-1.1h0m45.7 .6h0m34.4-1.4h0m5 1.7h0m20.8-1.1h0m-186.1 2.3h0m58.6 1.3h0m7.9 .4h0m9.9-.2h0m2.4-.1h0m32-.2h0m35.2 .3h0m6.3-.4h0m5.9-.8h0m13.4 .9h0m12.3 .3h0m-137.3 1.5h0m8.3 1.1h0m11.6-.2h0m20.2 .1h0m-60 4.7h0m36.3 .5h0m8.3 .3h0m28.6 .4h0" />
<path fill="none" stroke="#0a0830" stroke-width="3" stroke-linecap="round" d="M25.7 1h0m33.3-.1h0m22.6-.2h0m16.5 .1h0m18.2-.2h0m5.3 .3h0m10.3 1.3h0m23.8 0h0m1.6-.3h0m50.7 .8h0m-183.4 1.8h0m86.1 .7h0m5.9-1.7h0m3 2.1h0m18.1-1.5h0m6.7-.4h0m48.1-.3h0m-192.6 3.6h0m6.9 .6h0m16.2-1h0m5.8 1.2h0m71 .3h0m5.2-1.7h0m39.8 .1h0m3.5 .5h0m2.9-.4h0m31.3 .5h0m8.5 .1h0m12.7 .4h0m3.7-1h0m-197 4h0m5.1-.5h0m8.3 .9h0m82.6-1.6h0m74.5 .5h0m5.6-.1h0m16.9 .9h0m-189.1 1.7h0m3.3 1.8h0m13.2-2.2h0m15.1 .8h0m65.2 0h0m87 .9h0m-175.9 3.4h0m74.3 0h0m24.2-.5h0m20.3-1.3h0m3.6 1.5h0m-137.2 1.5h0m46.2-.4h0m16.7 .5h0m6.4 1.1h0m4.9-.2h0m7.4 .3h0m34.2-1.3h0m4.6 .2h0m13.6 1.4h0m39.8-.4h0m30-1.5h0m-203.7 4.4h0m14-.7h0m7.5-.6h0m3.1 1.7h0m2.6-1.1h0m20.1-.6h0m5.8-.5h0m20.8 2.1h0m75.4-.4h0m19.9-.5h0m37.2 .5h0m-190.2 3.1h0m10.4 0h0m11.9-.9h0m6.6 .3h0m15.8 .7h0m4.7-1.1h0m58.6 1h0m7.5-1.8h0m48.5 1.9h0m17.9-1.7h0m3.2 .3h0m-180 3.7h0m6-.1h0m3.6-.3h0m73.2 .4h0m10-1.1h0m21.9 .5h0m6.7 .5h0m17.1-.3h0m3.5 1.1h0m2.7-1h0m-143.3 1.9h0m9 1.4h0m10.7-1.4h0m20.5 1.3h0m22.1 .7h0m2.6-1h0m35.9-.5h0m4.5-.6h0m39.2 .1h0m40.3 .9h0m-195.8 2.9h0m16.4 .8h0m8.4-1.5h0m14.5 1.1h0m1.8-.1h0m5.2 .8h0m6.1 .1h0m16.6-.9h0m51.1-.8h0m9.7 1.5h0m4.8-1.2h0m8.5 .8h0m8.1-.1h0m19.9 .1h0m2.8 .3h0m4.1-1.4h0m11.7-.1h0m-169 2.4h0m3.8 .1h0m12.3 .4h0m16.1 0h0m7.8 .8h0m6.2-.5h0m23.5-.8h0m6.5 .1h0m15.9 .6h0m9.6 .9h0m19.6-.5h0m7.8-1h0m6.5 1.1h0m33.4 .7h0m-204.2 2.7h0m4.1-.1h0m28.8 .2h0m3.6-.8h0m22.1 .8h0m27 .3h0m50.6-1.5h0m16.9-.4h0m4.9 1.8h0m42.8-1.7h0m-178.6 2.6h0m5.8 .8h0m16.3-.2h0m13.3 .2h0m2.6 1h0m14.2-.7h0m16.8-.3h0m33.5 .7h0m40-.2h0m15.3-1.2h0m27.4 .1h0m-191.7 2.9h0m24.9 1.2h0m51.2-1.2h0m17-.3h0m3.1 .1h0m3.6 1.6h0m16.4-.2h0m53.8 .2h0m15.3 .3h0m-192.4 2.4h0m5.8-.4h0m6.9-.8h0m3.9 .7h0m3.4 .9h0m10-1.1h0m38.9 .2h0m17.5-.8h0m4.8 1.4h0m18.7-.6h0m34.6 .6h0m24.8-1.6h0m24.7 .9h0m-166.5 3.3h0m4.7-.3h0m14.9 1.2h0m3.4-1.8h0m27 .2h0m17-.4h0m1.9 1.1h0m8.5-.4h0m8.5 .7h0m34.4 .2h0m7.9-1.8h0m21.5 .8h0m-184.2 2.4h0m12.9 1.3h0m19.6 0h0m3.4-.4h0m6.4 .9h0m23.2-1.6h0m4.7 .9h0m13.3 .1h0m14.9 .1h0m5.3-1.3h0m15.2 1.8h0m25.9 0h0m15-1.2h0m6.1 .4h0m13.5-.5h0m12.8 .8h0m5.6-1h0m-179.3 4.1h0m6.9-1.5h0m5.2 .8h0m11.3 0h0m55.1 .9h0m12.9-.3h0m15.2-1h0m5.4 .7h0m12.4 .5h0m4.7-.4h0m43.4-1.5h0m23.2 .3h0m-213.1 2.5h0m56.2 1.6h0m2.2 0h0m14.1 .3h0m22.1-.6h0m2.9-.9h0m10.8 1.4h0m16-1.3h0m40.9 1.1h0m5 .1h0m-173.2 1.4h0m17.6 .8h0m10.5-.3h0m18.8 0h0m5.6-.4h0m22.9 .5h0m24.2 .2h0m13.6 1.1h0m33.1-2h0m2.6 .6h0m47-.2h0m3.4 .6h0m-194.7 3.6h0m14.4 .3h0m15.3-.4h0m43.3-1.5h0m6.9 .9h0m9-.7h0m7.4 1.3h0m24.5-1.4h0m9.2 .3h0m19.2 .6h0m16.3-1h0m6.8 1h0m6.8 .7h0m19.8-.3h0m10.4-1.5h0m-197.6 4.1h0m11.3-.3h0m16.1 .7h0m23.4-.4h0m39.7-.7h0m2.3 1.5h0m29.2-.3h0m36.5-.6h0m6.6-1h0m14.9 .8h0m-184.4 2.6h0m13.3 .1h0m48.9 .8h0m6.3-1.1h0m4.8 1.3h0m8.8-.5h0m54.1-1.2h0m46.5-.3h0m5.8 1h0m4.2-1h0m1.6 .8h0m7 1.1h0m-179.8 3.2h0m24.3-1.9h0m17.7 .2h0m7.2 1.5h0m30.3-1.4h0m20.3-.3h0m5.9 1.9h0m3.2-1.1h0m7.8 .9h0m2-1.4h0m19.4 1.5h0m40.9-1.5h0m-213.7 2.5h0m12.7 1.8h0m9.9 .1h0m4.9-2.1h0m10.1 1.6h0m12.4 0h0m2.9-.2h0m4-.3h0m3 .2h0m12.3-.9h0m4.4 .1h0m9.8 .9h0m48-.5h0m60.8 .4h0m-166.7 2.4h0m35.1-.4h0m7.3 .7h0m19.9-.9h0m16.9 .8h0m20.5-.3h0m13.4 .6h0m13-1.2h0m3.2 1.8h0m9.2-.3h0m3.5-.3h0m1.9 .2h0m3.9-.7h0m11.4-.3h0m28.7 1.5h0m-159.7 2h0m33.1 .8h0m13.5 .1h0m59.4-1.5h0m3.6 .3h0m25.7-.2h0m6.8-.4h0m-200.8 3.7h0m9.5-.3h0m10.7-.7h0m12.6 1.7h0m14.6 0h0m16-1.7h0m6.2 1.3h0m59.8-.2h0m12.3-.5h0m14.9 .9h0m54.2 .4h0m-201.6 2.2h0m3.4-.2h0m91.3-.1h0m10.2 1.1h0m47-1.4h0m32 .8h0m4.8-.4h0m2.4-.6h0m-173.6 2.5h0m10.5 .2h0m38.5 .2h0m5.1-.5h0m11.2 2.1h0m11-1.5h0m7.1 .7h0m15.3-1.2h0m17.7 .6h0m12.3 1.2h0m9.6-1h0m32.8 1h0m11.1-.8h0m3.7 1h0m5.8-.6h0m-192.9 2.3h0m19.9 1.1h0m3.3-1.6h0m2.7 1.3h0m13.9 .3h0m52-.5h0m7.3-.9h0m26 1.3h0m26.6-.8h0m23.2-.9h0m10.6 1.8h0m-178 2h0m10.7 0h0m6.4-.5h0m16.5 .1h0m3.4 .7h0m3.5-.4h0m3.2-.2h0m12.3-.1h0m50.5-.2h0m16.5 .9h0m26.5-.3h0m5.3 .8h0m-189.1 2.3h0m24.4 .6h0m1.7-1.9h0m20.3 1.4h0m33.5-.6h0m13.5-.7h0m13.3 .9h0m21.5-.2h0m28-.7h0m2.7-.3h0m23 .9h0m35-.4h0m-215.1 3.8h0m11-1.3h0m21.1 1.4h0m8.6 .8h0m48.7-.3h0m5.8-.3h0m10.7 .2h0m9.9-1.2h0m32.8 1.3h0m20-.9h0m4 .8h0m32-.4h0m-198.6 3.6h0m55.5-.2h0m29.9-1.6h0m11.7 1.6h0m20.1-2h0m3.1 .1h0m33.6 .6h0m33.4-.2h0m9.7 1.4h0m12.3-1h0m-215.1 2.3h0m20.2 .8h0m24.8 0h0m12 .1h0m32.8 .8h0m18.4-1.6h0m39.4 1.7h0m5-1h0m32 .6h0m15.7-1.2h0m14 .7h0m-136.2 2h0m-67.2 3.4h0m16.2 .8h0m6.6-1.5h0m3.4-.1h0m6.4-.1h0m15.4 2h0m14.4-1.2h0m41-.3h0m19.9 .1h0m14.6 .4h0m3.2 1.3h0m19.6-.5h0m18.6-1.8h0m18.1 .8h0m-206.7 2.3h0m16.2 1.5h0m7-1.8h0m33.5 1.4h0m21.7-.3h0m14.9 1.1h0m5.3-1.5h0m12.7-.3h0m8.2 1h0m12.4-1.1h0m19.6 1.5h0m2.5 .1h0m46.3 0h0m11.7-.2h0m-204.1 2.8h0m14.2-.5h0m5.2 0h0m21.3 .3h0m21.7-.5h0m16.6 .4h0m10.5-1.3h0m20.5 .5h0m8.4 0h0m56.5 1.6h0m10.3-1.8h0m2.4 .6h0m17.3-.9h0m4.2 2h0m-199.8 2.6h0m12-.3h0m17.1 .1h0m65.7-.7h0m20-.6h0m48.4 2.1h0m14.9-.3h0m12.4-2h0m-198.4 4.8h0m2.3-.4h0m13.6-.6h0m42.6-.5h0m6.8 1h0m12.6-.7h0m36.9 1.1h0m20.1-.2h0m9.2-.8h0m4.1-.3h0m-120.2 2.3h0m11.5 .7h0m3.2 1.5h0m49.9-2h0m6 2.1h0m17.3-1.3h0m49.2 .6h0m4.8 .4h0m19.6-1.3h0m12.6-.5h0m-201.1 4.5h0m16.7-.8h0m15.1-.9h0m31.1 2.2h0m40.6-2.1h0m12.3 1.1h0m23.1-1.3h0m14.8 1.4h0m5.6 .3h0m-169.8 1.9h0m11-.3h0m15.1 1.3h0m7.8-.2h0m9-1.3h0m2.7 .1h0m10.7 .3h0m22.2 1.3h0m8 .1h0m5.8-1.7h0m9.1 1.7h0m28-.2h0m3.1-.9h0m9.4 1h0m24-.1h0m15.6-.2h0m19.4 .1h0m6.8-1.6h0m3.4 1.1h0m-195.4 3.4h0m3.3-.6h0m18.5 1h0m6.9-1.4h0m14.4 .3h0m22.1-.1h0m3.9 .9h0m19.7-.9h0m5.5-.8h0m6.9 1.8h0m16.2 .2h0m26.4-.6h0m10.3 .2h0m7.5-1.2h0m18.8-.5h0m-190.1 3.8h0m2.9 1.3h0m13.4-2h0m20 .3h0m47 .2h0m2.9 .6h0m9.6-.8h0m64.3-.1h0m2.8 1.1h0m18.2-.6h0m10.1-.5h0m15.1-.4h0m-210.3 4.3h0m13.7 .6h0m2.5 .1h0m4.3-.6h0m46 .5h0m35.9 .1h0m12.3-1.3h0m11.1 .5h0m26.1 .6h0m18.6-.4h0m3.9 .5h0m6.1 .1h0m3.2-.3h0m13.5-1.5h0m-203.1 4.2h0m3.4-1.3h0m17.9 1.5h0m1.5-1.5h0m23.7 1.7h0m27.6-.9h0m1.5-1h0m13.3 1.9h0m13.4-1.6h0m10 1h0m10.5 .1h0m62.7-.3h0m12.6-.2h0m20.9-.4h0m-206.4 2.4h0m7.3 .4h0m8.4 1h0m2.8 .4h0m4.5-1.5h0m20-.5h0m6.4 1h0m13.3 .2h0m13.1-.4h0m6.1 .2h0m79.6-.8h0m20.6 1.6h0m18.3-1.8h0m7.8 1.2h0m-144.7 1.9h0m102 .2h0m4.5 1.5h0m2.3-1.1h0m21.1 1.3h0m-189.5 1.2h0m15.9 .9h0m12.7-1.3h0m33.1 1.6h0m36.6-.8h0m2.4-.1h0m87.1-.5h0m2 1.6h0m-192.9 3.2h0m30.1-1.3h0m7.4-.6h0m6.9 .5h0m9.1 .9h0m7.4-1.1h0m5.8 .9h0m3.7-.4h0m18.1 .3h0m10.7-.6h0m3.1-.4h0m43.5 1.4h0m42.9-.9h0m7.6-.8h0m8.6 .6h0m-212.1 3.5h0m2.9-.1h0m15.3-.9h0m23.2 .3h0m5 1.5h0m22.7-2h0m10.6 1.1h0m1.7-.1h0m29.5-.8h0m3 .2h0m11 1.3h0m7.6 .3h0m15.6-1.2h0m13 1.2h0m20.4 .1h0m2.2-2.3h0m19.7 1.1h0m-209 3.1h0m12.5 1h0m4.7-.8h0m42.8 .1h0m42.2 .6h0m10.6-1.7h0m31.5 0h0m21 1.2h0m10.5-1h0m23.2 .8h0m9.1-.4h0m-194.3 2.8h0m20.2 .2h0m18 0h0m9.8-.1h0m14.8 .1h0m10.6-.2h0m5.9-.6h0m13.1 .4h0m14.3 0h0m12.7 0h0m34.3 0h0m10.2-.2h0m23.2 1h0" />
<path fill="none" stroke="#6236d8" stroke-width="3" stroke-linecap="round" d="M37.4 0.6h0m19.8 2.2h0m16.3-.8h0m55-.3h0m10.7 1h0m-118.6 .7h0m39.6 1.3h0m6.8-.5h0m142.2-.3h0m-163.1 3.9h0m69 .3h0m79.5-.4h0m4.2-1.2h0m-157.6 4.9h0m9.9-.1h0m6.1 0h0m76.2-.6h0m3.7-1.5h0m60 1.3h0m-193.7 3.8h0m2.6-.5h0m13.6 .3h0m20.5-1.6h0m22.1 .7h0m8.1-.1h0m49-.6h0m19.6 .2h0m49.3 1h0m13.6-.2h0m-196.4 3h0m28.4 .2h0m13.6-.2h0m10.4 .5h0m6.7-1.1h0m18.7 1.3h0m3.2-2.1h0m60 .7h0m39.7 .7h0m33.9 0h0m-217.3 2.3h0m8.3 .5h0m16.3 .3h0m16.7-.6h0m1.3-.6h0m21.5-.4h0m26.5 1.5h0m5.3-1.6h0m56.1 1.8h0m30.8-1.7h0m23.1 .6h0m-208 3.4h0m48-.3h0m8.1 1h0m83.2-.7h0m11.2 0h0m55.8 .8h0m-195.9 1.6h0m93.6 1.1h0m3.6-1h0m16.7 .4h0m4.1-1.2h0m5.3 2.1h0m-86.5 2.8h0m116.2-.4h0m15-1.1h0m-175.2 3.8h0m28.7-.1h0m10-.1h0m20.1 .3h0m91.6-1.4h0m8.5 .7h0m14.8 .6h0m3.3-.1h0m-152.9 2.8h0m65.5-.8h0m54.2-.3h0m28.6 1.3h0m7.6-1.2h0m33.4-.1h0m2.9 .6h0m-97.2 3.6h0m2-1h0m11.4 1.5h0m1.2-.5h0m7-1.1h0m14.7 .9h0m21.4-.4h0m4-.5h0m13.7 0h0m16.6 .1h0m-195.8 4.2h0m12.7-.6h0m1.7 .6h0m11.2-.5h0m26.7-.1h0m33.5-.7h0m27.7-.1h0m26.6 1h0m42.8 .6h0m8.1-1.4h0m-173.7 2.9h0m9.1-.9h0m11.1 .1h0m3.9 1.7h0m31.9-.8h0m5.7-.4h0m23.2 .4h0m16.8 .1h0m2.9-1.1h0m31.1 1.6h0m45.5 .1h0m-213.5 3.3h0m19.5-1.5h0m10.4 .7h0m5.1-.5h0m7.8 .1h0m15.2-.2h0m25.4-.2h0m24-.4h0m15.8 .2h0m38.4 1.1h0m3.5-1.2h0m8.1 1.4h0m32.3-1.2h0m-172.7 4.7h0m29.3-.2h0m12-1.6h0m37.6 1h0m2.9 .6h0m9.8-.9h0m19 .9h0m14.2-.2h0m-136 2.5h0m4.6-.1h0m37.6-1.3h0m85.9 1.6h0m42.6-1.4h0m-184.3 3.1h0m90.8 1.6h0m15.4-1.1h0m70.5-.3h0m19 .3h0m6.5 .1h0m-125.7 2.8h0m32.2 .9h0m2.3-.1h0m66.2-1.1h0m4.8 1.2h0m19.8 .3h0m-191.7 2h0m59.3-.4h0m26.8 .2h0m11.2-.4h0m21.4-.5h0m21.8-.2h0m18.1 .6h0m4.7-.7h0m2.4 1.2h0m9.6-1.1h0m14.7 1.2h0m-211.5 3.7h0m18-.5h0m106 .7h0m41.8-1.2h0m6.8-.4h0m43.7 1.2h0m-196.2 3.1h0m22.3-1.5h0m2.6 .1h0m19.3 .1h0m26.8 1.5h0m11.4-.9h0m6.7-.7h0m2.1 1.3h0m5.7-.8h0m23.1 .2h0m8.3 .1h0m2.4-.3h0m26.6 .2h0m-139.2 3.6h0m49.1-1.2h0m1.9-.6h0m26.7 1.3h0m15.9-.8h0m3.3 .1h0m47.4 .9h0m29-1.2h0m-211.5 2.9h0m9.3 .6h0m4-1h0m9.9 1.1h0m8.3-1.3h0m38 1.6h0m6.5-.1h0m19.3-1h0m18.7 1.1h0m4.9 .4h0m1.8-1.4h0m7.4 .2h0m7.4 1.1h0m28.1-.5h0m7-.7h0m-147.3 2.3h0m19.7 2h0m3.6-.9h0m9.9-.4h0m12.8-.2h0m31.4 1.5h0m10.3-1.3h0m9.8 .9h0m1.1 .1h0m4.6-1.2h0m6.5 .6h0m37.3-.1h0m49.6 .8h0m-138.4 1.6h0m10.1-.4h0m5.7 1.8h0m13.6-2h0m10.3 1.9h0m35.5-1.2h0m14.5 .7h0m-166.9 1.6h0m33.8 1.7h0m4.9-1.7h0m4.7 .8h0m5.6 .4h0m23.6-.8h0m5.4 .5h0m17.7-.6h0m20.8-.3h0m25.1-.1h0m16.4 2h0m53.9-.6h0m-200.2 2.8h0m12-1h0m39.6-.1h0m20.7-.2h0m12.6 .6h0m31.1-.1h0m6.1-.6h0m8.7-.1h0m43.2 1.5h0m17.9-1h0m8.3-.1h0m-212.3 3.1h0m23-.6h0m57.6 2h0m114-.3h0m-199.1 1.3h0m27.3 1.6h0m19.9-1.3h0m9.2 .9h0m82 .3h0m9.9-.8h0m4.2 .2h0m2.1-.9h0m32.5 1.5h0m30.8-1.1h0m-216.7 3.8h0m31 .3h0m35.7 .1h0m33.2-.5h0m31.7-.2h0m31.5-.9h0m8.3 1.7h0m6.7-1.5h0m16.5 1.8h0m20-1.7h0m-215.8 3.7h0m31.9-.7h0m26.3-.2h0m5.2 1.2h0m19.3 .2h0m3.4-1.4h0m20.2 1.3h0m33.4-.3h0m14.5-1h0m9.9 1.5h0m50.6-.5h0m-205.5 2.3h0m84.3-.7h0m3 .7h0m112.3 .3h0m-133.6 2.3h0m11.3-.1h0m62.4-.1h0m-127.1 3.2h0m31.9 1.4h0m79.6-.2h0m50.2-1.2h0m6.8 1h0m26.4 .3h0m-192.7 1.1h0m8.5 1.8h0m9.3-1.4h0m13.9 1.4h0m20-.6h0m24.3-1.1h0m30.8 .6h0m24.7 1.1h0m13.3 .1h0m22.8-.7h0m16.1-.5h0m-180.9 2.8h0m25.2-.8h0m32.2 1.9h0m9-.8h0m4.3 .2h0m15.6-.9h0m4.1 1.6h0m5.9-.4h0m23.3-1.6h0m23.4 .2h0m3 .6h0m9.4 .9h0m9.7-.1h0m13.5-1.4h0m2.9 1.3h0m12-.2h0m-193.3 2.9h0m9.2-.4h0m15.8-.6h0m14.6 .8h0m36.7 0h0m9.5 .9h0m2.8-1.1h0m3.9 .7h0m2.9 .1h0m2.1-.1h0m50.6 .4h0m12-1.9h0m10.7 1.2h0m7.5-.3h0m9.4 0h0m-157.3 3.5h0m36.9-1.6h0m40.3 1.1h0m23.1 .1h0m19.5 0h0m4.7 .7h0m16.6-1.5h0m20.9 .1h0m-120.1 2.7h0m13.7 1.4h0m38.6-.2h0m66.7-.2h0m-197.5 1.7h0m7.1 .2h0m86.1 1.1h0m3.3-.2h0m20.3-.5h0m15.3-.6h0m54.3 1.5h0m5.5-1.4h0m-200.1 4.2h0m42.4-1.8h0m52.7 1.9h0m21-1h0m35.4-.2h0m14.6 .4h0m23.5 .7h0m5.1-.8h0m11.1 .2h0m-184.4 3.3h0m6 .4h0m57.2-1.7h0m11 .3h0m31.9 .8h0m50.6-1.3h0m1.6 1.6h0m7.7-1.1h0m19 .8h0m-206.8 1.7h0m6.4 .4h0m14 0h0m56 .9h0m13-.5h0m13.4 .2h0m53.8 0h0m35.1-1.3h0m-165.4 4.2h0m9.2-.1h0m6.1 .7h0m33.3-.1h0m9.7 .2h0m24.6-.4h0m21 .6h0m40.9-1.1h0m-184 4h0m7.9-.9h0m2.2 .2h0m23.8 .6h0m86.6 .1h0m77.1-.7h0m4.4-.3h0m-199 2.4h0m9.3 .4h0m2.4-.4h0m79.5 1.1h0m31-.3h0m28.4-.8h0m34.4 1.5h0m4.7-1.8h0m13.6 .9h0m13.3-1.2h0m-169.9 3.2h0m7.1 1.8h0m52.7-.2h0m26.1 0h0m6.2 .1h0m75.8-.1h0m-176.1 2.7h0m53.2-.3h0m7.6-.7h0m41.7 .2h0m-129.3 2.8h0m44.8-.3h0m46.4-.6h0m13.2 .4h0m19.6 1.4h0m75.3-.6h0m-209.4 3.7h0m3.4-1.1h0m30.4-.3h0m78.6-.2h0m49.5-.2h0m-162.8 3.1h0m25.7 .4h0m4.2-.1h0m49.8 .9h0m3.5 0h0m38.2 .3h0m10.9-.6h0m30.7-1.1h0m32.7 .8h0m12.5 1.1h0m-150.4 .6h0m9.1 0h0m10.2 .7h0m3.7 1.1h0m12.8-1.5h0m4.4 0h0m5.8 1.1h0m16.7-.3h0m4.6-.6h0m45.3 .8h0m-120.8 2.7h0m39.1-.3h0m72.4-.5h0m34.8 1.1h0m-178.1 2.3h0m24.7-.6h0m47.6 1.4h0m46.9-.4h0m16.1 .3h0m39.3-1.1h0m-158.8 4.4h0m9.3-.8h0m10.3 0h0m12.2 .3h0m47.4-1.1h0m6.9-.1h0m7-.1h0m32 0h0m19.6 1.4h0m19.4 0h0m14.2-1.1h0m-197.7 2.4h0m119.4 .8h0m12.6-.6h0m13 1.3h0m42.9 .7h0" />
<path fill="none" stroke="#07051e" stroke-width="3.4" stroke-linecap="round" d="M89.6 2.5h0m2.8-.2h0m11 0h0m2.8 .5h0m95.2-1.6h0m3.4-.3h0m7.2 .3h0m2.9 .6h0m2.7 .6h0m-129.5 2h0m1.7 .8h0m6.5-.4h0m101-.1h0m2.8 .2h0m3.8 0h0m2-1.2h0m8 1.9h0m2.7-1.4h0m3 1.4h0m-132.7 .8h0m2 2.1h0m4.4-1.7h0m2.8 0h0m7.3 .8h0m97.3-1.2h0m9.9 1.9h0m5-.9h0m-127.7 1.7h0m3.8 2h0m2.1 .1h0m3.5-1.5h0m3.3-.3h0m4.4 1.5h0m4.4 .4h0m89.6-1.3h0m6.9-.6h0m3.9 1.3h0m5.5 .1h0m4.4-.1h0m-137.2 2.4h0m4 1.1h0m3.7-1.1h0m8.1-.3h0m4.9 .3h0m3.1-.1h0m98.3-.6h0m2.9 1.2h0m7.6-1.3h0m3.5 1.6h0m-128.1 1.7h0m2.4-.3h0m7.6 .8h0m6.2 .3h0m3.9-1.4h0m95.8 1.8h0m2.9-1.4h0m3.2 1.7h0m4.5-1.3h0m-132 2.7h0m16.6-.2h0m13-.1h0m-29.7 4h0m1.5-1.2h0m5.4 1h0m2.9-1.4h0m2 .7h0m10.4 1.5h0m3.1-1.6h0m3.1 1.1h0m-106.1 1.9h0m76.2 .8h0m2-1.4h0m7.2 1.2h0m3.3 .2h0m6-1.3h0m12.6 .4h0m-113.8 4h0m7.6-1.5h0m74.9 1.1h0m3.9 .6h0m4.2-.9h0m5.6 .9h0m3.8-.2h0m5.7-.6h0m-106.7 2.3h0m7.3 1h0m5.6-1.5h0m77.3 1.9h0m10-1.9h0m4.6 .5h0m4.7 .3h0m2.7 1h0m-110.2 1h0m3.3 .3h0m7.6 .8h0m71.8 .8h0m19.8-.1h0m-100.5 2.8h0m9.7-.3h0m75.7-1.1h0m3.2 1.7h0m3.6-1.3h0m3.4 1h0m5.6-1.6h0m-103.2 3.8h0m94.9 .1h0m4.5 1.1h0m5.8-.1h0m-102.8 1.2h0m6.8 1.4h0m5.6-1.8h0m85.7 .6h0m-101.3 3.1h0m8.2 1.3h0m3.4-.3h0m2.6-1.5h0m-10.7 3.5h0m2.4 0h0m2.7 .7h0m7.8-1.2h0m-15 3.8h0m3.5-1h0m9.1 1.7h0m-14.5 1h0m3.9 1.4h0m11.4-1.7h0m-13 3.7h0m2.6-.2h0m6.6 1.3h0m-10.9 3h0m1.8-2h0m6.9 1.6h0m3-.7h0m4-.4h0m-7.8 3.2h0m-3.1 2.8h0m6.8 1.1h0m-4.2 1.2h0m4.2 1.9h0m-6.6 3.7h0m2.1-.1h0m-2.3 3.7h0m144.3 66.9h0m-7.5 1.9h0m3.5 .4h0m8.3 .5h0m4.1-.5h0m-14.4 2.6h0m3.2-.5h0m7.3 1.9h0m3.2-1.7h0m-18.2 3.3h0m6.2-.4h0m5.3 1.1h0m4.9 .2h0m3.2-1.4h0m-18.9 3.2h0m4 1.2h0m3.3-.7h0m2 .9h0m3.8-1.2h0m3.2 1.1h0m-13.7 1.1h0m6.3 1.4h0m2.4 .3h0" />
<path fill="none" stroke="#f0f0f0" stroke-width="1.8" stroke-linecap="round" d="M134.5 0.8h0m-132.4 2.7h0m102.3 1.3h0m87.3 8.2h0m3.6 2h0m-156.5 4.1h0m11.6-1.1h0m83.8 3.8h0m-95 2.5h0m58.7 .3h0m88.3 2.8h0m33.6 .3h0m-141.2 5.3h0m44.9 .9h0m-10.2 6.1h0m73.5 3.6h0m-128.2 4.7h0m28-1.5h0m118.4 1.5h0m-111.5 2.6h0m83.1 .2h0m-77.7 1.7h0m-53.4 3.3h0m40.8 3.2h0m-42.8 8.5h0m12.1 .4h0m-29.1 1.3h0m40.7 3.1h0m106.1 .6h0m22.4-.1h0m-196.4 2.8h0m126.1 .9h0m-61 2.4h0m17.3 .1h0m35.2-.1h0m19.2 3h0m9.3-.2h0m-103.4 3.7h0m178.5-1.2h0m-35.7 4h0m21.1 3.2h0m-113.8 2.6h0m56.4-.8h0m14.3-.9h0m19.7 1.9h0m-154.3 1.1h0m55.5 1.8h0m30.5-1.7h0m11.3 3.1h0m-112.4 6.6h0m58.9 3.6h0m140.7-1.1h0m-64.2 2.5h0m29.7-.5h0m-159.8 4h0m198.8 .1h0m-92.7 2.1h0m77.6-.7h0m-163.8 4.7h0m54.2 3.1h0m116.5 5.6h0m-98.5 3.1h0m28.9-.1h0m-46.1 2.8h0m-66.2 2.6h0m74-1h0m-64.4 3.9h0m168.7-.8h0m-10.1 3.3h0m-155.5 3.6h0m100.9 2.6h0m52.3 4.3h0m-146.7 4.5h0m55.5 2.7h0m78-.1h0m-147.7 6.2h0" />
<path fill="none" stroke="#d02040" stroke-width="1.6" stroke-linecap="round" d="M5.4 4.1h0m11.5 4.4h0m89.5 9.7h0m-106.8 30.3h0m123.5 30.9h0m-19.3 5.1h0m-14 5.1h0m112.6 2.2h0m-90.1 1.2h0m-46.2 6.4h0m7.8 2h0m6.6 5.3h0m30.7 13.4h0m26.7 8.8h0m-16.5 10.8h0m-120.2 3.3h0m90.3 7h0m12.5 4.2h0m56 4.4h0" />
<path fill="none" stroke="#30d0a0" stroke-width="1.6" stroke-linecap="round" d="M68.3 22.8h0m127.2-2.2h0m-72.8 4.6h0m4 3.3h0m-8.1 2.8h0m85.9-.9h0m-146.2 9.6h0m29.5-2h0m-58.1 4.3h0m167.7-1.4h0m-114.1 3.7h0m68.5 2h0m22.3 .1h0m-61 4.5h0m-2.7 4.9h0m-73.4 2.6h0m13.4 .7h0m-5.9 3.6h0m33.7-1.1h0m42.9 .6h0m79.3 1.2h0m18.8 3.4h0m-182.8 4.5h0m5.4-.5h0m121 .2h0m37.9-1.7h0m-50.2 16h0m33-.4h0m-150.3 13.2h0m167.9 1.2h0m-74.9 3.5h0m20.5-1.9h0m-66.8 3.2h0m79.7 4h0m-64.7 2h0m72.8-.6h0m-77.4 3.7h0m87.3 12.4h0m-39.8 3.9h0m52.3 2h0m-167.1 18.2h0m17 0h0m58.7 .8h0m102 3.4h0m-157.5 7.9h0m49.3 .5h0m-83.4 3.5h0m151.8-1.4h0" />
<ellipse cx="8" cy="52" rx="10" ry="24" fill="#06041a" opacity="0.75" filter="url(#bl6)"/>
<ellipse cx="98" cy="25" rx="16" ry="24" fill="#06041a" opacity="0.7" filter="url(#bl6)"/>
<ellipse cx="208" cy="6" rx="14" ry="10" fill="#06041a" opacity="0.6" filter="url(#bl6)"/>
<ellipse cx="60" cy="140" rx="20" ry="10" fill="#06041a" opacity="0.3" filter="url(#bl6)"/>
</g>
</svg>
<text x="8.3" y="10.5" font-size="8.2" font-weight="bold" fill="#fff">MF22</text>
</g>
<g transform="translate(384 833.8)">
<svg width="217.8" height="162.2" overflow="hidden">
<g filter="url(#soft)">
<rect x="0" y="0" width="217.8" height="163" fill="#1c1870" />
<rect x="0" y="0" width="217.8" height="163" filter="url(#sf19)"/>
<path fill="none" stroke="#d830e0" stroke-width="3.6" stroke-linecap="round" d="M-0.3 1.1h0m14.7 .5h0m1.8 .6h0m4.6-.2h0m43.4-1.2h0m38.4 1.5h0m2-1.7h0m4.6 .1h0m5.8 1.4h0m11.7 .4h0m9.8-.1h0m-131.8 3.1h0m41.8-.8h0m7-.6h0m16.1 .9h0m6.1-.5h0m11.3 .1h0m11 .7h0m5.5-1.2h0m3.9 .8h0m26.1 .5h0m13.2-.8h0m39.7 .8h0m-159.2 2.8h0m33.8-.5h0m7.3 .4h0m9.1 .7h0m3-1.4h0m5.7 1.2h0m8.5-1.1h0m118.7 .5h0m-209.1 2.8h0m10.3-1.1h0m18.4-.3h0m23.8 0h0m13.2 .8h0m16.6-.2h0m4 1.7h0m1.9-1h0m5.4-.6h0m18.7 1.5h0m21.2-.8h0m67 .7h0m7.2-.2h0m-211.5 2h0m13.7 1h0m6.9-1.1h0m2.6 0h0m47 .7h0m8.3 .1h0m16.4-1.3h0m85.6-.2h0m5.9 1.3h0m7.2-1.1h0m2.6 1h0m3.2-.5h0m4.5-.3h0m-184.6 4.7h0m6.6-1.6h0m32.3 .5h0m33.7-.3h0m12.1-.1h0m66.9 .8h0m11 .6h0m21.2-.2h0m8.9 .1h0m-209.7 1.4h0m61.5 .7h0m9.6-1.1h0m10.5 2.1h0m21.5-1.5h0m47.8 1.2h0m51-.6h0m3.1 .9h0m2.6-.9h0m4.5-.9h0m-166 2.6h0m13 1.2h0m3.9 .1h0m2.9 .8h0m11.2-.9h0m9.8 1h0m20.6-1.6h0m76 .4h0m9.3-.8h0m10.5-.3h0m7.4 1h0m3.6 .3h0m-197.7 2.5h0m4.1 .2h0m6.2-.2h0m11.9 .7h0m17-.6h0m40.6-.9h0m33.8 .5h0m17.3 .9h0m25.5-.1h0m4.9-.7h0m4.1 .4h0m2.2-.3h0m7.4-.1h0m6.8 .9h0m9.9-.9h0m5.4 1.5h0m-191.7 1.2h0m22.2 1.4h0m5.9-1.3h0m15.8 1.3h0m11.3-.8h0m21.2 0h0m2.8 1h0m3.5 0h0m3.3-1h0m16.5 1.3h0m6.3-1.7h0m29.1 .8h0m25.7-.1h0m10.9-.9h0m7.1 1.2h0m10.3-.3h0m-215.6 2.4h0m3.5 1.5h0m22.4-.8h0m4.8 .2h0m1.3-.5h0m20.3 .3h0m11-.5h0m35.3 1.2h0m3.5-.7h0m9.1-.3h0m4.4-.9h0m8.4 1.9h0m15.1-.9h0m3.6-.6h0m30.6 .3h0m1.8 1.1h0m21.4-1.6h0m8.9-.1h0m3.5 1.2h0m10.4 .8h0m-204.8 2.9h0m30.9-1.9h0m13.2-.3h0m43 2.1h0m8.2-2h0m5.4 1.4h0m5.4 .7h0m78.4-1.4h0m2.8 1.4h0m9.8-.5h0m-209.4 1.7h0m2.7 1.7h0m44.7-1.2h0m7.9-.8h0m8.6 .8h0m4.1 .4h0m4.1-.1h0m25.6 1.1h0m28.2-2.2h0m7.9 1.9h0m35.3-1.5h0m8.5 1.1h0m16.5-1.4h0m2.9 .2h0m13.2 1.7h0m-209.2 .9h0m14.5 .5h0m41.1 1.2h0m6.9 0h0m5.3 .4h0m23.7-1.5h0m12.4 .5h0m2.9-.6h0m10.2 1.7h0m6.2-1.4h0m4.6 .8h0m5.3-.5h0m4.7 .3h0m25.8-1.2h0m32.1 1.7h0m2.1-.3h0m-170.4 1.5h0m16.8 .6h0m24 .3h0m15.7 1h0m6.7-1.1h0m17.3 .4h0m7.2 .2h0m2.9 .1h0m3.2 .4h0m7.3-.4h0m6.8-.6h0m7 .3h0m33-.2h0m11.9 .6h0m1.6 .1h0m4.9-.9h0m7.2-.2h0m1.9 .6h0m7.2-.2h0m7.3-.9h0m-219.1 3.9h0m2.1-.9h0m4.3 1.6h0m6.9-1.8h0m16.1 .8h0m10.5 1h0m20.9-.1h0m6.7-1h0m16.3 0h0m13.5 1.3h0m7.8-1.1h0m6.8 .7h0m2.6-1h0m18.3 1.5h0m6-1.4h0m26.9 .4h0m3.3 .3h0m10.7-1.5h0m-181.8 3.9h0m34 0h0m6.2-.9h0m9.4 1.1h0m8.3 0h0m6.7 .7h0m19.4-.2h0m14.4-1.7h0m3.3 2.1h0m4.1-1.7h0m1.9-.4h0m3.6 1.7h0m4.7-1.5h0m16-.2h0m11.3 0h0m44.3 2.2h0m27-1h0m2.3 1h0m-216.1 1.8h0m3.1 1.1h0m4 .1h0m3.7-1.5h0m10.4-.3h0m6.8-.2h0m10.7 1.9h0m10-1.5h0m10.5 .1h0m16.9 1h0m1.8-.3h0m6.6-1.2h0m4.4 0h0m9.8 .3h0m3.2 1.1h0m7.6-.9h0m3.3 .9h0m17.7-.6h0m5.1-1.1h0m5.1 1.6h0m26.8-1.2h0m7.6 1.2h0m1.2-.8h0m4.9 1.1h0m2.3-1.8h0m4 1.8h0m26.5-1.6h0m-215 3.9h0m4.1-.5h0m12.9 .7h0m9.6-.9h0m8.1-.2h0m26.4 1.5h0m3.8-1.2h0m22.2 .8h0m21.5-.1h0m5.8-.7h0m4.4-.2h0m51.6-.1h0m22.6 1.1h0m4.9 .8h0m2.2-1h0m-198 2h0m6 1.7h0m7.6-1.6h0m5.7 .1h0m31.2 .2h0m4.3 .9h0m6.1-1.4h0m14.6 1.5h0m4.6-1.1h0m21.6 1.6h0m6.2-1.6h0m4.1 .3h0m61.5 .2h0m41-.7h0m-216 4.6h0m8.9 .2h0m5-1.7h0m36.4 1.7h0m11.1-1.4h0m9.5 1.4h0m3.5-.4h0m5.8-.7h0m22.2-.4h0m29.1-.3h0m8.3 1.9h0m16.5-1.9h0m21 .8h0m8.3 .8h0m7.2-1.5h0m4.2-.2h0m-169.7 3.7h0m3.9 .6h0m6.9-.9h0m11.3 .9h0m3.2-1h0m7.3-.5h0m46.1 1.5h0m4.5-.1h0m6.8-.1h0m45.8 .8h0m39.5-.3h0m-183.3 2.6h0m28.4-1h0m9.4-.2h0m12.5 .5h0m18.6-.3h0m24.4 1h0m4.9 .1h0m7.2 0h0m18.5 .5h0m2.3-.7h0m13.7-1.1h0m9 1.7h0m11.6-1.4h0m-162.8 3.7h0m11 0h0m4.3-.9h0m5.2 1.1h0m5 0h0m1.7 .4h0m10.2-.9h0m20.6 .7h0m5.3-.3h0m19.9-1.1h0m3-.1h0m37.4 .2h0m14.2 .9h0m6.3 .7h0m12.4-1.1h0m-143.2 3.4h0m7.1 .2h0m6.6-1h0m16.6 1.3h0m24.8-.8h0m23-.8h0m2.4 0h0m3.2 .1h0m33.8-.1h0m4.9 .5h0m65.3-.3h0m-216.6 2.8h0m20.8 .5h0m20.3 .3h0m37-.1h0m13.7 .3h0m12.8-1.1h0m7 1.5h0m30.4 .3h0m23.2-2h0m-129.7 3.4h0m37.6 1.2h0m13.2-1.1h0m17.2 1.6h0m5.6-.3h0m48.2-1.9h0m4.6 1h0m25.8 .2h0m-186.9 2.8h0m3.1-.8h0m1.6 1.9h0m15.2-1.9h0m8.5 1.1h0m5.5 .9h0m16.8-1h0m23.8 0h0m23.3-.7h0m9.4 .5h0m18.2-.4h0m41.1 1.6h0m15.9-1h0m7-.5h0m-182.3 3.4h0m20.1-.5h0m20.5-.4h0m6.9 .8h0m29.8-1.1h0m3.8 2.3h0m13.6-1.6h0m7.9-.5h0m13.9 1.1h0m7.1-1.3h0m1.4 1.4h0m45.2-.2h0m5.9-1.1h0m31.1 .9h0m-206.5 4.1h0m11.4-1.8h0m7 1.8h0m2.8-1.3h0m40.7 .5h0m14.9-.1h0m2.1 .6h0m25.2-.3h0m1.8 .4h0m6.8-1.8h0m44.4 1.1h0m13.8 .8h0m18.1-1.4h0m-192.8 4.1h0m48.2-1h0m9.7 1.4h0m26.5-.2h0m6.7-2h0m20.1 2.3h0m8.2-.7h0m94.4 0h0m-202.4 2h0m3.2 .6h0m8-.2h0m57.1 .6h0m7.7 .4h0m15.1-1.1h0m49.6-.2h0m9.7 1.3h0m10.5-1.8h0m18.6 .2h0m13.7 1h0m-207.7 3.4h0m23.3-.6h0m27.4-1h0m5.6 1.2h0m11.3 .5h0m20.4-1.9h0m9.6 2.2h0m51.2-2h0m3.4 .5h0m2.8-.1h0m4.3-.2h0m4.6 .1h0m8.1 1.3h0m32.1-.3h0m6.7 .6h0m-213.2 1.1h0m44.9 1.1h0m17.1-1.2h0m10.6 .5h0m16.6 .3h0m3-.9h0m18.1 1.1h0m19.9-.5h0m14 .1h0m5.1 1.1h0m3.3-1.8h0m11.8 .3h0m26.6 0h0m15.9-.2h0m10.2 .5h0m-193.8 3h0m17-.3h0m15.9 .6h0m17.5-.5h0m31.4 .2h0m12.2-.3h0m4.7-.3h0m15.9 .2h0m20.5 .1h0m4.2 1.1h0m5 0h0m4.1-.3h0m3.8-.6h0m20.6 1h0m23.1-.5h0m-202.7 3.6h0m3.5 .1h0m8.3 .1h0m3.3-.5h0m3-.7h0m47.9-.5h0m35.7 1.4h0m21.3-1.6h0m13.9 .8h0m2.6 .3h0m4-.7h0m9.6 1.1h0m3.7-1.3h0m27.3 .8h0m7.6-1.1h0m-191.5 4.2h0m6.3 .3h0m3.8 .2h0m12.7-.1h0m3.7-.4h0m46.1 .3h0m18.2-.6h0m19.2-.1h0m23.9 .6h0m4.8-1h0m2.3 .1h0m3.7 1.4h0m4.2 .2h0m6.3-.5h0m3.3-.7h0m38.2 .5h0m-189.5 1.6h0m4.5 1.9h0m6.1-1.5h0m3.8 .7h0m6.6-1.2h0m9.2 1.3h0m24 0h0m7-.5h0m3.1 .3h0m3.5-.5h0m6.4 .5h0m45.2 .4h0m6-.4h0m3 .6h0m8.5-.2h0m2.3 .7h0m2.7-1.9h0m8.9 .4h0m2 1.6h0m6.6-1.1h0m-166.8 3.9h0m2.8-.7h0m17.7-.8h0m1.6 1h0m6.7 .3h0m3.9 .3h0m15-1.3h0m9.9 0h0m7.2 1.1h0m1.9-.9h0m4.8 .8h0m6.2-.7h0m10.1 .3h0m3.5 0h0m20.9-.6h0m16.8 1.2h0m5-1.4h0m14.6 0h0m4.2 1.3h0m12.9-1.9h0m9.4 1.1h0m-189.1 2.4h0m12 0h0m17-.6h0m17.1 2.1h0m3.6-.4h0m23.7 .5h0m5.6-1.1h0m45-.3h0m7.1 .3h0m13-.7h0m2.8 1.8h0m2.9-.4h0m3.9-1.2h0m5 .6h0m29.3-.6h0m16.7-.1h0m-189.3 2.7h0m4.7-.2h0m9.4 2h0m7.2-1.2h0m11.6 1.1h0m8.4-1.3h0m3.8 .3h0m14.2-1h0m5.7 .1h0m7.9 2.1h0m14 .1h0m6.8-.2h0m13.2-1.3h0m25.9 1.4h0m17.2-.2h0m4.7-.8h0m3.1-1.3h0m3.5 1.5h0m9.1-.6h0m18.7 .3h0m2.8 .2h0m3.5 .6h0m-196 3.1h0m3.8-1.2h0m7.2 1.1h0m6.9 .4h0m6.5-1.7h0m48 .3h0m1.2 1.3h0m18.6-1.7h0m19.7-.1h0m13.8 .7h0m5.9 .5h0m4.5-1.7h0m14.2 1.1h0m3.1-.6h0m7.2 1.8h0m2.7-1h0m6.9-1.1h0m2.9-.1h0m-189.5 3.1h0m24.6 1.4h0m2.9-1.6h0m6.5 1h0m5 .7h0m16.9 0h0m22.3-1.7h0m5.3 1.7h0m6.6-.8h0m6.6-.6h0m17.3 .1h0m12.5 .2h0m21.6 1.5h0m1.8-.1h0m52.4-.8h0m-202.5 1.8h0m9.1 .5h0m6.9 0h0m3.3 1.3h0m18.1-1.6h0m12.5 1.8h0m3.7-.9h0m10.5 .4h0m20.5-.2h0m16.2 .2h0m35-1.1h0m7.1-.2h0m1.7 .5h0m8 .6h0m3.5 .5h0m31.1-.3h0m-185.2 2.1h0m7 .8h0m10.2 .4h0m2 0h0m21 .4h0m31.6-2.3h0m6.5 1.1h0m5-.8h0m4.7 .4h0m27.1 1.1h0m36.6-.9h0m14.5 .9h0m9.1-1.1h0m18 .4h0m3.7-.3h0m10.6 .7h0m-196.2 1.6h0m66.7 .7h0m12.3-.7h0m3.1 1h0m13.3-.7h0m6.2 0h0m6 1.7h0m57.9-1.5h0m24.3-.1h0m6.2-.6h0m-201.7 4.9h0m6.8 .2h0m2.9-1.9h0m32 1.6h0m17.1-.9h0m30.3 .4h0m22.9-.4h0m3.1 .1h0m51.4 0h0m5 .9h0m-173.7 2.9h0m17.4-1.4h0m20 1.3h0m14.3-.9h0m12.9 .1h0m17.5-.1h0m6.6-.3h0m68.3 .9h0m48.9-.2h0m1.8-1.1h0m-195.8 4.5h0m4.6-.3h0m9.1 .4h0m21.3 .5h0m3.7-2.2h0m21 1.9h0m5.5-1.3h0m3.4 .3h0m7 .8h0m4.3-1.6h0m32.7-.2h0m10.9 2.1h0m3.2-.4h0m13.1 .6h0m24.1-.1h0m26.5-.8h0m-209 1.9h0m5 1.4h0m3.3-1.4h0m15.8 .6h0m21.2 .9h0m3.1-.6h0m28.2 .6h0m1.5 .2h0m4.4-1.7h0m9.8 .8h0m4.9-1h0m8.1 .3h0m4.7-.2h0m64.2 1.1h0m-167.9 2.8h0m2.9 .9h0m3.3-1.4h0m13.4 .6h0m17.7-1h0m7.6 2h0m20.1-1.6h0m25.5-.2h0m8 .2h0m4.2 .5h0m4.6 .7h0m19.1-.7h0m3.1 .2h0m40.4 .7h0m33.2-1.1h0m-204.9 2h0m6.2 1.4h0m84.1-.7h0m3.5 .6h0m17.5 .7h0m27.4-1.5h0m8 .3h0m30.5 .9h0m6.9-1.5h0m5.1-.2h0m23.9 1.6h0m-177.2 2.4h0m46.4 1h0m3.3-.8h0m4.7-.7h0m5.4 .9h0m78-1.3h0m4.2 .4h0m-175.1 4.8h0m10-.8h0m69.1-1.2h0m7 .6h0m56-.8h0m7.1 1.6h0m14.4 .2h0m9.1-.9h0m18.6-1h0m9.8 1h0m-197.9 2.7h0m2 0h0m31.4-.4h0m16.2 1h0m27.8-.7h0m40.6-.7h0m31.4 1.9h0m12.3-1.5h0m7.5 1.3h0m15.6-1h0m17.7-.4h0m-174.1 4h0m6.8-.9h0m6.3-.3h0m30.6 1h0m23.9-.9h0m63.8 .2h0m3.1 .4h0m4.9 .2h0m5.2 .7h0m11.4-.9h0m6.4-.2h0m9.3 1.2h0m7.6 0h0" />
<path fill="none" stroke="#26a088" stroke-width="3.2" stroke-linecap="round" d="M4.4 1.9h0m48.9-1.1h0m129.6 1.8h0m17.9-.4h0m10.7 .3h0m3.2-1.7h0m6.7 1.5h0m-107.4 2.1h0m7.6 .3h0m9.3-1h0m24.2 0h0m16.4 .6h0m6.2-.6h0m18.8 1h0m3 .4h0m3.8-.2h0m1.8-1.2h0m-199 4.3h0m7.3-1.4h0m8 1.4h0m22.2-1.4h0m8.1 1.5h0m6.4 .7h0m39.4-1.2h0m15.2 .3h0m10.8-.3h0m9.4-.5h0m16.5-.4h0m38.4 .2h0m13.4 1.4h0m9.7-.9h0m-198.1 3.2h0m46.3 .4h0m3.1 .5h0m22.2-1.3h0m97.1-.1h0m28-.6h0m6.4 2.2h0m-209.5 1.4h0m21.2 1.3h0m8.7-1.7h0m20.7 .2h0m18 .7h0m9.4-.7h0m30.8 .7h0m20.5-.5h0m35.1 .8h0m2.1-.7h0m4.7-.2h0m-169.4 2.6h0m14.4 .9h0m24.1 .4h0m3-1.5h0m7.3 .7h0m11.8 .4h0m17.1 .6h0m13.5-1.7h0m12.1 .3h0m63.5 2h0m-175.4 .7h0m15.2 1h0m11.7 1.2h0m18.6-2h0m13.8 .9h0m32.9-1h0m19.6 .4h0m23.8 .7h0m10.4 .7h0m21.7-1.4h0m2.9 .6h0m13.1-.7h0m3.8 1h0m10.9 .3h0m-179.4 2.7h0m6.4-1.4h0m17.7 2h0m58.3-1.5h0m12-.4h0m4.7-.1h0m13.2 .4h0m3.3-.3h0m10.4-.1h0m65 1.8h0m-164.9 1.2h0m26.8 .2h0m30.7 .2h0m7.4 .8h0m3.7 .2h0m33.6 .4h0m20.2-1.8h0m3.2 .3h0m4 1.1h0m15.6 .3h0m17.1-1.3h0m8.1 .4h0m-180.5 3.3h0m3.6 .1h0m5.2 .4h0m23.7-1.2h0m50.7 0h0m6.1 1.6h0m24.4-2.3h0m20.7 1h0m3.1-.5h0m-151.6 3.4h0m3.4 .8h0m44.6 .5h0m3.9-2.1h0m2.9 2.2h0m2.3-1.1h0m31 .8h0m14.5-.2h0m25.6-.6h0m4 .1h0m7.4 .3h0m-131.2 1.5h0m26.4 .3h0m20.8 1.2h0m63.9-.2h0m35.7-.9h0m4-.4h0m27.1 1.2h0m9.6-1.2h0m-192 3.3h0m3.5 1.2h0m9.3-.1h0m11.2-.1h0m12.2-1.2h0m32.2 1.6h0m3.1-.7h0m8.4 0h0m11.3-.9h0m71.6-.2h0m15.8 .7h0m3.5 .8h0m10.5-.5h0m-181 2h0m17.1 2.2h0m40.5-.5h0m9.8-.1h0m21.6-1.1h0m9.3 .6h0m55 .4h0m22.5 .3h0m8.1-1.1h0m-210.8 4.4h0m12-2.1h0m24 .8h0m22.5-.9h0m30 .7h0m17.3 .3h0m20.1-1h0m42.5 1.1h0m32.3-.1h0m8.3 .3h0m-193.6 3.9h0m25-1.1h0m7.7-.8h0m9.2 1.7h0m11-1.8h0m2.1 .1h0m24 .5h0m24.8-.8h0m2.2 .4h0m34.3 1.7h0m24.7-2h0m8.2 2h0m7-.5h0m4.3 .4h0m-201.4 2h0m3.5-.1h0m1.6-1.1h0m10.4 1.6h0m21.8-.1h0m16.2-1.2h0m16.5 .8h0m57.8-.5h0m-121.2 4.2h0m10.2-.8h0m21.9-.9h0m9.1 1.2h0m11.6-1.2h0m5.3 1.1h0m36 .5h0m50.9-1h0m12.6 1.7h0m33-.1h0m14-.2h0m-209.8 1.8h0m59 .8h0m18.2-.9h0m4.7 .1h0m11.9 .8h0m43.5 .2h0m17.5 .2h0m13.5-2.1h0m6.4 1.4h0m-177.5 3.4h0m28.4-1.4h0m15 1.8h0m18.9-.4h0m11.4-.4h0m21.1-1.1h0m44.5 1.1h0m18.7 .2h0m17.3-1h0m4.7 .9h0m2.1-.6h0m-153.1 4h0m56.6-.6h0m14 0h0m40.2-1.1h0m20.4 1h0m24 .6h0m-155.6 2h0m35.5 1h0m13.3-1.8h0m9.2 .6h0m38.6-.2h0m5.3-.5h0m25 1.9h0m6.3-1.8h0m3.6 2.1h0m3.8-.9h0m17.4 .3h0m13-1.1h0m6 1.4h0m-195.2 2.8h0m12.8-.6h0m8-1.1h0m7.6 1.6h0m39 .3h0m25.2-1.2h0m47.7-.5h0m5.2 1.6h0m4.5-.9h0m7.1 .9h0m17.5-.5h0m-94 3.3h0m14.4-.1h0m23.2-.3h0m67.8 .5h0m6.1-.3h0m-207.9 3.7h0m12.4-1.9h0m10.2 .5h0m9.7-.4h0m13.4 .6h0m28.1 .5h0m8-1.3h0m10.3 .2h0m5.9 .9h0m26.3 .6h0m11.3-1.3h0m58.2 .4h0m10.4-.3h0m9.8 0h0m-210.8 4.1h0m10.2-.7h0m3.8-.9h0m6.5 .1h0m24.8 .5h0m3 1h0m4.9 .1h0m3.1 .3h0m6.5-2.1h0m3 .7h0m20.4-.4h0m14.2 .8h0m49.9 .8h0m38.6-1.6h0m7 .9h0m-187.1 1.8h0m20.4 1.6h0m14.9-1.2h0m3.7 .9h0m9.2-.9h0m4.6-.3h0m6 1.3h0m7.7-.5h0m3 .7h0m9.6-.2h0m2.5-1.1h0m14.9-.2h0m27.3 1.5h0m5.1-1.6h0m32.5 1.4h0m28.6-1.3h0m-186.5 4.7h0m9-.5h0m4.7-.1h0m18.7 .8h0m6.9-.9h0m2.8 .1h0m8.8 .5h0m2.5 .1h0m2.7 .2h0m10.3-1.5h0m23.4 0h0m12.3 .2h0m2.4-.6h0m3.6-.4h0m29.9 1.6h0m3.8-.5h0m46.5 .2h0m14.7-.3h0m-219.7 3.1h0m16.8 .2h0m4.2-.3h0m27.7-.4h0m12.5 1.2h0m4.3-.7h0m4-1h0m30.4 .9h0m15.1 .2h0m41-.3h0m15.3 0h0m32.8-.2h0m4.8 .4h0m1.9-.7h0m2.7-.2h0m-210.7 4.1h0m12.6-.1h0m11.1-1.2h0m27.3 .2h0m44 .3h0m44.1-.6h0m7.6 .7h0m2-.4h0m34.1 1.3h0m34.2 0h0m-218.9 1.5h0m111.6 .4h0m16.2 1.6h0m28.4-1.2h0m5.4 1h0m6.9-1.8h0m4.7 .5h0m2.9 .4h0m9.7-.2h0m6.7 1h0m-191.3 3h0m63.9-.3h0m3.5 .2h0m14.4-.3h0m13.2-.2h0m33.9 .6h0m8.2-1.2h0m11.4-.4h0m-142.9 3.8h0m10.4 .1h0m6.4 .2h0m23.1-.6h0m2.8-.6h0m14.5 .5h0m23 .4h0m41.2-1h0m8.1 .5h0m8.7 .5h0m42.1 .5h0m3.3 .2h0m2.7 .2h0m11.2-1.6h0m-183.7 3.9h0m115.5-.2h0m4.1-.1h0m21.5-.2h0m22.7 .4h0m4.4-.2h0m8.5 .9h0m15.5-1.8h0m1.5 1.8h0m-210.8 2.5h0m62.9-1h0m15.1 .7h0m5.3-.1h0m20.5 .6h0m28.8-.4h0m42.8-.6h0m12.2 .1h0m-138.5 2.2h0m3.5 2.2h0m10.8-1.9h0m2.3 .3h0m16.8-.5h0m8.1 1.7h0m23-1.2h0m17.8 1.2h0m59.7-.6h0m3.1 0h0m17.3-.9h0m-161.4 3h0m10.8-.2h0m8.9 .3h0m7.3-.4h0m4.1 1.7h0m20.9 .4h0m42.8-1.3h0m30.2 .7h0m24.4-.3h0m-191.3 3.9h0m30.4-1.1h0m20.7 1h0m2.3-.8h0m8.2-.3h0m32.4 .4h0m4.7-1.2h0m23.2 1h0m13.9-.8h0m44.6 1.3h0m6.5-1.7h0m2.3 .8h0m13.9-.6h0m-214.8 3.9h0m26.5 1.1h0m2.8-1.1h0m48.1 .3h0m42.2 .5h0m1.9-.3h0m4.4-.2h0m78-1h0m-196.7 3.4h0m17.8-.4h0m55.2 1.6h0m5.9-.8h0m5.8-.8h0m24.1-.2h0m48.3 1.8h0m3-1.3h0m4 .4h0m3.4 .8h0m2.5-1.6h0m8.3 1.8h0m12.1-2.1h0m14.1 .7h0m-195.3 4.5h0m12.9-.3h0m28.9-1.1h0m50.1-.3h0m13.7 1.3h0m39.8-1.9h0m5.4 .3h0m17 .7h0m2.2-.5h0m9.8 .4h0m7.5-1h0m-196.7 4h0m3.6 .9h0m3.3-.2h0m11.8-1.6h0m22.5 1.9h0m30.7-1.6h0m27.5 1.9h0m26.8-.3h0m14.3-1.9h0m9.1 .2h0m27.5 .7h0m15-.5h0m3.4 .5h0m2.9-.5h0m2.1-.2h0m7.6 1.7h0m-196.3 1.9h0m25.7-.4h0m22.7 .3h0m41 1.4h0m9.8-.1h0m27.3-1.3h0m21.1-.1h0m20.6 .3h0m2.4 .6h0m7.4 .6h0m17.4-1.2h0m-200.6 4.2h0m58.3-2.2h0m4.6 2.3h0m3.5-1.2h0m25.9 .1h0m4-1.1h0m41.7 .2h0m12.6 .8h0m3.6-1h0m31.5 .8h0m-192.7 3.4h0m64.5-1.4h0m13.2 2.2h0m54.8-1.4h0m3.3-.1h0m7 1.2h0m3.1-.7h0m13.2-1.1h0m11.7 .8h0m10.2 1h0m25.2-.7h0m7.4-1.1h0m-218.8 3.1h0m37.5 .6h0m3.5 .7h0m9.3-1.5h0m38.1 .5h0m37.4 1.4h0m2.1-.4h0m7.7-.3h0m4.3 0h0m19.6-1.1h0m4.4 .6h0m2.4 .3h0m33 .7h0m8.8 .4h0m-204 2.8h0m24.5-2h0m22.9 1.3h0m23.7 .2h0m4.2 0h0m3.5 .3h0m4.6-.6h0m6.3 .2h0m41.4-.4h0m22.1-.6h0m7.4-.4h0m16.2 2.1h0m11.1-.4h0m10.6-1.2h0m10.3 1.5h0m-137.8 2h0m29.2 .3h0m21.3 .6h0m14-1.1h0m36.5 0h0m31.2 1.3h0m-198.2 1.3h0m6.3 1.3h0m29.7-.1h0m23.9-1.1h0m3.4 0h0m8.1 1.1h0m22.2-1.1h0m24.9 .6h0m10.2 .1h0m67.8 1h0m10.1 0h0m-204.5 .8h0m2.4 1.3h0m20.7 .7h0m6.7 .2h0m17.2-1.9h0m13.1 1.7h0m15.8-.2h0m13.7-1.4h0m12.1-.2h0m2.7 1.8h0m40.4-.4h0m21.6 .5h0m15.1-.4h0m4.7 .4h0m-111.3 2.8h0m13.6-.4h0m68.3-1.2h0m30.1 .7h0m-190.9 3.7h0m9-1.7h0m7.6 .4h0m34.2-.4h0m19.7 2.1h0m13-1.7h0m17.1 0h0m30.6-.3h0m8.5 .8h0m6.2-.3h0m13.7 .8h0m30 .2h0m6.4-1.2h0m11 .5h0m-215.7 4.1h0m12.3-1h0m14.2 .7h0m31.9-.2h0m84.7-1.5h0m25.4 1.7h0m22.6-1h0m1.8 .7h0m10.4-.2h0m11.1-.2h0m-212.6 3.5h0m10.8 0h0m12.6-.5h0m29.6 .9h0m35.9-2.1h0m8.7 0h0m27.9 2.2h0m3.4-.9h0m16.3-.6h0m54.6 .5h0m-194.7 2.6h0m13-.7h0m33.3 1.3h0m39.1-.4h0m39.7-.1h0m13.9-.5h0m6.4-.2h0m25.2 1.6h0m15.8-.7h0m24.1-.3h0m-187.9 3.4h0m13.4-1.3h0m6.8 0h0m26 .4h0m16.6 .1h0m58.7 1h0m56.8-1.5h0" />
<path fill="none" stroke="#05030c" stroke-width="3.2" stroke-linecap="round" d="M6.9 1.4h0m3.5 1h0m17.6-1.4h0m3.2-.2h0m1.9 1.9h0m25.2-1.2h0m3 1.1h0m10.7-1.8h0m1.9 1.8h0m11-.3h0m6.4-1.3h0m38.1 1.8h0m-109.6 2.8h0m63.8 .2h0m7.4-.2h0m-61.2 .9h0m23.4 1.6h0m11.7-1.4h0m44.4 .4h0m9 .4h0m18.5-1h0m19.7 2h0m16.5 .3h0m10.3-.6h0m22.9-.4h0m-187 3h0m6 .8h0m21.5-1.1h0m2.3 .5h0m28.2-1.3h0m28.7 .2h0m42.8 .7h0m22.2 .3h0m-103.5 1.5h0m24.3 1.6h0m52.2 .3h0m46.4-.8h0m17.7 .3h0m-202.1 1.7h0m60.3 .4h0m11.5 .8h0m13.3-.5h0m43.6 .9h0m30.6-1h0m25.8 1.3h0m-168.2 1.6h0m54.8 .9h0m25.3 .6h0m96.9-1.8h0m-113.6 4.3h0m6.4-1.1h0m14.8 .5h0m31.3-.8h0m23.6 1.1h0m3.3-.7h0m2.1 .3h0m23.7-.4h0m28.4 .5h0m-207.3 2.7h0m34.7-.6h0m17.7 .7h0m2.3-.4h0m69.3 .6h0m59.6-.5h0m-195 3.5h0m61.8-1.2h0m77.6 0h0m33.7 1.4h0m7.2-1.2h0m-141 5h0m7.6-.4h0m2.2 0h0m10.2-1.5h0m44.9 .8h0m23.7-.4h0m4 .8h0m14.1-1.4h0m10.4 .7h0m23.5 .6h0m5.3 .2h0m17.7-.8h0m9.7 1.5h0m-174.1 1.4h0m30.3-.8h0m25.8 1.6h0m28-1.1h0m25.2 .2h0m16.4 .4h0m2.1 .3h0m5.4-1.4h0m-141.6 3.3h0m3.2-.1h0m7-.1h0m91.3 1.4h0m5.6-1.1h0m4 1.6h0m6.7-1.6h0m73 1.2h0m-209.8 3.6h0m15.9-.7h0m3.8 .2h0m7-.2h0m3.7-1.4h0m5.6 1.2h0m28-.4h0m72.3 .1h0m22.5 1.1h0m13.5-2h0m8 1h0m14.3 .9h0m-188.6 1.8h0m9.4-.6h0m33.5 .6h0m29.8 1.4h0m18.2-1.5h0m64.3-.3h0m-154.6 2.8h0m20.3 .8h0m19.8 .4h0m32-1.4h0m20 1.8h0m74.1 .4h0m-154.1 2h0m15.7-1h0m75.6 .5h0m-103.6 3.1h0m50.7 .3h0m95.9-.5h0m27.6 .9h0m8.5-.8h0m-188.8 2.9h0m6.8 .2h0m3.5 .1h0m34.2 .7h0m18.9 .1h0m35.2-1.3h0m68.5 .6h0m9.9-.4h0m-176.4 4.2h0m5.1-1.3h0m7 1h0m60.4-1.8h0m10.6 1.3h0m11.9-1.1h0m28.9 2h0m14.6-.5h0m39.7-1.4h0m3.2 1.3h0m25.5-.6h0m-199.3 3.2h0m3 .6h0m85.9-.4h0m93.3-1.5h0m-176.5 4.5h0m39.4-1.1h0m20.8 .6h0m11.4-.9h0m53.2 .9h0m4.6-.2h0m31.8 1.3h0m-113.5 3.1h0m7.2-1.9h0m17.9 .3h0m6.3 0h0m10.5 .2h0m17.2-.6h0m54.6 1.4h0m-162.6 1.6h0m26.7 1.9h0m17.3-1.5h0m18.4 1.6h0m25.4-.6h0m5.3-1.2h0m2.2 .7h0m37.4 1h0m6.7-1.6h0m16.1-.1h0m17.1 1.1h0m-146.8 3.1h0m37.5-1.2h0m35 .9h0m84.1-1.2h0m-179.1 4.6h0m4.5-1.8h0m50.3 .2h0m33.6 1.2h0m23.1-1.3h0m32.9 .6h0m43.6-.3h0m-215.9 3.8h0m117.4 .8h0m20.3-1.7h0m10.9 .9h0m3.4-.8h0m-49.4 3.2h0m95.3-.6h0m4.3 0h0m-174.7 5h0m93.2 0h0m41.8-2.2h0m3 .8h0m18.3 .4h0m13.8 .9h0m-192.7 1.7h0m78.2-.5h0m23.9 .7h0m2.7 0h0m24.8 .5h0m27-1h0m13.4 .8h0m37-.4h0m-201.8 2.7h0m7.3 1.4h0m5.1-.4h0m45.1 .1h0m12.7-.7h0m28-.5h0m39.9 .5h0m17.3-.3h0m13.1 .5h0m21.4 .4h0m7.3-1h0m-182.3 4.5h0m27-1.9h0m9.8 .5h0m15.2-.8h0m1.6 .3h0m47.1 1.8h0m20.6-2.1h0m15.1 1h0m40.3 .6h0m7.4-1h0m-135.4 4.4h0m44.1-1.5h0m32.1 .7h0m23.5 .7h0m22.9-1.3h0m-144.6 2.8h0m14.8 1.7h0m12.8-1.6h0m17.7-.2h0m15.7 1.5h0m34 0h0m10.2-.6h0m14 .1h0m3.5-1.2h0m-126.4 3.1h0m3.1 .6h0m133 .8h0m21.7-1.7h0m5.5 1.2h0m-206.9 2.4h0m21.3 0h0m34.4 1.1h0m12.9-1.3h0m114.7 0h0m-149.9 3.4h0m33.1 1.2h0m48.2-.5h0m88.5-.7h0m-189.5 2.2h0m31.2 .4h0m2.4 .5h0m60.5-.5h0m7.4 .1h0m20.5 .3h0m40.4-.1h0m-158 3.3h0m39.1-1.2h0m50.8 .2h0m23.7-.2h0m5.3 .8h0m7 .7h0m32.4 .5h0m26.5-.7h0m-188.9 2h0m88.6 1.1h0m4.1-.2h0m10.1-.2h0m20.1-.4h0m40.5-.4h0m5.2 .2h0m-186.7 4.3h0m1.6-1.7h0m24.8 1.4h0m17.1-1.4h0m36.3 .2h0m7.4-.1h0m6 1.9h0m51.3-1.6h0m10.8 1.8h0m4.1-.8h0m33.7-1.2h0m7.1 1.4h0m19.6-.1h0m-214.5 2.6h0m66 .5h0m5.1-1.6h0m51.2 .7h0m-122.5 2.2h0m8.3 .7h0m10.1 1.2h0m10.1-1.5h0m12.8 .4h0m65.9 1h0m19.6 .1h0m26-.4h0m17.4-1.3h0m4.7-.3h0m-148.2 3.6h0m61.4 1h0m18.9-.5h0m28.6 1.1h0m64.2-1.2h0m6.3-.4h0m-212.3 2.8h0m18 .9h0m24-1.4h0m70 1.7h0m13.6 .5h0m6.6-1.6h0m30.1-.2h0m22.2 .4h0m19 .6h0m3.9-1.1h0m-202.4 5h0m4.4-1.6h0m15.2-.8h0m63.3 1.8h0m12.2-.7h0m15-.5h0m-86.5 2.7h0m28.4 1.6h0m35.8-.6h0m11.8-.1h0m8 .6h0m30.5-1.4h0m13.8 1.3h0m40.9 .1h0m-179.6 2h0m10.3 .6h0m14.9-.7h0m13.1-.1h0m37.7-.5h0m23.1 2.2h0m88.4-2.2h0m-155.1 3.7h0m51.1-.8h0m-1.6 5h0m24.7-1h0m16 1h0m26.6-1.3h0m4.5 .8h0m35.1-1.5h0m-206.9 3.6h0m3.8 .1h0m13.3 1.3h0m2.8-1.7h0m5.2 1.8h0m53.7-.4h0m6.9-.2h0m6 .6h0m27.4-1.7h0m27.8 0h0m3.2 .3h0m12.3 0h0m17.4-.4h0m13.9 1.6h0m-150.6 1.5h0m5.3 1.5h0m7.5-1.7h0m13.6 1h0m4-.1h0m29.9-.9h0m2.9 .1h0m31.4 1.2h0m53.4 0h0m20.7-1.1h0m-207.1 4.2h0m15.8-1.5h0m17.2 .9h0m43.9 .1h0m3.8-.7h0m51 1h0m13.4-1h0m36.2 1.2h0m-116.1 3.3h0m11.1-.2h0m58-1.1h0m1.6-.1h0m13.7 1.3h0m32-.4h0m19-1h0m-189.1 2.4h0m34.4 .9h0m21.4 1.1h0m70.1-.4h0m27.4-.6h0m18.4 .7h0m13.4-1.5h0m9.8 1.8h0m-196.1 3.1h0m2.8 0h0m41-1.3h0m64.6 .6h0m15.1-.3h0m16.7-.5h0m34.8-.7h0" />
<path fill="none" stroke="#04020a" stroke-width="3.8" stroke-linecap="round" d="M38.5 0.6h0m2.6 1.4h0m116 .2h0m2.7-.3h0m2.6-.3h0m4.2 1.1h0m19.6-.6h0m3.1 .4h0m3.4-.2h0m4.2-1.3h0m-161.2 3.1h0m3.5 0h0m120-.3h0m3.4 1.4h0m2.2-.4h0m2.8-1.1h0m20.7 0h0m3.2 .3h0m-156.8 4h0m1.6-.7h0m4.1-.3h0m113 1.6h0m5.9-2.2h0m7.7 1.8h0m24.4-.5h0m2.6-.6h0m-159.4 4.4h0m4.4-.7h0m3 .7h0m79.4-.1h0m2.4-1.5h0m4.4 1.4h0m23.6 .4h0m2.8-.3h0m3.4-1.5h0m4.3 .5h0m1.7 1.1h0m24.7-1.2h0m4.4 1.3h0m-153.1 .8h0m3.8 2.2h0m75.4-1.2h0m7-.6h0m2.6 .4h0m23.3-.4h0m5-.3h0m2.2 .8h0m5.1 1.4h0m-132.2 .9h0m3.1 1.8h0m3.3-1.9h0m3.5 .5h0m74.5 1.5h0m3.3-1.1h0m5.2-.4h0m2.3 1.3h0m4.5-.8h0m23.6 .4h0m1.5 .1h0m4.6 .1h0m-130.6 2.6h0m3.3-.8h0m2.4 .7h0m81.1-1h0m4.9 1.2h0m4.3-1h0m1.8-.3h0m2.7 .4h0m24.3 1.5h0m3 0h0m-152.7 1.6h0m1.4 .8h0m25.2 .4h0m2.6-.4h0m4.4 .7h0m57.3 0h0m22.8 .1h0m5.5-2.1h0m2-.2h0m-124.2 4.9h0m4.3-1.1h0m3.3 .9h0m22.9 .2h0m3.7-1.4h0m53.3-.6h0m5.8 2h0m22.5-1.8h0m2.6 .6h0m3.2 .9h0m-119 3.3h0m4-.6h0m3.3 .2h0m71.4 .5h0m3.4-1.6h0m3 .4h0m2.1 1.1h0m3.1 0h0m96.1-.4h0m-182.5 2.7h0m3.2-1h0m72.1 .2h0m3.9 1h0m2.4 .1h0m4.3-1.4h0m95.3 .8h0m3.3 0h0m-192.9 3.6h0m5-.7h0m3.4-.3h0m3.2 .3h0m67.2-.6h0m4 .7h0m6.8 .9h0m2.8-1.9h0m65 .6h0m27.1-.3h0m3.3 .6h0m3.1 1.1h0m3.2-1.1h0m-195.5 2.8h0m11 .9h0m67.3 .5h0m4-1.5h0m2.3 1.3h0m5.2-.5h0m65.9 .3h0m4.8 0h0m24.5 .1h0m5-.6h0m-188.8 3.3h0m6.5-1.3h0m76.4 .8h0m3 .9h0m3.1-2.1h0m60.8 2h0m7.4-1.5h0m2.7 1.1h0m2.9-.5h0m-163.3 2.2h0m2.4 .4h0m77.9-.7h0m4 1.1h0m65.2-.2h0m2.5 .5h0m3.7-1.4h0m3.2 .3h0m2.9 1.6h0m4.7-.3h0m-18.8 2h0m2.6-.6h0m4.6 1h0m3.3 1.1h0m3.6-1.2h0m-16.5 2.7h0m2.6-.2h0m3.8-.3h0m3 1.9h0m3.5-2.1h0m5.5 .4h0m-41.2 3h0m3.6 .2h0m8.6 1.3h0m9-1h0m3 .7h0m4.2-.2h0m2.8 0h0m-113.6 1.7h0m3.4 .4h0m4.4 .4h0m2.6-.9h0m70.2 .3h0m4.5 .1h0m2.4 .7h0m5.4 .4h0m-93.5 3.7h0m2-1.1h0m3 .7h0m72.2 .4h0m2.8-2.1h0m3.7 .3h0m2.8 0h0m5.4-.4h0m-124.3 4.7h0m34.2-1.8h0m1.8 .3h0m4.5 .1h0m70.6 1.4h0m3-1.7h0m3.9-.2h0m2.4 0h0m86.5 0h0m2.6 1.5h0m-214.7 3.7h0m1.8-1.1h0m3.4-.2h0m4.7 1.2h0m1.9-1h0m27.5-.8h0m3.9 .8h0m163.7 .9h0m7.4-1.7h0m2.6-.2h0m-218.3 3.8h0m2.6 0h0m2.2 .8h0m5.6-1.6h0m1.6 .6h0m194.8 1.1h0m2.7-1.7h0m4.9-.2h0m1.4 .2h0m-216 5.1h0m4.2-.5h0m4.1-1.6h0m1.6 .4h0m177.1 1.1h0m23.8-.7h0m4.5 .6h0m-212.7 3.3h0m2.7-.4h0m3.8-.4h0m174.3-.8h0m2 1.4h0m3.8-.7h0m-16 3.9h0m5-1.5h0m6.4 1.4h0m4.5-.4h0m-12.3 3.4h0m2.1-.2h0m3.5-.1h0m3.1-.2h0m-14.4 3.8h0m2.5-.5h0m3.5 0h0m3.2-.9h0m-139.9 3.6h0m2.1-.5h0m-5.2 3.9h0m3.8-1.4h0m7.2 .9h0m-14.2 2.4h0m2.9 .2h0m2.7-.1h0m3.8 .5h0m57.4-.8h0m3.8 .9h0m-72.4 2.1h0m2.1-.1h0m3.9-.4h0m2.9 .9h0m4.4-.4h0m54.6 1.4h0m3.7-1h0m2.2 0h0m-93.3 2.5h0m16.1 .3h0m4.2 .6h0m3.6-1.2h0m3.7 0h0m3.3 1.8h0m63.7-1.7h0m113.6 1.3h0m-216.6 1.9h0m4.2 .4h0m2.4-.7h0m2.9-.3h0m4.4 1.5h0m10.1 .4h0m3.4-.3h0m3.7 .6h0m2.5-.9h0m3.6-.7h0m57.6-.1h0m4.6-.6h0m1.4 2.2h0m-100 1.4h0m4.4-.5h0m3.7 1.1h0m2.1 0h0m18.1-.1h0m2.8 .7h0m62.5-.7h0m1.8 .3h0m116.5 .8h0m-215.7 2.8h0m6.8-1.8h0m3.6 1.4h0m3.6 .3h0m81.5-1.7h0m3.2 .9h0m3.8 .3h0m114.2 .4h0m-214.6 2.5h0m1.4 .2h0m5.3-.3h0m3.3-.3h0m83.1 .7h0m4.9-1.7h0m116.4-.1h0m3.4 .7h0m-220.8 2.6h0m2.8-.2h0m3.3 1.8h0m90.2 .4h0m121.8-1h0m-216.4 2h0m2.7-.2h0m65.6 .9h0m26.4 0h0m5.4 .3h0m116.9-.7h0m-153.1 3.9h0m2.7 .2h0m2.9 0h0m24.3 0h0m7.4 .3h0m112.5 .2h0m1.5 0h0m-151.1 1.8h0m3.4-.8h0m29.2 1.8h0m1.3-1.7h0m34.2 1.7h0m83.2 .2h0m-155.4 1.1h0m3.3 .9h0m4.5 0h0m25-.3h0m5.4 .3h0m2.2-1.1h0m115.3 .4h0m-158.7 4.1h0m4.5 .4h0m10.2-1.9h0m27.8 1h0m114.5 .1h0m-187.2 3.7h0m4.9-.6h0m25.9 .6h0m1.4-1.3h0m6.6-.8h0m32.2 1.1h0m116-.1h0m3.4 .4h0m-189.8 2.3h0m2.5 .5h0m28.7 .5h0m4.1-.6h0m1.4-.1h0m122.5 .9h0m28.3-.6h0m-190 3.2h0m5.6-.7h0m2.6 .8h0m23.9 .2h0m2.1 .4h0m4.8-1.9h0m2.9 1.8h0m2.1-1.5h0m117.4 .1h0m27.2 .6h0m2.1 .3h0m-217.9 1.4h0m2.4 1.9h0m31-1h0m2.8-1h0m24.2 .2h0m3.3 1.3h0m5.9-.8h0m116 1h0m5.1-.5h0m26.6 .4h0m2.8 .5h0m-218 1.3h0m30 1.1h0m29 .6h0m4.5-.8h0m3.2-.7h0m119.7-.2h0m30.7-.2h0m-219.6 3.1h0m2.1-.4h0m28.8 0h0m30.3 1.3h0m2.2 .9h0m4.9-1.7h0m87.1 1.2h0m32.3 .3h0m2.6-1.5h0m-159.2 3.9h0m31.5 .8h0m2.9-1.1h0m85.2 .9h0m4.3-1.8h0m27.5 0h0m3.4 .5h0m3.2 1.5h0m-158.1 2.6h0m3 .1h0m27.6-1.6h0m1.9 1.5h0m4.5-1.8h0m57.6 .3h0m4.2 1.5h0m22.8-1.4h0m-121.6 3.8h0m31.1-.7h0m4.1-.7h0m53.9 .6h0m3.5 .6h0m3.6-.1h0m3.3-.5h0m-99.1 4.4h0m2.8-.1h0m27.6-1.2h0m2.8 .4h0m50.3-.3h0m2.9-.6h0m4.4 .4h0m2.9 1.6h0m3.4-.6h0m-99.7 3.5h0m2.9-.4h0m4.9-1.6h0m27.1 .5h0m40.5 .7h0m6.5-.7h0m3.5 .4h0m3.5 1.1h0m3.6-1.6h0m2.8 .3h0m-96.4 2.9h0m6.9-.5h0m1.6-.3h0m65.9 2.2h0m2.9 .1h0m4.5-.8h0m2.2-.7h0m3.8-.5h0m2.6 1.1h0m3.3 0h0m3.3-1.2h0m-100.6 3.6h0m8.1 .7h0m64.3-.2h0m2.4-1.1h0m5.1 .5h0" />
<path fill="none" stroke="#3838cc" stroke-width="3.2" stroke-linecap="round" d="M45.1 2.5h0m1.7-.4h0m4.6-.4h0m27.4 .3h0m3.6 .8h0m12.3-.2h0m17.7-1.7h0m20.2 1.2h0m6.8-.2h0m13.1 0h0m23.6 .5h0m28.1-.2h0m-201.8 1.5h0m9.1 1.9h0m38.2-1.5h0m7.2 1.7h0m4.8-.8h0m10.7-.8h0m29 .6h0m23.1-.6h0m4.2-.1h0m13.1 1.6h0m3.9-1.9h0m65.7 .7h0m-211.9 2.9h0m17.6 .1h0m6.6 .8h0m22.8-.8h0m44.4 1.2h0m12.3-1h0m21.6-1.1h0m15.2 2.1h0m3.1-.4h0m18.9-1h0m42.5 .6h0m-203.5 3.1h0m7-1.3h0m14.3 .3h0m30.2 .1h0m47.3 .3h0m10-.5h0m25.1-.1h0m10.6 .5h0m23.8-.3h0m6.6 .8h0m9.1 .4h0m10.2-.1h0m3.6-.4h0m-187.4 3.5h0m18.3-.5h0m3.2-1.1h0m21.8 .5h0m26.9 .2h0m5.8 .1h0m12.2 .1h0m1.7 .3h0m9.9 0h0m34.8-.3h0m20.8-.4h0m43.2 .7h0m8.3-.4h0m2.1 .1h0m-207.6 2.7h0m40 .6h0m43.5-1.3h0m11.7 .6h0m5.6 .6h0m25.1 .1h0m2.2-.5h0m9.8-.1h0m27.8-.2h0m6.4 .2h0m4.9 1h0m6.6-1.2h0m2.3 .3h0m6.8-.6h0m14.5 1h0m-209.6 1.8h0m5.6 1.6h0m3.2-1.5h0m22.3 1.3h0m6.4-1.6h0m2.8 1.7h0m9.6-.4h0m12.3-.6h0m8.8 .2h0m6.8-.9h0m7 1.6h0m3-.1h0m16.6-.6h0m27.6 1.3h0m20.5-1.3h0m9.7 .6h0m7.5-1.3h0m9.5 1.8h0m27.3-2h0m4.2 2.2h0m-218.4 .9h0m13.4 1.6h0m5-1h0m7.2 .7h0m17.9-1.4h0m6.7 .3h0m4.1-.2h0m2.7 1.5h0m23-1.7h0m59.5 1.5h0m6.8-1.2h0m8.7 1.2h0m23.5-.3h0m22.1 .1h0m-175.1 2.2h0m26.1 1.2h0m7.8-.4h0m12.3 .9h0m4.5-.8h0m3.6 .2h0m2.4-.9h0m21.2 0h0m9.1 .9h0m37.6-.7h0m3.3 .5h0m48.2 0h0m-176 2.2h0m4.6 1.6h0m44.5-.9h0m35.7-1.3h0m8.1 1h0m8.9-.9h0m8.4-.1h0m16.9 1.9h0m22.4-2h0m7.3 1.4h0m18.3-.5h0m5.7 .6h0m4.4 .6h0m-206.1 1.8h0m10.1 .7h0m19.6 .5h0m21.8-.6h0m61.1 .7h0m15.3-.3h0m34.3-.6h0m13.7-.5h0m16.8 .8h0m-182.5 1.5h0m7.1 1.1h0m10.2 .6h0m27.1-1.8h0m3.4 1.3h0m8.4-1h0m26.6-.1h0m5.6 1.5h0m8.2-1.5h0m13.9 1.1h0m2.9-.6h0m3.8 1.6h0m1.8-2.3h0m7.1 .4h0m6.5 .2h0m4.4 0h0m55.1 .6h0m-196.8 4h0m4.6-1.5h0m3.9 .7h0m22.3-.7h0m10.2 .4h0m44.4 .7h0m10.3-1.4h0m2.6 .3h0m8.3-.1h0m3.9 1.3h0m2.6 .3h0m19.1-.7h0m7.8-1.2h0m17.7 .7h0m7.4-.4h0m16.8 .6h0m17.1-.8h0m-189.4 4.6h0m3-.5h0m36.6 .7h0m17.7-1.1h0m19.8 .9h0m14-1.7h0m4.1 .7h0m26.2 .1h0m10.9 .3h0m40 .6h0m21.6-1.9h0m-209.4 3.4h0m7.1 .1h0m22.6 1.3h0m4-.9h0m14-.7h0m11 .3h0m9.4-.2h0m3.7 1.4h0m22.9-.1h0m3.6-1.3h0m24.8-.1h0m39.4-.1h0m13.9-.1h0m17.5 1.1h0m-188 2.8h0m8.7-.6h0m24.5-.3h0m7.7-.3h0m18.2 .7h0m11.7-.1h0m10.5 1.4h0m3.6 .2h0m22.4 0h0m4.5-2h0m76.7 1h0m10.5-.5h0m-207.9 2.9h0m13.3 .5h0m2.4 .9h0m7.8-2h0m41.3 1.6h0m5.8-.2h0m44.7-.8h0m6.5-.6h0m2.5 .1h0m44.3 .5h0m4.8 .9h0m16.2-.7h0m-161.8 4h0m20.7-.1h0m31.8-.6h0m12.3 .1h0m20.7-.7h0m3-.1h0m41.9-.4h0m36.7 .8h0m10.2 1.4h0m-201.3 1.1h0m23.6 .2h0m22 .2h0m19.1-.8h0m9 .6h0m13.1 .1h0m3.4 1.2h0m6.7 0h0m32.2 .4h0m50.3 0h0m22.6-.6h0m4.4-1.4h0m6.9 1.9h0m-161.8 2.2h0m6.1-1.3h0m7.9 2.2h0m19.3-1.1h0m56.4-.3h0m4.9 1.2h0m15.5 0h0m2.7-.4h0m29.8-.4h0m11.6 .4h0m-211 1.4h0m14.6 0h0m12.7 1.6h0m7.7 .4h0m16.1-1.7h0m4.7 1.4h0m6 0h0m20.1-1.1h0m4.7 1h0m22.3-1.3h0m3.3 .6h0m34.4 .9h0m33.4-.1h0m28-1.4h0m-191.6 3.5h0m4.2-.8h0m33.3 .4h0m23.2-.1h0m9.3 .2h0m15-.2h0m9-.1h0m6.8 .2h0m7 .8h0m31.9-.9h0m20.2 1.7h0m3.5-1.4h0m13.3 1.1h0m2.5-.7h0m-171.3 2h0m7.7 .3h0m16.8 1.4h0m2.6-.3h0m10.9-.9h0m3.2-.6h0m34.3 .5h0m19-.6h0m7.1 .2h0m8.2 .1h0m39.9-.2h0m23.3 1h0m4.1 .8h0m-180.9 2.6h0m12.5-1.7h0m13.5 1.6h0m15-.1h0m1.7 .9h0m40.7-.2h0m17.3-.3h0m5-1.4h0m16.7-.4h0m5.3 .2h0m17.9 .2h0m17.3 0h0m5.9-.3h0m4.8 0h0m9.8 0h0m12.6 1.2h0m-202.1 3.6h0m41.9-1.6h0m44.3-.3h0m2 1.3h0m14-.4h0m26.2 .8h0m11-.5h0m7.6-1h0m12.2 1.3h0m3.9 .4h0m17.2-.8h0m3.3-.3h0m9.5 .1h0m-202.2 2.3h0m37 1.2h0m41.7-1.2h0m13.7-.2h0m10.2 .6h0m10.4 .1h0m3.6 .4h0m3.8 .6h0m5-1.4h0m14 1.4h0m35.5-.5h0m11.7 .6h0m13.7-1.4h0m4.3 .8h0m-209.4 3.1h0m4.9-1.2h0m20.1 .2h0m3.1-.3h0m9.8 1.3h0m2.4-1.4h0m10.9 .4h0m14 1.2h0m33.5-.5h0m14.7-.9h0m5.7 .6h0m85.9-.5h0m3.4-.1h0m2.1 2h0m6.4-.8h0m-208.6 3.5h0m8.3-.1h0m19.4-1.2h0m3.2 1h0m21.1-1.6h0m17.1 .9h0m7.4 .1h0m1.8-1.1h0m4.5 1.7h0m19-.8h0m21-.3h0m26.9-.1h0m3.3 1.3h0m31.7-.3h0m19.2-.5h0m-207.9 2.7h0m26.2 1.5h0m2.8 0h0m41.3 .1h0m24.1-.6h0m6.8-.2h0m9.7-.1h0m31.3-.8h0m28.3 1.6h0m16.4-2.1h0m6.5 2.1h0m19.3-.3h0m-153.5 3h0m4.2-.4h0m5-.1h0m102.2 .2h0m15.1 0h0m13.1-.8h0m4 .9h0m6.8-1.2h0m-213.4 3.8h0m16.5-1.4h0m6.3 1.5h0m4.2-.1h0m48.7 .6h0m10.3-.4h0m4.7-1.1h0m21.8 1.5h0m20.6-1.3h0m3.2 .2h0m3.7 .4h0m2.2 0h0m14.8 .7h0m23.3-.1h0m13.8-.7h0m16.7-.4h0m-201.3 3.6h0m36.1 0h0m11.3 .8h0m55.7-2h0m3.9 1.5h0m14.3-1.3h0m5.9 1.1h0m25.7 .7h0m6.6-.3h0m2.3-.2h0m5.9 .6h0m4.6-.7h0m10.5-.1h0m-186.5 1.7h0m10.4 1.3h0m75.7-.3h0m27.1-.1h0m10.9 .5h0m36.7-.8h0m10.5-.2h0m-122 2.9h0m27.3 1.2h0m32.6 0h0m3.2-.4h0m5.1-.9h0m40.5 .9h0m10.6-1.4h0m-178.2 4.1h0m27.1 0h0m28.7 .6h0m5.2 .3h0m30.2-.1h0m3.8 .1h0m55.5-1.5h0m2.4 .1h0m4.9-.4h0m8.7 1.8h0m27.2-.1h0m-153.9 1.9h0m6.3 .1h0m17.5 .8h0m13.5 0h0m4.1-.9h0m9.8-.2h0m16 1.5h0m6.7-1.5h0m11.8-.4h0m19.2 .1h0m21 1.8h0m3.5-2.1h0m9.4-.1h0m4 .3h0m30.2 .1h0m-213.4 3.5h0m20.7-.8h0m10.1 1.9h0m3.5-2.1h0m16.5 1.7h0m8.2-1.2h0m19.4-.1h0m10.1 .3h0m8.6 1.1h0m15.2-1.4h0m12-.1h0m1.3 1.1h0m7.6-.7h0m7.8-.4h0m2.1-.1h0m3.4 .7h0m25.3 0h0m15.9 .9h0m6.7-1.3h0m8.2 1.7h0m-187.1 1h0m7.4 .1h0m9.3 .3h0m52.9 1.7h0m19.6-.4h0m33.3 .2h0m21.2-1h0m12.9 1h0m25.4-1.6h0m-185.9 3.3h0m2.3 1h0m20.2 .2h0m11.6-.1h0m8.9 .4h0m38.8-1.6h0m40.2 .4h0m6.8-.8h0m16.5 .6h0m2.8 0h0m4.5 1.2h0m10.4-1.5h0m3.5 .3h0m10.1 1.2h0m22.8-1h0m-198.5 3.6h0m11 0h0m6.3-.5h0m6.3 .5h0m3.9 .4h0m3.7-.3h0m46.8-1h0m10-.2h0m13.3 1h0m11.5 .3h0m6.2-.1h0m13.8-1.1h0m-135.3 3.9h0m4.4-1.7h0m24.3 .9h0m37.7 .3h0m40.7 0h0m3 .9h0m24.4-1.4h0m-141 4.3h0m36.2-1.3h0m7.2 .9h0m36.2-1.4h0m5.6 1.8h0m26.2-.7h0m7.1-.6h0m3.1-.4h0m41.1 0h0m10 .7h0m19.2 .4h0m18.5-1h0m-213.8 4.4h0m11.3-1.2h0m7.5 1.4h0m37.2-.1h0m15.6-.4h0m6.7 .7h0m10.8-.6h0m5.7-1.3h0m11.6 .7h0m33.5 .4h0m4.6 .3h0m20.2-.3h0m7 .2h0m13.1-1.7h0m23.2 .6h0m2.7 1.4h0m11 .2h0m-216.4 2.7h0m4.1 .2h0m17.7-.7h0m23.1 0h0m35 .8h0m5.4 0h0m6.8-1.1h0m30.5-1.1h0m35.3-.1h0m16.2 .1h0m-165.4 3.2h0m14.6 1.5h0m9.8-.2h0m20.1-.4h0m19.6-.3h0m18.8 1.4h0m10.4-1.3h0m3.2 .4h0m6-.5h0m12.8 .8h0m44.5-1.5h0m-153.8 4.7h0m2.4 .1h0m27.4-1.2h0m28.6 .2h0m3-.1h0m64.5 .2h0m2.5-.6h0m27.4 .5h0m9.1 .7h0m14.7-1.3h0m-186.1 3.4h0m28-.7h0m4 .4h0m30.7 .1h0m26.4 1.2h0m17.2-1.6h0m10.5 .2h0m16.2 1h0m18.3-.6h0m36.1 .9h0m-195.1 2.1h0m30.6-.1h0m4.6-.4h0m9.6 .7h0m29.5-.7h0m4.4 1.2h0m3.3-.3h0m57.1-.9h0m7.7 1.3h0m3.2 .2h0m6.6-1.5h0m23.3 1.7h0m10.6-.1h0m-189.7 2h0m32.8 .4h0m77.3-1.3h0m10 2h0m22.5-.1h0m5 .1h0m10.8 0h0m3.3-.3h0m6.3-1.4h0m2.6 .9h0m17.5-.7h0m6.7 .9h0m19.8 0h0m-200.5 3.2h0m3-1.5h0m6.9 .4h0m25.7-.3h0m13.4 .7h0m18.1 1.2h0m48.1-1.6h0m10-.2h0m45.9-.4h0m11.6 1.7h0m-164.9 3.2h0m2.1-1.6h0m41 0h0m15.1 .8h0m16.6-.4h0m29.8-.7h0m13.9 1.4h0m2.5 0h0m7.2 .2h0m6.9-.1h0m13.7-1.3h0m5 1.5h0m11.5-.6h0m5.4-.1h0m8.6 .3h0m-216 3h0m20.1 .3h0m7-1.3h0m25.5 .3h0m22.9-.5h0m6.5 1.2h0m3.9-1.3h0m2.8 1h0m45.5 .2h0m26.4-.4h0m9.6 .8h0m4.3-.8h0m27.8 1.1h0m-193.4 1.6h0m37.7 .7h0m19.7-.1h0m2.9 .6h0m4.8-.4h0m23.8-.5h0m46.3-.8h0m6.9 .6h0m24.9 .4h0m22.6-.1h0m7.5 .3h0m-190.9 1.7h0m22.3 1.8h0m27.5-.9h0m9.9 .7h0m22.2-.6h0m47.4-.8h0m20.3 1.8h0m3.3-2.2h0m9.6 .4h0m9.3-.4h0m8.4 1h0m16.9 .4h0m2.8-.3h0m2.3 1.1h0m-153.6 1h0m2.8 1h0m13.1-1.3h0m3.9 1h0m15.2 1.2h0m50.3-1.5h0m34.5 1.4h0m5.8-1.6h0m-134.3 2.6h0m13.7 .5h0m2.7-.3h0m13.1 .1h0m3.9 1.1h0m27.1-1.3h0m10.5 1.9h0m7.3-.8h0m10.2 .5h0m2.2-.8h0m15.7-.2h0m5.3 0h0m23.5 .5h0m7.7-1h0m7.6 .8h0m8.9 .4h0" />
<path fill="none" stroke="#e84060" stroke-width="1.8" stroke-linecap="round" d="M99.6 1.4h0m-56.1 2.7h0m131.2 .3h0m-100.9 5.4h0m56 .3h0m-24.2 3.6h0m3.9 .8h0m-29.2 2.8h0m-12 1.6h0m-56.1 4.3h0m61.6-.1h0m102-.8h0m-17.9 5.1h0m-123.5 16.5h0m15.5-.8h0m92.6 .4h0m53.4 3h0m-141.3 2.2h0m125.6 1.4h0m-18.8 7.5h0m44.5 1.5h0m-128.1 2h0m128.5 .7h0m-114 6.1h0m101-1.2h0m-24.1 11.8h0m-22.2 2.7h0m-72.7 2.9h0m-26.9 6.2h0m-42.1 2.8h0m140 .7h0m-87.6 3.6h0m125.4-1.2h0m-113.8 4h0m-25.5 1.2h0m86.9 4.4h0m-83.1 2h0m143.6 1.1h0m-73.9 2.5h0m-70.2 5.9h0m8.6 5.5h0m128.8 5.7h0m7.6 .5h0m-143.9 3h0m-24 6.2h0m-8 3.4h0m7-1.7h0m76.4 .7h0m-72.6 2.8h0m187.7-.6h0m-170.6 12.3h0m50.7 7.4h0m-27.5 1.5h0m45.7 .7h0" />
<path fill="none" stroke="#f4eef4" stroke-width="2" stroke-linecap="round" d="M120.2 1.9h0m48.7 .6h0m-143.9 3h0m34.3-.7h0m16.1 2h0m13.9 .5h0m27.2 1.3h0m53.7-.1h0m6-.2h0m4.9 .1h0m-100.7 1.2h0m33.8 1.7h0m-65.6 2.2h0m16.6 1.1h0m148.9-1.7h0m-212.5 3.8h0m147.2 .4h0m60.2-.2h0m6.5-1.3h0m-105.9 2.7h0m40.4 2h0m-45.4 2.1h0m68.3 .9h0m27.1-1.2h0m-200.9 3.8h0m89.5 0h0m132.3 .5h0m-206.3 1.4h0m45.5-.4h0m135.1 .1h0m-114.4 3.1h0m86.7 1.3h0m-134.3 2.5h0m54.5-1.3h0m95 1.3h0m-118.1 3.2h0m-17.6 1.8h0m22.1 1h0m106-.2h0m2.3-.7h0m4 1.8h0m4.9 2.5h0m-11.5 2.1h0m3.3-.9h0m14.9 1h0m-110.3 3.3h0m9.4-.8h0m105.9 1.7h0m3.3-1.3h0m6.4 1h0m-145.8 2.2h0m31.4-1.2h0m-55.3 4.1h0m136.5-.9h0m30.3 .7h0m-171.3 2h0m103.5 4.1h0m-112.2 6.3h0m36.4-1.6h0m17.5 .5h0m15.9 .3h0m54.6 1.1h0m35.2-.8h0m13.4 .6h0m-138.3 1.3h0m88.9 .8h0m72.4 4.2h0m-184.6 .9h0m3.7 .9h0m23.1 1.2h0m10.2 0h0m23.5-.4h0m34.1-.3h0m21.4-.3h0m5.9 1.1h0m8-1.2h0m35.9 .5h0m-102.8 2.5h0m47.8 1.1h0m8.7-1.9h0m-110.4 3.9h0m86.2 1.1h0m14.1-.1h0m64.3-.8h0m-137.5 3.4h0m11.6-1.4h0m89.6 1.6h0m-155.6 1.8h0m18.4 0h0m23.1-.2h0m40.6 1h0m3.2-.2h0m23.7-.6h0m3-.8h0m24.2 2.2h0m10.2-1.3h0m7.6 0h0m23.6 .2h0m-182.9 2h0m109.1 1.7h0m10.9-.8h0m78.8 0h0m-202.9 3.4h0m81-.8h0m102.3 .5h0m27.2 .6h0m-150.3 2.8h0m29.4-.5h0m6.7 .8h0m7.2-1.1h0m-87.6 3.4h0m58.2 .4h0m42.5-.6h0m57-.7h0m-150.7 3h0m34.1 1h0m13.3-.5h0m120.8-.4h0m15.7 .3h0m-64.2 2.2h0m-34.7 3h0m93 3.6h0m-152.7 3.4h0m159.7 1h0m-214.5 1.5h0m55.1 1.2h0m-51.2 2.6h0m123.6 .6h0m19.8-1.2h0m-117.1 4.2h0m129-1.4h0m-25.4 2.8h0m21.1-.2h0m-110.2 2.5h0m74.3 .4h0m50.7-.3h0m38.5 .9h0m-110.8 2.3h0m3.6 0h0m19.2 .6h0m24.3-.2h0m13-.1h0m-146.8 2.7h0m121.1 0h0m45.2 .3h0m-70.7 4.3h0m-97.2 2.2h0m41.4 1h0m129.3-2.2h0m-168.4 2.8h0m78.1 .4h0m88.2 1h0m-132.3 5h0m27.3 .8h0m38.2 3.4h0m-59.7 1.8h0m56.1-.5h0m4 1.5h0m97.1-1h0m7.3 .2h0m-25.4 3.4h0m-161.3 1.9h0m16.5 2h0m91.6-1.1h0m65.4 1.2h0m3.9 0h0m-206.7 1.1h0m10.1 .4h0m154-.4h0m16.5 1h0" />
<ellipse cx="135" cy="47" rx="9" ry="12" fill="#020108" opacity="0.85" filter="url(#bl3)"/>
<ellipse cx="142" cy="95" rx="7" ry="14" fill="#020108" opacity="0.8" filter="url(#bl3)"/>
<ellipse cx="60" cy="40" rx="8" ry="6" fill="#020108" opacity="0.55" filter="url(#bl3)"/>
<ellipse cx="30" cy="130" rx="10" ry="8" fill="#020108" opacity="0.45" filter="url(#bl3)"/>
<ellipse cx="205" cy="40" rx="12" ry="30" fill="#2a2aa0" opacity="0.45" filter="url(#bl3)"/>
</g>
</svg>
<text x="8.3" y="10.5" font-size="8.2" font-weight="bold" fill="#fff">MF21</text>
</g>
<rect x="245.8" y="794.6" width="27" height="2.2" fill="#fff" />
<rect x="565.3" y="794.6" width="27" height="2.2" fill="#fff" />
<rect x="245.3" y="986.1" width="30.5" height="2.4" fill="#fff" />
<rect x="564.8" y="986.1" width="30.5" height="2.4" fill="#fff" />
<rect x="286.3" y="647" width="41.9" height="30.6" fill="#070c58" />
<rect x="286.3" y="647" width="41.9" height="30.6" filter="url(#sf20)"/>
<text x="287.9" y="655.8" font-size="7" fill="#2a5cf0">DAPI</text>
<rect x="286.3" y="679.85" width="41.9" height="30.6" fill="#063434" />
<rect x="286.3" y="679.85" width="41.9" height="30.6" filter="url(#sf21)"/>
<text x="287.9" y="688.65" font-size="7" fill="#2a9a6a">CD4</text>
<rect x="286.3" y="712.7" width="41.9" height="30.6" fill="#070207" />
<rect x="286.3" y="712.7" width="41.9" height="30.6" filter="url(#sf22)"/>
<text x="287.9" y="721.5" font-size="7" fill="#c214c8">Granzyme A</text>
<rect x="286.3" y="745.55" width="41.9" height="30.6" fill="#120902" />
<rect x="286.3" y="745.55" width="41.9" height="30.6" filter="url(#sf23)"/>
<text x="287.9" y="754.35" font-size="7" fill="#e08222">CD163</text>
<rect x="286.3" y="778.4" width="41.9" height="30.6" fill="#0d0d02" />
<rect x="286.3" y="778.4" width="41.9" height="30.6" filter="url(#sf24)"/>
<text x="287.9" y="787.2" font-size="7" fill="#d0cc22">CD8</text>
<rect x="605.9" y="647" width="41.9" height="30.6" fill="#070c58" />
<rect x="605.9" y="647" width="41.9" height="30.6" filter="url(#sf25)"/>
<text x="607.5" y="655.8" font-size="7" fill="#2a5cf0">DAPI</text>
<rect x="605.9" y="679.85" width="41.9" height="30.6" fill="#063434" />
<rect x="605.9" y="679.85" width="41.9" height="30.6" filter="url(#sf26)"/>
<text x="607.5" y="688.65" font-size="7" fill="#2a9a6a">CD4</text>
<rect x="605.9" y="712.7" width="41.9" height="30.6" fill="#070207" />
<rect x="605.9" y="712.7" width="41.9" height="30.6" filter="url(#sf27)"/>
<text x="607.5" y="721.5" font-size="7" fill="#c214c8">Granzyme A</text>
<rect x="605.9" y="745.55" width="41.9" height="30.6" fill="#120902" />
<rect x="605.9" y="745.55" width="41.9" height="30.6" filter="url(#sf28)"/>
<text x="607.5" y="754.35" font-size="7" fill="#e08222">CD163</text>
<rect x="605.9" y="778.4" width="41.9" height="30.6" fill="#0d0d02" />
<rect x="605.9" y="778.4" width="41.9" height="30.6" filter="url(#sf29)"/>
<text x="607.5" y="787.2" font-size="7" fill="#d0cc22">CD8</text>
<rect x="286.3" y="833.8" width="41.9" height="30.8" fill="#070c5e" />
<rect x="286.3" y="833.8" width="41.9" height="30.8" filter="url(#sf30)"/>
<text x="287.9" y="842.6" font-size="7" fill="#2a5cf0">DAPI</text>
<rect x="286.3" y="866.85" width="41.9" height="30.8" fill="#031803" />
<rect x="286.3" y="866.85" width="41.9" height="30.8" filter="url(#sf31)"/>
<text x="287.9" y="875.65" font-size="7" fill="#22dd22">TOX</text>
<rect x="286.3" y="899.9" width="41.9" height="30.8" fill="#0a020c" />
<rect x="286.3" y="899.9" width="41.9" height="30.8" filter="url(#sf32)"/>
<text x="287.9" y="908.7" font-size="7" fill="#e020e0">CD20</text>
<rect x="286.3" y="932.95" width="41.9" height="30.8" fill="#080808" />
<rect x="286.3" y="932.95" width="41.9" height="30.8" filter="url(#sf33)"/>
<text x="287.9" y="941.75" font-size="7" fill="#f0f0f0">FOXP3</text>
<rect x="286.3" y="966" width="41.9" height="30.8" fill="#100202" />
<rect x="286.3" y="966" width="41.9" height="30.8" filter="url(#sf34)"/>
<text x="287.9" y="974.8" font-size="7" fill="#e01818">LAG3</text>
<rect x="605.9" y="833.8" width="41.9" height="30.8" fill="#070c5e" />
<rect x="605.9" y="833.8" width="41.9" height="30.8" filter="url(#sf35)"/>
<text x="607.5" y="842.6" font-size="7" fill="#2a5cf0">DAPI</text>
<rect x="605.9" y="866.85" width="41.9" height="30.8" fill="#031803" />
<rect x="605.9" y="866.85" width="41.9" height="30.8" filter="url(#sf36)"/>
<text x="607.5" y="875.65" font-size="7" fill="#22dd22">TOX</text>
<rect x="605.9" y="899.9" width="41.9" height="30.8" fill="#0a020c" />
<rect x="605.9" y="899.9" width="41.9" height="30.8" filter="url(#sf37)"/>
<text x="607.5" y="908.7" font-size="7" fill="#e020e0">CD20</text>
<rect x="605.9" y="932.95" width="41.9" height="30.8" fill="#080808" />
<rect x="605.9" y="932.95" width="41.9" height="30.8" filter="url(#sf38)"/>
<text x="607.5" y="941.75" font-size="7" fill="#f0f0f0">FOXP3</text>
<rect x="605.9" y="966" width="41.9" height="30.8" fill="#100202" />
<rect x="605.9" y="966" width="41.9" height="30.8" filter="url(#sf39)"/>
<text x="607.5" y="974.8" font-size="7" fill="#e01818">LAG3</text>
</g>
</svg></body></html>
